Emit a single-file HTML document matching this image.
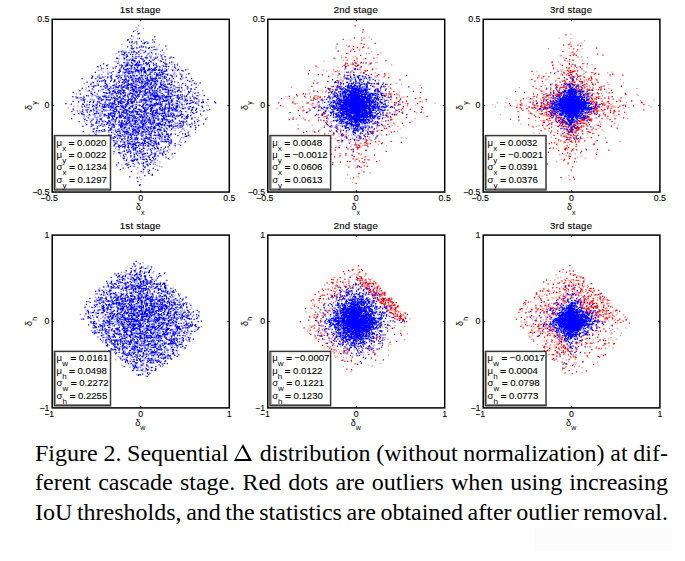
<!DOCTYPE html><html><head><meta charset="utf-8"><style>
html,body{margin:0;padding:0;background:#fff;width:685px;height:561px;overflow:hidden;position:relative}
.cap{position:absolute;left:35px;width:633px;font-family:"Liberation Serif",serif;font-size:24px;line-height:29.5px;word-spacing:-1.5px;color:#000;white-space:nowrap;text-align:justify;text-align-last:justify}
.shade{position:absolute;left:534px;top:528px;width:138px;height:23px;background:#fbfbfb}
</style></head><body>
<div class="shade"></div>
<svg width="685" height="430" viewBox="0 0 685 430" style="position:absolute;left:0;top:0" font-family='"Liberation Sans", sans-serif' fill="#000">
<path transform="scale(0.25)" stroke="#0000ff" stroke-opacity="0.45" stroke-width="5" fill="none" d="M0 0m642 388h5m-131 181h5m68 110h5m112 -292h5m-293 38h5m56 71h5m86 195h5m68 -286h5m-239 -5h5m81 202h5m38 -23h5m-43 -282h5m181 121h5m-202 41h5m156 82h5m-48 43h5m-129 -21h5m53 -344h5m251 159h5m-414 113h5m248 -126h5m-230 98h5m125 -237h5m4 -7h5m-71 296h5m200 -60h5m-122 31h5m181 -76h5m-170 131h5m-165 -99h5m37 183h5m-52 -168h5m11 -15h5m164 -100h5m-39 90h5m-125 -31h5m69 236h5m13 -14h5m-215 -180h5m158 23h5m-95 -37h5m140 30h5m64 -147h5m-122 231h5m-162 -83h5m353 -5h5m-39 60h5m-181 -96h5m210 33h5m99 18h5m-266 40h5m-191 -81h5m75 61h5m32 -62h5m196 -146h5m-327 142h5m-1 -7h5m-67 25h5m249 233h5m-50 -287h5m30 128h5m97 -247h5m157 170h5m-246 22h5m-5 -25h5m102 -42h5m-122 -126h5m28 374h5m-32 -277h5m-94 239h5m130 -11h5m39 -220h5m-155 121h5m-16 -121h5m103 77h5m-228 -9h5m173 -30h5m27 110h5m-170 -166h5m226 98h5m-94 3h5m-182 -177h5m148 -79h5m55 231h5m14 -35h5m-109 111h5m36 80h5m30 28h5m-57 -196h5m-58 -91h5m-24 253h5m109 -86h5m-86 82h5m263 -100h5m-160 25h5m-77 -167h5m102 96h5m-131 61h5m163 -2h5m-129 -324h5m-245 274h5m-7 -12h5m181 30h5m247 71h5m-131 -96h5m-68 -10h5m-43 -110h5m60 156h5m203 -48h5m-329 -170h5m251 136h5m-74 -28h5m-197 -138h5m-134 196h5m46 -111h5m48 210h5m60 -229h5m-58 195h5m138 180h5m-236 -253h5m182 -175h5m75 114h5m-149 257h5m-58 -44h5m301 -113h5m-265 101h5m142 -269h5m-71 347h5m-188 -109h5m102 -202h5m-74 -1h5m44 169h5m-67 65h5m92 -237h5m123 79h5m-77 -64h5m-80 322h5m-87 -391h5m224 329h5m35 -159h5m-82 -29h5m-252 114h5m249 -249h5m-58 117h5m-80 110h5m167 -41h5m58 -90h5m-407 106h5m285 76h5m-96 -230h5m-88 69h5m341 101h5m-151 -43h5m-197 -96h5m29 129h5m70 -213h5m-16 100h5m-22 -67h5m76 271h5m-162 24h5m99 -198h5m-10 248h5m37 -164h5m-79 116h5m-150 -199h5m121 63h5m10 -4h5m63 -236h5m-64 425h5m-61 -254h5m23 91h5m160 65h5m-16 -88h5m-39 85h5m-145 42h5m233 -29h5m-305 -107h5m269 -73h5m-50 153h5m-73 -140h5m-21 234h5m-214 -178h5m215 -247h5m-37 194h5m170 10h5m-145 -61h5m-146 47h5m103 5h5m-40 28h5m60 116h5m-80 48h5m241 -228h5m-216 115h5m10 138h5m-87 -241h5m-89 -25h5m215 179h5m-71 124h5m97 -210h5m-189 110h5m74 -71h5m-91 -38h5m98 -33h5m71 134h5m-12 108h5m-31 -187h5m-68 -34h5m91 132h5m-187 -43h5m77 -318h5m215 306h5m-121 11h5m-214 82h5m175 -118h5m112 -41h5m-109 -26h5m-24 82h5m57 -8h5m-121 214h5m-95 -157h5m179 -153h5m-49 3h5m-110 256h5m128 -412h5m-268 170h5m144 -40h5m35 115h5m13 107h5m-21 -323h5m69 62h5m-122 137h5m60 -15h5m20 53h5m-59 -342h5m-72 260h5m46 -39h5m-54 -24h5m22 49h5m133 145h5m5 -158h5m-89 -33h5m-50 70h5m-37 -40h5m318 94h5m-350 69h5m128 -262h5m77 -34h5m-186 315h5m-25 -58h5m180 -31h5m-232 17h5m-140 -103h5m227 -63h5m-117 54h5m-95 47h5m281 94h5m-244 -85h5m243 209h5m-226 -305h5m132 -55h5m-25 153h5m48 -274h5m-26 276h5m40 -75h5m28 57h5m-216 -35h5m54 180h5m-42 -1h5m147 -169h5m-95 133h5m-218 -140h5m285 85h5m-162 -48h5m87 -104h5m7 -157h5m19 344h5m81 -59h5m-75 107h5m17 -222h5m-22 179h5m-96 -248h5m215 151h5m-124 135h5m-75 -218h5m270 106h5m-330 -80h5m-76 -7h5m-17 43h5m98 168h5m63 -218h5m147 -83h5m-111 252h5m139 21h5m-229 -66h5m-134 -8h5m266 -46h5m45 -7h5m-98 -28h5m37 -14h5m-131 -32h5m-95 240h5m-90 -37h5m198 -355h5m82 126h5m-227 67h5m59 20h5m29 159h5m-151 -131h5m63 53h5m318 -109h5m-366 28h5m-74 63h5m175 2h5m132 -76h5m-134 -7h5m48 202h5m110 -163h5m-308 61h5m59 94h5m-178 -135h5m255 3h5m-80 -65h5m38 -143h5m-170 227h5m290 -124h5m-41 141h5m-59 239h5m-11 -10h5m120 -334h5m-54 96h5m-179 -201h5m62 -112h5m-32 218h5m65 -13h5m-120 208h5m-36 -150h5m63 -136h5m219 216h5m-64 21h5m-91 -348h5m-3 514h5m-20 -30h5m84 -234h5m-36 225h5m80 -235h5m-49 -57h5m-146 154h5m41 -312h5m40 131h5m-102 168h5m-56 -108h5m28 -4h5m50 168h5m-133 -165h5m79 81h5m31 9h5m-38 -147h5m182 52h5m-192 -130h5m131 231h5m-10 -92h5m-63 135h5m-90 18h5m274 -116h5m-135 -91h5m-213 75h5m209 -1h5m-37 184h5m8 -397h5m-54 424h5m-33 -116h5m80 -63h5m60 -98h5m-104 196h5m-150 -95h5m129 39h5m-120 -82h5m91 -158h5m63 250h5m-122 -225h5m75 291h5m42 -344h5m129 192h5m-67 -21h5m-142 -92h5m45 -119h5m-107 25h5m8 -87h5m6 418h5m44 -156h5m78 18h5m-145 165h5m-102 -75h5m183 -267h5m-18 246h5m-176 -11h5m-44 -122h5m145 48h5m176 50h5m-212 -78h5m118 117h5m-173 -139h5m-13 90h5m-29 -74h5m104 20h5m1 188h5m58 -264h5m-91 192h5m219 -70h5m-287 20h5m30 -136h5m41 198h5m-12 -195h5m-131 134h5m0 -70h5m-60 102h5m-2 -103h5m190 123h5m93 -189h5m54 52h5m-398 48h5m345 50h5m-144 -94h5m-85 210h5m78 -98h5m-34 -187h5m96 9h5m-50 36h5m-115 -116h5m-29 124h5m95 -141h5m-97 180h5m29 -38h5m73 173h5m-189 -45h5m50 77h5m149 -262h5m-283 123h5m354 19h5m-196 -72h5m-8 270h5m35 -242h5m282 39h5m-280 87h5m-102 -79h5m92 97h5m-67 -14h5m127 112h5m-82 -277h5m-11 4h5m-61 -27h5m-122 19h5m155 251h5m73 -173h5m-188 109h5m179 62h5m-90 -344h5m156 119h5m-296 21h5m196 108h5m77 6h5m-197 -27h5m137 -42h5m-134 -105h5m-16 183h5m-27 -108h5m254 185h5m-146 -6h5m72 -266h5m-173 135h5m225 62h5m-90 -124h5m10 -55h5m-39 242h5m-68 -253h5m29 -50h5m221 143h5m-494 43h5m221 -116h5m66 20h5m53 56h5m-303 124h5m340 -33h5m33 -50h5m-95 -94h5m-80 11h5m-242 78h5m117 24h5m171 124h5m107 -216h5m-166 -60h5m82 195h5m-217 -46h5m178 -72h5m-184 67h5m-132 15h5m20 -39h5m249 39h5m-75 -129h5m-3 -12h5m155 -23h5m-137 86h5m-62 -18h5m81 170h5m-98 -187h5m181 17h5m-262 99h5m51 -34h5m141 39h5m-67 -85h5m-15 132h5m14 -104h5m175 -87h5m-407 127h5m246 20h5m77 -120h5m-127 65h5m68 -29h5m-263 38h5m62 170h5m207 -230h5m-164 139h5m107 -204h5m-167 169h5m46 -146h5m-80 -124h5m221 123h5m-66 -45h5m-263 14h5m149 -37h5m69 357h5m-38 -277h5m-91 118h5m-76 3h5m158 -228h5m52 54h5m-50 352h5m-189 -223h5m95 170h5m12 62h5m152 -252h5m83 103h5m-47 55h5m-224 20h5m146 -234h5m-210 4h5m169 59h5m-161 161h5m131 -201h5m-70 217h5m155 -194h5m-141 209h5m-160 -143h5m295 -73h5m-205 9h5m-53 -55h5m108 -28h5m162 92h5m-241 13h5m130 -36h5m-161 138h5m-81 -126h5m180 121h5m-125 -218h5m-92 83h5m114 52h5m-88 3h5m-53 -18h5m234 -119h5m-85 8h5m1 197h5m126 64h5m-293 -55h5m387 -111h5m-251 -170h5m57 212h5m-78 -192h5m-21 215h5m41 135h5m-57 -312h5m202 -1h5m-128 3h5m20 194h5m-104 -46h5m93 213h5m-37 -148h5m-88 -204h5m83 374h5m-72 -191h5m97 -155h5m13 234h5m-8 93h5m-63 -309h5m-95 23h5m101 -82h5m-155 84h5m161 26h5m-109 165h5m-126 -38h5m164 131h5m72 -285h5m2 250h5m-181 -165h5m-101 -93h5m307 -10h5m-168 156h5m45 -318h5m-22 339h5m274 -86h5m-223 42h5m29 53h5m-182 -89h5m225 70h5m76 -12h5m-318 -26h5m112 -11h5m-175 20h5m208 150h5m-162 -140h5m70 136h5m-43 -257h5m92 -62h5m146 99h5m-64 133h5m-24 53h5m-144 -324h5m183 185h5m-123 11h5m-251 -125h5m194 -71h5m0 -68h5m36 432h5m-25 -194h5m-63 -124h5m175 57h5m-242 72h5m89 20h5m-140 13h5m123 45h5m-11 -247h5m26 367h5m-76 -193h5m53 47h5m-157 -116h5m80 -26h5m32 202h5m-67 -30h5m-27 -21h5m278 9h5m-212 -218h5m-77 150h5m205 140h5m-223 -68h5m-134 -136h5m280 24h5m-16 -49h5m-21 -133h5m15 421h5m87 -276h5m-34 287h5m-133 -304h5m136 -22h5m104 157h5m-311 -49h5m47 107h5m105 -84h5m-186 -80h5m175 180h5m-202 -182h5m209 6h5m-8 268h5m-11 -270h5m75 183h5m-310 -80h5m318 -138h5m-17 29h5m-196 116h5m77 -288h5m-114 174h5m115 -233h5m-128 269h5m-28 152h5m-121 -129h5m260 176h5m4 -299h5m16 -41h5m-167 257h5m-20 -173h5m140 -141h5m-10 46h5m44 270h5m6 -108h5m-386 -12h5m27 -1h5m63 105h5m121 81h5m-61 -362h5m19 254h5m55 -16h5m81 18h5m-274 -201h5m268 198h5m-32 115h5m-214 -215h5m153 -53h5m51 -179h5m-229 151h5m-89 124h5m397 14h5m-144 39h5m17 -222h5m-110 190h5m-78 -21h5m138 128h5m116 -270h5m-125 209h5m-29 -39h5m-28 -168h5m60 291h5m83 -132h5m-158 -75h5m-69 56h5m55 109h5m67 -269h5m108 134h5m-117 71h5m39 -53h5m-23 14h5m36 -177h5m-187 85h5m42 77h5m19 90h5m-43 -26h5m71 63h5m62 -164h5m-21 -62h5m-33 185h5m-29 -123h5m-119 96h5m8 -117h5m41 130h5m25 164h5m18 -557h5m161 281h5m-353 127h5m224 -26h5m-6 -130h5m24 48h5m-214 19h5m251 -86h5m9 98h5m-277 30h5m-37 50h5m250 18h5m-195 -5h5m44 -132h5m-168 -44h5m354 43h5m-89 71h5m66 -54h5m-106 182h5m122 -183h5m-345 -47h5m4 118h5m99 -54h5m-93 -41h5m182 115h5m25 -37h5m39 -124h5m5 28h5m-57 -83h5m-162 23h5m-8 151h5m281 -176h5m-112 243h5m55 -118h5m-188 -68h5m59 133h5m-3 -114h5m-77 128h5m72 -41h5m-64 33h5m-208 -154h5m311 -20h5m-147 197h5m212 -4h5m-210 -2h5m26 -117h5m129 64h5m-85 -27h5m-242 89h5m245 -122h5m-159 26h5m189 -192h5m-28 44h5m-79 107h5m30 34h5m-151 -40h5m181 231h5m105 -100h5m-219 -257h5m139 241h5m-225 -6h5m51 112h5m18 -131h5m-9 177h5m39 -126h5m-45 -40h5m-127 -165h5m-75 157h5m164 -173h5m144 217h5m-298 -181h5m218 265h5m144 -196h5m-145 120h5m-35 -357h5m-81 290h5m39 57h5m80 -245h5m-1 111h5m5 28h5m-196 105h5m95 49h5m42 123h5m-87 -167h5m-112 -29h5m89 62h5m116 134h5m-239 -228h5m230 60h5m-94 -190h5m108 11h5m-32 199h5m-164 -107h5m120 -201h5m-74 227h5m3 132h5m77 -115h5m-53 -263h5m-65 307h5m163 -314h5m55 114h5m-22 153h5m-329 67h5m47 -239h5m223 115h5m108 6h5m-198 72h5m-152 -83h5m243 -29h5m-119 156h5m-229 -123h5m343 -102h5m-310 32h5m83 56h5m52 139h5m-36 -107h5m-69 -11h5m59 65h5m189 -11h5m-1 27h5m4 -115h5m-169 127h5m10 -163h5m-151 103h5m165 52h5m31 -191h5m-204 76h5m123 -72h5m-34 0h5m67 198h5m-194 -84h5m134 75h5m37 103h5m-54 -14h5m-68 -74h5m103 -182h5m125 181h5m-43 -12h5m-137 90h5m6 -276h5m45 117h5m72 20h5m-65 160h5m-13 -268h5m-160 160h5m-72 -109h5m173 7h5m19 62h5m-60 -65h5m242 8h5m-401 46h5m93 -21h5m35 -144h5m80 293h5m105 -172h5m-154 255h5m153 -239h5m-183 86h5m100 33h5m-321 -185h5m409 10h5m-123 -8h5m107 -84h5m-201 -21h5m131 10h5m-184 129h5m106 -55h5m-89 295h5m68 -156h5m-108 152h5m175 -295h5m-215 137h5m149 -256h5m-39 -10h5m-87 323h5m-64 -145h5m195 56h5m-2 29h5m-94 -268h5m1 105h5m-76 38h5m144 157h5m-63 -32h5m23 -138h5m-18 167h5m11 -100h5m-143 26h5m100 -21h5m43 104h5m-57 88h5m215 -152h5m-216 1h5m-49 209h5m-80 -303h5m243 74h5m-152 199h5m-60 -314h5m113 79h5m-137 103h5m116 -125h5m59 73h5m-165 225h5m-93 -198h5m125 -108h5m-89 213h5m-119 -46h5m78 -142h5m170 26h5m-125 -105h5m188 84h5m-56 -124h5m46 198h5m-101 15h5m-57 -71h5m-65 -132h5m14 148h5m71 62h5m-87 74h5m40 -39h5m-118 -141h5m138 -82h5m46 29h5m57 24h5m-178 186h5m-28 -129h5m72 -101h5m-4 124h5m-99 -198h5m100 203h5m-144 -89h5m108 16h5m-268 61h5m143 -177h5m76 227h5m-15 -142h5m80 -101h5m-117 288h5m109 63h5m11 -281h5m-197 131h5m28 72h5m7 -127h5m208 -82h5m-140 186h5m92 83h5m-85 -248h5m85 204h5m-111 -190h5m-54 49h5m194 -97h5m-2 249h5m-177 -8h5m71 -55h5m-203 -54h5m72 -62h5m33 127h5m88 -172h5m-156 16h5m56 -1h5m168 184h5m-83 -95h5m-63 35h5m184 25h5m-284 34h5m295 -57h5m-226 -142h5m192 154h5m-45 50h5m-273 -31h5m52 34h5m171 -25h5m31 -148h5m-95 -45h5m-95 75h5m-31 -75h5m94 42h5m-39 -101h5m31 128h5m30 195h5m-143 -97h5m90 125h5m106 -138h5m-313 49h5m202 8h5m-67 -19h5m144 -18h5m-152 73h5m108 -144h5m-184 78h5m209 -37h5m-100 -120h5m25 204h5m-268 -52h5m120 -170h5m-26 167h5m-32 49h5m126 -238h5m-81 325h5m-65 12h5m90 -4h5m-18 -154h5m33 72h5m2 -64h5m11 -207h5m-109 -8h5m148 280h5m7 -52h5m-31 73h5m-92 -99h5m218 -22h5m-33 -96h5m-262 205h5m184 -37h5m-42 -158h5m19 24h5m9 170h5m-42 -226h5m25 224h5m-176 -268h5m34 324h5m69 -86h5m-147 -133h5m165 11h5m-169 226h5m24 -203h5m86 218h5m-176 -222h5m267 -35h5m-78 249h5m-42 -218h5m90 163h5m-4 -208h5m-104 89h5m-100 55h5m295 -51h5m-183 0h5m34 -63h5m60 64h5m-113 77h5m18 -3h5m-158 -212h5m49 -135h5m-89 201h5m311 170h5m-232 -41h5m200 -114h5m-206 -219h5m76 202h5m-185 33h5m44 -13h5m149 24h5m-54 47h5m89 -89h5m-311 87h5m42 -33h5m187 144h5m-20 -46h5m-51 -157h5m164 147h5m-176 -23h5m-74 -195h5m187 100h5m-209 -163h5m26 366h5m18 -52h5m177 -89h5m-158 -6h5m-24 -26h5m37 122h5m12 -73h5m-115 -37h5m185 -1h5m-73 -47h5m69 -65h5m35 241h5m-164 -274h5m-187 125h5m216 -49h5m-11 123h5m-2 144h5m-106 -133h5m43 15h5m95 -261h5m-30 204h5m56 72h5m-40 -223h5m29 118h5m-63 -25h5m-146 131h5m-9 5h5m246 -142h5m-80 79h5m-90 112h5m-63 -34h5m-35 -133h5m69 -127h5m-189 62h5m214 265h5m-86 -342h5m45 222h5m122 -199h5m-273 155h5m115 22h5m-65 -277h5m96 46h5m-75 30h5m162 262h5m6 -58h5m-138 -233h5m-110 102h5m34 278h5m-21 -51h5m-112 -250h5m349 66h5m-205 171h5m56 -67h5m16 45h5m-5 3h5m78 -60h5m-160 3h5m-6 142h5m11 -119h5m4 -34h5m35 -91h5m25 171h5m-236 -60h5m25 -140h5m168 -12h5m31 -109h5m2 247h5m-260 -102h5m124 -27h5m85 23h5m-60 116h5m-52 -232h5m-132 182h5m184 44h5m-144 -103h5m293 9h5m-100 43h5m-224 8h5m47 -78h5m38 -93h5m44 4h5m-155 171h5m173 118h5m14 -270h5m-167 128h5m94 -21h5m-162 49h5m99 -19h5m83 -22h5m109 -29h5m-73 212h5m-146 -2h5m9 -296h5m116 93h5m-87 -28h5m120 84h5m-142 52h5m64 78h5m9 -117h5m-57 -4h5m-110 99h5m205 -292h5m-73 -37h5m50 132h5m-179 187h5m118 -209h5m-256 138h5m353 -5h5m-148 -369h5m-32 382h5m-69 -143h5m151 183h5m-131 -190h5m245 76h5m-8 -8h5m0 -104h5m-22 198h5m-200 105h5m49 -211h5m67 -116h5m-130 37h5m33 270h5m-37 -84h5m154 -8h5m-97 -287h5m-139 396h5m-61 -182h5m239 91h5m-69 -20h5m-63 -181h5m39 157h5m-16 -65h5m-12 61h5m51 -134h5m-127 -32h5m144 206h5m34 -180h5m-211 212h5m45 -242h5m105 43h5m-93 -114h5m-26 349h5m138 -180h5m-119 95h5m23 -140h5m10 62h5m78 75h5m-87 -9h5m-60 140h5m166 -119h5m-88 -40h5m-242 131h5m199 -262h5m119 -5h5m-161 52h5m159 96h5m-284 5h5m170 101h5m47 -199h5m-249 114h5m-14 -61h5m133 -111h5m-73 -51h5m180 230h5m-92 39h5m21 76h5m-199 -53h5m190 -190h5m-241 -59h5m-48 112h5m297 22h5m-155 118h5m37 24h5m39 -201h5m30 -104h5m-16 147h5m-75 -160h5m-45 37h5m-16 56h5m255 117h5m-203 19h5m-136 -75h5m146 -176h5m-44 212h5m136 157h5m-209 -216h5m333 69h5m-234 -31h5m-265 -40h5m255 78h5m48 49h5m-174 46h5m118 -122h5m-70 -288h5m-40 392h5m70 -13h5m228 -52h5m-281 -39h5m-39 27h5m-89 122h5m45 -183h5m229 -86h5m-328 86h5m37 32h5m201 67h5m1 -49h5m54 82h5m-265 -252h5m43 196h5m37 -271h5m-7 114h5m-22 102h5m-53 -56h5m109 110h5m163 -37h5m-101 204h5m29 -270h5m30 248h5m-215 -264h5m134 158h5m-114 -75h5m219 104h5m-224 22h5m131 -86h5m-107 -50h5m14 180h5m-64 -114h5m226 -26h5m-106 -84h5m-178 46h5m-132 34h5m180 167h5m83 -188h5m-46 -48h5m-198 21h5m127 52h5m25 112h5m-59 70h5m112 -277h5m-210 73h5m199 71h5m-160 -51h5m59 81h5m129 -183h5m-173 -68h5m129 107h5m-76 85h5m179 -43h5m-342 26h5m101 -47h5m-71 -119h5m52 189h5m32 138h5m8 -364h5m-36 222h5m-21 -41h5m34 53h5m181 -115h5m-63 -185h5m-95 49h5m-151 196h5m32 124h5m210 -152h5m10 -32h5m79 10h5m-105 9h5m-182 -179h5m-15 76h5m-126 62h5m111 -152h5m-22 274h5m134 -17h5m-105 -105h5m26 -77h5m-26 49h5m87 -28h5m93 177h5m82 -79h5m-212 -78h5m188 71h5m-187 117h5m-137 -203h5m109 51h5m-105 -129h5m178 83h5m-106 177h5m-8 22h5m189 -145h5m-67 -106h5m-300 195h5m111 -125h5m-28 126h5m43 -134h5m-74 143h5m47 124h5m76 -25h5m111 -85h5m-200 -135h5m113 -83h5m-260 122h5m388 -31h5m-307 -77h5m135 60h5m16 223h5m-95 -452h5m-58 94h5m99 95h5m-152 129h5m32 -134h5m200 153h5m-171 -25h5m94 -88h5m-236 208h5m167 -210h5m-69 83h5m6 100h5m108 31h5m-146 -67h5m38 -78h5m152 1h5m-98 66h5m-3 -76h5m20 253h5m-101 -217h5m-48 -98h5m-134 86h5m228 -79h5m-291 91h5m244 -222h5m6 142h5m-43 49h5m56 22h5m-203 129h5m213 -224h5m-101 235h5m122 -175h5m-128 -116h5m-77 298h5m35 -213h5m91 232h5m72 -54h5m-37 -71h5m103 -108h5m-233 85h5m144 -243h5m20 279h5m-37 118h5m-129 -224h5m98 -11h5m-66 185h5m-63 -118h5m146 123h5m-120 -287h5m160 240h5m-103 30h5m8 -61h5m-108 -232h5m15 166h5m139 -38h5m41 -36h5m-222 99h5m113 92h5m-176 -11h5m111 -307h5m166 275h5m-157 52h5m-183 -67h5m84 -147h5m138 149h5m-96 54h5m-68 95h5m156 -138h5m-121 -175h5m112 112h5m-279 102h5m262 -180h5m-89 -24h5m-41 100h5m174 159h5m-15 -174h5m-28 23h5m54 127h5m-228 -327h5m154 77h5m-24 74h5m-42 -68h5m2 -74h5m3 94h5m-161 8h5m238 165h5m-105 -150h5m-136 -22h5m54 84h5m152 12h5m-14 124h5m-233 -22h5m-87 -107h5m103 91h5m6 -105h5m51 -10h5m-216 -16h5m454 85h5m-340 -5h5m217 135h5m-198 -45h5m20 -182h5m-80 87h5m185 -267h5m68 285h5m-58 -127h5m-57 23h5m-172 88h5m266 -40h5m-203 236h5m157 -253h5m-207 -131h5m135 218h5m37 -204h5m-86 -14h5m-2 301h5m105 -155h5m-193 -242h5m218 333h5m-110 -150h5m-34 2h5m2 -35h5m-51 -11h5m0 69h5m190 136h5m-226 -28h5m-130 -152h5m293 136h5m-161 7h5m-39 26h5m-231 -78h5m383 118h5m-44 -223h5m-60 -127h5m80 179h5m-181 230h5m144 -296h5m-168 280h5m-29 9h5m133 -73h5m-105 -241h5m9 146h5m-30 36h5m50 -269h5m251 203h5m-111 61h5m49 -50h5m-93 119h5m-280 -27h5m255 109h5m-102 -32h5m-65 -152h5m67 -54h5m48 22h5m-74 -31h5m145 168h5m-48 -68h5m-93 -133h5m3 22h5m172 74h5m-247 62h5m62 19h5m-103 -81h5m114 151h5m173 -191h5m-167 -62h5m83 265h5m-154 -316h5m-5 329h5m8 -376h5m26 325h5m-13 -256h5m-28 100h5m76 -51h5m-38 261h5m64 -165h5m-46 6h5m-96 40h5m-97 -205h5m-64 172h5m29 -147h5m161 -28h5m-26 363h5m-122 -176h5m52 -269h5m10 301h5m125 -76h5m-88 -66h5m-164 31h5m229 212h5m77 -241h5m-49 174h5m-171 -154h5m-52 24h5m159 -10h5m66 106h5m-388 -128h5m331 -70h5m-103 194h5m216 -172h5m-142 -36h5m-17 95h5m29 -110h5m-170 247h5m66 -315h5m-36 342h5m164 -197h5m-122 157h5m28 -109h5m-67 135h5m-49 -10h5m-1 -103h5m281 -11h5m-257 -67h5m-166 123h5m13 -164h5m53 183h5m-152 -40h5m161 114h5m91 -214h5m33 -178h5m73 89h5m-260 114h5m-22 111h5m146 -224h5m-69 318h5m99 -189h5m-150 -33h5m207 61h5m-68 -108h5m-5 126h5m-195 70h5m386 -142h5m-239 110h5m-201 -37h5m284 -44h5m-98 138h5m252 -106h5m-469 -40h5m286 -134h5m-13 85h5m-155 232h5m-43 -260h5m69 -139h5m185 346h5m-208 78h5m55 -46h5m125 -203h5m-256 200h5m60 -199h5m0 250h5m52 -64h5m-127 -170h5m119 267h5m180 -156h5m-350 -59h5m-70 -15h5m108 26h5m57 90h5m-126 -50h5m227 29h5m-117 95h5m63 -153h5m-14 -58h5m-46 -24h5m63 171h5m-181 -78h5m123 23h5m86 -145h5m-102 51h5m10 26h5m73 18h5m-8 -32h5m3 -110h5m-168 282h5m12 9h5m91 -232h5m-36 238h5m9 -348h5m-117 100h5m127 146h5m-237 -189h5m14 -7h5m56 -23h5m95 291h5m62 70h5m-106 -38h5m29 -151h5m107 -58h5m-169 168h5m17 -100h5m245 -50h5m-355 155h5m217 -192h5m-182 261h5m216 -352h5m-125 345h5m-25 -202h5m-233 96h5m407 32h5m-202 -175h5m117 286h5m-54 -242h5m1 107h5m72 -82h5m-127 -81h5m-32 -48h5m98 173h5m-229 -12h5m382 -11h5m-89 -25h5m-135 2h5m-128 -190h5m-99 228h5m328 27h5m-169 60h5m-63 111h5m-36 -185h5m164 87h5m-146 -32h5m236 -56h5m-295 -63h5m-99 -61h5m36 70h5m124 45h5m162 -20h5m-78 -16h5m44 -53h5m-171 4h5m11 93h5m-133 -27h5m-25 -60h5m136 141h5m185 -102h5m-86 -103h5m-145 21h5m48 -77h5m9 192h5m-63 -216h5m-115 304h5m298 -130h5m-242 -2h5m117 -81h5m-244 159h5m56 17h5m178 -40h5m-22 -54h5m4 128h5m-133 -190h5m197 -127h5m-23 241h5m-26 26h5m108 1h5m-230 -112h5m8 91h5m-3 -224h5m274 234h5m-180 83h5m70 -124h5m-128 -252h5m-38 100h5m-173 99h5m304 53h5m22 -86h5m-76 243h5m-260 -135h5m207 -198h5m-62 42h5m211 241h5m-144 -76h5m-14 -136h5m31 186h5m-25 -42h5m-123 -128h5m-116 123h5m317 -53h5m-182 -35h5m188 119h5m-274 21h5m155 -189h5m46 195h5m-136 -96h5m-98 4h5m321 -5h5m-229 -322h5m-53 395h5m49 49h5m-159 -254h5m327 89h5m-122 72h5m-215 -20h5m84 -48h5m131 43h5m-84 -121h5m63 152h5m-65 -210h5m36 84h5m48 153h5m35 20h5m-183 48h5m-183 -88h5m120 64h5m87 -128h5m-167 5h5m250 -41h5m-34 281h5m-136 -306h5m125 146h5m17 -91h5m-165 77h5m279 -93h5m-311 33h5m17 114h5m-47 -60h5m228 -158h5m-126 200h5m-166 -45h5m-52 -46h5m146 1h5m232 -108h5m-192 192h5m15 -109h5m-141 25h5m94 -26h5m-98 95h5m246 8h5m-208 -49h5m113 -172h5m-90 48h5m-55 130h5m168 -137h5m-231 -25h5m140 28h5m-63 227h5m-33 -56h5m148 129h5m31 -224h5m-225 -95h5m83 172h5m45 71h5m-35 -65h5m49 99h5m25 -215h5m-99 -4h5m77 177h5m-105 -247h5m-101 54h5m245 21h5m-80 -24h5m-210 -13h5m312 101h5m-8 67h5m-309 -39h5m158 79h5m221 -129h5m-229 96h5m-172 -110h5m337 171h5m-207 -224h5m-117 58h5m201 50h5m-187 -89h5m139 -47h5m105 123h5m-169 4h5m29 98h5m-92 -204h5m42 25h5m103 126h5m-181 -110h5m-20 -81h5m97 65h5m-21 247h5m11 -80h5m-135 -126h5m258 57h5m-227 -143h5m236 197h5m-164 -65h5m89 98h5m-132 -18h5m80 -108h5m-131 -74h5m-117 80h5m107 26h5m-57 -74h5m129 40h5m-27 112h5m-77 -191h5m-129 108h5m292 135h5m-87 -458h5m145 396h5m-136 20h5m84 -104h5m-336 9h5m242 -96h5m10 1h5m-184 100h5m320 63h5m-255 -121h5m-57 47h5m30 1h5m239 -38h5m-104 -8h5m-83 269h5m184 -204h5m-171 -215h5m-102 204h5m-29 -116h5m58 -75h5m63 276h5m-138 -53h5m56 -159h5m295 75h5m-323 201h5m70 -87h5m-23 -365h5m-104 212h5m76 134h5m54 -247h5m-51 399h5m-44 -115h5m-6 -91h5m200 58h5m-109 -80h5m-44 -59h5m110 117h5m-147 -114h5m16 87h5m15 -258h5m-200 310h5m200 -297h5m22 153h5m76 -12h5m-12 115h5m-92 60h5m-11 -111h5m-45 109h5m70 -160h5m76 24h5m-145 273h5m24 -316h5m2 68h5m-23 -5h5m-1 235h5m62 -204h5m-87 40h5"/>
<path transform="scale(0.25)" stroke="#0000ff" stroke-width="5" fill="none" d="M0 0m638 348h5m-21 220h5m-51 -131h5m-41 94h5m-15 -10h5m78 -60h5m-136 -190h5m15 -8h5m-6 355h5m-3 -178h5m82 -107h5m-65 310h5m-139 -318h5m120 302h5m165 -313h5m-139 35h5m-105 18h5m287 91h5m-128 -73h5m-37 -25h5m-183 69h5m129 222h5m139 -309h5m-121 232h5m13 108h5m85 -242h5m-148 42h5m-28 131h5m54 -31h5m98 -130h5m-350 26h5m157 -53h5m-48 -10h5m12 -90h5m77 83h5m113 7h5m-54 160h5m-196 -108h5m-42 -60h5m299 67h5m-128 87h5m-30 -354h5m-14 94h5m120 -2h5m-135 192h5m-128 8h5m16 -129h5m218 -106h5m56 116h5m-215 89h5m90 -280h5m-94 241h5m150 5h5m13 -155h5m-219 10h5m133 285h5m8 -198h5m167 -46h5m-116 48h5m-62 244h5m-137 -295h5m47 242h5m-13 -17h5m-46 -240h5m-160 15h5m293 170h5m-258 -158h5m203 148h5m-237 -177h5m223 163h5m236 -37h5m-268 190h5m-33 -415h5m-110 215h5m204 -32h5m-105 -143h5m-183 78h5m70 65h5m363 48h5m-248 117h5m15 65h5m84 -240h5m-143 142h5m-106 -223h5m173 93h5m-42 -143h5m-149 206h5m132 -218h5m7 89h5m47 -88h5m-133 306h5m240 -135h5m-108 -121h5m-103 -140h5m9 327h5m-104 -68h5m-54 28h5m82 -29h5m88 -79h5m-5 19h5m-32 -141h5m-161 199h5m132 194h5m-104 -283h5m85 5h5m164 83h5m-91 -10h5m-14 155h5m-30 -129h5m-216 62h5m188 -108h5m14 -16h5m-6 -121h5m-125 341h5m131 -197h5m-132 173h5m214 -132h5m-215 -209h5m33 171h5m122 91h5m-3 86h5m-63 -317h5m53 152h5m117 -51h5m-257 -108h5m149 163h5m-150 65h5m-78 0h5m166 75h5m-147 88h5m110 -392h5m-142 370h5m175 -208h5m7 -1h5m-78 79h5m-43 -220h5m-87 49h5m125 225h5m-67 -87h5m-55 18h5m146 53h5m-236 -13h5m151 27h5m86 -278h5m-90 424h5m-141 -193h5m186 -42h5m-31 36h5m-227 -190h5m101 170h5m58 94h5m116 -106h5m29 -16h5m-344 -57h5m140 -118h5m30 112h5m-194 90h5m364 -2h5m-5 -10h5m-47 12h5m-192 118h5m146 -137h5m-66 -83h5m22 153h5m-121 17h5m114 99h5m-106 -155h5m-10 2h5m155 8h5m-231 -160h5m170 64h5m-70 -64h5m-73 33h5m109 -58h5m-1 308h5m-114 -237h5m-48 23h5m33 17h5m-17 179h5m73 -325h5m27 203h5m167 -71h5m-94 -13h5m-131 192h5m-11 -243h5m34 342h5m-153 -271h5m273 14h5m49 -1h5m-337 59h5m138 -38h5m-160 -16h5m225 -65h5m37 90h5m-33 -6h5m-152 162h5m32 -70h5m141 -172h5m-118 170h5m-41 -78h5m61 -250h5m-54 409h5m119 -138h5m-129 24h5m-131 -145h5m145 -21h5m-32 73h5m-30 -6h5m-113 99h5m0 7h5m111 11h5m-49 -58h5m-221 -48h5m374 130h5m-155 -163h5m-27 183h5m6 -215h5m213 126h5m-147 47h5m118 -122h5m-274 -24h5m169 -105h5m-83 355h5m-30 -138h5m143 -166h5m-236 33h5m171 150h5m-12 -236h5m-59 21h5m159 146h5m59 -105h5m-370 80h5m101 149h5m-19 -25h5m127 -228h5m-69 128h5m31 -181h5m-232 271h5m151 -108h5m-74 115h5m116 -114h5m-133 -19h5m158 120h5m71 -51h5m-333 37h5m121 -4h5m36 -190h5m7 64h5m70 204h5m-227 -148h5m213 19h5m77 -173h5m-85 238h5m18 -175h5m-133 198h5m9 -288h5m-74 154h5m27 -36h5m-54 40h5m110 -115h5m-49 50h5m217 100h5m-182 24h5m91 -115h5m-140 -175h5m-91 127h5m32 231h5m50 -118h5m182 16h5m-90 -85h5m-83 -36h5m59 79h5m-100 50h5m-60 -33h5m88 113h5m-2 -162h5m-35 8h5m102 -58h5m-128 143h5m147 22h5m-164 -20h5m15 -137h5m-34 -58h5m-27 40h5m15 344h5m73 -398h5m-112 100h5m150 -25h5m80 132h5m12 17h5m-249 65h5m202 -93h5m-179 92h5m28 3h5m-42 -241h5m-50 198h5m305 -75h5m-270 86h5m59 -165h5m-160 55h5m217 14h5m28 -31h5m35 174h5m-172 -110h5m93 -94h5m70 13h5m28 -30h5m-115 133h5m66 -68h5m-197 48h5m185 -68h5m-81 111h5m-28 -100h5m-202 52h5m27 -4h5m147 -59h5m-57 -107h5m-44 380h5m96 -206h5m-238 -85h5m177 265h5m-6 -300h5m202 51h5m-131 130h5m-14 -78h5m-32 3h5m159 -18h5m-241 100h5m-77 82h5m-40 -98h5m196 -138h5m-171 -8h5m28 165h5m252 -20h5m-390 -78h5m322 59h5m87 37h5m-298 -13h5m22 -195h5m67 -38h5m16 202h5m-125 49h5m181 127h5m-78 -314h5m-17 -6h5m-5 255h5m90 -230h5m35 163h5m-39 -98h5m4 -23h5m-11 127h5m85 -96h5m-460 42h5m183 -21h5m102 -114h5m-86 76h5m62 58h5m-108 -175h5m130 215h5m-8 -203h5m-160 277h5m-6 -206h5m52 265h5m175 -235h5m-195 54h5m106 -77h5m-153 -8h5m35 -125h5m245 282h5m-274 -359h5m149 379h5m-350 -161h5m416 190h5m-241 -31h5m-4 -296h5m88 418h5m83 -350h5m-28 82h5m-56 120h5m45 119h5m-184 -133h5m160 -65h5m-292 57h5m302 -7h5m-15 -1h5m-116 158h5m-65 -320h5m137 162h5m-30 -49h5m-205 -106h5m92 173h5m222 -63h5m-289 30h5m29 -75h5m11 45h5m-6 17h5m-24 139h5m38 -298h5m-28 -84h5m165 270h5m-51 35h5m-82 78h5m3 -210h5m161 -21h5m-218 295h5m14 -392h5m92 155h5m-60 29h5m107 54h5m-130 11h5m66 -130h5m-80 73h5m138 -91h5m-71 -86h5m-232 34h5m192 -33h5m-153 229h5m99 -62h5m41 184h5m193 -226h5m-321 -14h5m258 7h5m-247 42h5m-1 11h5m-177 -50h5m377 -4h5m-140 84h5m-112 45h5m-91 -104h5m49 -9h5m137 82h5m-2 -38h5m7 71h5m38 14h5m-76 79h5m-5 -151h5m44 21h5m-83 -90h5m-48 -39h5m172 14h5m-98 239h5m15 -160h5m9 -140h5m-144 -32h5m61 3h5m26 -9h5m-53 108h5m143 -23h5m-70 340h5m-190 -366h5m232 223h5m-246 -34h5m301 -39h5m-200 -267h5m-59 280h5m93 94h5m-159 -134h5m46 -53h5m200 170h5m-292 -168h5m177 -136h5m90 47h5m-129 48h5m-10 253h5m242 -170h5m-526 -35h5m300 113h5m-203 -150h5m205 -208h5m-13 261h5m145 63h5m-134 81h5m-20 -91h5m209 -113h5m-265 146h5m-24 -166h5m-115 -4h5m312 -50h5m-149 275h5m229 -142h5m-302 155h5m12 -8h5m-25 -351h5m71 290h5m66 -205h5m-144 150h5m11 -335h5m-169 180h5m147 156h5m90 128h5m-95 -255h5m-34 150h5m81 -32h5m59 -69h5m-69 154h5m-161 -48h5m38 -236h5m65 219h5m6 -213h5m-21 132h5m-225 95h5m202 136h5m11 -380h5m-57 154h5m129 56h5m-248 2h5m-10 72h5m312 -244h5m51 134h5m-211 27h5m71 -162h5m-32 364h5m38 -181h5m-24 89h5m-131 -58h5m127 -348h5m49 220h5m-16 -128h5m-89 99h5m-40 221h5m-95 -196h5m196 108h5m-101 -283h5m114 256h5m-83 193h5m-120 -127h5m21 -323h5m49 297h5m-38 -62h5m12 31h5m51 110h5m249 -156h5m-312 319h5m-62 -318h5m179 173h5m-120 -225h5m55 -158h5m-84 292h5m49 -215h5m-168 314h5m176 -265h5m-165 124h5m92 -64h5m-45 24h5m-23 -39h5m72 -52h5m45 132h5m-77 172h5m126 -228h5m-333 -10h5m350 -1h5m-95 100h5m-200 68h5m88 -277h5m181 -1h5m-24 28h5m66 -5h5m-276 78h5m124 49h5m-87 223h5m-49 -219h5m121 -59h5m-1 160h5m40 -243h5m-2 13h5m39 125h5m-197 69h5m225 -108h5m-244 -165h5m194 195h5m-121 105h5m-107 39h5m-43 -91h5m85 -208h5m-16 58h5m-27 -58h5m159 99h5m-89 -36h5m14 206h5m-186 -156h5m105 33h5m25 169h5m-96 -165h5m95 -11h5m121 -30h5m-119 72h5m-163 -178h5m3 138h5m120 -87h5m39 -38h5m-16 300h5m78 -66h5m-112 -206h5m-70 -74h5m38 256h5m106 -94h5m45 112h5m-98 13h5m28 22h5m64 -109h5m-207 -188h5m-155 203h5m288 5h5m-50 -108h5m-93 8h5m-33 -114h5m79 52h5m-37 -4h5m-20 312h5m70 -145h5m129 -64h5m-265 14h5m18 133h5m98 -9h5m-118 46h5m32 -225h5m79 19h5m56 124h5m-109 11h5m-41 78h5m63 -254h5m18 196h5m30 -160h5m-291 186h5m261 -299h5m-18 207h5m-31 158h5m-77 -146h5m84 36h5m67 -65h5m-161 105h5m-161 -226h5m87 96h5m52 115h5m40 -79h5m174 -19h5m-195 21h5m-42 -99h5m-75 229h5m184 34h5m-132 53h5m-74 -225h5m56 -41h5m30 -83h5m-15 251h5m-20 -18h5m151 -317h5m87 198h5m-211 -246h5m93 272h5m2 -120h5m-196 -76h5m72 161h5m38 154h5m126 -88h5m-171 -90h5m-39 83h5m94 -179h5m-249 146h5m144 127h5m105 -292h5m10 147h5m-211 24h5m20 -111h5m14 41h5m94 -104h5m-26 225h5m-86 -96h5m148 92h5m-120 32h5m35 46h5m5 -372h5m-62 -13h5m-26 125h5m46 -2h5m-92 68h5m10 25h5m22 163h5m169 -164h5m-47 -111h5m-81 -15h5m-2 230h5m-70 -74h5m-32 13h5m215 10h5m-88 -40h5m-28 -120h5m-87 -27h5m227 271h5m-266 -142h5m125 -244h5m-235 382h5m270 -186h5m8 -31h5m-133 160h5m115 -56h5m-20 -12h5m-54 133h5m-53 -21h5m-57 -237h5m37 173h5m-128 -37h5m93 -86h5m95 128h5m-15 -131h5m-67 43h5m136 4h5m-125 -18h5m61 19h5m-29 -50h5m-55 245h5m-120 -81h5m31 -74h5m0 107h5m163 -301h5m-262 76h5m233 109h5m-177 48h5m37 122h5m71 29h5m-24 -289h5m-6 -101h5m-79 452h5m168 -429h5m67 102h5m-204 -182h5m-8 302h5m97 113h5m-128 -257h5m175 59h5m-108 -18h5m-74 -45h5m-53 95h5m121 -82h5m-1 175h5m-21 -48h5m5 -61h5m-32 67h5m-192 -59h5m232 -50h5m-113 58h5m209 -25h5m-162 73h5m37 -40h5m122 -9h5m-124 -43h5m-56 -125h5m67 137h5m149 -51h5m-233 102h5m22 -145h5m-35 166h5m27 177h5m-43 -460h5m61 77h5m-89 143h5m-220 12h5m379 -148h5m-128 198h5m160 -26h5m-59 -94h5m-3 24h5m-44 82h5m-106 -60h5m216 55h5m-292 -63h5m122 54h5m23 7h5m-208 -8h5m131 69h5m56 -111h5m-93 173h5m275 -83h5m-252 137h5m48 -170h5m52 73h5m-114 -231h5m-74 208h5m-10 -228h5m98 141h5m-8 -14h5m8 -205h5m-297 203h5m169 95h5m-10 -56h5m48 -238h5m-22 292h5m47 -180h5m-78 357h5m105 -198h5m-20 72h5m-157 -121h5m164 10h5m-171 20h5m7 -17h5m122 110h5m79 -113h5m-48 151h5m-137 -109h5m94 132h5m-190 -134h5m160 -234h5m-6 152h5m-68 87h5m162 96h5m-1 -261h5m-135 290h5m-152 -285h5m58 138h5m66 169h5m-150 -140h5m-22 -133h5m164 -55h5m-41 202h5m117 66h5m43 -307h5m-135 -4h5m25 7h5m-96 245h5m44 -79h5m-23 -274h5m-85 336h5m164 -98h5m22 -36h5m1 97h5m59 -112h5m-66 -32h5m-112 -65h5m-125 366h5m147 -311h5m-193 191h5m134 -75h5m-31 -23h5m13 -44h5m-102 -15h5m315 19h5m-74 22h5m87 -8h5m-383 74h5m191 -199h5m132 279h5m-246 -40h5m-1 -48h5m31 -135h5m242 28h5m-192 -33h5m-76 178h5m70 -117h5m-44 270h5m27 -127h5m32 -161h5m-104 -14h5m-93 28h5m102 -130h5m189 91h5m-360 177h5m115 -13h5m-62 -75h5m84 108h5m6 -25h5m39 -105h5m-195 -100h5m230 122h5m-181 28h5m137 197h5m65 -90h5m-46 -61h5m-43 -103h5m-63 67h5m62 -69h5m67 77h5m-3 30h5m-20 -82h5m60 -105h5m-91 223h5m33 -222h5m-242 140h5m243 13h5m-8 -165h5m-62 194h5m-67 60h5m-30 -200h5m90 79h5m-120 -239h5m14 181h5m187 101h5m-387 -45h5m197 86h5m40 -13h5m-41 165h5m172 -354h5m-149 141h5m53 75h5m-78 -261h5m-86 268h5m254 41h5m-240 -283h5m165 241h5m-192 -231h5m117 114h5m-173 75h5m25 149h5m60 -38h5m199 -76h5m-151 19h5m-106 -237h5m-8 250h5m97 30h5m-196 -126h5m121 -66h5m27 -22h5m-96 16h5m135 122h5m-291 -129h5m195 20h5m-140 -10h5m206 -32h5m-64 252h5m13 -121h5m51 -181h5m-166 129h5m303 29h5m-196 15h5m60 -61h5m-85 211h5m16 -400h5m-5 84h5m-75 114h5m212 -7h5m-84 -103h5m12 56h5m-167 103h5m79 -142h5m114 121h5m50 76h5m-324 -193h5m85 54h5m28 -36h5m-156 225h5m263 3h5m-199 -297h5m174 276h5m-183 -115h5m-23 228h5m145 -210h5m-82 -274h5m75 128h5m-20 194h5m-160 -74h5m53 66h5m123 -149h5m-130 183h5m-40 -9h5m201 -105h5m-361 -8h5m48 39h5m127 44h5m140 141h5m-158 -212h5m69 -74h5m-292 126h5m308 -135h5m-120 41h5m112 -48h5m-37 78h5m-7 48h5m3 48h5m-74 -111h5m14 222h5m-85 -47h5m72 -193h5m33 143h5m180 -132h5m-112 -34h5m-129 -155h5m153 301h5m-62 -171h5m-1 281h5m-33 -305h5m27 307h5m-196 -270h5m155 -20h5m-34 37h5m132 49h5m-182 -197h5m62 427h5m-12 -190h5m-74 -33h5m87 -26h5m-21 8h5m-82 -40h5m-105 51h5m172 118h5m-35 -2h5m-7 19h5m138 -176h5m-290 48h5m27 -31h5m-13 8h5m339 45h5m-197 -49h5m40 138h5m-33 -131h5m1 5h5m-22 -70h5m-8 41h5m-152 102h5m83 -48h5m6 -24h5m-123 108h5m147 -321h5m-164 299h5m192 -94h5m-63 -30h5m-42 233h5m237 -184h5m-38 -116h5m-36 185h5m65 -73h5m-217 77h5m81 -87h5m-83 184h5m38 -251h5m-139 100h5m31 -11h5m58 -46h5m-135 205h5m173 -82h5m-118 59h5m-43 -164h5m-152 13h5m220 57h5m183 27h5m-146 -153h5m75 118h5m-18 -26h5m-112 -11h5m50 -167h5m-175 263h5m144 -51h5m-82 241h5m-164 -374h5m269 96h5m-93 -273h5m71 229h5m-14 255h5m-95 -191h5m-162 -83h5m211 -12h5m-246 87h5m255 142h5m-81 -115h5m77 135h5m-171 -31h5m120 104h5m-62 -369h5m-87 331h5m150 42h5m44 -153h5m-72 -80h5m-81 20h5m65 13h5m-113 50h5m116 45h5m-127 -227h5m227 -2h5m-59 170h5m-194 47h5m196 -318h5m-27 190h5m33 75h5m-22 101h5m-291 -181h5m229 112h5m-157 0h5m79 -247h5m127 131h5m-315 93h5m191 101h5m-18 -186h5m113 119h5m-45 111h5m-102 -150h5m-35 -56h5m252 -53h5m-78 -16h5m-117 165h5m87 32h5m-313 -163h5m411 64h5m28 -29h5m-118 150h5m-224 -26h5m207 -172h5m-260 34h5m48 53h5m-21 -57h5m85 -149h5m-31 147h5m220 58h5m-250 -147h5m-99 157h5m77 -209h5m37 -59h5m-50 231h5m327 -24h5m-437 -81h5m47 45h5m-75 152h5m416 -183h5m-114 43h5m-58 -124h5m-165 270h5m118 -199h5m55 -47h5m-91 210h5m65 66h5m-52 -302h5m-14 222h5m4 -53h5m185 33h5m-207 -311h5m-85 178h5m95 74h5m-136 -66h5m82 -90h5m32 28h5m20 289h5m-57 -202h5m-94 -6h5m89 -79h5m96 181h5m-227 10h5m170 147h5m-14 -63h5m-249 -148h5m318 66h5m-148 -1h5m-45 122h5m30 -67h5m-54 46h5m8 -176h5m67 118h5m116 -89h5m-185 172h5m111 -33h5m46 -257h5m-241 200h5m179 -63h5m-74 -79h5m15 39h5m-173 78h5m162 -1h5m-101 -106h5m198 4h5m-99 -16h5m21 71h5m-45 53h5m40 6h5m44 9h5m-214 -78h5m8 -203h5m179 282h5m24 -142h5m-70 19h5m-168 111h5m-170 -117h5m412 18h5m-153 87h5m123 124h5m66 -117h5m-234 86h5m-83 -109h5m27 26h5m106 192h5m-69 -404h5m-23 123h5m191 -132h5m-209 245h5m-83 -152h5m226 29h5m-72 -229h5m-29 371h5m-44 33h5m-67 82h5m140 -203h5m-197 -29h5m216 -15h5m-69 88h5m-17 186h5m-17 -345h5m144 102h5m107 -36h5m-406 -50h5m123 -11h5m81 109h5m-346 -39h5m278 74h5m-29 -151h5m145 -109h5m-128 158h5m33 76h5m-30 82h5m69 -99h5m-276 -2h5m265 76h5m-101 -12h5m13 -73h5m74 66h5m-175 -172h5m180 112h5m-273 -46h5m247 129h5m-105 -196h5m89 -92h5m-5 383h5m29 -121h5m-70 -164h5m46 97h5m-169 -90h5m164 123h5m81 -3h5m-216 35h5m17 -51h5m-88 -116h5m-81 57h5m49 8h5m134 26h5m95 -19h5m-183 23h5m-62 93h5m53 20h5m75 -195h5m24 -66h5m-167 207h5m75 -155h5m-51 260h5m-9 -72h5m43 -196h5m-141 50h5m-93 85h5m11 26h5m252 31h5m-93 -229h5m-46 166h5m147 -89h5m97 143h5m-127 -6h5m-238 -76h5m121 160h5m196 -110h5m-218 -255h5m321 278h5m-258 -132h5m-131 176h5m48 -180h5m26 87h5m142 119h5m-117 -128h5m216 17h5m-154 46h5m-43 -183h5m-156 54h5m33 171h5m-1 -172h5m114 167h5m-99 -43h5m166 -86h5m-186 178h5m-33 -142h5m70 -98h5m-40 77h5m165 64h5m-177 -208h5m69 294h5m-52 -97h5m14 -205h5m66 55h5m-82 -115h5m122 175h5m-206 -36h5m102 49h5m-96 -192h5m249 280h5m-79 -103h5m-49 -50h5m-17 -56h5m-67 -18h5m23 -89h5m-101 371h5m169 -80h5m-146 208h5m97 -162h5m-34 45h5m-67 -148h5m82 16h5m-169 30h5m124 -73h5m-37 234h5m17 -287h5m-12 97h5m72 155h5m-88 -294h5m39 187h5m-208 -18h5m48 -40h5m-49 -100h5m208 -55h5m-148 93h5m34 38h5m-63 -24h5m127 273h5m-60 -78h5m-77 -167h5m209 -6h5m-46 -2h5m-228 101h5m245 65h5m22 17h5m-143 -287h5m-151 221h5m228 -83h5m-94 131h5m74 -295h5m-247 283h5m274 -44h5m-88 27h5m-114 33h5m155 -198h5m1 136h5m-209 -20h5m22 -101h5m279 76h5m1 -91h5m-217 -8h5m-3 46h5m119 22h5m-123 -27h5m191 147h5m-184 -216h5m-150 -1h5m181 -5h5m198 97h5m-262 42h5m-72 13h5m169 -139h5m-133 -161h5m107 271h5m-132 144h5m-68 -164h5m298 125h5m9 -48h5m-273 -95h5m77 43h5m11 -46h5m-136 77h5m132 -65h5m85 -177h5m-63 154h5m36 -47h5m-84 15h5m132 140h5m-196 31h5m29 -349h5m109 289h5m-83 -183h5m-157 88h5m76 -55h5m70 -17h5m-56 302h5m68 14h5m-311 -195h5m315 -153h5m-89 206h5m44 14h5m-97 -217h5m-4 120h5m-132 1h5m61 -156h5m57 178h5m-12 -39h5m64 -89h5m136 52h5m30 5h5m-267 78h5m142 81h5m-41 -102h5m-27 -76h5m76 145h5m-185 60h5m101 -43h5m-165 124h5m299 -138h5m-251 -165h5m135 44h5m6 -49h5m-112 54h5m98 109h5m-1 18h5m-19 57h5m-37 -96h5m-61 17h5m37 -226h5m-68 359h5m61 97h5m-126 -290h5m301 -65h5m-230 -69h5m-184 173h5m339 47h5m-101 -94h5m-76 249h5m-79 -337h5m177 44h5m-195 222h5m208 -206h5m-105 84h5m-95 -51h5m85 133h5m-67 -153h5m-2 175h5m112 -189h5m6 -70h5m-363 79h5m246 -49h5m118 -37h5m-132 268h5m-73 -11h5m60 -165h5m120 -19h5m-117 234h5m-120 -124h5m95 49h5m-94 -212h5m193 296h5m-23 -287h5m-136 73h5m121 29h5m-65 -50h5m75 48h5m-261 78h5m231 -201h5m-100 84h5m-21 10h5m134 -77h5m-28 65h5m-218 -49h5m25 169h5m46 -118h5m188 27h5m-14 104h5m-156 49h5m-88 -40h5m60 13h5m-15 21h5m-82 -163h5m-21 138h5m76 -181h5m60 128h5m-159 -78h5m71 194h5m32 -127h5m97 215h5m-78 -398h5m-5 221h5m21 -215h5m-105 248h5m49 -270h5m164 158h5m-155 -211h5m107 200h5m-194 77h5m92 258h5m-51 -463h5m81 18h5m-68 200h5m98 -66h5m-54 -62h5m70 37h5m-216 96h5m208 12h5m-91 -64h5m20 56h5m-135 -115h5m163 126h5m2 49h5m-209 -36h5m43 -86h5m-170 3h5m130 -142h5m137 75h5m-190 -54h5m-42 168h5m242 -79h5m-65 61h5m202 10h5m-111 -89h5m-113 11h5m34 242h5m-116 23h5m182 -287h5m-354 31h5m165 -128h5m157 -32h5m-16 199h5m-180 9h5m140 -192h5m57 298h5m-72 -403h5m-49 111h5m70 273h5m-215 -189h5m131 -175h5m-24 397h5m-69 -45h5m116 -178h5m-70 278h5m-187 -272h5m179 -100h5m125 158h5m3 79h5m-29 84h5m-109 -85h5m-51 -252h5m46 360h5m-237 -106h5m337 -62h5m-151 123h5m218 -153h5m-258 97h5m77 -18h5m125 -233h5m-171 26h5m-41 54h5m242 26h5m-207 -14h5m189 115h5m-149 75h5m-237 -115h5m285 -89h5m-174 241h5m-65 -220h5m178 274h5m36 -290h5m-67 -67h5m-36 75h5m191 64h5m-255 -109h5m-72 209h5m16 -167h5m162 35h5m-16 -146h5m71 192h5m-350 20h5m281 -136h5m-112 -50h5m28 367h5m76 -83h5m-107 91h5m-149 -151h5m148 119h5m122 -56h5m-122 27h5m-15 -19h5m233 -162h5m-292 -88h5m222 79h5m-331 -124h5m323 117h5m-159 -33h5m-31 -98h5m55 102h5m-9 92h5m-11 -218h5m-45 145h5m102 -104h5m-266 211h5m74 14h5m160 -38h5m-142 84h5m-181 -77h5m308 -179h5m-7 174h5m-280 46h5m311 -79h5m-89 196h5m-35 -371h5m86 281h5m109 -35h5m-180 -113h5m-33 -109h5m-79 159h5m43 -159h5m82 187h5m-264 -88h5m257 123h5m-228 26h5m340 -92h5m-233 95h5m90 -293h5m-177 174h5m103 -100h5m191 100h5m-116 75h5m-196 -117h5m-19 29h5m159 62h5m-77 190h5m260 -185h5m-241 -132h5m-59 334h5m120 -377h5m80 300h5m-95 -39h5m-66 -158h5m43 183h5m-137 -301h5m105 0h5m-16 106h5m-111 242h5m8 -204h5m58 67h5m98 -251h5m-137 60h5m-50 127h5m164 -55h5m-1 108h5m-81 236h5m149 -268h5m-53 101h5m-201 -187h5m161 263h5m-20 -223h5m-140 254h5m99 -184h5m-86 -142h5m126 230h5m-108 -219h5m66 122h5m-81 -170h5m-135 73h5m222 40h5m-72 172h5m-109 -236h5m152 242h5m7 -229h5m211 70h5m-188 25h5m-141 -209h5m-10 165h5m-113 -49h5m17 -57h5m60 145h5m-15 169h5m109 -147h5m-92 -17h5m43 -123h5m-14 36h5m5 -98h5m-260 63h5m280 198h5m59 -21h5m16 -164h5m-245 78h5m-94 -50h5m237 138h5m-51 -225h5m-217 203h5m140 -110h5m116 252h5m-56 -149h5m-28 -210h5m-71 110h5m179 -180h5m-11 269h5m-132 -74h5m-6 137h5m-2 80h5m-87 -230h5m119 285h5m-173 -379h5m59 153h5m108 -69h5m243 41h5m-245 21h5m-23 0h5m-143 4h5m52 -30h5m104 30h5m-120 -162h5m91 248h5m-90 -187h5m-128 84h5m143 -103h5m130 145h5m-318 -7h5m334 134h5m-12 -5h5m-25 -129h5m-69 145h5m35 -69h5m-195 -64h5m153 -173h5m-81 118h5m66 93h5m-38 -231h5m155 108h5m-55 179h5m-385 -110h5m233 -210h5m-134 251h5m159 -190h5m-134 130h5m71 -62h5m-5 117h5m128 -31h5m-124 -156h5m78 109h5m197 5h5m-64 132h5m-197 -251h5m114 136h5m-120 119h5m-106 -106h5m200 -80h5m-37 2h5m-196 -60h5m-39 126h5m4 -90h5m319 -18h5m-46 196h5m-193 -295h5m-216 177h5m403 -7h5m0 114h5m-237 -184h5m-11 80h5m12 235h5m91 -68h5m-101 -42h5m185 -186h5m-315 112h5m53 22h5m-28 -65h5m138 -135h5m32 190h5m-146 17h5m151 -53h5m-80 -178h5m36 276h5m-55 42h5m-52 -112h5m48 -153h5m49 0h5m-198 124h5m131 -168h5m241 161h5m-252 126h5m135 -117h5m-190 134h5m215 -118h5m-113 222h5m103 -43h5m47 -237h5m-290 18h5m130 -86h5m-58 329h5m20 -57h5m65 -280h5m-90 75h5m-126 94h5m86 -273h5m139 261h5m-325 -27h5m157 -34h5m1 91h5m0 -279h5m22 329h5m79 -147h5m18 87h5m-92 98h5m-33 -150h5m-86 148h5m326 -72h5m-453 -119h5m322 104h5m96 -58h5m-276 45h5m140 12h5m-34 -133h5m-240 102h5m311 120h5m-45 -187h5m-36 -61h5m57 113h5m-147 -46h5m147 190h5m-191 -19h5m2 -203h5m3 281h5m-94 -218h5m52 86h5m157 -152h5m-137 287h5m38 -224h5m-188 92h5m153 29h5m-54 -210h5m160 15h5m-111 -214h5m-151 251h5m82 87h5m35 106h5m-97 -146h5m53 -223h5m-47 364h5m150 -7h5m12 -65h5m-164 -83h5m190 140h5m-195 -57h5m31 -177h5m-32 158h5m175 20h5m-72 137h5m151 -203h5m-280 -74h5m82 -8h5m-84 17h5m232 100h5m-163 147h5m182 -248h5m-157 182h5m-143 -112h5m181 -53h5m-55 48h5m54 -11h5m-92 180h5m200 -230h5m-252 69h5m-23 165h5m12 -253h5m-37 115h5m127 26h5m-52 -23h5m176 -29h5m-196 150h5m116 -88h5m82 -64h5m-217 66h5m36 -60h5m-141 42h5m79 -159h5m74 209h5m31 4h5m-151 -356h5m-103 121h5m106 179h5m122 -87h5m-250 -58h5m147 176h5m81 -58h5m-144 115h5m22 -325h5m-216 174h5m168 -133h5m76 99h5m11 204h5m-89 -261h5m-65 -67h5m-145 133h5m384 -39h5m-258 85h5m36 -74h5m280 23h5m-324 78h5m344 -90h5m-295 123h5m64 -256h5m8 129h5m-99 211h5m106 -320h5m-60 236h5m-122 47h5m65 -201h5m49 -75h5m93 88h5m-144 155h5m-127 -150h5m230 114h5m-61 -229h5m-113 215h5m-55 -12h5m128 29h5m60 -205h5m30 322h5m-126 -158h5m86 72h5m-152 6h5m294 -37h5m-175 108h5m-151 -387h5m247 142h5m-226 -29h5m70 92h5m185 -28h5m-135 139h5m-155 64h5m78 76h5m-170 -218h5m125 132h5m190 -78h5m-80 -194h5m-300 32h5m277 -15h5m-258 85h5m274 -111h5m-171 193h5m20 -109h5m58 4h5m-77 220h5m55 -125h5m-124 -48h5m-1 -84h5m148 -76h5m-45 53h5m65 292h5m-34 -86h5m-126 -189h5m228 -57h5m-224 36h5m12 197h5m-226 -126h5m278 59h5m-79 34h5m48 -160h5m68 118h5m-55 -249h5m-34 363h5m-97 -187h5m-44 154h5m168 -234h5m10 253h5m-93 -209h5m28 -23h5m-91 52h5m79 -136h5m-82 257h5m102 -137h5m-269 93h5m189 9h5m101 232h5m-279 -318h5m322 -13h5m-189 104h5m-72 -96h5m143 3h5m-87 140h5m-23 -38h5m-68 -40h5m18 16h5m284 97h5m-79 -250h5m-39 331h5m-145 -253h5m123 -40h5m-189 174h5m-39 -230h5m249 22h5m-64 84h5m-158 136h5m143 -107h5m75 -16h5m-87 -99h5m16 119h5m-1 -60h5m-37 180h5m-59 -25h5m28 11h5m-18 -265h5m-98 128h5m222 88h5m-217 -33h5m303 20h5m-150 -190h5m-97 191h5m-12 11h5m150 2h5m-111 35h5m32 83h5m-141 -237h5m61 232h5m-18 65h5m90 -427h5m-266 227h5m155 -132h5m64 169h5m-27 64h5m-185 -219h5m33 27h5m54 156h5m105 -184h5m48 -123h5m-103 315h5m24 152h5m-163 -334h5m-141 141h5m245 -171h5m199 99h5m-209 -160h5m191 245h5m-95 -54h5m100 -30h5m-138 72h5m-139 -39h5m0 19h5m36 -43h5m22 -60h5m38 127h5m-148 -3h5m328 -43h5m-394 89h5m72 -77h5m60 75h5m73 -104h5m-41 136h5m31 -12h5m-139 5h5m112 -174h5m-66 -98h5m23 94h5m1 65h5m190 5h5m-139 81h5m-20 22h5m-174 -112h5m53 -80h5m-30 237h5m24 -258h5m46 -94h5m34 160h5m-108 145h5m54 -229h5m-8 53h5m4 -86h5m96 260h5m-152 38h5m80 -242h5m-78 113h5m13 266h5m105 -366h5m-136 -93h5m213 220h5m-227 -20h5m99 -185h5m-113 270h5m-43 -252h5m64 283h5m86 -256h5m-292 34h5m231 91h5m32 -115h5m-86 152h5m-57 -255h5m42 375h5m56 -102h5m-4 69h5m-137 -249h5m68 38h5m263 59h5m-281 -1h5m-61 -125h5m158 142h5m-59 -169h5m155 91h5m-293 201h5m122 2h5m-265 -122h5m388 -113h5m-122 80h5m-59 -12h5m70 -84h5m101 159h5m-177 -19h5m69 -27h5m1 -145h5m-102 314h5m-26 -242h5m-134 46h5m165 82h5m-89 -8h5m166 6h5m-167 52h5m-118 -113h5m107 44h5m17 36h5m-97 -27h5m-21 -43h5m139 93h5m-17 79h5m33 -15h5m-11 -131h5m-134 132h5m12 -300h5m51 -49h5m84 329h5m186 -170h5m-226 -47h5m85 100h5m-35 58h5m-137 -218h5m178 38h5m-117 -88h5m-27 146h5m118 -115h5m-258 -1h5m134 277h5m-129 -258h5m90 73h5m106 192h5m35 -35h5m38 -42h5m-120 -231h5m-16 -15h5m-40 309h5m-22 -7h5m-28 -181h5m-44 72h5m-51 79h5m146 -300h5m-44 172h5m56 77h5m43 -40h5m109 76h5m-248 68h5m76 -7h5m-36 -65h5m-77 58h5m255 -172h5m-210 166h5m-111 -179h5m-66 165h5m188 -109h5m-95 222h5m28 -76h5m48 -209h5m-8 303h5m-87 -289h5m107 -139h5m-94 302h5m-10 32h5m87 5h5m-80 -23h5m155 -46h5m-407 -34h5m271 62h5m61 -71h5m-166 -132h5m-87 217h5m216 -240h5m-110 7h5m-188 73h5m277 -23h5m-9 59h5m-137 -50h5m111 25h5m-116 -6h5m56 -111h5m138 302h5m-232 -60h5m91 -265h5m-7 272h5m53 -136h5m-24 61h5m-132 -6h5m224 115h5m-148 3h5m104 -168h5m-98 195h5m2 62h5m3 -104h5m-148 -103h5m66 -211h5m169 352h5m-137 -131h5m-62 76h5m49 -149h5m-216 94h5m178 -194h5m-49 113h5m138 -59h5m-68 113h5m-10 129h5m166 -193h5m-117 -44h5m-131 52h5m42 23h5m-67 68h5m286 -1h5m-165 -45h5m-201 -23h5m301 42h5m-371 90h5m194 128h5m-39 -182h5m31 -146h5m-59 137h5m89 -208h5m47 49h5m-294 104h5m271 33h5m-74 -94h5m-105 -38h5m334 201h5m-297 -82h5m123 -100h5m-115 234h5m-23 -113h5m209 -145h5m-208 205h5m38 -231h5m92 157h5m-34 53h5m-85 -129h5m140 68h5m-225 -103h5m97 414h5m-65 -338h5m58 181h5m41 116h5m7 -326h5m115 166h5m-311 17h5m190 -102h5m66 84h5m-125 -204h5m-37 36h5m69 105h5m-129 -156h5m-58 199h5m45 -72h5m42 -122h5m-127 4h5m145 311h5m-124 -206h5m-106 7h5m288 -90h5m-43 58h5m30 12h5m1 2h5m-286 84h5m382 -69h5m-324 18h5m56 -107h5m131 245h5m22 -93h5m-11 -24h5m-60 -284h5m-33 379h5m104 -318h5m87 179h5m-192 -33h5m-62 -77h5m-94 34h5m70 -28h5m-91 -64h5m223 343h5m-145 -32h5m77 -248h5m107 117h5m-177 -86h5m-126 -11h5m250 210h5m-42 -27h5m-163 -121h5m34 -71h5m230 65h5m-236 -4h5m123 78h5m-93 -18h5m-56 -44h5m-19 -18h5m166 -87h5m-236 145h5m54 46h5m279 -110h5m-271 51h5m162 -107h5m-198 71h5m103 177h5m79 -91h5m-113 -7h5m-37 -120h5m75 276h5m-29 -84h5m-142 -93h5m40 -82h5m145 57h5m-1 31h5m-195 -31h5m156 -27h5m-97 -203h5m-107 262h5m94 -5h5m-124 61h5m276 -72h5m57 88h5m-392 -60h5m254 96h5m72 -140h5m-201 23h5m-99 -22h5m274 46h5m-13 -256h5m-220 155h5m182 184h5m-68 0h5m-139 -207h5m-8 140h5m164 -55h5m-39 217h5m-170 -200h5m29 -7h5m240 8h5m-395 -9h5m272 53h5m-13 139h5m-56 -140h5m-39 26h5m0 -180h5m217 -47h5m-275 301h5m146 -35h5m-104 -216h5m58 273h5m46 7h5m-91 -7h5m-22 79h5m-83 -252h5m211 -8h5m-86 -45h5m-82 188h5m255 -265h5"/>
<rect x="52.20" y="19.30" width="177.10" height="172.75" fill="none" stroke="#000" stroke-width="1.5"/>
<path stroke="#000" stroke-width="1" d="M140.75 192.05v-1.90M140.75 19.30v1.90M52.20 105.67h1.90M229.30 105.67h-1.90"/>
<text x="140.35" y="12.60" font-size="9.60" text-anchor="middle" letter-spacing="0.25" stroke="#000" stroke-width="0.12">1st stage</text>
<text x="49.50" y="22.00" font-size="8.80" text-anchor="end" stroke="#000" stroke-width="0.1">0.5</text>
<text x="49.50" y="108.38" font-size="8.80" text-anchor="end" stroke="#000" stroke-width="0.1">0</text>
<text x="49.50" y="194.75" font-size="8.80" text-anchor="end" stroke="#000" stroke-width="0.1">−0.5</text>
<text x="49.20" y="200.65" font-size="8.80" text-anchor="middle" stroke="#000" stroke-width="0.1">−0.5</text>
<text x="140.75" y="200.65" font-size="8.80" text-anchor="middle" stroke="#000" stroke-width="0.1">0</text>
<text x="229.30" y="200.65" font-size="8.80" text-anchor="middle" stroke="#000" stroke-width="0.1">0.5</text>
<text x="140.35" y="210.25" font-size="9" text-anchor="middle">δ<tspan font-size="7" dy="4.3">x</tspan></text>
<text transform="translate(32.30 105.58) rotate(-90)" font-size="9" text-anchor="middle">δ<tspan font-size="7" dy="4.2" dx="0.4">y</tspan></text>
<rect x="54.40" y="135.60" width="56.10" height="54.30" fill="#fff" stroke="#383838" stroke-width="1.5"/>
<path fill="none" stroke="#8a8a8a" stroke-width="1" d="M55.60 136.60V188.70H109.50"/>
<text x="56.60" y="145.60" font-size="9.6" style="white-space:pre">μ<tspan font-size="8" dy="5">x</tspan><tspan dy="-5" stroke="#000" stroke-width="0.45"> = </tspan><tspan stroke="#000" stroke-width="0.1">0.0020</tspan></text>
<text x="56.60" y="158.00" font-size="9.6" style="white-space:pre">μ<tspan font-size="8" dy="5">y</tspan><tspan dy="-5" stroke="#000" stroke-width="0.45"> = </tspan><tspan stroke="#000" stroke-width="0.1">0.0022</tspan></text>
<text x="56.60" y="170.40" font-size="9.6" style="white-space:pre">σ<tspan font-size="8" dy="5">x</tspan><tspan dy="-5" stroke="#000" stroke-width="0.45"> = </tspan><tspan stroke="#000" stroke-width="0.1">0.1234</tspan></text>
<text x="56.60" y="182.80" font-size="9.6" style="white-space:pre">σ<tspan font-size="8" dy="5">y</tspan><tspan dy="-5" stroke="#000" stroke-width="0.45"> = </tspan><tspan stroke="#000" stroke-width="0.1">0.1297</tspan></text>
<path transform="scale(0.25)" stroke="#ff0000" stroke-opacity="0.45" stroke-width="5" fill="none" d="M0 0m1479 407h5m-17 15h5m-90 -64h5m67 90h5m-141 55h5m280 -53h5m-234 -162h5m19 191h5m-65 -90h5m116 113h5m31 -159h5m-262 92h5m106 -134h5m-13 43h5m206 78h5m-123 -3h5m-109 114h5m230 -125h5m-303 -9h5m244 28h5m-230 -147h5m291 245h5m-184 -24h5m-120 -34h5m93 -76h5m168 -132h5m-228 145h5m-85 23h5m96 78h5m34 -249h5m96 156h5m-5 -138h5m105 228h5m-329 -49h5m337 -40h5m-9 9h5m-385 78h5m189 -209h5m4 291h5m3 -430h5m183 332h5m-338 50h5m-94 -121h5m198 223h5m-70 -104h5m238 -195h5m-419 163h5m306 50h5m-282 -100h5m294 90h5m-76 -388h5m-20 44h5m31 -7h5m70 264h5m43 -85h5m-218 -186h5m208 204h5m-127 -239h5m53 339h5m-176 129h5m60 -369h5m-147 265h5m60 -242h5m-179 121h5m212 152h5m27 -290h5m14 -102h5m-81 116h5m48 322h5m8 -329h5m32 -66h5m-211 189h5m299 45h5m-338 57h5m201 137h5m22 17h5m-55 -413h5m-21 -26h5m-208 230h5m138 -236h5m-9 361h5m-110 -195h5m259 -54h5m188 146h5m-204 67h5m-70 91h5m75 -378h5m-73 343h5m-155 -207h5m111 -80h5m113 -76h5m-85 57h5m128 151h5m-6 74h5m-303 -76h5m-74 -10h5m386 109h5m-167 -240h5m-159 84h5m29 191h5m7 -47h5m240 -139h5m99 -24h5m-519 7h5m135 123h5m243 -177h5m-149 -101h5m-58 435h5m-6 -329h5m-28 62h5m65 -64h5m140 166h5m-151 250h5m-195 -336h5m224 179h5m-42 10h5m-131 -157h5m36 158h5m-111 -94h5m273 -194h5m-247 142h5m17 -12h5m172 271h5m-96 -147h5m10 10h5m69 29h5m104 -226h5m-55 5h5m-113 208h5m-106 -104h5m129 130h5m78 -267h5m67 123h5m-326 -13h5m88 116h5m99 14h5m-33 77h5m76 -134h5m-6 21h5m-259 -200h5m180 -33h5m-40 -8h5m-58 289h5m204 -175h5m-243 126h5m35 -291h5m-171 204h5m300 -97h5m-137 -95h5m312 166h5m-233 193h5m17 -321h5m-155 -2h5m-99 92h5m370 19h5m-332 226h5m190 -101h5m-217 -245h5m73 13h5m205 210h5m-171 -305h5m232 236h5m-121 -69h5m-128 -141h5m-37 369h5m201 -226h5m-68 -105h5m-293 221h5m131 -122h5m52 229h5m-175 -205h5m-57 102h5m238 230h5m122 -182h5m-127 70h5m-132 -231h5m175 -206h5m-136 181h5m41 -52h5m-248 108h5m72 39h5m192 130h5m3 25h5m-7 -388h5m-136 84h5m72 377h5m-281 -228h5m239 -146h5m86 286h5m177 -20h5m-95 -85h5m-280 -45h5m247 118h5m-305 -95h5m269 -240h5m-110 339h5m122 -296h5m65 212h5m-106 -139h5m-350 103h5m229 -202h5m217 231h5m-112 81h5m-313 -141h5m120 108h5m168 122h5m-53 -45h5m-1 -350h5m-81 282h5m50 109h5m197 -232h5m-158 -153h5m-21 349h5m-117 -31h5m-75 -165h5m97 226h5m156 -81h5m-28 63h5m-152 -288h5m-41 315h5m220 -152h5m-32 106h5m-186 -281h5m350 129h5m-298 -124h5m-147 223h5m215 -223h5m34 241h5m171 -97h5m-395 -201h5m151 407h5m89 -270h5m-33 261h5m-197 -157h5m170 -195h5m-93 -62h5m-87 137h5m369 34h5m-500 42h5m265 249h5m-84 -530h5m-99 323h5m-52 47h5m342 20h5m-66 32h5m-139 29h5m-3 -341h5m148 231h5m-298 -171h5m426 74h5m-431 116h5m182 133h5m-33 -374h5m1 308h5m-216 -105h5m127 75h5m97 -272h5m-238 161h5m340 52h5m-25 10h5m15 -9h5m-40 -108h5m117 60h5m-372 -54h5m-116 16h5m-50 -27h5m361 160h5m22 -172h5m-62 185h5m-64 112h5m50 -412h5m-210 164h5m316 82h5m66 -85h5m-424 -3h5m492 -5h5m-288 164h5m-52 154h5m138 -328h5m-200 -118h5m259 128h5m-182 -124h5m147 93h5m-261 -146h5m147 307h5m37 -32h5m-24 10h5m54 -73h5m-77 -138h5m85 104h5m-254 -227h5m93 92h5m-135 74h5m137 -59h5m-123 -10h5m19 299h5m24 116h5m235 -275h5m-161 99h5m-44 185h5m-127 -357h5m45 166h5m-16 -181h5m-30 253h5m-7 49h5m3 -153h5m241 -26h5m-103 -200h5m148 156h5m22 60h5"/>
<path transform="scale(0.25)" stroke="#ff0000" stroke-width="5" fill="none" d="M0 0m1477 333h5m42 241h5m-114 -53h5m-90 19h5m-108 -92h5m185 -100h5m32 76h5m114 -58h5m-146 94h5m-37 97h5m-2 41h5m-49 -232h5m191 1h5m-157 36h5m1 69h5m-33 148h5m97 -368h5m-65 180h5m257 4h5m-435 -43h5m175 251h5m105 -184h5m-66 73h5m-58 -273h5m-201 22h5m203 270h5m143 -147h5m-161 178h5m-328 -172h5m52 -4h5m450 -4h5m-359 -18h5m-22 6h5m-13 -46h5m190 -124h5m24 354h5m-178 -189h5m140 -134h5m-74 286h5m-122 -107h5m302 134h5m-25 -191h5m-114 320h5m-207 -399h5m148 -82h5m295 138h5m-128 24h5m11 81h5m-5 -35h5m-17 57h5m-258 -173h5m286 134h5m-94 125h5m161 -195h5m-231 280h5m150 -215h5m-207 187h5m-194 -142h5m209 101h5m59 40h5m-47 -443h5m-1 105h5m-153 218h5m24 -174h5m-73 154h5m-39 88h5m35 -177h5m108 -130h5m-45 86h5m57 -150h5m124 186h5m-177 -60h5m-102 201h5m8 -67h5m170 79h5m-164 -169h5m52 256h5m49 -437h5m125 419h5m-273 -177h5m167 205h5m142 -195h5m-264 -206h5m1 125h5m-134 17h5m-92 20h5m168 55h5m77 -190h5m23 -3h5m-182 154h5m259 -63h5m-72 -157h5m-212 186h5m154 -110h5m103 259h5m-77 -374h5m141 229h5m85 -15h5m-33 105h5m-47 -31h5m-2 -47h5m-340 22h5m253 89h5m-129 43h5m24 165h5m41 -84h5m32 -113h5m76 -136h5m-172 218h5m-32 -330h5m77 306h5m-3 -11h5m-71 -357h5m202 289h5m-294 32h5m261 -66h5m-434 -74h5m109 7h5m73 171h5m-73 -176h5m204 -111h5m163 170h5m-155 -143h5m-170 -17h5m73 -12h5m-37 371h5m-51 -56h5m293 -152h5m-373 22h5m88 104h5m258 -177h5m-172 -152h5m-72 434h5m27 -80h5m-143 -289h5m-122 172h5m222 175h5m174 -236h5m-58 111h5m-408 -99h5m241 145h5m181 -257h5m-58 11h5m-171 212h5m270 -125h5m-52 63h5m-132 119h5m-255 -212h5m339 -41h5m-74 -53h5m143 164h5m-234 -136h5m96 262h5m-21 -15h5m-115 29h5m-99 -126h5m360 -161h5m-420 126h5m64 14h5m41 175h5m169 -443h5m30 330h5m46 -113h5m-89 177h5m-76 -290h5m-127 210h5m-15 48h5m152 -244h5m-98 230h5m-104 -257h5m270 81h5m18 -8h5m34 59h5m-68 118h5m-83 56h5m160 -166h5m-121 -101h5m-38 336h5m-99 -387h5m142 222h5m136 -60h5m-220 273h5m-171 -288h5m54 -55h5m100 -93h5m112 207h5m-118 85h5m7 122h5m-147 -319h5m88 -68h5m131 112h5m-148 -134h5m-30 -2h5m212 315h5m-188 3h5m14 -18h5m60 92h5m-89 -383h5m281 202h5m-445 -133h5m154 -97h5m39 351h5m-250 -60h5m-13 -141h5m324 67h5m-37 -154h5m-137 -69h5m-125 168h5m270 -103h5m-28 70h5m-348 113h5m418 -71h5m-149 -278h5m-29 137h5m37 16h5m-243 131h5m147 202h5m-119 -249h5m388 29h5m-329 233h5m347 -198h5m-133 39h5m-147 -365h5m-84 497h5m78 37h5m-107 -282h5m117 314h5m104 -187h5m-275 -2h5m19 -16h5m49 184h5m-106 -265h5m246 -165h5m-48 363h5m-218 -185h5m128 -156h5m150 2h5m-103 24h5m40 264h5m-44 -340h5m-39 51h5m52 61h5m120 17h5m100 78h5m-262 -237h5m-272 255h5m88 -117h5m283 168h5m-4 -68h5m-31 -91h5m-289 95h5m134 193h5m-142 -263h5m34 119h5m271 -23h5m-272 -79h5m89 -165h5m55 479h5m-7 -476h5m-172 275h5m8 4h5m165 80h5m-184 -90h5m52 -280h5m161 315h5m-101 71h5m257 -171h5m-493 124h5m312 -28h5m-326 -104h5m142 152h5m200 -235h5m84 115h5m-477 63h5m290 -359h5m-264 323h5m231 226h5m-263 -257h5m309 -114h5m-41 350h5m-30 86h5m-110 -372h5m205 210h5m-225 -100h5m17 179h5m36 -109h5m188 -13h5m-224 -4h5m85 90h5m-149 -71h5m303 -126h5m-193 218h5m134 -138h5m-168 -194h5m26 -97h5m174 197h5m-173 187h5m-220 -150h5m156 -179h5m45 318h5m-109 -36h5m104 120h5m96 -289h5m25 105h5m-212 -156h5m184 52h5m-335 155h5m39 -3h5m232 -295h5m56 143h5m26 0h5m-262 282h5m-94 -269h5m256 105h5m-27 -240h5m-25 327h5m-1 -15h5m78 -228h5m-249 152h5m176 71h5m-70 -312h5m-52 -91h5m216 249h5m-249 105h5m207 -159h5m26 69h5m-175 -168h5m151 164h5m-154 179h5m-103 -238h5m240 168h5m99 -120h5m-241 -233h5m62 188h5m-132 178h5m-39 -196h5m-3 -16h5m189 186h5m-131 -252h5m214 228h5"/>
<path transform="scale(0.25)" stroke="#0000ff" stroke-opacity="0.45" stroke-width="5" fill="none" d="M0 0m1443 350h5m-18 47h5m12 28h5m-34 218h5m20 -244h5m-73 32h5m58 -41h5m-41 80h5m40 -45h5m-29 1h5m-14 -2h5m70 8h5m-80 33h5m-9 -26h5m26 77h5m37 -76h5m-90 43h5m-14 -50h5m38 -13h5m37 10h5m-123 -14h5m128 -34h5m-93 41h5m48 -34h5m45 -12h5m-24 129h5m-97 -24h5m36 -29h5m-2 -63h5m-76 44h5m65 -75h5m-154 53h5m48 10h5m50 28h5m6 -57h5m-2 37h5m8 8h5m16 11h5m-37 9h5m-23 -15h5m11 6h5m6 -77h5m11 74h5m-1 16h5m14 -50h5m-27 16h5m-20 46h5m8 -52h5m1 -98h5m4 89h5m-99 -18h5m-2 9h5m63 1h5m-65 134h5m109 -133h5m-43 12h5m-95 6h5m77 -95h5m-63 99h5m11 44h5m7 -32h5m20 -33h5m48 10h5m-47 -8h5m-5 -26h5m-64 23h5m22 33h5m35 -17h5m3 -69h5m4 44h5m-86 152h5m104 -32h5m-191 -96h5m165 -20h5m-40 73h5m-10 6h5m-18 -67h5m0 36h5m-1 -59h5m-22 32h5m-39 -6h5m26 -11h5m36 -11h5m-33 10h5m51 -9h5m-39 29h5m-43 29h5m-104 -10h5m53 -9h5m74 5h5m5 17h5m-32 -48h5m-4 29h5m-64 -36h5m11 79h5m19 -54h5m20 7h5m-51 -20h5m23 -11h5m-18 23h5m23 -17h5m-79 66h5m52 -30h5m13 -62h5m-27 17h5m6 49h5m-77 -4h5m-16 54h5m74 -94h5m-28 14h5m7 -7h5m11 -24h5m2 14h5m79 18h5m-98 -21h5m75 21h5m-148 -33h5m21 34h5m47 16h5m-66 52h5m75 -7h5m-46 -93h5m7 33h5m-6 32h5m-31 56h5m-34 -110h5m19 8h5m83 26h5m-95 -19h5m17 91h5m6 -25h5m-37 -58h5m7 -29h5m69 35h5m-16 -15h5m-71 -129h5m32 78h5m-18 45h5m-8 18h5m25 -14h5m19 66h5m-69 -92h5m88 79h5m-132 -62h5m35 113h5m-32 -127h5m10 37h5m11 3h5m-40 55h5m4 -102h5m10 23h5m44 23h5m-110 12h5m85 -4h5m-99 -46h5m102 45h5m-17 -11h5m-56 -10h5m-23 27h5m10 -92h5m-27 58h5m-108 23h5m146 -26h5m18 19h5m14 61h5m-23 -61h5m-66 -11h5m44 31h5m27 -17h5m-56 -3h5m61 -35h5m-42 34h5m-16 59h5m-10 -54h5m156 -48h5m-212 47h5m3 29h5m50 -24h5m-16 2h5m4 -80h5m-70 69h5m-53 17h5m136 -29h5m-36 68h5m-19 -52h5m7 -12h5m0 11h5m-68 -27h5m80 25h5m-54 -11h5m53 28h5m-21 -4h5m-108 37h5m98 -62h5m-69 19h5m10 1h5m-19 -16h5m-22 28h5m75 -1h5m-53 -4h5m-16 -15h5m33 1h5m-18 18h5m-10 -7h5m8 109h5m27 -86h5m-68 29h5m114 -70h5m-112 5h5m12 6h5m-117 2h5m117 13h5m-44 -100h5m23 144h5m42 -46h5m-34 -32h5m-107 71h5m65 -106h5m-21 213h5m83 -209h5m26 66h5m-58 -47h5m-95 84h5m79 -117h5m5 24h5m-61 -3h5m-24 32h5m74 -203h5m-47 216h5m-6 -34h5m22 -58h5m-159 144h5m37 -49h5m86 13h5m-92 12h5m64 -44h5m-10 -6h5m66 59h5m-84 -90h5m48 55h5m-16 -27h5m-56 7h5m62 51h5m-64 -43h5m-62 11h5m98 -19h5m-187 32h5m123 -143h5m26 105h5m-45 18h5m94 14h5m-41 -19h5m-35 -27h5m70 33h5m-112 8h5m7 -43h5m50 32h5m-98 13h5m83 4h5m-35 2h5m63 42h5m-51 -69h5m-1 31h5m-21 -46h5m-50 49h5m4 60h5m37 -83h5m-8 15h5m-99 -13h5m166 -12h5m-73 5h5m-8 -57h5m-36 71h5m10 -19h5m22 57h5m-51 -40h5m124 -82h5m-134 82h5m49 -39h5m-28 17h5m-61 4h5m41 108h5m-27 -126h5m21 15h5m-3 -12h5m-20 46h5m-66 -15h5m61 24h5m-96 -42h5m112 -26h5m-90 56h5m80 -28h5m-9 61h5m21 -68h5m-93 105h5m48 -88h5m-10 -13h5m-72 -1h5m58 32h5m9 -30h5m-11 150h5m-5 -145h5m-13 5h5m-46 11h5m61 4h5m-55 -23h5m61 -95h5m-40 108h5m-1 -4h5m-26 -53h5m27 55h5m19 15h5m-101 9h5m-18 56h5m58 -141h5m-38 -3h5m49 79h5m-95 -12h5m153 -105h5m-80 128h5m-18 16h5m-30 -26h5m29 -16h5m20 20h5m17 6h5m-63 -33h5m81 2h5m-87 -88h5m13 117h5m-47 -135h5m74 104h5m-159 -29h5m153 -1h5m-5 119h5m40 -45h5m-75 -45h5m-8 10h5m-26 45h5m61 -38h5m-102 22h5m48 65h5m-47 -78h5m-202 -52h5m112 15h5m88 89h5m-34 -57h5m-14 86h5m-53 -118h5m106 21h5m-74 32h5m97 -36h5m-75 -6h5m4 7h5m-4 -119h5m-10 86h5m-52 6h5m34 8h5m7 13h5m19 28h5m83 -24h5m-187 -65h5m91 61h5m-50 65h5m34 -40h5m-61 -68h5m37 54h5m-28 -19h5m-44 -11h5m18 28h5m-121 1h5m145 -36h5m-46 27h5m58 39h5m-98 -46h5m8 21h5m85 -15h5m-35 -10h5m-29 23h5m-115 12h5m84 -24h5m78 18h5m-75 -47h5m98 -27h5m-80 83h5m-4 -64h5m-45 41h5m97 28h5m-92 -51h5m29 -54h5m-79 85h5m-102 -15h5m50 -8h5m242 49h5m-282 -25h5m247 32h5m-124 -30h5m-42 -45h5m64 17h5m-49 -35h5m27 25h5m-32 44h5m-15 -29h5m93 12h5m-89 9h5m71 3h5m-65 17h5m-7 -114h5m-24 57h5m-55 12h5m82 1h5m-24 96h5m-22 -94h5m160 -76h5m-184 -5h5m101 148h5m-78 -30h5m-16 -27h5m53 12h5m-51 -12h5m-46 1h5m35 -68h5m-4 73h5m-34 -109h5m53 88h5m-40 57h5m-13 -113h5m-10 39h5m-7 44h5m3 -34h5m33 107h5m-25 -94h5m-42 19h5m-13 71h5m30 -105h5m-10 14h5m3 -51h5m-39 66h5m50 -54h5m-41 63h5m-80 -14h5m55 -7h5m29 3h5m51 59h5m-81 -51h5m-17 47h5m14 -58h5m7 45h5m-22 -39h5m-33 29h5m-25 -38h5m81 27h5m-37 38h5m1 -36h5m-4 1h5m-42 -17h5m177 25h5m-154 -7h5m-98 -13h5m98 -158h5m-31 142h5m-7 -7h5m7 31h5m-23 19h5m24 -29h5m-37 -12h5m29 12h5m18 -13h5m-54 -50h5m9 62h5m-4 -120h5m1 100h5m-29 12h5m12 -33h5m-45 103h5m16 -66h5m-32 16h5m55 52h5m-37 10h5m11 -81h5m22 -97h5m-22 93h5m-76 48h5m-47 27h5m96 40h5m2 -146h5m-20 62h5m-68 -5h5m58 -8h5m-22 -49h5m-5 37h5m27 -4h5m-102 9h5m54 -62h5m-38 44h5m79 35h5m-47 -95h5m23 56h5m-20 -32h5m-11 34h5m-2 38h5m12 -98h5m30 47h5m4 -25h5m-41 72h5m-6 -11h5m12 68h5m-13 -142h5m-18 87h5m3 14h5m-22 4h5m21 -33h5m103 -50h5m-116 -3h5m29 53h5m-54 -43h5m21 106h5m-78 -110h5m54 59h5m-88 5h5m60 26h5m-52 -71h5m100 57h5m-71 12h5m-47 -63h5m42 -91h5m-10 76h5m43 5h5m-59 159h5m24 -189h5m-23 60h5m67 -1h5m8 91h5m-88 -62h5m28 24h5m-33 -50h5m3 -34h5m-39 70h5m-67 -54h5m93 0h5m-14 15h5m-61 1h5m29 -2h5m-9 12h5m-14 126h5m64 -165h5m-50 8h5m-13 32h5m10 -107h5m-52 111h5m126 -43h5m-88 78h5m-49 -106h5m63 -14h5m-23 66h5m-56 5h5m39 -9h5m18 -24h5m-91 -12h5m16 53h5m35 -73h5m0 2h5m-7 137h5m45 -83h5m-20 138h5m-61 -83h5m9 -20h5m-65 -39h5m39 2h5m101 -22h5m-106 -74h5m27 -47h5m16 146h5m-18 25h5m23 -52h5m-24 36h5m-86 76h5m59 -84h5m-79 -17h5m24 37h5m32 28h5m-21 -36h5m5 -52h5m28 41h5m5 0h5m-60 -28h5m37 71h5m-37 -40h5m36 -207h5m25 200h5m-101 -17h5m42 70h5m-56 11h5m44 -57h5m1 -23h5m-88 -53h5m169 159h5m-19 -60h5m-111 -60h5m-50 78h5m59 1h5m-102 -8h5m74 -31h5m-17 56h5m55 -58h5m-82 -20h5m68 20h5m-127 2h5m71 111h5m-6 -138h5m27 26h5m-36 -11h5m-6 -47h5m-4 96h5m101 -34h5m-119 -16h5m-29 -47h5m-82 66h5m130 7h5m-40 -70h5m1 99h5m37 -23h5m-123 -31h5m84 20h5m3 -12h5m66 52h5m-59 -70h5m-49 -11h5m4 -2h5m-30 16h5m19 -35h5m-13 55h5m-21 -7h5m71 119h5m-59 -100h5m-58 105h5m93 -120h5m-47 -90h5m-7 99h5m3 -4h5m-40 8h5m24 39h5m-24 -63h5m34 36h5m-30 -1h5m21 43h5m-12 -14h5m-23 -17h5m-31 -30h5m69 -15h5m-62 52h5m-33 -58h5m162 58h5m-105 2h5m9 -89h5m-50 -15h5m17 90h5m-99 50h5m152 -52h5m-79 109h5m64 -139h5m-51 4h5m-28 -11h5m-2 -21h5m-15 85h5m-15 -70h5m1 12h5m2 -44h5m4 47h5m9 193h5m8 -199h5m14 17h5m-62 1h5m9 106h5m-7 -105h5m-16 20h5m-15 -92h5m31 77h5m-6 -30h5m33 25h5m-124 -30h5m155 -65h5m-104 131h5m98 -42h5m-116 -56h5m-6 52h5m-108 -57h5m159 55h5m-101 22h5m59 -2h5m-44 -39h5m-36 -8h5m53 29h5m-51 5h5m14 -71h5m52 1h5m-22 84h5m-39 -36h5m14 -6h5m-35 -5h5m51 18h5m-14 -23h5m39 31h5m58 113h5m-181 -126h5m-25 34h5m64 5h5m50 -42h5m-20 6h5m-60 -1h5m27 10h5m-58 -77h5m16 46h5m78 39h5m-81 -34h5m-60 10h5m45 18h5m-34 11h5m60 -69h5m-103 51h5m39 16h5m23 -14h5m-87 0h5m204 1h5m-90 -26h5m-71 -105h5m-24 136h5m78 97h5m-67 -134h5m31 56h5m7 -58h5m-60 27h5m21 -17h5m12 14h5m13 159h5m-14 -147h5m-125 -4h5m91 11h5m-4 -5h5m-13 -41h5m0 58h5m-20 -26h5m3 0h5m66 -82h5m-33 113h5m-81 -31h5m26 -8h5m12 19h5m-7 -8h5m-37 -7h5m10 111h5m22 -86h5m-40 -57h5m-8 -11h5m43 135h5m-52 -74h5m-1 9h5m-3 11h5m-72 -13h5m108 -103h5m-42 91h5m-2 -4h5m2 -3h5m-26 -106h5m-2 23h5m125 97h5m-115 5h5m22 -26h5m-50 3h5m38 19h5m-40 109h5m32 -70h5m-53 -49h5m49 -4h5m-68 -7h5m37 0h5m-20 39h5m-34 -10h5m-18 -57h5m57 92h5m-20 -24h5m-15 -7h5m-51 11h5m114 11h5m-30 -66h5m-38 33h5m-89 23h5m77 -99h5m9 108h5m17 -52h5m-41 7h5m-3 5h5m38 -1h5m-116 -7h5m48 5h5m127 -14h5m-138 25h5m34 -6h5m-37 -1h5m8 39h5m-73 -36h5m18 -18h5m-8 -1h5m88 3h5m-65 -52h5m-39 159h5m75 -110h5m34 -12h5m-90 17h5m58 47h5m-57 -74h5m-56 18h5m-15 29h5m67 79h5m61 -117h5m-120 20h5m1 35h5m33 -37h5m-82 -59h5m116 95h5m82 40h5m-168 -241h5m21 155h5m-94 46h5m68 7h5m-23 -50h5m19 -52h5m-40 68h5m38 -10h5m-12 79h5m-11 -130h5m14 87h5m-7 4h5m32 -25h5m-60 26h5m-64 -38h5m55 18h5m7 -9h5m1 0h5m-7 -55h5m46 63h5m-19 31h5m87 -9h5m-118 -13h5m-38 -80h5m-3 54h5m-28 -7h5m49 6h5m-51 -34h5m-26 31h5m2 23h5m61 -33h5m-59 72h5m6 -117h5m89 56h5m-87 8h5m-13 -14h5m19 24h5m-9 13h5m-106 -22h5m48 -9h5m-76 -11h5m47 36h5m82 -18h5m-115 -7h5m71 -8h5m-5 2h5m-12 1h5m-4 56h5m-4 -88h5m10 46h5m-14 -24h5m-81 -23h5m28 130h5m24 -105h5m109 82h5m-192 -16h5m156 -62h5m-91 5h5m-29 9h5m-64 -33h5m61 17h5m51 -16h5m-38 -7h5m26 -21h5m-53 18h5m-89 0h5m136 -70h5m-53 67h5m-36 35h5m-22 39h5m-34 -3h5m20 -56h5m68 18h5m-26 125h5m-4 -80h5m62 -59h5m-65 -11h5m-12 27h5m40 26h5m-81 92h5m111 -53h5m-123 -35h5m-15 -8h5m112 33h5m-87 -23h5m25 -17h5m-16 59h5m-3 -96h5m16 34h5m21 -35h5m-109 95h5m126 -101h5m-31 58h5m-76 -63h5m-27 75h5m48 -110h5m-87 59h5m10 -24h5m54 60h5m-128 3h5m101 68h5m-45 -79h5m-14 33h5m71 -101h5m-70 57h5m86 59h5m-45 -44h5m36 -18h5m-69 -32h5m38 82h5m-86 -52h5m78 -54h5m-24 19h5m-62 107h5m61 -94h5m31 88h5m-103 -77h5m51 -15h5m14 14h5m-38 125h5m51 -76h5m-24 -7h5m-130 -47h5m169 25h5m-142 -32h5m135 28h5m-91 34h5m-57 7h5m28 -48h5m-28 -94h5m-50 64h5m-7 40h5m58 12h5m63 -6h5m-118 -24h5m-19 14h5m29 -85h5m33 9h5m-64 129h5m141 -135h5m-83 107h5m23 -47h5m-41 146h5m102 -145h5m-31 64h5m-90 -41h5m-34 24h5m97 -9h5m-3 -42h5m-103 12h5m5 62h5m125 -31h5m-113 -38h5m45 74h5m-36 71h5m20 -81h5m-41 -82h5m20 62h5m-59 -33h5m127 57h5m-84 -90h5m57 60h5m-160 35h5m118 -88h5m-55 57h5m-24 73h5m-39 -136h5m23 46h5m-7 -104h5m8 113h5m-24 -73h5m29 6h5m2 159h5m5 -101h5m10 -85h5m17 112h5m-39 -19h5m-36 -43h5m64 65h5m-2 -141h5m-54 135h5m23 -15h5m-130 -18h5m74 -32h5m-3 -1h5m15 67h5m8 -33h5m-67 -57h5m23 5h5m-45 15h5m70 46h5m58 70h5m-116 -153h5m55 78h5m-38 -32h5m-39 32h5m35 7h5m9 26h5m13 -17h5m-88 -9h5m-30 -112h5m131 246h5m-73 -77h5m90 -21h5m-91 -72h5m-10 60h5m-21 30h5m117 -51h5m-39 -42h5m-102 87h5m-101 4h5m138 -56h5m-47 6h5m-42 123h5m67 -32h5m4 -125h5m-27 1h5m-57 17h5m12 13h5m-25 -62h5m25 19h5m-64 28h5m64 -40h5m-92 86h5m100 -83h5m-106 42h5m179 27h5m-153 29h5m66 -130h5m-142 84h5m129 16h5m0 9h5m17 46h5m-104 -106h5m96 106h5m-135 -121h5m125 57h5m-40 84h5m-27 -70h5m-20 10h5m-3 -20h5m46 47h5m-41 -70h5m-42 -3h5m45 78h5m-71 -96h5m36 -4h5m24 -29h5m-51 54h5m3 19h5m-36 -84h5m38 157h5m39 24h5m-11 -144h5m-65 66h5m-102 -54h5m159 76h5m-33 -2h5m17 42h5m-57 -132h5m7 72h5m-29 -34h5m142 -28h5m-212 121h5m143 -119h5m-91 16h5m117 102h5m-126 -122h5m9 -95h5m-80 203h5m136 -39h5m-65 -29h5m-42 -56h5m94 -2h5m-113 -71h5m43 35h5m-71 82h5m168 -16h5m-45 38h5m-5 116h5m-90 -124h5m151 -6h5m-89 73h5m-125 -112h5m128 54h5m-39 41h5m-63 -8h5m46 -108h5m24 140h5m-36 -82h5m-71 13h5m-33 -31h5m-50 34h5m115 -71h5m75 168h5m-13 -1h5m-65 -116h5m-8 17h5m-37 20h5m-45 -98h5m34 69h5m33 3h5m16 78h5m-56 9h5m-32 -67h5m15 5h5m17 55h5m7 -99h5m-54 -14h5m-14 0h5m80 45h5m-139 82h5m153 -15h5m-56 -102h5m8 82h5m-58 -49h5m-65 -26h5m40 -12h5m10 -5h5m51 29h5m-37 23h5m15 -63h5m-70 -64h5m61 100h5m-116 -21h5m160 90h5m-159 -85h5m126 -29h5m-70 94h5m-38 -79h5m49 89h5m-33 53h5m9 -145h5m82 109h5m-76 -120h5m-38 99h5m-13 -100h5m72 106h5m-68 -5h5m-99 -50h5m103 11h5m-56 -17h5m0 73h5m11 -5h5m5 -2h5m-11 -55h5m-57 78h5m136 35h5m-51 -147h5m-74 105h5m111 -32h5m-93 -63h5m60 31h5m19 -68h5m-123 85h5m57 -16h5m-14 1h5m-26 -8h5m89 -63h5m-111 91h5m76 -52h5m-50 -3h5m100 39h5m-111 16h5m37 -103h5m6 48h5m20 69h5m-71 15h5m5 -77h5m-62 54h5m118 -30h5m-117 30h5m-30 -56h5m60 -21h5m-19 77h5m-6 -77h5m81 29h5m-109 35h5m-58 29h5m144 -80h5m-111 41h5m78 12h5m-87 -70h5m151 12h5m-188 -27h5m154 2h5m-61 99h5m57 -60h5m-167 23h5m42 -10h5m90 29h5m-24 -59h5m-52 3h5m-81 18h5m107 20h5m-126 -80h5m-33 12h5m244 89h5m-135 -52h5m-47 -26h5m65 -23h5m-34 -20h5m30 178h5m-69 -87h5m-18 6h5m30 -35h5m-29 -49h5m88 14h5m-50 -7h5m-85 78h5m149 89h5m-195 -189h5m134 155h5m-54 -11h5m-21 81h5m-34 -140h5m16 7h5m-21 2h5m117 59h5m-7 -49h5m-87 27h5m-77 17h5m26 -89h5m-18 2h5m-11 27h5m23 -33h5m95 45h5m-107 -51h5m56 -11h5m11 7h5m-57 77h5m95 -11h5m-60 -15h5m-117 -24h5m138 -7h5m-137 -25h5m107 84h5m-84 -79h5m-76 11h5m167 3h5m-41 28h5m22 -39h5m-81 -31h5m67 98h5m-18 -68h5m-66 66h5m35 20h5m-23 -5h5m-16 -63h5m52 107h5m-18 -26h5m38 -93h5m-12 29h5m-133 57h5m47 -94h5m-5 111h5m-7 -33h5m-34 57h5m22 -79h5m95 15h5m-34 -104h5m-95 135h5m-34 -22h5m38 -52h5m-120 48h5m170 23h5m22 -95h5m-46 28h5m22 29h5m-93 -45h5m45 1h5m-108 32h5m87 92h5m-27 -20h5m-23 -113h5m-53 -4h5m90 6h5m-128 61h5m168 -52h5m-132 34h5m0 46h5m62 36h5m-62 -93h5m66 43h5m78 -35h5m-85 73h5m-28 -158h5m-25 54h5m101 -34h5m-121 93h5m7 -16h5m9 28h5m20 -114h5m-65 1h5m68 64h5m-53 -10h5m-74 91h5m27 -75h5m113 -32h5m-75 84h5m-38 -52h5m-62 32h5m63 -68h5m-15 8h5m-57 -46h5m86 50h5m-89 33h5m57 -91h5m-49 85h5m37 40h5m-48 -8h5m-53 -40h5m146 -9h5m-44 77h5m-46 -80h5m74 -35h5m-37 174h5m-28 -148h5m-71 25h5m195 -40h5m-141 -1h5m-12 45h5m-32 13h5m91 108h5m-83 -86h5m-29 -56h5m5 15h5m14 -29h5m8 49h5m-109 -54h5"/>
<path transform="scale(0.25)" stroke="#0000ff" stroke-width="5" fill="none" d="M0 0m1379 396h5m23 33h5m-72 2h5m77 -3h5m11 2h5m-55 12h5m15 -34h5m60 -3h5m-59 23h5m-27 36h5m52 -72h5m-81 35h5m48 -2h5m-15 0h5m31 8h5m-21 27h5m-17 -59h5m-19 -7h5m31 12h5m16 -75h5m-29 36h5m-24 -6h5m40 90h5m-64 79h5m25 -143h5m-25 75h5m111 21h5m-160 -36h5m8 25h5m41 -43h5m-3 9h5m-7 41h5m-46 10h5m13 -130h5m36 93h5m125 -35h5m-194 29h5m-3 -25h5m-15 -53h5m-9 59h5m35 -117h5m-53 84h5m31 13h5m1 12h5m-28 35h5m7 -178h5m3 144h5m13 59h5m-39 -34h5m-20 14h5m19 -43h5m0 -88h5m3 84h5m-32 23h5m22 -4h5m-18 34h5m6 -38h5m30 -32h5m-50 34h5m-27 -1h5m43 -32h5m-31 0h5m-31 30h5m59 54h5m-45 -46h5m-10 20h5m-100 -37h5m85 21h5m-85 0h5m95 -31h5m-47 116h5m85 -86h5m-45 17h5m-15 -15h5m-75 -46h5m76 -2h5m-6 81h5m21 -56h5m-25 5h5m-6 2h5m-46 -22h5m8 -9h5m-31 61h5m60 -76h5m-8 36h5m-106 1h5m130 50h5m-213 -24h5m153 -32h5m-14 -4h5m-16 4h5m14 24h5m5 53h5m-27 -37h5m14 -18h5m9 -27h5m-121 31h5m102 -8h5m-23 42h5m-20 -62h5m5 1h5m10 -51h5m-32 54h5m11 -7h5m30 22h5m-84 13h5m27 0h5m-10 -8h5m-70 -15h5m80 -44h5m12 52h5m-32 -17h5m-47 -56h5m80 57h5m-15 21h5m-25 -14h5m-1 4h5m-18 75h5m-52 -48h5m133 22h5m-76 -39h5m47 8h5m-50 -32h5m-24 117h5m-39 -106h5m96 -16h5m134 -52h5m-176 69h5m-181 18h5m83 18h5m-60 -20h5m153 23h5m-49 -73h5m3 126h5m83 -55h5m-60 -120h5m-37 99h5m164 -6h5m-162 -66h5m-60 89h5m64 -117h5m-26 -28h5m-113 81h5m81 30h5m-24 26h5m36 -55h5m-96 -40h5m151 32h5m-83 35h5m186 45h5m-289 0h5m22 -13h5m84 -19h5m-131 34h5m73 -97h5m-19 44h5m69 19h5m-31 0h5m-62 -3h5m-74 0h5m91 -33h5m43 119h5m-66 -59h5m-8 -30h5m3 8h5m11 -34h5m-33 69h5m-20 -188h5m47 134h5m4 17h5m-104 -67h5m136 167h5m-118 -103h5m70 -4h5m-16 27h5m-35 -29h5m19 4h5m92 -12h5m-5 18h5m-142 -17h5m28 43h5m-102 -31h5m130 30h5m-54 -71h5m21 -79h5m51 109h5m-93 2h5m53 7h5m-3 -169h5m-35 158h5m28 -9h5m-88 0h5m71 -12h5m-2 75h5m-33 -29h5m-30 35h5m2 -56h5m78 27h5m-81 15h5m9 3h5m-58 -99h5m52 90h5m-10 -9h5m-5 -12h5m61 35h5m-84 -59h5m-29 27h5m-15 -31h5m3 65h5m15 -45h5m55 20h5m-16 -45h5m-61 13h5m-26 25h5m59 26h5m-52 -15h5m11 6h5m11 -18h5m-23 16h5m10 7h5m13 -64h5m1 44h5m-116 29h5m62 -43h5m5 -26h5m-9 26h5m-5 -6h5m17 12h5m13 66h5m-121 -120h5m18 0h5m9 43h5m30 3h5m23 -20h5m-11 34h5m-45 -51h5m64 -34h5m-149 20h5m87 59h5m117 -42h5m-151 68h5m16 -13h5m13 -20h5m-5 -21h5m5 -30h5m-7 28h5m-18 28h5m-100 -3h5m89 -17h5m-32 29h5m-4 0h5m-21 39h5m-4 -30h5m82 -23h5m-8 -21h5m-117 191h5m30 -175h5m69 34h5m-55 -3h5m10 31h5m-53 -76h5m15 13h5m20 21h5m-18 -54h5m-18 8h5m19 41h5m8 -7h5m-65 -21h5m36 -38h5m-7 62h5m15 56h5m53 -90h5m-65 39h5m-22 -39h5m-8 43h5m21 -31h5m-34 14h5m61 2h5m-74 -10h5m14 -20h5m-28 -12h5m3 30h5m-3 15h5m-66 45h5m7 9h5m53 -72h5m105 23h5m-116 13h5m-14 -24h5m-2 11h5m-147 -5h5m180 39h5m-44 -23h5m-2 -16h5m-60 139h5m39 -95h5m10 -42h5m32 64h5m-40 -27h5m-42 -80h5m75 16h5m-189 61h5m60 -93h5m66 69h5m-6 -22h5m34 65h5m-48 -49h5m-65 -5h5m34 -18h5m-21 35h5m36 -33h5m-29 58h5m-3 -96h5m-4 11h5m75 105h5m-65 -47h5m-75 -26h5m33 12h5m10 43h5m88 -18h5m-93 -3h5m52 14h5m-88 -65h5m35 19h5m-13 -2h5m10 -48h5m-116 97h5m92 21h5m-16 -80h5m10 23h5m-15 46h5m10 -8h5m-17 -75h5m-1 4h5m2 78h5m-19 128h5m-31 -187h5m55 -23h5m0 -27h5m-66 38h5m41 -2h5m-2 33h5m-39 -14h5m7 -5h5m15 -3h5m21 19h5m-66 24h5m46 0h5m-40 -9h5m-28 -21h5m14 0h5m8 12h5m-48 14h5m-9 -23h5m-52 2h5m77 6h5m-22 -19h5m-20 98h5m76 -79h5m-62 -31h5m42 -27h5m-22 103h5m-8 -163h5m-13 58h5m-14 96h5m-2 -67h5m-152 5h5m148 31h5m-82 -95h5m65 111h5m-55 -20h5m52 -27h5m-47 -21h5m46 -10h5m-1 -36h5m100 87h5m-127 -10h5m19 -87h5m-68 112h5m34 -82h5m-15 246h5m58 -200h5m-117 33h5m53 11h5m52 -65h5m-48 26h5m-15 -1h5m-4 28h5m-15 -85h5m-2 -9h5m-21 21h5m51 98h5m-20 -146h5m-53 125h5m-93 56h5m108 -157h5m22 89h5m-68 13h5m1 5h5m1 -80h5m-46 51h5m116 32h5m-24 -20h5m-48 -23h5m-4 30h5m-83 -32h5m73 9h5m30 -29h5m-59 26h5m14 -25h5m61 141h5m-19 -121h5m-115 12h5m50 119h5m-13 -182h5m-29 46h5m54 107h5m-33 -77h5m24 -3h5m-77 75h5m88 -126h5m-59 45h5m49 -54h5m-69 7h5m-2 -11h5m33 80h5m-21 17h5m-62 -12h5m17 -121h5m-47 112h5m65 -3h5m-11 -20h5m-66 -26h5m39 52h5m45 -24h5m-18 65h5m7 -117h5m-29 105h5m31 -55h5m3 -63h5m-30 39h5m-22 -77h5m-9 155h5m12 -31h5m-2 -48h5m79 63h5m-154 -47h5m-62 -23h5m119 99h5m0 -39h5m-17 -24h5m-23 9h5m-32 69h5m11 -180h5m1 95h5m11 -20h5m-30 78h5m20 -34h5m-16 -111h5m43 107h5m-49 -42h5m-18 -17h5m-75 60h5m78 -49h5m88 40h5m-55 39h5m-37 -6h5m-41 50h5m67 -20h5m-31 -12h5m20 -18h5m-33 -43h5m-28 -6h5m146 -23h5m-95 68h5m-100 1h5m33 -157h5m9 156h5m4 -31h5m-8 241h5m-24 -264h5m42 -54h5m-16 117h5m-112 61h5m53 -131h5m10 26h5m6 -50h5m-11 64h5m-13 -33h5m42 21h5m-43 -16h5m-6 81h5m-16 -142h5m104 25h5m-99 23h5m-26 53h5m-13 -38h5m31 54h5m-81 -20h5m47 -36h5m-17 72h5m36 -79h5m-103 53h5m88 99h5m8 -108h5m16 33h5m-28 -59h5m-1 -13h5m-66 -4h5m36 -37h5m0 74h5m-105 -7h5m76 -31h5m29 121h5m45 -139h5m-110 -29h5m40 -11h5m5 70h5m-12 -1h5m32 -31h5m-52 45h5m-31 -11h5m11 -15h5m79 125h5m-86 -35h5m3 -122h5m19 141h5m-31 -101h5m-13 15h5m28 -12h5m-101 -80h5m39 79h5m-26 29h5m-25 17h5m62 -28h5m-32 -2h5m10 -2h5m11 -60h5m-6 156h5m19 -138h5m-304 69h5m243 -57h5m-67 92h5m159 -32h5m-100 -38h5m27 19h5m-8 4h5m-71 -22h5m108 -10h5m-81 36h5m-37 -11h5m42 -14h5m-52 14h5m13 62h5m-95 -167h5m155 81h5m-25 1h5m21 56h5m-104 -48h5m104 92h5m-68 -151h5m-17 130h5m22 -101h5m-34 32h5m71 -30h5m-113 58h5m-21 -29h5m1 5h5m108 -1h5m-60 44h5m17 -47h5m-34 51h5m39 -33h5m-54 18h5m4 -44h5m11 11h5m17 13h5m-25 -13h5m-48 -61h5m24 94h5m-7 -35h5m-8 29h5m100 -34h5m-106 -27h5m-59 -31h5m61 117h5m31 -47h5m-161 -38h5m131 26h5m-43 -2h5m7 -18h5m21 78h5m16 -92h5m-28 39h5m10 -82h5m-40 110h5m73 -91h5m-240 114h5m114 -26h5m41 -21h5m4 24h5m27 6h5m-103 -78h5m58 14h5m4 45h5m-42 1h5m-19 -5h5m23 77h5m-239 -45h5m245 3h5m-25 -70h5m0 27h5m-5 -31h5m53 14h5m31 -7h5m-111 12h5m-74 -24h5m61 -21h5m21 67h5m-31 2h5m3 -13h5m-2 7h5m-10 1h5m-28 18h5m25 14h5m-3 -66h5m-35 60h5m31 -153h5m-13 121h5m-48 -12h5m45 18h5m24 -52h5m-42 98h5m-29 -10h5m-4 -14h5m104 -14h5m-109 5h5m25 -126h5m31 100h5m-22 -10h5m-45 -48h5m-15 77h5m64 32h5m-140 -77h5m72 53h5m-81 -22h5m67 7h5m-38 123h5m40 -156h5m-44 19h5m26 95h5m-3 -138h5m-16 92h5m-1 -15h5m-13 -19h5m53 32h5m-46 57h5m-27 -25h5m9 -65h5m-7 -8h5m125 119h5m-121 -109h5m13 104h5m18 -150h5m-49 54h5m-39 18h5m46 -49h5m-20 15h5m-54 -4h5m17 -48h5m72 84h5m-39 15h5m-12 -6h5m43 -38h5m3 -15h5m-112 10h5m52 -64h5m-10 83h5m-132 -85h5m18 49h5m91 -16h5m-17 -11h5m-8 -9h5m-8 36h5m-1 26h5m110 -4h5m-85 -25h5m20 45h5m-13 7h5m-53 -98h5m101 85h5m-68 -27h5m-85 17h5m67 15h5m-101 8h5m19 -59h5m-104 38h5m119 1h5m-6 -19h5m18 27h5m17 -74h5m-38 79h5m44 9h5m-10 -36h5m-99 88h5m17 -43h5m50 -85h5m-92 90h5m91 -133h5m-50 103h5m34 -70h5m10 -4h5m-65 79h5m-59 74h5m56 -157h5m0 42h5m57 -91h5m-59 187h5m-7 -90h5m27 27h5m-44 37h5m20 -106h5m-7 68h5m-18 -8h5m82 -60h5m-68 101h5m26 -7h5m43 -49h5m-111 -77h5m-6 65h5m4 97h5m-15 -75h5m-26 12h5m18 -26h5m-10 150h5m23 -99h5m-18 -51h5m54 3h5m-63 8h5m-13 2h5m0 -23h5m-33 43h5m47 -9h5m-50 -24h5m-19 8h5m-8 -18h5m31 60h5m38 -73h5m-50 73h5m-16 -101h5m13 81h5m-18 45h5m-82 -153h5m109 165h5m-30 -55h5m-32 -70h5m7 85h5m-11 -26h5m10 -15h5m-25 21h5m151 -48h5m-184 38h5m41 18h5m-27 9h5m25 -19h5m-38 -24h5m-47 62h5m13 -99h5m143 70h5m-102 -7h5m-12 -5h5m-18 -67h5m-19 116h5m72 -75h5m-129 10h5m76 -82h5m-2 97h5m-73 29h5m43 -30h5m9 -49h5m12 42h5m-63 66h5m68 -76h5m-6 23h5m-168 75h5m138 -62h5m-9 -41h5m-25 12h5m21 -1h5m-50 156h5m16 -133h5m15 16h5m-37 -50h5m8 -15h5m-10 53h5m103 -6h5m-86 5h5m16 -33h5m-45 -16h5m57 65h5m-69 -33h5m-29 15h5m36 -11h5m-1 -32h5m70 41h5m-85 13h5m-49 -13h5m59 -39h5m-38 -29h5m-7 37h5m-10 2h5m9 7h5m102 -12h5m-112 43h5m-37 -38h5m-72 39h5m85 -24h5m10 -64h5m-21 36h5m-166 35h5m214 11h5m2 4h5m-135 12h5m118 -48h5m-100 3h5m48 17h5m-39 -19h5m161 17h5m-131 36h5m81 -91h5m-60 26h5m-66 7h5m193 46h5m-161 38h5m0 149h5m-79 -240h5m43 49h5m-59 -34h5m7 -3h5m81 -7h5m-46 -13h5m43 21h5m-35 -7h5m-88 -40h5m48 29h5m-34 -13h5m29 -104h5m-7 130h5m-41 -41h5m-18 -3h5m53 78h5m-26 -9h5m-10 37h5m-40 -61h5m20 -13h5m37 72h5m-24 -38h5m-19 4h5m-33 0h5m47 -14h5m28 -7h5m-44 48h5m-73 -14h5m52 -29h5m30 -20h5m-6 23h5m5 29h5m-57 -30h5m27 129h5m-52 -260h5m-11 123h5m55 -38h5m-19 12h5m25 40h5m-20 14h5m23 -37h5m-18 82h5m-67 -44h5m30 62h5m-31 -132h5m0 66h5m42 -31h5m29 13h5m-115 -15h5m25 223h5m5 -208h5m52 -2h5m-84 -5h5m-5 -15h5m3 10h5m-11 -31h5m10 48h5m24 -28h5m-23 166h5m52 -161h5m-43 125h5m92 -101h5m-132 37h5m18 -28h5m-21 -64h5m-99 78h5m109 -22h5m-21 27h5m-198 -12h5m186 -50h5m0 1h5m9 -43h5m-26 73h5m-32 -10h5m31 9h5m76 29h5m-92 -49h5m-6 56h5m-58 -45h5m45 -36h5m25 112h5m-89 -57h5m73 -123h5m-70 282h5m45 -115h5m-13 -22h5m-33 -35h5m14 4h5m5 4h5m-101 43h5m68 -115h5m19 67h5m-16 22h5m7 -34h5m-11 79h5m6 -83h5m-35 43h5m23 -60h5m25 22h5m-32 -12h5m-5 33h5m-9 -18h5m-49 45h5m70 -90h5m-80 119h5m-19 -49h5m97 -28h5m-120 14h5m22 66h5m40 -50h5m-21 -58h5m-16 53h5m-53 -31h5m26 -91h5m-46 66h5m54 18h5m-19 26h5m81 10h5m-43 -32h5m-73 -15h5m34 12h5m90 -14h5m-207 112h5m113 -88h5m-11 26h5m28 -1h5m23 6h5m-11 -32h5m-53 -24h5m-20 38h5m-1 58h5m159 -20h5m-200 -91h5m36 115h5m-10 -60h5m13 -32h5m-48 -42h5m10 24h5m-2 5h5m19 46h5m-3 -41h5m-20 95h5m-27 -39h5m94 -46h5m5 17h5m-65 19h5m25 8h5m-53 1h5m-24 6h5m15 -48h5m-18 1h5m-26 -21h5m19 24h5m-35 -2h5m23 54h5m-14 -80h5m139 134h5m-147 -69h5m4 -32h5m0 -46h5m-11 12h5m-110 -15h5m57 47h5m61 43h5m-65 -15h5m65 -2h5m-8 83h5m19 -102h5m-62 11h5m-5 -81h5m18 95h5m-28 -25h5m50 27h5m-47 -27h5m-76 4h5m33 38h5m13 -12h5m16 -106h5m16 88h5m-57 2h5m-52 -26h5m77 29h5m-10 26h5m-68 -38h5m44 -93h5m18 104h5m-67 1h5m60 -2h5m14 -19h5m-75 78h5m9 -73h5m-23 54h5m-46 -4h5m-25 -50h5m74 37h5m-49 -24h5m36 -7h5m2 5h5m-169 8h5m290 -28h5m-129 18h5m-50 -50h5m48 10h5m-14 21h5m63 51h5m-69 -23h5m-33 22h5m70 -18h5m-43 34h5m-62 12h5m103 -69h5m-69 -53h5m33 57h5m13 -21h5m-56 17h5m43 -98h5m-74 103h5m-9 -41h5m105 -36h5m-90 92h5m-7 -4h5m49 -106h5m-81 103h5m4 -76h5m6 48h5m-14 7h5m4 47h5m33 63h5m-34 -120h5m-21 -46h5m-38 75h5m4 -45h5m35 -9h5m2 91h5m-34 -26h5m25 -15h5m-98 43h5m14 2h5m40 -60h5m-14 34h5m13 -28h5m-33 5h5m106 -21h5m-116 54h5m76 39h5m-80 -57h5m-45 8h5m86 -46h5m-39 45h5m9 34h5m14 -27h5m-27 -30h5m-28 21h5m34 4h5m-43 -31h5m-13 -6h5m-24 47h5m75 -35h5m-33 89h5m-5 -42h5m33 10h5m-20 -54h5m-11 -3h5m-25 25h5m-22 -10h5m-20 20h5m20 -23h5m-9 -27h5m-60 -15h5m32 89h5m41 43h5m-43 -150h5m-63 49h5m93 -15h5m2 73h5m-25 -44h5m-10 79h5m13 -42h5m-104 21h5m104 -76h5m-45 46h5m50 13h5m-102 -41h5m5 77h5m38 -37h5m46 -20h5m-33 19h5m-31 17h5m12 -69h5m-79 28h5m-18 -110h5m97 82h5m-28 5h5m41 22h5m-98 17h5m-22 -103h5m50 86h5m-8 -14h5m0 28h5m-50 -37h5m14 42h5m20 -48h5m37 -18h5m-8 17h5m-87 59h5m3 -80h5m58 118h5m-51 -75h5m61 -76h5m28 41h5m-69 37h5m31 5h5m-70 87h5m19 -23h5m-3 -80h5m97 6h5m-119 119h5m43 -112h5m-52 34h5m5 -56h5m-24 71h5m-179 -85h5m126 4h5m66 0h5m-41 32h5m66 12h5m-30 -30h5m-44 56h5m19 -65h5m113 42h5m-126 -4h5m-41 -21h5m10 -31h5m-9 36h5m-30 32h5m21 -16h5m-65 -12h5m66 -10h5m75 31h5m-137 -120h5m20 75h5m51 -86h5m-145 82h5m62 27h5m33 -77h5m25 47h5m-73 -20h5m69 38h5m-8 -7h5m-44 31h5m35 6h5m-106 -248h5m82 245h5m-29 79h5m51 -160h5m-15 88h5m-16 22h5m3 -73h5m-47 85h5m26 -88h5m-64 13h5m52 26h5m-45 -53h5m71 -1h5m3 40h5m39 -95h5m-139 95h5m-29 8h5m74 5h5m81 -1h5m-62 -20h5m-47 116h5m-34 -97h5m-5 -53h5m50 9h5m-53 185h5m-199 -129h5m181 -53h5m14 -37h5m0 30h5m-59 -23h5m-9 21h5m67 66h5m-157 -25h5m175 -35h5m-95 39h5m-59 -32h5m107 64h5m-43 -38h5m11 -6h5m-16 23h5m10 -72h5m15 42h5m-79 62h5m135 -111h5m-70 19h5m16 78h5m37 -77h5m-72 63h5m-77 -64h5m80 22h5m-16 49h5m38 -24h5m-113 -73h5m15 59h5m278 32h5m-252 31h5m-48 -54h5m7 47h5m-5 24h5m20 -90h5m-45 14h5m-3 2h5m33 57h5m-18 3h5m7 -69h5m-40 -36h5m38 40h5m34 73h5m21 -61h5m-114 -24h5m-71 -40h5m-30 77h5m154 40h5m-50 -109h5m36 63h5m-41 -9h5m5 -33h5m3 37h5m-13 -126h5m-7 158h5m-25 -80h5m2 -17h5m-4 42h5m-4 27h5m-4 -61h5m-29 3h5m10 17h5m-29 25h5m23 -6h5m21 3h5m-108 -8h5m96 25h5m-44 -12h5m20 -14h5m9 -43h5m97 53h5m-99 15h5m-27 8h5m-30 -117h5m-53 107h5m71 -7h5m-10 83h5m-32 -119h5m-16 47h5m42 -50h5m-52 37h5m-37 39h5m55 -94h5m-21 101h5m52 -54h5m-204 -50h5m156 40h5m1 33h5m13 -86h5m-19 102h5m166 -7h5m-182 -20h5m20 -177h5m-30 183h5m-5 -37h5m20 14h5m-58 85h5m82 -38h5m-91 -1h5m32 -70h5m-31 -40h5m-8 112h5m37 -73h5m-66 91h5m41 -130h5m39 49h5m-137 35h5m86 -3h5m-82 -25h5m-23 23h5m34 69h5m31 -138h5m43 19h5m33 50h5m-87 24h5m12 -40h5m72 13h5m-18 -46h5m-61 -51h5m-63 110h5m31 6h5m-14 60h5m-35 -66h5m72 23h5m-97 -53h5m107 33h5m-43 -83h5m-54 82h5m30 -69h5m-3 62h5m-6 -13h5m-20 9h5m-54 26h5m-28 -71h5m105 42h5m10 45h5m-56 -46h5m55 26h5m-73 -27h5m-35 -36h5m110 -10h5m-153 94h5m91 -79h5m-26 -8h5m-62 82h5m49 8h5m-2 -39h5m45 -20h5m-3 -18h5m-110 85h5m108 -52h5m-39 -33h5m-24 67h5m85 -61h5m-39 -20h5m-13 28h5m-65 32h5m17 -46h5m-52 14h5m37 57h5m91 -88h5m-170 108h5m34 -57h5m45 -14h5m-3 -4h5m45 -47h5m-41 237h5m-39 -190h5m-2 -13h5m-36 83h5m-62 -47h5m59 -42h5m106 15h5m-107 -11h5m-12 34h5m-25 47h5m65 -109h5m-40 64h5m-101 -2h5m79 47h5m14 14h5m-1 -63h5m-18 -3h5m-4 -2h5m-50 -35h5m-17 30h5m78 60h5m5 -31h5m-66 19h5m6 -57h5m12 105h5m-2 -96h5m-6 25h5m-26 -94h5m-53 88h5m82 -99h5m-93 36h5m18 7h5m-27 1h5m55 87h5m7 -28h5m-71 -38h5m37 19h5m19 1h5m51 61h5m-53 -25h5m-12 -38h5m-17 -11h5m-49 -109h5m-19 100h5m38 -17h5m34 77h5m8 -68h5m-129 16h5m155 -1h5m-104 -25h5m-44 24h5m56 11h5m-57 48h5m46 -56h5m5 11h5m45 -22h5m-72 21h5m15 -158h5m-11 220h5m112 -78h5m-138 -5h5m49 11h5m-81 33h5m16 73h5m18 -118h5m-54 6h5m19 44h5m55 -57h5m-66 97h5m24 -63h5m-81 -6h5m22 41h5m46 59h5m52 -77h5m-110 -4h5m134 -60h5m-104 41h5m8 129h5m-32 -132h5m4 -7h5m-8 6h5m12 5h5m-49 21h5m1 -28h5m-23 10h5m46 23h5m31 -24h5m-90 1h5m52 25h5m19 -21h5m9 -40h5m-84 24h5m-13 -3h5m-22 62h5m126 -62h5m-114 11h5m7 0h5m-43 23h5m144 -74h5m-106 37h5m-1 31h5m-11 18h5m21 -26h5m-71 -27h5m51 70h5m-25 -117h5m-24 36h5m-4 3h5m132 35h5m-154 9h5m72 -32h5m-152 26h5m111 7h5m58 -4h5m-164 -42h5m107 33h5m-27 -8h5m-21 -8h5m78 2h5m-81 30h5m6 -53h5m-7 64h5m-10 -26h5m-1 93h5m33 -89h5m-54 -10h5m-105 15h5m89 -15h5m92 21h5m-89 -44h5m-27 14h5m30 47h5m-20 -42h5m-42 24h5m48 -28h5m149 0h5m-242 -28h5m115 59h5m-25 -18h5m13 -112h5m-43 118h5m9 58h5m20 -112h5m-51 53h5m29 -7h5m-106 -6h5m-2 -121h5m77 249h5m-2 -119h5m-106 83h5m80 -52h5m5 -46h5m-47 62h5m17 -74h5m31 26h5m35 7h5m29 66h5m-151 -73h5m40 30h5m-8 -180h5m21 87h5m9 117h5m-60 -37h5m16 -29h5m-40 -68h5m-1 70h5m85 35h5m-120 -24h5m5 -14h5m36 8h5m2 7h5m0 28h5m126 -28h5m-142 50h5m-31 -75h5m48 38h5m21 2h5m-79 -57h5m-35 19h5m37 76h5m54 -170h5m-30 174h5m25 -33h5m-64 -60h5m-20 -43h5m47 65h5m-13 67h5m82 -66h5m-178 12h5m43 38h5m-59 -109h5m55 178h5m-33 -74h5m69 -53h5m-42 -55h5m-30 92h5m24 -22h5m-15 3h5m-8 -105h5m-28 123h5m33 18h5m-21 -76h5m1 53h5m-40 -15h5m34 28h5m32 -76h5m-24 43h5m-15 -5h5m-18 -2h5m-11 -53h5m-43 133h5m24 -126h5m52 -4h5m130 37h5m-107 31h5m-75 -11h5m4 -29h5m-71 25h5m72 -3h5m-45 -29h5m-9 55h5m-45 53h5m43 -91h5m31 -9h5m-104 21h5m42 -46h5m21 57h5m-16 13h5m-9 -26h5m-43 56h5m57 -22h5m-16 -78h5m-11 81h5m35 -5h5m37 -78h5m-110 25h5m25 37h5m5 -8h5m-18 -21h5m-75 16h5m125 40h5m-44 -33h5m-37 -26h5m13 94h5m-51 -58h5m86 -6h5m-31 1h5m-46 -38h5m-17 9h5m-47 40h5m152 -100h5m-99 -34h5m-135 100h5m112 19h5m91 -8h5m-80 -8h5m-4 -33h5m-36 -6h5m18 60h5m25 12h5m-33 -7h5m-2 27h5m-73 -13h5m70 -25h5m-17 15h5m-20 5h5m27 -30h5m-72 -49h5m62 68h5m-8 25h5m-31 -6h5m50 -28h5m-44 -47h5m77 19h5m-122 42h5m30 11h5m40 -91h5m-38 -7h5m-42 -7h5m54 126h5m9 -74h5m-48 46h5m10 16h5m-24 -50h5m-49 0h5m40 4h5m-114 1h5m86 17h5m53 30h5m-43 -11h5m93 -33h5m-51 -7h5m22 31h5m30 7h5m-154 -45h5m1 19h5m-60 -85h5m133 56h5m-96 73h5m-18 -11h5m41 -51h5m-56 5h5m80 154h5m6 -99h5m-25 10h5m53 -63h5m-110 87h5m14 -96h5m14 84h5m14 -101h5m55 56h5m-160 -80h5m67 96h5m13 -58h5m-4 61h5m-9 -79h5m9 -66h5m-31 66h5m49 103h5m-123 5h5m135 -92h5m-92 114h5m-39 -136h5m69 19h5m40 8h5m-61 119h5m-82 -140h5m115 7h5m-178 32h5m87 57h5m45 -55h5m-79 22h5m55 -4h5m-2 6h5m71 62h5m-63 3h5m-50 -103h5m-13 39h5m-76 27h5m117 -75h5m17 33h5m-102 -108h5m58 20h5m-26 100h5m-29 -58h5m54 31h5m-149 40h5m106 19h5m-98 -1h5m113 -24h5m-65 -29h5m31 20h5m-98 21h5m93 -29h5m44 -26h5m-53 26h5m49 -60h5m-80 12h5m-83 82h5m130 -57h5m-77 18h5m92 6h5m-81 29h5m26 36h5m17 -33h5m-54 -35h5m-50 -24h5m8 39h5m67 38h5m-94 -29h5m55 -1h5m-51 -29h5m42 -19h5m-4 42h5m-96 -7h5m133 93h5m-79 -13h5m6 -98h5m42 5h5m-81 -14h5m-1 -40h5m50 179h5m39 -101h5m-120 -50h5m-48 109h5m65 -75h5m-63 35h5m153 -40h5m-117 -82h5m19 172h5m98 -54h5m-57 12h5m-48 23h5m67 -78h5m-174 -36h5m41 68h5m27 2h5m89 -37h5m-73 -7h5m-45 97h5m-48 -128h5m185 64h5m-185 -18h5m18 -25h5m-14 15h5m122 -52h5m-6 66h5m-67 5h5m-86 7h5m60 -70h5m-79 107h5m21 -38h5m89 12h5m-141 32h5m75 -155h5m-138 134h5m206 -44h5m-61 -50h5m-81 120h5m58 -41h5m23 14h5m36 -40h5m-114 27h5m54 4h5m-73 57h5m73 -50h5m-86 55h5m-10 -162h5m79 63h5m-130 69h5m105 -5h5m-26 8h5m28 -129h5m-47 151h5m-40 -3h5m2 -83h5m26 -119h5m-90 141h5m72 -25h5m-69 94h5m97 -124h5m-26 76h5m-25 -100h5m-27 131h5m142 -113h5m-104 28h5m9 -30h5m-39 120h5m11 -90h5m-26 -62h5m24 27h5m-46 37h5m-23 59h5m-55 -46h5m56 -64h5m47 36h5m-26 50h5m-17 -45h5m-28 88h5m1 -78h5m131 -30h5m-130 -1h5m-32 40h5m41 22h5m1 -91h5m-32 85h5m6 -39h5m-12 30h5m-44 24h5m-19 24h5m-28 -104h5m59 -26h5m5 55h5m73 34h5m-111 24h5m162 -43h5m-179 122h5m64 -100h5m-43 -34h5m90 -87h5m-18 39h5m-5 170h5m-113 -96h5m32 2h5m-23 -24h5m34 -3h5m34 53h5m-83 -108h5m-49 49h5m88 41h5m28 -10h5m-12 -82h5m-91 53h5m47 110h5m-15 -11h5m-42 -90h5m-12 -43h5m48 62h5m29 25h5m-49 47h5m-52 -64h5m-23 -89h5m27 122h5m-19 -14h5m50 -30h5m-20 -18h5m97 67h5m-108 -52h5m-111 -26h5m144 11h5m-7 19h5m-90 -48h5m53 12h5m66 79h5m-33 21h5m-45 -9h5m3 -41h5m47 19h5m-85 -15h5m70 -50h5m72 34h5m-135 -12h5m20 -103h5m-46 200h5m4 -19h5m-74 67h5m3 -69h5m63 -43h5m42 -57h5m49 55h5m-93 -64h5m10 35h5m-12 -13h5m-64 -66h5m48 115h5m-77 -66h5m28 55h5m34 -70h5m39 -29h5m-71 25h5m36 48h5m-45 29h5m15 -14h5m59 -78h5m-99 43h5m18 21h5m-56 -18h5m11 -48h5m-15 85h5m81 -16h5m53 -41h5m-98 79h5m-86 -61h5m88 57h5m-4 11h5m-66 15h5m36 -26h5m-45 61h5m69 -51h5m-31 -24h5m-53 -1h5m20 -45h5m108 45h5m-210 -123h5m58 78h5m22 -4h5m-43 -124h5m23 153h5m-28 -104h5m48 84h5m-41 28h5m16 -50h5m-12 25h5m-3 -37h5m-16 -18h5m-82 -4h5m108 111h5m9 -43h5m-35 -105h5m-12 127h5m17 5h5m-59 -27h5m-29 47h5m5 -153h5m29 76h5m7 91h5m49 -7h5m-98 23h5m45 -54h5m-73 -2h5m30 -92h5m61 131h5m-85 -64h5m-23 -51h5m84 38h5m-58 1h5m67 -22h5m-119 -36h5m8 34h5m141 26h5m-34 96h5m-68 -82h5m8 5h5m-32 -60h5m32 101h5m-75 -3h5m79 -22h5m-31 16h5m23 -105h5m43 90h5m-12 63h5m-116 -150h5m61 82h5m-24 58h5m-19 -79h5m-17 62h5m-14 -56h5m8 7h5m-36 -43h5m-25 76h5m40 -57h5m67 70h5m5 -6h5m-68 -101h5m-78 24h5m147 44h5m-100 -52h5m6 40h5m64 -44h5m-100 -39h5m33 40h5m42 52h5m-121 36h5m7 -47h5m69 -35h5m10 99h5m28 -21h5m-145 85h5m30 -79h5m-36 -34h5m25 -121h5m144 158h5m-30 -58h5m-49 -5h5m90 27h5m-195 -41h5m-43 -6h5m-60 65h5m50 -12h5m60 -53h5m44 -18h5m-113 67h5m96 107h5m-84 -151h5m70 33h5m17 114h5m-40 -129h5m2 10h5m-7 -21h5m4 9h5m-85 71h5m83 -46h5m-52 33h5m69 45h5m-142 -113h5m128 30h5m-40 3h5m26 33h5m-110 -36h5m58 -43h5m17 8h5m-95 58h5m103 -36h5m-130 38h5m62 -42h5m43 -68h5m-35 8h5m-94 89h5m66 -85h5m-25 100h5m-38 -31h5m27 -17h5m66 -21h5m-15 72h5m57 -100h5m-129 57h5m92 14h5m-126 60h5m75 34h5m-62 -77h5m-14 -31h5m149 -75h5m-148 129h5m56 -104h5m-8 97h5m-141 -9h5m138 -115h5m-30 31h5m-98 59h5m98 38h5m-23 -106h5m-47 153h5m61 -87h5m-12 -43h5m91 81h5m-151 -49h5m111 -80h5m-106 89h5m10 57h5m-40 -65h5m-3 32h5m45 -18h5m-78 -61h5m46 156h5m-83 1h5m60 -25h5m19 -68h5m-73 0h5m34 50h5m71 -45h5m-57 -28h5m-46 -50h5m3 126h5m102 -18h5m-150 11h5m52 -44h5m33 51h5m-52 -77h5m-36 3h5m39 8h5m79 -43h5m-11 90h5m-42 -80h5m47 48h5m-23 -55h5m-97 -72h5m31 193h5m-35 -81h5m78 -41h5m-42 96h5m-9 -40h5m-40 -66h5m-35 48h5m59 -23h5m43 101h5m-54 3h5m-40 -143h5m-119 102h5m163 -96h5m-45 103h5m60 11h5m-81 -97h5m-49 44h5m8 -49h5m93 76h5m-36 -14h5m-8 86h5m-152 -73h5m123 -73h5m-21 31h5m-34 -12h5m82 125h5m-74 -19h5m136 -142h5m-118 113h5m-49 -179h5m-10 56h5m116 207h5m-170 -116h5m64 -101h5m70 54h5m-77 43h5m-7 15h5m-64 -6h5m76 0h5m4 -41h5m2 82h5m12 -32h5m-72 -33h5m63 -75h5m-40 39h5m-22 -29h5m21 -32h5m35 163h5m30 -88h5m-145 60h5m37 -7h5m58 14h5m-53 -68h5m-21 128h5m124 -62h5m-151 -35h5m13 8h5m-17 12h5m-13 -39h5m2 -21h5m-2 114h5m5 -45h5m46 -7h5m-69 1h5m16 41h5m-52 -55h5m-33 -76h5m49 83h5m-77 -16h5m34 29h5m63 -53h5m7 21h5m10 -14h5m-50 15h5m-69 41h5m120 -63h5m-31 57h5m-34 -20h5m31 6h5m-74 -45h5m36 31h5m44 -55h5m-65 15h5m-57 55h5m-12 -112h5m108 99h5m-101 -78h5m62 101h5m-4 -29h5m-89 54h5m4 -71h5m28 -2h5m-53 -10h5m65 6h5m-24 73h5m-78 -103h5m15 119h5m94 -16h5m56 26h5m-50 -69h5m-74 -59h5m-17 4h5m-43 6h5m60 22h5m-13 8h5m36 -50h5m-39 56h5m-44 -36h5m74 -37h5m-66 14h5m23 129h5m17 -54h5m8 4h5m-23 36h5m-88 -59h5m64 -22h5m-2 -7h5m44 61h5m26 -82h5m-114 110h5m8 -7h5m-93 33h5m-4 -94h5m4 -32h5m78 69h5m-75 -124h5m135 120h5m-51 -27h5m30 -1h5m-51 111h5m83 -136h5m-229 93h5m36 -58h5m127 -64h5m-128 0h5m-46 71h5m161 -28h5m-45 75h5m-144 -76h5m126 35h5m-32 3h5m12 -106h5m-53 14h5m60 133h5m8 -142h5m-32 161h5m32 -19h5m-22 -100h5m-71 154h5m73 -98h5m11 -19h5m-148 88h5m86 -65h5m20 57h5m-33 -13h5m99 -32h5m-109 42h5m19 -142h5m-10 49h5m51 -60h5m46 2h5m-114 54h5m-33 29h5m44 16h5m-55 -82h5m73 40h5m12 60h5m-139 -35h5m164 -80h5m-112 78h5m-104 -33h5m39 15h5m28 88h5m-22 11h5m2 47h5m53 -129h5m59 64h5m-36 -110h5m-143 -9h5m34 84h5m-48 -29h5m81 2h5m-46 4h5m115 -70h5m-125 47h5m21 0h5m89 81h5m-36 40h5m-155 -133h5m93 66h5m13 -52h5m-30 39h5m-34 -72h5m49 27h5m3 -41h5m28 75h5m-66 -41h5m-4 -5h5m-15 -40h5m-37 43h5m-5 4h5m43 54h5m-77 -57h5m89 40h5m-33 -1h5m-43 4h5m26 -29h5m-43 17h5m11 -81h5m0 1h5m93 66h5m-110 56h5m119 4h5m-51 -173h5m-66 78h5m-14 27h5m59 17h5m0 -64h5m-82 41h5m-43 -47h5m113 108h5m-94 11h5m-36 -16h5m-36 -70h5m42 42h5m13 -13h5m133 54h5m-199 -11h5m110 -91h5m-48 16h5m54 47h5m-87 -59h5m14 -67h5m81 56h5m-61 97h5m-24 -62h5m-8 -24h5m104 8h5m-131 68h5m4 -41h5m65 53h5m-8 8h5m-17 -3h5m-89 -96h5m24 131h5m156 -107h5m-145 61h5m43 -4h5m33 22h5m-44 2h5m-141 -22h5m138 -41h5m11 53h5m-86 -9h5m-19 40h5m-38 -60h5m-36 20h5m121 -21h5m-58 28h5m-68 -3h5m23 -21h5m40 -85h5m31 135h5m-87 -57h5m57 27h5m69 -120h5m-63 111h5m-28 -135h5m-16 77h5m35 -4h5m0 -78h5m-37 60h5m23 42h5m57 85h5m21 -75h5m-133 62h5m-113 -70h5m147 -14h5m6 -34h5m-79 136h5m64 -110h5m-41 -6h5m-51 -47h5m11 143h5m60 -47h5m21 38h5m-101 -156h5m102 161h5m-71 25h5m-1 -98h5m36 132h5m-41 -158h5m10 108h5m22 -90h5m-8 12h5m-14 20h5m-33 12h5m-25 83h5m-25 -51h5m59 -60h5m-70 29h5m-34 58h5m32 -33h5m51 -16h5m20 -73h5m-43 70h5m-116 -10h5m246 9h5m-326 15h5m123 -108h5m95 92h5m-114 -39h5m98 62h5m-33 21h5m-48 -99h5m67 47h5m-113 -23h5m81 14h5m-34 26h5m8 7h5m8 -12h5m-33 -23h5m-21 52h5m28 13h5m-47 -16h5m-20 -138h5m-39 78h5m87 -120h5m-89 136h5m8 7h5m91 6h5m-71 32h5m6 -107h5m49 144h5m-35 -112h5m-63 -3h5m-84 -4h5m116 44h5m-51 -105h5m-41 79h5m44 -17h5m79 64h5m42 -64h5m-113 11h5m103 70h5m-104 30h5m21 -68h5m18 4h5m56 -78h5m-117 111h5m28 -22h5m56 -100h5m-93 114h5m-9 22h5m-36 -65h5m66 -93h5m-98 104h5m53 -28h5m-18 -11h5m-92 -7h5m37 -2h5m-46 50h5m61 -45h5m93 -65h5m-116 93h5m-22 105h5m-19 -72h5m-58 24h5m137 16h5m-38 -121h5m5 78h5m15 10h5m-11 -112h5m74 130h5m-25 -66h5m4 136h5m-197 -174h5m52 55h5m-27 57h5m52 -47h5m47 6h5m-10 -32h5m27 -3h5m-39 65h5m-92 -64h5m32 2h5m-32 -29h5m59 -5h5m-29 -86h5m-3 124h5m21 116h5m63 -89h5m-125 -12h5m41 -7h5m-80 106h5m34 -74h5m16 38h5m-112 -134h5m123 79h5m10 -57h5m-129 153h5m94 -76h5m13 -55h5m47 -44h5m-95 76h5m-6 -60h5m24 36h5m-77 76h5m115 50h5m-77 -194h5m-84 27h5m70 100h5m-106 -8h5m106 19h5m-62 -70h5m104 40h5m-61 -54h5m-12 134h5m68 -194h5m7 96h5m-57 35h5m39 -86h5m-108 45h5m69 -66h5m15 112h5m-41 -27h5m-45 -26h5m82 7h5m-85 -38h5m31 128h5m-41 -122h5m-24 -29h5m-17 50h5m106 53h5m-133 17h5m28 -41h5m-86 -59h5"/>
<rect x="267.80" y="19.30" width="176.90" height="172.75" fill="none" stroke="#000" stroke-width="1.5"/>
<path stroke="#000" stroke-width="1" d="M356.25 192.05v-1.90M356.25 19.30v1.90M267.80 105.67h1.90M444.70 105.67h-1.90"/>
<text x="355.85" y="12.60" font-size="9.60" text-anchor="middle" letter-spacing="0.25" stroke="#000" stroke-width="0.12">2nd stage</text>
<text x="265.10" y="22.00" font-size="8.80" text-anchor="end" stroke="#000" stroke-width="0.1">0.5</text>
<text x="265.10" y="108.38" font-size="8.80" text-anchor="end" stroke="#000" stroke-width="0.1">0</text>
<text x="265.10" y="194.75" font-size="8.80" text-anchor="end" stroke="#000" stroke-width="0.1">−0.5</text>
<text x="264.80" y="200.65" font-size="8.80" text-anchor="middle" stroke="#000" stroke-width="0.1">−0.5</text>
<text x="356.25" y="200.65" font-size="8.80" text-anchor="middle" stroke="#000" stroke-width="0.1">0</text>
<text x="444.70" y="200.65" font-size="8.80" text-anchor="middle" stroke="#000" stroke-width="0.1">0.5</text>
<text x="355.85" y="210.25" font-size="9" text-anchor="middle">δ<tspan font-size="7" dy="4.3">x</tspan></text>
<text transform="translate(247.90 105.58) rotate(-90)" font-size="9" text-anchor="middle">δ<tspan font-size="7" dy="4.2" dx="0.4">y</tspan></text>
<rect x="270.00" y="135.60" width="60.60" height="54.30" fill="#fff" stroke="#383838" stroke-width="1.5"/>
<path fill="none" stroke="#8a8a8a" stroke-width="1" d="M271.20 136.60V188.70H329.60"/>
<text x="272.20" y="145.60" font-size="9.6" style="white-space:pre">μ<tspan font-size="8" dy="5">x</tspan><tspan dy="-5" stroke="#000" stroke-width="0.45"> = </tspan><tspan stroke="#000" stroke-width="0.1">0.0048</tspan></text>
<text x="272.20" y="158.00" font-size="9.6" style="white-space:pre">μ<tspan font-size="8" dy="5">y</tspan><tspan dy="-5" stroke="#000" stroke-width="0.45"> = </tspan><tspan stroke="#000" stroke-width="0.1">−0.0012</tspan></text>
<text x="272.20" y="170.40" font-size="9.6" style="white-space:pre">σ<tspan font-size="8" dy="5">x</tspan><tspan dy="-5" stroke="#000" stroke-width="0.45"> = </tspan><tspan stroke="#000" stroke-width="0.1">0.0606</tspan></text>
<text x="272.20" y="182.80" font-size="9.6" style="white-space:pre">σ<tspan font-size="8" dy="5">y</tspan><tspan dy="-5" stroke="#000" stroke-width="0.45"> = </tspan><tspan stroke="#000" stroke-width="0.1">0.0613</tspan></text>
<path transform="scale(0.25)" stroke="#ff0000" stroke-opacity="0.45" stroke-width="5" fill="none" d="M0 0m2061 401h5m385 26h5m-150 64h5m-21 103h5m183 -193h5m-107 8h5m-203 -52h5m164 86h5m33 -72h5m-117 6h5m-51 -98h5m382 120h5m-437 3h5m78 95h5m56 -258h5m-68 384h5m86 -150h5m-28 -166h5m-93 98h5m122 -115h5m-21 149h5m-53 -93h5m104 87h5m-231 44h5m197 -100h5m-140 -50h5m20 75h5m-54 65h5m-93 -55h5m91 7h5m-5 -140h5m-128 40h5m78 145h5m-33 46h5m134 -85h5m63 28h5m-53 48h5m-133 47h5m111 -150h5m24 -63h5m-129 54h5m-59 -25h5m16 117h5m46 57h5m37 -213h5m47 168h5m-64 10h5m130 21h5m-229 -43h5m64 32h5m105 -113h5m-6 -40h5m-137 -208h5m-89 315h5m79 16h5m56 21h5m140 -62h5m-61 58h5m-275 -46h5m156 -110h5m19 150h5m-59 -2h5m95 -131h5m-6 112h5m-68 -295h5m61 51h5m-111 309h5m55 6h5m-67 -54h5m211 3h5m-229 -108h5m-92 35h5m201 36h5m149 2h5m-314 -67h5m144 91h5m21 -75h5m8 29h5m-371 -8h5m363 17h5m-206 -23h5m265 -123h5m-233 46h5m152 13h5m-250 75h5m86 36h5m9 33h5m-82 -76h5m40 42h5m118 -174h5m-51 221h5m-91 -103h5m49 -89h5m24 229h5m26 -286h5m-17 228h5m-223 -73h5m273 -26h5m29 21h5m-141 -83h5m113 54h5m-246 34h5m187 -77h5m-116 116h5m60 -134h5m44 53h5m94 -26h5m-177 -32h5m-100 52h5m51 -83h5m-60 193h5m89 -148h5m119 124h5m64 1h5m-108 -57h5m-157 54h5m26 -75h5m-26 28h5m122 -247h5m261 264h5m-222 -3h5m-25 -24h5m143 30h5m-230 114h5m18 -316h5m28 158h5m108 43h5m-82 185h5m-237 -183h5m205 15h5m-49 65h5m-121 -111h5m8 -125h5m-32 203h5m273 -17h5m-69 -30h5m-104 183h5m-127 -227h5m72 230h5m31 -71h5m-100 -75h5m92 80h5m-185 2h5m75 -30h5m276 -124h5m-1 167h5m-371 -178h5m126 104h5m-24 -25h5m-10 -93h5m8 96h5m137 64h5m-147 -60h5m90 -279h5m99 213h5m-242 -24h5m130 141h5m0 -43h5m-63 57h5m-93 -103h5m3 -9h5m196 58h5m-124 -311h5m-82 276h5m11 -4h5m87 183h5m-247 -206h5m58 -31h5m235 13h5m-118 83h5m72 -136h5m-207 -55h5m75 108h5m41 79h5m-84 -34h5m-15 -59h5m-30 114h5m159 -162h5m-66 -44h5m-138 128h5m313 -3h5m-146 108h5m98 -19h5m-145 -154h5m-125 172h5m194 -235h5m13 176h5m70 -2h5m-162 24h5m37 -131h5m-136 -22h5m86 309h5m-84 -262h5m87 120h5m8 -4h5m-126 -106h5m105 116h5m35 40h5m-41 -236h5m-120 67h5m60 -128h5m100 88h5m55 81h5m-35 77h5m-168 -49h5m87 -111h5m-84 303h5m38 -151h5m-24 -216h5m-127 117h5m217 80h5m31 133h5m-203 -293h5m23 133h5m186 -55h5m-22 -7h5m-145 117h5m-83 -170h5m74 157h5m-11 146h5m125 -202h5m-115 -119h5m28 196h5m-56 15h5m-65 -73h5m318 20h5m-73 -170h5m-271 63h5m73 -80h5m-3 3h5m4 252h5m-299 -123h5m249 -47h5m13 6h5m-114 44h5m142 -135h5m51 42h5m-117 264h5m275 -183h5m-234 -134h5m-25 205h5m-34 -138h5m171 118h5m-4 -115h5m-36 80h5m-216 0h5m-4 56h5m194 -35h5m-20 -180h5m-177 149h5m111 154h5m257 -188h5m-330 84h5m216 -178h5m-176 290h5m19 -274h5m-124 -11h5m373 110h5m-218 65h5m-190 -27h5m169 -97h5m-140 69h5m209 36h5m-72 -122h5m-206 -41h5m125 -40h5m-83 218h5m83 55h5m18 -155h5m-103 46h5m-51 -45h5m185 -21h5m84 83h5m-273 25h5m129 40h5m72 -63h5m-135 76h5m6 90h5m40 -275h5m-129 88h5m78 150h5m86 -114h5m-46 72h5m-5 108h5m-282 -201h5m54 -31h5m232 -52h5m19 53h5m-36 -74h5m-10 200h5m-54 -1h5m57 -20h5m-52 -2h5m79 -83h5m-280 10h5m152 139h5m34 -64h5m-152 -139h5m105 189h5m86 -161h5m-40 -48h5m85 107h5m-97 110h5m223 -202h5m-278 147h5m-121 -145h5m242 18h5m-73 4h5m-58 -224h5m63 205h5m31 56h5m-93 -88h5m-77 245h5m149 -257h5m64 100h5m-330 167h5m216 -55h5m-129 -49h5m79 28h5m-21 20h5m-111 -80h5m-71 -48h5m225 137h5m-111 -178h5m116 128h5m-106 -202h5m7 418h5m17 -429h5m58 132h5m6 -18h5m55 89h5m-63 -24h5m52 -160h5m-112 188h5m72 11h5m-31 -43h5m-159 -44h5m152 44h5m12 -7h5m-127 -263h5m-54 144h5m-55 179h5m-37 -18h5m-62 14h5m109 -37h5m177 108h5m-175 -170h5m73 -141h5m-14 273h5m20 -177h5m-85 119h5m-80 89h5m234 -106h5m54 -22h5m-281 -21h5m130 236h5m-133 -342h5m-160 104h5m306 79h5m-163 -74h5m146 76h5m67 -46h5m-133 71h5m47 -34h5m32 -132h5m-52 -5h5m34 173h5m-200 -73h5m136 -105h5m19 -6h5m84 12h5m-35 110h5m-119 37h5m0 80h5m1 146h5m-145 -284h5m222 -31h5m-40 -139h5m-173 172h5m186 31h5m-62 43h5m107 8h5m-90 -12h5m-44 -296h5m136 201h5m-41 3h5m-14 217h5m141 -228h5m-121 20h5m-81 59h5m-56 -346h5m7 187h5m32 228h5m107 -134h5m-53 47h5m-224 -65h5m-110 17h5m262 49h5m-157 -45h5m146 -97h5m-89 -92h5m97 241h5m-19 122h5m55 -97h5m88 -64h5m-255 -211h5m-73 262h5m195 -206h5m-238 169h5m-66 -37h5m100 -25h5m300 -55h5m-160 137h5m-72 102h5m-56 -192h5m-21 29h5m-101 27h5m204 123h5m23 -173h5m-41 -156h5m-131 92h5m31 211h5m121 -80h5m7 -107h5m-191 40h5m250 44h5m-228 -7h5m140 130h5m-119 -302h5m-258 179h5m294 -90h5m115 49h5m-81 -214h5m151 144h5m-297 89h5m175 -147h5m-204 200h5m-46 45h5m148 -160h5m49 -59h5m111 140h5m-272 -27h5m94 115h5m-110 -98h5m-26 119h5m297 -108h5m-192 -85h5m-49 111h5m85 31h5m-160 -85h5m95 102h5m58 -272h5m-101 86h5m-86 111h5m108 173h5m110 -204h5m51 -55h5m-161 -145h5m7 314h5m-60 -142h5m191 -36h5m-183 161h5m-46 -92h5m74 -67h5m144 89h5m-250 -226h5m-30 216h5m132 -204h5m37 279h5m-184 -43h5m27 -49h5m76 -64h5m-3 182h5m-51 107h5m-23 -117h5m118 -43h5m-133 -50h5m1 41h5m29 37h5m118 -57h5m-173 -94h5m54 -90h5m-70 166h5m8 -4h5m-14 42h5m190 -54h5m-84 95h5m10 -153h5m-89 184h5m111 -161h5m-108 238h5m21 -79h5m249 -142h5m-564 33h5m196 -1h5m50 -123h5m-173 64h5m237 168h5m-155 -59h5m-18 42h5m-134 -107h5m329 12h5m-43 100h5m268 -84h5m-295 64h5m-174 -50h5m150 -220h5m81 160h5m-200 28h5m148 -151h5m-18 222h5m13 157h5m-7 -322h5m-51 -69h5m17 115h5m-19 173h5m-65 -306h5m-55 183h5m66 155h5m-13 -79h5m-57 109h5m60 -103h5m-39 76h5m-90 -141h5m141 -209h5m0 68h5m-139 119h5m35 26h5m262 74h5m-184 -216h5m86 146h5m0 -108h5m-151 34h5m-31 101h5m65 -141h5m-35 -23h5m18 267h5m-21 -202h5m-67 72h5m38 -60h5m45 132h5m-29 -204h5m-20 49h5m161 204h5m-262 -115h5m227 -12h5m17 -7h5m-130 176h5m36 -128h5m-179 -71h5m159 107h5m-49 8h5m-101 -71h5m261 16h5m-175 -285h5m-98 293h5m55 33h5m-53 -28h5m189 -173h5m-60 169h5m29 -50h5m-377 44h5m377 -30h5m-213 3h5m46 -36h5m102 73h5m59 35h5m-132 9h5m96 -127h5"/>
<path transform="scale(0.25)" stroke="#ff0000" stroke-width="5" fill="none" d="M0 0m2331 413h5m-65 -66h5m188 59h5m-142 34h5m-104 21h5m-35 21h5m99 -73h5m-174 -23h5m108 13h5m-179 68h5m191 10h5m6 -168h5m87 267h5m-154 -101h5m140 -140h5m-101 191h5m10 -149h5m-142 -66h5m207 164h5m-1 -116h5m-171 21h5m-21 51h5m224 24h5m-42 -159h5m-137 85h5m27 91h5m216 -23h5m-105 -99h5m-200 100h5m38 20h5m252 -92h5m-135 63h5m-25 -7h5m-12 -99h5m124 122h5m-196 -25h5m92 -96h5m-187 43h5m86 -21h5m61 -45h5m-148 279h5m146 -210h5m-92 135h5m-33 96h5m-122 -268h5m169 208h5m100 -112h5m-57 37h5m-25 -127h5m40 166h5m-187 14h5m-38 -206h5m96 50h5m40 136h5m5 -78h5m-198 -24h5m62 13h5m96 -64h5m34 116h5m-174 27h5m359 -78h5m-340 71h5m190 47h5m-201 -67h5m149 -91h5m16 42h5m-78 -160h5m63 152h5m47 40h5m-263 -30h5m138 94h5m108 -165h5m-88 150h5m-36 -151h5m-41 228h5m64 -275h5m-149 149h5m74 198h5m59 -161h5m-147 -114h5m246 -19h5m-276 70h5m-21 2h5m125 77h5m-14 105h5m37 -255h5m-85 134h5m5 -13h5m66 -165h5m-91 68h5m243 7h5m-220 127h5m-30 25h5m47 -1h5m9 -259h5m140 160h5m-223 -83h5m18 -28h5m-36 47h5m-12 66h5m169 -18h5m-147 117h5m1 48h5m-122 -160h5m223 101h5m-87 -198h5m-21 203h5m181 -92h5m-292 -56h5m268 114h5m-184 44h5m51 -74h5m-189 -54h5m153 77h5m-128 -83h5m-63 59h5m13 -98h5m125 112h5m-85 -99h5m200 60h5m-149 56h5m-85 -141h5m-5 -18h5m-78 96h5m316 -22h5m-195 -79h5m88 7h5m-16 166h5m88 -54h5m-94 61h5m-84 -31h5m201 -95h5m-178 -67h5m42 165h5m-40 7h5m88 20h5m-128 -51h5m117 -154h5m-284 101h5m210 148h5m16 -197h5m32 163h5m-34 -275h5m-111 125h5m201 27h5m-205 117h5m-63 -217h5m28 264h5m55 -218h5m-127 51h5m9 156h5m57 -103h5m37 38h5m127 -198h5m-129 -15h5m-107 147h5m-7 16h5m262 -18h5m-96 47h5m-94 -107h5m152 50h5m-22 -23h5m-231 29h5m16 81h5m-8 -46h5m-97 -62h5m39 65h5m93 12h5m120 -67h5m92 36h5m-216 47h5m117 -55h5m28 73h5m169 -67h5m-281 -110h5m33 151h5m-35 -161h5m8 7h5m-160 83h5m222 -80h5m-118 5h5m7 266h5m47 -312h5m18 41h5m-286 106h5m89 80h5m42 63h5m-190 -102h5m275 -208h5m-21 309h5m126 -164h5m-55 27h5m-47 -49h5m-112 -28h5m28 194h5m155 -122h5m-394 -14h5m148 77h5m93 2h5m-6 -213h5m-10 277h5m-90 -163h5m-16 9h5m138 59h5m-129 -61h5m-2 40h5m8 38h5m89 -125h5m-100 -24h5m89 174h5m-48 -333h5m25 117h5m-97 91h5m53 164h5m-92 -162h5m98 138h5m-14 -287h5m-78 151h5m206 -47h5m29 -47h5m-80 152h5m188 -37h5m-417 165h5m282 -141h5m-205 128h5m79 -79h5m-41 -227h5m230 146h5m-230 98h5m16 52h5m-79 -40h5m21 77h5m-45 -31h5m10 -298h5m107 196h5m-191 26h5m18 -60h5m181 8h5m-99 236h5m-84 -284h5m168 51h5m-149 50h5m134 -89h5m-161 158h5m21 -76h5m9 28h5m36 19h5m-56 -17h5m37 -9h5m-28 -1h5m33 -298h5m-133 230h5m67 -249h5m61 305h5m-161 37h5m182 -149h5m-80 185h5m-117 -135h5m201 -27h5m1 28h5m-120 62h5m-149 -58h5m268 -57h5m24 49h5m-178 -50h5m197 0h5m-188 222h5m70 -139h5m-61 -268h5m-78 218h5m232 83h5m-148 -265h5m-104 212h5m71 86h5m31 -153h5m-144 54h5m114 137h5m-47 -66h5m142 -131h5m-27 79h5m-77 67h5m-59 -159h5m7 160h5m1 25h5m112 -89h5m36 22h5m-152 76h5m88 -110h5m-124 99h5m-82 -103h5m-64 -33h5m304 38h5m-155 194h5m61 -307h5m-112 60h5m137 -86h5m-126 306h5m-63 -193h5m123 86h5m-37 -208h5m-94 186h5m212 99h5m-104 -46h5m-82 -317h5m-72 352h5m-16 -158h5m241 -9h5m-154 220h5m-100 -233h5m279 97h5m-269 -168h5m-35 149h5m-48 -4h5m96 -51h5m58 -90h5m9 323h5m-75 -100h5m109 -161h5m37 -181h5m-132 405h5m73 -259h5m-64 -81h5m-107 203h5m179 -88h5m-185 62h5m168 56h5m127 -146h5m-135 -25h5m-246 180h5m-37 -96h5m130 40h5m12 159h5m36 -330h5m-108 323h5m25 -304h5m80 277h5m-161 -153h5m42 75h5m105 40h5m-143 -151h5m142 337h5m-60 -242h5m205 -78h5m-17 82h5m9 -27h5m-261 -28h5m123 48h5m50 -42h5m-324 -63h5m231 145h5m18 -19h5m-11 71h5m-151 -109h5m176 50h5m-124 -120h5m70 170h5m-51 15h5m-24 -196h5m-130 55h5m164 -130h5m56 201h5m35 -110h5m-102 123h5m44 -127h5m-6 90h5m-83 -235h5m107 195h5m-80 -106h5m28 151h5m-113 -99h5m59 127h5m-98 -63h5m193 -229h5m-238 254h5m93 -121h5m126 70h5m-134 65h5m103 66h5m71 -107h5m-149 57h5m-109 109h5m-131 -180h5m237 127h5m-20 -361h5m36 286h5m-85 -191h5m55 277h5m-11 -267h5m-113 115h5m86 -109h5m85 113h5m54 31h5m-139 -106h5m-168 9h5m-13 32h5m141 -96h5m16 242h5m59 -241h5m-73 47h5m-16 -53h5m-56 218h5m24 -149h5m78 3h5m-90 -10h5m-72 100h5m143 153h5m-165 -163h5m166 32h5m-234 -151h5m274 97h5m-25 -95h5m3 55h5m-232 -62h5m153 64h5m-47 165h5m80 -124h5m-224 23h5m75 30h5m96 -141h5m22 28h5m-40 -174h5m175 243h5m-270 54h5m34 144h5m-6 -103h5m112 -20h5m-106 -293h5m-13 105h5m-66 145h5m121 5h5m-120 43h5m118 -48h5m-18 34h5m31 -62h5m-18 24h5m-178 -36h5m8 106h5m88 -308h5m93 244h5m-214 -77h5m202 4h5m-127 -49h5m106 70h5m-35 39h5m-82 -176h5m11 -51h5m-20 81h5m42 25h5m-233 44h5m284 247h5m-52 -54h5m-17 -93h5m-94 -118h5m61 168h5m-103 -12h5m76 -217h5m-14 260h5m-72 -291h5m151 216h5m-245 -21h5m433 -46h5m-339 -69h5m-17 114h5m25 -155h5m-173 119h5m183 116h5m62 -69h5m-204 -36h5m61 37h5m74 -169h5m118 141h5m-99 103h5m80 -112h5m-263 -1h5m169 92h5m-48 -3h5m-147 -86h5m76 -184h5m99 116h5m-85 -78h5m34 212h5m3 -207h5m45 36h5m-82 164h5m-32 -145h5m-7 48h5m82 117h5m39 -150h5m-252 74h5m-29 -12h5m259 49h5m12 -40h5m-9 48h5m-39 126h5m-46 -90h5m121 -295h5m-156 142h5m30 -23h5m108 135h5m-199 -102h5m66 -108h5m80 96h5m-64 136h5m-165 -73h5m66 60h5m-62 -56h5m206 -17h5m-99 110h5m-100 -89h5m243 169h5m-68 -88h5m-50 -237h5m243 143h5m-385 45h5m74 -162h5m-64 67h5m108 -27h5m-20 141h5m-28 -157h5m38 152h5m-207 -45h5m127 -293h5m-193 341h5m411 -180h5m-147 -45h5m-48 344h5m125 -228h5m-251 59h5m77 -137h5m-205 152h5m109 32h5m120 -297h5m6 431h5m-125 -159h5m-5 -84h5m105 141h5m-118 -65h5m-62 23h5m243 130h5m-155 -101h5m61 -181h5m28 34h5m-26 -24h5m65 109h5m-69 59h5m-202 -208h5m276 119h5m-258 -101h5m204 4h5m-3 75h5m-174 131h5m164 -30h5m-113 154h5m61 -128h5m55 -38h5m-128 -119h5m33 176h5m61 -120h5m-12 40h5m77 -149h5m-130 215h5m-117 -162h5m264 77h5m-120 99h5m-34 -174h5m-159 52h5m135 -46h5m-281 54h5m250 104h5m-24 -234h5m2 -2h5m-46 46h5m82 176h5m-217 -61h5m260 -169h5m-212 141h5m237 -3h5m-107 106h5m164 -114h5m-204 103h5m-44 203h5m230 -286h5m-188 -115h5m23 49h5m36 -49h5m-202 145h5m185 26h5m8 -106h5m-121 267h5m-46 -369h5m154 153h5m-114 -192h5m67 143h5m-48 -56h5m45 53h5m-68 -151h5m93 218h5m11 -82h5m-69 177h5m-96 -46h5m-105 -165h5m205 60h5m-49 -89h5m-5 250h5m-126 -95h5m37 11h5m143 -57h5m-145 -25h5m79 -75h5m12 168h5m-151 183h5m87 -90h5m-140 -177h5m131 161h5m90 27h5m94 -132h5m-125 -45h5m27 163h5m-261 -55h5m65 -148h5m28 24h5m-95 21h5m58 -154h5m-5 239h5m15 -140h5m13 -10h5m28 190h5m-68 12h5m70 -301h5m-2 468h5m-16 -183h5m-62 -146h5m-58 111h5m65 -140h5m101 115h5m66 -2h5m-121 80h5m-112 31h5m170 -222h5m-182 75h5m102 141h5m-46 -216h5m87 126h5m-68 50h5m-120 -95h5m23 26h5m51 88h5m13 86h5m-83 -40h5m168 -254h5m115 82h5m-194 -74h5m-2 140h5m2 -134h5m-73 22h5m34 305h5m37 -211h5m32 -148h5m133 99h5m-337 193h5m258 -189h5m-162 -88h5m-93 127h5m309 -90h5m-311 37h5m114 -64h5m149 166h5m-223 -188h5m130 72h5m-53 72h5m62 -113h5m25 33h5m-191 -39h5m36 248h5m-92 -170h5m11 20h5m-8 -4h5m96 41h5m48 -76h5m-77 239h5m81 -229h5m-132 -97h5m48 198h5m-50 -185h5m91 55h5m-186 29h5m139 -115h5m-63 -4h5m-60 -37h5m36 234h5m6 -144h5m-11 216h5m71 -226h5m15 55h5m-33 -20h5m-23 134h5m41 15h5m137 -55h5m-192 16h5m-89 -8h5m57 125h5m4 -319h5m-112 135h5m74 -150h5m10 73h5m81 -28h5m-90 224h5m20 -269h5m-35 -16h5m-69 189h5m94 71h5m-63 -148h5m-179 64h5m145 -67h5m18 120h5m-44 -121h5m-60 93h5m23 -80h5m71 122h5m-37 -122h5m168 -28h5m-49 41h5m-69 -60h5m-82 243h5m-40 -170h5m198 8h5m42 -4h5m-161 -78h5m-47 -14h5m63 272h5m50 -224h5"/>
<path transform="scale(0.25)" stroke="#0000ff" stroke-opacity="0.45" stroke-width="5" fill="none" d="M0 0m2316 430h5m-10 17h5m-37 -54h5m16 28h5m-38 97h5m-1 -92h5m-14 -41h5m2 53h5m37 -14h5m-34 -20h5m-23 34h5m11 -4h5m16 -1h5m58 -53h5m-94 37h5m22 -12h5m-24 1h5m-23 49h5m2 -42h5m-23 -6h5m6 -20h5m5 27h5m-6 52h5m30 -60h5m-39 -24h5m33 43h5m-102 3h5m67 -14h5m-4 9h5m-29 11h5m27 -74h5m-16 55h5m1 9h5m-9 -9h5m-29 -26h5m92 60h5m-82 -21h5m0 -11h5m-19 21h5m19 -31h5m-20 -19h5m-4 48h5m7 -8h5m-18 18h5m10 -24h5m4 36h5m-39 -38h5m29 13h5m-25 -30h5m-10 -9h5m-2 24h5m17 -18h5m-34 83h5m-9 -50h5m-4 28h5m31 -62h5m-16 30h5m-1 26h5m-51 -59h5m6 37h5m-10 35h5m-17 -110h5m-52 85h5m22 -32h5m66 4h5m22 22h5m-68 -5h5m49 -3h5m14 -17h5m-61 45h5m-2 -114h5m5 71h5m-25 36h5m-41 -155h5m66 95h5m-45 47h5m-16 15h5m33 -23h5m4 -4h5m-1 -27h5m0 18h5m-144 -41h5m80 37h5m30 14h5m-50 -80h5m5 52h5m7 30h5m-7 3h5m-9 5h5m6 6h5m22 -23h5m-5 5h5m13 -36h5m-74 8h5m23 22h5m10 40h5m-28 -36h5m-8 42h5m26 -109h5m-21 40h5m3 73h5m-62 -10h5m-2 -4h5m49 -63h5m-36 33h5m49 -24h5m-33 31h5m10 -16h5m-20 -32h5m-39 157h5m16 -81h5m4 -39h5m9 27h5m40 -6h5m-102 -38h5m83 61h5m-79 -38h5m23 -22h5m-8 -4h5m-20 17h5m56 -13h5m-53 21h5m45 19h5m-56 -65h5m-11 36h5m-10 18h5m-62 -12h5m4 19h5m30 15h5m7 -21h5m-9 -8h5m32 -6h5m-50 15h5m-40 -11h5m19 -45h5m32 42h5m-28 -5h5m97 30h5m-94 12h5m37 -7h5m-56 20h5m0 -11h5m-5 -63h5m-12 29h5m18 24h5m25 -87h5m-77 44h5m66 20h5m-32 16h5m-61 -39h5m73 6h5m-42 42h5m-46 -4h5m111 -62h5m-88 29h5m51 -1h5m-49 20h5m-21 -70h5m9 -74h5m14 140h5m-49 -25h5m-17 25h5m25 -14h5m54 3h5m-46 -39h5m14 -10h5m-41 76h5m30 -3h5m-33 -36h5m1 16h5m22 -75h5m-101 60h5m-18 -31h5m-9 50h5m47 -11h5m43 14h5m-32 -11h5m45 7h5m-108 48h5m115 -65h5m-64 13h5m37 -16h5m-29 -13h5m-57 24h5m32 24h5m-17 -19h5m2 -55h5m13 68h5m0 -5h5m-22 -12h5m-13 3h5m1 4h5m-7 -75h5m62 18h5m-71 98h5m33 -24h5m-49 -21h5m-3 3h5m-5 -4h5m-3 35h5m68 -44h5m-70 -7h5m9 22h5m-31 2h5m10 51h5m19 -106h5m-30 27h5m-32 -4h5m21 -30h5m-19 49h5m20 54h5m-27 -26h5m-20 -41h5m39 5h5m42 25h5m-79 1h5m123 -50h5m-134 62h5m4 -59h5m34 42h5m-37 -36h5m5 41h5m-30 0h5m-21 -62h5m14 57h5m15 3h5m-47 -18h5m49 0h5m-25 25h5m6 -21h5m-11 29h5m-15 -77h5m84 56h5m-43 4h5m-69 63h5m24 -20h5m-36 -36h5m-15 1h5m19 -19h5m-10 -39h5m-19 27h5m-42 35h5m44 -44h5m11 -4h5m-24 48h5m-3 -56h5m98 22h5m-99 55h5m-12 -51h5m-65 5h5m77 -3h5m-7 -21h5m-68 37h5m62 -6h5m-55 19h5m31 -4h5m25 -51h5m-48 27h5m-18 39h5m17 -60h5m15 -28h5m-33 48h5m13 4h5m-22 -2h5m29 -6h5m-60 1h5m42 -27h5m4 39h5m-12 8h5m-20 -16h5m6 13h5m-13 -38h5m22 30h5m-61 5h5m-98 11h5m103 -43h5m34 38h5m-60 60h5m40 -87h5m-55 88h5m6 -94h5m43 27h5m-42 34h5m-18 -45h5m-10 -46h5m-19 97h5m8 -67h5m-7 7h5m21 -4h5m-21 9h5m17 21h5m-25 -26h5m-22 23h5m1 -41h5m14 36h5m-33 -60h5m22 98h5m3 -30h5m-14 -28h5m-7 2h5m13 58h5m-55 -41h5m47 -29h5m-32 27h5m12 68h5m-57 -68h5m102 26h5m-57 -29h5m9 -13h5m-49 29h5m18 -12h5m-39 -50h5m65 49h5m-45 41h5m0 -48h5m-52 21h5m59 -37h5m-12 66h5m-18 -22h5m5 -58h5m-67 64h5m85 8h5m-51 -13h5m-15 -25h5m10 11h5m4 4h5m23 37h5m-54 -48h5m31 -3h5m-43 -4h5m52 14h5m-23 -12h5m-40 -44h5m6 50h5m14 -84h5m-27 119h5m-5 -23h5m2 8h5m-38 0h5m42 4h5m-25 -20h5m21 -19h5m7 63h5m-20 -76h5m-10 1h5m-14 7h5m-16 10h5m18 99h5m-33 -80h5m23 3h5m4 -7h5m-17 53h5m-21 -3h5m-13 -62h5m7 17h5m-13 -30h5m15 27h5m5 -2h5m-14 17h5m18 -24h5m-14 26h5m-52 -37h5m-52 -9h5m87 39h5m-28 -15h5m23 -15h5m-39 30h5m-11 -19h5m-21 8h5m1 1h5m1 -19h5m-19 21h5m9 -25h5m15 -2h5m-39 18h5m19 18h5m21 -30h5m-53 14h5m20 53h5m29 -34h5m-37 -37h5m-31 9h5m-16 -18h5m0 12h5m136 -15h5m-78 14h5m-34 18h5m-13 -67h5m-161 60h5m157 3h5m-17 2h5m-61 7h5m58 0h5m33 -33h5m-19 7h5m7 -3h5m-53 45h5m32 57h5m-64 -123h5m42 36h5m-19 2h5m-7 -25h5m-9 -3h5m-22 1h5m0 -18h5m-33 46h5m69 -2h5m-19 -31h5m29 48h5m-41 10h5m-38 -48h5m26 29h5m-4 -20h5m14 2h5m-27 3h5m21 -8h5m-28 -19h5m-17 37h5m5 -3h5m-31 5h5m11 -11h5m-4 3h5m-3 -19h5m-19 16h5m22 7h5m-32 -5h5m34 24h5m-36 -64h5m36 100h5m-42 -43h5m-57 -22h5m88 11h5m-56 47h5m16 -51h5m-113 -7h5m95 -1h5m-1 16h5m-12 -3h5m-42 7h5m-1 -10h5m-67 71h5m91 -71h5m7 6h5m3 5h5m29 5h5m-73 -7h5m-8 0h5m41 56h5m-37 -3h5m-2 -73h5m9 6h5m-79 16h5m47 13h5m-18 -4h5m6 22h5m30 -44h5m-8 -49h5m-17 50h5m-87 14h5m45 -56h5m41 30h5m7 -7h5m-29 34h5m-20 31h5m-17 -30h5m7 -8h5m-33 11h5m24 -44h5m25 -2h5m-29 -5h5m-5 42h5m-18 -18h5m-16 23h5m17 -75h5m25 23h5m-7 28h5m-38 1h5m-24 41h5m39 -2h5m-40 -34h5m4 9h5m40 21h5m-39 -4h5m6 -52h5m-13 96h5m7 -9h5m-30 -83h5m-43 71h5m-4 -14h5m33 -35h5m14 -21h5m-20 28h5m-31 1h5m35 13h5m-31 -126h5m-6 100h5m0 32h5m-3 22h5m-16 -24h5m-48 -3h5m20 -6h5m32 -29h5m-13 -42h5m5 72h5m25 -5h5m-34 77h5m-10 -79h5m-49 29h5m8 -52h5m29 105h5m-22 -95h5m34 9h5m-85 -42h5m34 55h5m11 -6h5m-15 32h5m43 -53h5m-34 15h5m-10 -1h5m-56 12h5m63 17h5m-16 -42h5m5 55h5m-60 -14h5m33 -47h5m-17 -42h5m0 64h5m-4 24h5m-58 -49h5m47 22h5m-18 -7h5m1 19h5m-16 11h5m26 -13h5m-68 9h5m19 -43h5m8 12h5m30 93h5m-3 -62h5m-24 -21h5m-2 33h5m-14 -19h5m-17 -6h5m-6 8h5m-8 13h5m9 -98h5m-17 152h5m15 -81h5m-26 -2h5m-44 9h5m19 16h5m-15 40h5m35 -56h5m-77 -38h5m56 35h5m-35 -14h5m29 14h5m-98 -72h5m68 87h5m18 -39h5m64 29h5m-69 5h5m30 -10h5m-44 -4h5m51 0h5m-76 -1h5m-36 3h5m84 1h5m-45 5h5m61 3h5m-64 -10h5m-15 32h5m12 -16h5m-12 -2h5m-11 -35h5m-2 8h5m61 25h5m-85 -33h5m17 17h5m-27 -20h5m51 32h5m-62 -41h5m20 74h5m-56 -36h5m24 9h5m43 12h5m-122 -53h5m55 53h5m-16 -22h5m36 -23h5m-61 56h5m42 -33h5m-23 -9h5m-13 -18h5m16 37h5m-72 -3h5m70 20h5m6 51h5m-21 -88h5m-11 11h5m-24 4h5m14 -8h5m-23 -23h5m-5 10h5m27 15h5m29 5h5m-30 64h5m-75 -85h5m87 2h5m-26 10h5m16 -33h5m-52 21h5m25 18h5m-52 35h5m28 -17h5m-38 -35h5m127 10h5m-179 -20h5m70 -15h5m-2 39h5m-24 -5h5m-52 -12h5m44 -39h5m6 95h5m-1 -61h5m-48 23h5m2 29h5m27 -21h5m-12 30h5m-15 -34h5m-9 1h5m6 -18h5m-6 11h5m-41 -45h5m37 45h5m42 34h5m-53 -122h5m39 66h5m-91 9h5m41 8h5m21 54h5m-17 -41h5m4 -20h5m29 -34h5m-60 -31h5m3 107h5m1 -27h5m-25 -44h5m-1 65h5m-56 7h5m1 -46h5m4 52h5m111 -120h5m-137 88h5m-29 35h5m75 3h5m-28 -42h5m25 -8h5m-40 23h5m3 27h5m11 -5h5m-7 -33h5m-4 -10h5m15 -106h5m-64 138h5m31 -4h5m-15 -8h5m-16 -15h5m12 -38h5m-106 51h5m104 -46h5m-16 30h5m-54 -3h5m55 61h5m-4 -46h5m-18 -24h5m-62 32h5m43 13h5m-35 -10h5m52 -45h5m-16 32h5m5 -4h5m23 -4h5m-43 56h5m13 -44h5m-51 -55h5m17 32h5m6 -35h5m-10 16h5m94 58h5m-116 23h5m18 -42h5m4 53h5m-19 -58h5m21 -14h5m-34 17h5m-12 18h5m30 48h5m-50 -25h5m65 -51h5m-41 4h5m-58 -5h5m38 31h5m19 -32h5m-13 -12h5m-47 14h5m64 7h5m-72 1h5m21 -3h5m2 -29h5m-41 12h5m43 -18h5m-32 61h5m13 -7h5m-106 2h5m101 -9h5m-47 -25h5m-8 8h5m25 -3h5m-19 -25h5m-59 -2h5m147 27h5m-99 15h5m-81 -50h5m-21 52h5m-3 -14h5m74 0h5m44 2h5m-19 23h5m36 -38h5m-119 -10h5m-27 3h5m11 34h5m-1 -21h5m41 50h5m-1 -29h5m-49 30h5m127 -44h5m-114 28h5m17 -4h5m-13 -23h5m-1 22h5m-5 -57h5m-8 34h5m-9 8h5m-1 17h5m20 -18h5m-49 -13h5m28 39h5m17 -9h5m-35 -29h5m-6 9h5m9 -12h5m-10 16h5m-14 -11h5m-27 26h5m55 6h5m-63 -68h5m17 17h5m-31 29h5m16 15h5m63 -26h5m-77 -12h5m-2 26h5m-10 -26h5m-148 2h5m186 -34h5m-116 64h5m49 17h5m62 -34h5m49 36h5m-75 -32h5m-104 33h5m59 -61h5m24 101h5m-47 -64h5m27 29h5m-65 -46h5m24 38h5m17 -35h5m4 0h5m0 18h5m-21 -2h5m-50 -15h5m19 0h5m30 57h5m10 -97h5m-45 40h5m-1 62h5m18 -37h5m-21 -37h5m-63 1h5m18 44h5m38 -44h5m-19 13h5m-5 86h5m33 -74h5m-44 -23h5m18 -16h5m22 40h5m-56 -28h5m-5 -23h5m57 55h5m-73 -12h5m-16 -4h5m48 -2h5m-36 38h5m-27 -45h5m17 53h5m-16 -54h5m15 22h5m-20 -11h5m14 -10h5m-13 48h5m-17 -41h5m8 9h5m-10 -1h5m51 -57h5m-81 56h5m-12 66h5m-23 -54h5m90 -57h5m-66 56h5m15 -51h5m-24 -35h5m-36 62h5m-45 36h5m74 30h5m-8 -45h5m24 -7h5m-29 23h5m18 -22h5m-81 -4h5m-10 -26h5m22 -25h5m34 182h5m5 -199h5m-17 19h5m-18 58h5m-2 -60h5m-29 50h5m100 11h5m-102 46h5m-11 -76h5m-42 16h5m38 12h5m-53 -106h5m19 105h5m40 48h5m-17 -54h5m0 85h5m58 -56h5m-48 -10h5m-28 -7h5m-24 2h5m-29 -7h5m34 -31h5m-2 5h5m4 8h5m-4 1h5m4 -13h5m12 22h5m-59 -8h5m20 15h5m16 44h5m-17 -62h5m7 41h5m-44 -49h5m24 58h5m-56 -63h5m42 28h5m-9 -5h5m-38 -17h5m18 14h5m70 3h5m-93 49h5m10 -66h5m-67 36h5m16 -24h5m34 12h5m5 -42h5m-12 29h5m-29 -1h5m21 1h5m-1 -57h5m-87 74h5m34 1h5m5 41h5m15 -23h5m7 -56h5m-25 36h5m-6 -2h5m-13 58h5m36 -64h5m-25 7h5m-4 -24h5m27 127h5m-24 -173h5m-17 65h5m-8 129h5m-7 -138h5m19 8h5m23 0h5m-56 9h5m9 -9h5m22 4h5m-26 11h5m-4 4h5m-63 -20h5m0 -47h5m61 69h5m-14 -21h5m-32 -122h5m33 81h5m12 36h5m-24 32h5m-33 -40h5m-13 -1h5m19 -14h5m-31 40h5m79 -1h5m-110 -15h5m11 -85h5m17 149h5m-14 -33h5m-42 -74h5m5 94h5m26 -17h5m-52 -30h5m33 -16h5m-36 -9h5m96 -9h5m-29 83h5m56 -59h5m-110 71h5m31 -62h5m-50 2h5m22 -7h5m64 11h5m-158 -63h5m127 231h5m-62 -182h5m28 56h5m-64 -53h5m83 -72h5m-64 90h5m36 -53h5m-93 41h5m62 -8h5m-8 15h5m26 -64h5m-16 54h5m-50 12h5m-14 17h5m44 -37h5m-102 -9h5m75 -3h5m-39 29h5m12 -19h5m-83 23h5m38 -9h5m38 62h5m7 -56h5m-8 -6h5m-22 6h5m-1 -12h5m-33 54h5m-13 -53h5m-4 44h5m43 -51h5m-55 11h5m40 19h5m-9 -35h5m-17 -7h5m-16 62h5m5 56h5m37 -129h5m-52 36h5m0 12h5m-34 -12h5m49 23h5m58 -19h5m-94 1h5m2 -45h5m-15 41h5m9 -11h5m-10 46h5m-8 -48h5m-9 27h5m-36 -5h5m30 -12h5m11 -11h5m14 -6h5m-49 23h5m-34 23h5m22 -33h5m29 -30h5m-34 -12h5m20 27h5m-37 7h5m-75 15h5m58 -43h5m1 61h5m-13 -102h5m17 77h5m6 8h5m-14 -8h5m-10 1h5m12 4h5m10 31h5m-70 -91h5m23 68h5m-8 9h5m-25 -4h5m52 1h5m-28 -48h5m57 23h5m-82 2h5m-19 21h5m17 0h5m-11 -5h5m-18 -30h5m-26 8h5m91 56h5m-28 -49h5m-32 4h5m-91 -10h5m149 -38h5m-35 44h5m25 32h5m-59 -21h5m-40 1h5m36 -3h5m22 -65h5m-52 14h5m-39 33h5m63 23h5m-61 -10h5m-14 8h5m15 -5h5m11 14h5m28 -19h5m-145 32h5m-33 -16h5m107 -30h5m54 -10h5m-63 30h5m16 57h5m22 -63h5m-64 12h5m-1 26h5m-36 -35h5m1 -4h5m52 6h5m-7 -111h5m-18 35h5m12 51h5m-37 18h5m6 -26h5m0 108h5m0 -98h5m-10 25h5m-9 73h5m-19 -74h5m16 2h5m-69 -16h5m41 -58h5m-38 69h5m50 -105h5m15 112h5m-4 -26h5m-52 -16h5m14 7h5m2 51h5m-26 5h5m19 -21h5m-31 -34h5m-40 21h5m34 -44h5m-48 42h5m58 -28h5m17 -10h5m-10 48h5m-4 -67h5m-18 79h5m-45 -9h5m54 -34h5m-51 33h5m-13 -6h5m25 32h5m29 -7h5m-60 -24h5m5 -8h5m35 24h5m-42 0h5m-11 -28h5m62 0h5m-56 19h5m-10 -24h5m11 4h5m19 -4h5m-37 25h5m-68 1h5m-34 -88h5m76 69h5m-32 11h5m-14 12h5m62 -13h5m-32 -39h5m-2 24h5m-42 -39h5m2 54h5m63 -1h5m-53 -22h5m23 -6h5m-4 42h5m-32 -3h5m58 -18h5m-62 11h5m-3 1h5m16 -50h5m-28 55h5m-39 9h5m-27 -7h5m71 10h5m-79 -2h5m67 -17h5m7 30h5m-32 -30h5m7 29h5m-56 -26h5m30 9h5m7 38h5m-50 -20h5m31 -19h5m-15 -23h5m9 12h5m-8 2h5m-46 4h5m32 31h5m-7 -14h5m3 -15h5m6 -54h5m-27 43h5m-3 75h5m4 -86h5m-36 4h5m75 3h5m-61 -3h5m-2 -1h5m-36 73h5m33 -48h5m-61 -9h5m53 -14h5m1 27h5m11 28h5m-120 -65h5m76 41h5m18 65h5m-84 -76h5m191 -66h5m-130 86h5m8 -57h5m-37 35h5m-10 -3h5m-13 -4h5m11 0h5m-51 -14h5m60 17h5m-63 5h5m58 -15h5m-88 12h5m57 3h5m0 -2h5m-9 13h5m-32 -22h5m29 5h5m7 -28h5m-27 17h5m-14 11h5m-60 4h5m114 30h5m-65 -33h5m-62 -17h5m47 75h5m4 -54h5m-8 -3h5m-6 -18h5m21 -41h5m-49 40h5m-47 25h5m64 -13h5m-1 -1h5m-30 -33h5m15 -4h5m-19 64h5m17 -47h5m-24 23h5m18 30h5m-18 7h5m-44 -51h5m38 15h5m-13 3h5m-15 -35h5m-25 89h5m4 -61h5m38 -10h5m-33 3h5m19 9h5m-4 -8h5m-64 6h5m52 15h5m-12 8h5m-40 73h5m13 -109h5m-33 -5h5m145 14h5m-119 17h5m-48 23h5m43 -25h5m7 5h5m-45 19h5m22 -100h5m-14 85h5m42 18h5m-50 -29h5m9 -12h5m2 12h5m28 -32h5m-60 -7h5m-27 -12h5m14 -26h5m-35 72h5m-3 24h5m-39 -55h5m57 38h5m-29 -8h5m2 -21h5m28 19h5m11 24h5m-23 -103h5m-69 72h5m123 24h5m-117 -66h5m10 109h5m18 -42h5m-87 -26h5m101 19h5m-20 -17h5m-37 63h5m-19 -54h5m41 -6h5m-23 2h5m9 4h5m-41 -38h5m95 34h5m-53 24h5m-18 -14h5m34 -4h5m-55 -5h5m4 1h5m-31 18h5m28 -6h5"/>
<path transform="scale(0.25)" stroke="#0000ff" stroke-width="5" fill="none" d="M0 0m2317 416h5m-40 -5h5m5 8h5m-24 2h5m7 56h5m-15 -70h5m1 -8h5m-30 17h5m36 1h5m9 17h5m-60 8h5m30 -13h5m-36 20h5m14 11h5m133 -22h5m-133 3h5m-13 -62h5m3 34h5m-13 3h5m-7 72h5m-5 -66h5m12 5h5m-17 4h5m-13 -18h5m30 41h5m-50 -60h5m10 57h5m4 -94h5m-43 48h5m33 16h5m-13 17h5m12 -69h5m-14 70h5m-39 -24h5m29 -39h5m-4 63h5m9 23h5m10 -92h5m-85 54h5m36 -16h5m-75 56h5m100 -35h5m-40 -35h5m-13 7h5m16 51h5m-16 -78h5m-5 47h5m-10 -7h5m-3 11h5m5 1h5m-39 -36h5m23 21h5m-18 -47h5m-6 50h5m-19 -47h5m5 156h5m20 -160h5m-55 82h5m99 -13h5m-42 -7h5m-33 11h5m12 -63h5m-80 76h5m47 -9h5m-15 10h5m32 15h5m-38 -31h5m-14 -43h5m25 49h5m-8 -24h5m10 6h5m-44 -3h5m1 13h5m46 -30h5m-4 12h5m-48 78h5m13 -93h5m-27 -4h5m40 31h5m-54 10h5m12 -7h5m-15 -87h5m-5 41h5m-4 103h5m-25 -92h5m-56 41h5m100 -20h5m-54 -52h5m100 16h5m-84 52h5m-27 10h5m17 -3h5m-5 8h5m-48 9h5m-4 -25h5m47 -5h5m-90 5h5m100 24h5m-40 -13h5m18 -23h5m-5 1h5m-53 -1h5m-2 20h5m9 -22h5m-2 24h5m-32 8h5m28 -34h5m14 49h5m-23 -56h5m-127 8h5m115 7h5m21 -31h5m-28 23h5m-45 7h5m-14 -1h5m54 29h5m-26 -42h5m7 84h5m-15 -29h5m61 -47h5m-110 -13h5m31 127h5m20 -17h5m2 -46h5m39 -53h5m-79 31h5m-1 -27h5m-13 38h5m-29 -32h5m62 -23h5m-37 20h5m-28 -12h5m16 28h5m-24 -3h5m-44 1h5m23 -28h5m29 10h5m18 28h5m-19 10h5m0 -17h5m1 -14h5m7 3h5m-24 75h5m-49 -75h5m8 -55h5m16 50h5m-14 -56h5m-21 85h5m29 -16h5m43 -56h5m-91 66h5m25 -28h5m-45 37h5m-28 -68h5m52 67h5m-33 -50h5m16 55h5m4 -55h5m-19 83h5m-22 -55h5m23 8h5m-2 -4h5m-61 12h5m44 -81h5m19 20h5m-19 36h5m-17 12h5m1 -5h5m-21 -19h5m-22 125h5m48 -125h5m9 -49h5m-51 36h5m-20 -61h5m64 95h5m-18 16h5m-128 -13h5m35 -27h5m6 53h5m66 -37h5m-24 -36h5m-11 32h5m-4 18h5m13 10h5m-3 13h5m-44 -27h5m-60 -18h5m89 9h5m7 -7h5m-36 18h5m19 -36h5m-33 12h5m6 19h5m-17 -9h5m-9 -2h5m13 15h5m-24 1h5m42 2h5m-47 -24h5m43 -15h5m-45 23h5m-5 5h5m64 6h5m-117 68h5m18 -108h5m11 84h5m5 -86h5m-24 40h5m6 3h5m-7 -16h5m5 22h5m3 29h5m-23 -89h5m11 30h5m-95 -5h5m77 24h5m-13 -14h5m-33 24h5m13 -13h5m-9 18h5m3 -13h5m6 33h5m-79 -8h5m61 -28h5m-69 29h5m69 -16h5m5 -15h5m-14 -40h5m-7 68h5m26 -52h5m-70 60h5m4 -19h5m38 -11h5m-33 -32h5m-38 -2h5m36 27h5m-17 -11h5m19 13h5m31 -13h5m-54 17h5m-8 53h5m-74 -59h5m69 -4h5m-17 17h5m-10 -21h5m-5 23h5m31 -3h5m-22 -1h5m-31 -9h5m31 27h5m-16 -44h5m-12 4h5m-27 20h5m27 2h5m13 -12h5m-47 5h5m4 -39h5m-7 6h5m71 1h5m-76 10h5m24 28h5m-26 -28h5m-2 57h5m14 -35h5m-4 37h5m-75 -44h5m14 -18h5m17 16h5m26 0h5m-30 24h5m-40 24h5m-2 -21h5m-6 -51h5m-18 32h5m12 29h5m35 -34h5m-24 11h5m-18 -7h5m-47 27h5m-11 -29h5m54 4h5m-13 9h5m-14 13h5m51 -36h5m-15 -24h5m-54 5h5m1 39h5m26 -22h5m-38 20h5m14 -31h5m4 3h5m-12 28h5m-46 19h5m37 23h5m-5 -56h5m21 -14h5m-38 31h5m-21 -13h5m2 17h5m-7 0h5m7 3h5m43 -29h5m3 -3h5m-58 15h5m37 -19h5m-54 -10h5m-21 -1h5m17 23h5m-5 5h5m-1 -2h5m-21 -13h5m5 -29h5m-22 40h5m41 -113h5m-27 106h5m7 11h5m27 17h5m-67 -20h5m41 -34h5m-37 26h5m-13 -50h5m2 73h5m-6 -60h5m-1 44h5m-3 14h5m44 -19h5m-60 -7h5m-2 -3h5m-25 10h5m-5 -33h5m60 34h5m-60 5h5m75 -6h5m-80 18h5m8 -15h5m-16 -2h5m-10 33h5m-29 -16h5m20 -8h5m64 -25h5m-59 42h5m-9 -34h5m-10 -1h5m26 26h5m21 33h5m-59 -49h5m-5 -3h5m-3 11h5m-5 -29h5m28 55h5m-63 -29h5m-11 31h5m10 -17h5m-44 25h5m7 -41h5m52 -14h5m-16 32h5m-10 -121h5m-22 108h5m8 -8h5m-12 9h5m-43 34h5m-99 -44h5m134 -21h5m27 50h5m-75 -25h5m22 -15h5m-3 4h5m-74 64h5m63 -59h5m17 5h5m-16 38h5m-9 -29h5m-25 -27h5m42 35h5m-91 -82h5m58 59h5m58 -47h5m-65 53h5m-2 -36h5m51 101h5m-62 -76h5m-6 20h5m21 -3h5m-54 29h5m-11 -42h5m18 -33h5m-1 23h5m-25 6h5m22 24h5m-30 -15h5m20 -29h5m-16 -20h5m-4 107h5m20 -65h5m-75 35h5m42 74h5m-85 -73h5m87 2h5m-30 -18h5m31 -6h5m-23 -103h5m-27 115h5m53 -101h5m-98 46h5m62 63h5m-23 -24h5m6 4h5m-7 -7h5m-12 -13h5m5 31h5m3 11h5m-26 -14h5m-7 -10h5m-12 22h5m12 0h5m31 -50h5m-97 78h5m40 11h5m24 -58h5m39 4h5m-56 41h5m-31 -34h5m-161 -26h5m147 13h5m44 -15h5m-104 13h5m60 3h5m23 -27h5m-10 30h5m-71 7h5m21 -10h5m10 34h5m-79 -29h5m76 -39h5m-77 48h5m113 -22h5m-63 48h5m-12 17h5m-12 -29h5m81 18h5m-29 -44h5m-49 8h5m17 -17h5m-12 -1h5m24 28h5m-70 -21h5m18 -20h5m-17 1h5m21 -142h5m-38 153h5m11 -3h5m7 53h5m-7 -55h5m37 1h5m-4 -13h5m-84 9h5m71 21h5m-40 -8h5m29 -13h5m-86 26h5m-6 -33h5m29 100h5m-16 -62h5m17 -19h5m2 29h5m2 -40h5m-6 53h5m-15 -32h5m-95 33h5m43 -25h5m37 -56h5m-37 26h5m22 35h5m15 -12h5m-43 -35h5m-66 42h5m66 -17h5m-13 -24h5m12 0h5m-8 93h5m-38 -103h5m121 33h5m-108 39h5m7 -31h5m-29 5h5m-9 6h5m9 -37h5m-27 36h5m31 -41h5m-83 11h5m65 -10h5m-16 39h5m7 -26h5m-60 27h5m-18 2h5m72 -67h5m9 47h5m81 49h5m-126 -29h5m70 -2h5m-47 -32h5m-40 17h5m24 -14h5m42 43h5m-81 -34h5m9 39h5m19 -1h5m-16 -33h5m-10 11h5m40 -15h5m-57 7h5m5 -47h5m55 66h5m-90 -14h5m-31 -31h5m49 6h5m6 -64h5m-37 -2h5m39 86h5m-67 -57h5m47 -1h5m-82 24h5m27 65h5m14 -43h5m35 -24h5m-70 58h5m14 19h5m-6 -46h5m59 11h5m-51 18h5m-42 -27h5m14 -13h5m-113 30h5m143 -35h5m-16 15h5m-67 24h5m46 -17h5m29 -3h5m-66 28h5m18 -142h5m10 146h5m-4 -38h5m-16 -17h5m-9 34h5m-8 16h5m-24 -38h5m37 0h5m19 60h5m-99 -53h5m-25 19h5m28 -74h5m13 94h5m0 -61h5m-29 41h5m17 17h5m11 -6h5m-12 -30h5m-21 61h5m-11 -86h5m22 14h5m-23 21h5m2 -7h5m-25 26h5m13 -76h5m-27 39h5m-57 87h5m66 -87h5m12 1h5m-9 9h5m-27 15h5m32 -14h5m7 -30h5m-43 105h5m3 -133h5m-21 56h5m5 1h5m-71 -8h5m153 23h5m-75 -5h5m-70 -14h5m61 10h5m-42 11h5m9 -33h5m59 18h5m-74 62h5m46 -27h5m-59 -90h5m73 19h5m-80 13h5m30 20h5m-31 65h5m-22 -75h5m39 -22h5m-7 14h5m-13 8h5m-4 5h5m-35 -7h5m-13 -35h5m9 61h5m18 -53h5m-23 6h5m12 -22h5m18 72h5m-37 -59h5m-58 15h5m35 43h5m79 73h5m-72 -73h5m-15 -8h5m18 15h5m-31 -10h5m16 -2h5m-100 -16h5m89 2h5m-21 37h5m-22 16h5m27 -20h5m-20 -83h5m35 48h5m-38 -27h5m-24 72h5m-37 -27h5m5 15h5m50 2h5m-52 -29h5m-61 36h5m133 -46h5m-78 -8h5m35 44h5m-3 -9h5m4 -47h5m-85 64h5m44 -23h5m24 -21h5m-34 -92h5m-50 83h5m11 24h5m69 37h5m-28 -29h5m-27 -8h5m-6 65h5m-14 -84h5m8 19h5m-1 83h5m-47 -92h5m29 -7h5m-51 11h5m-72 -24h5m127 89h5m-37 -91h5m6 34h5m-20 1h5m9 18h5m-6 -36h5m14 -23h5m-46 16h5m71 -24h5m-46 -7h5m-41 9h5m51 41h5m-23 25h5m-23 -70h5m-35 54h5m-1 -27h5m33 -6h5m-8 108h5m-28 -73h5m15 -5h5m-52 -20h5m22 33h5m1 -22h5m-30 23h5m43 -19h5m-35 -8h5m11 30h5m-70 -35h5m-63 24h5m181 -13h5m-61 -14h5m-31 10h5m-5 1h5m-43 -59h5m47 63h5m42 11h5m-34 -67h5m-68 65h5m64 -20h5m51 0h5m-88 -13h5m-50 18h5m25 8h5m40 1h5m-35 18h5m-15 -7h5m2 -17h5m10 -27h5m-62 97h5m70 -53h5m-9 -24h5m-52 -21h5m31 60h5m-50 -21h5m69 -19h5m-34 -10h5m-27 76h5m31 -89h5m-1 52h5m-45 -123h5m61 115h5m8 -30h5m-69 113h5m4 -72h5m18 -36h5m-22 29h5m-23 -20h5m2 57h5m-20 -13h5m13 -35h5m6 -43h5m-8 37h5m-21 7h5m-6 4h5m79 -17h5m-52 44h5m-49 -32h5m12 49h5m-18 -54h5m-3 48h5m-14 -26h5m30 -48h5m-30 4h5m-58 45h5m10 71h5m39 -114h5m3 54h5m-32 0h5m18 -42h5m0 -70h5m-59 67h5m-3 51h5m32 -88h5m12 89h5m-16 3h5m-12 -29h5m-9 -73h5m1 21h5m-47 16h5m55 84h5m-40 -52h5m16 -55h5m-21 54h5m0 14h5m9 -36h5m-16 5h5m4 7h5m-7 2h5m-52 -16h5m123 26h5m-89 -16h5m-3 -18h5m-2 36h5m-28 -7h5m-28 -2h5m38 74h5m0 -83h5m-39 31h5m60 -57h5m-88 48h5m26 -29h5m27 15h5m-82 -15h5m50 -12h5m-5 2h5m12 -17h5m-40 25h5m46 5h5m-30 22h5m24 -7h5m-37 16h5m1 -26h5m-3 16h5m-45 -11h5m8 -9h5m-4 11h5m-2 10h5m38 -36h5m-43 19h5m40 14h5m-78 -20h5m96 0h5m-127 20h5m3 -20h5m7 10h5m-87 13h5m72 34h5m56 -28h5m-8 5h5m21 8h5m-56 -59h5m19 35h5m-37 22h5m47 -44h5m-27 -9h5m-8 26h5m-8 -120h5m-14 139h5m2 -46h5m-35 24h5m-4 12h5m55 -41h5m-35 6h5m-3 51h5m3 -28h5m-3 -1h5m-15 39h5m-13 -62h5m-17 22h5m31 56h5m-7 -52h5m77 -7h5m-101 6h5m-21 9h5m-25 -7h5m48 -61h5m-28 53h5m55 6h5m-71 8h5m15 -9h5m-30 21h5m2 -7h5m-8 -27h5m-6 39h5m9 44h5m-28 -43h5m22 -11h5m54 -8h5m-106 9h5m-2 -68h5m42 86h5m-58 -31h5m58 -5h5m-25 -65h5m5 101h5m16 -21h5m-25 -46h5m-3 -22h5m-70 36h5m45 -10h5m5 5h5m-22 26h5m-67 3h5m50 -14h5m-14 24h5m13 -13h5m-45 9h5m44 -75h5m10 73h5m56 -70h5m-73 60h5m-63 -17h5m37 22h5m62 -51h5m-49 19h5m-11 -12h5m0 -12h5m22 75h5m42 -17h5m-70 2h5m-78 -38h5m90 84h5m-98 -51h5m22 36h5m14 -41h5m0 -9h5m11 19h5m-23 6h5m9 -22h5m-58 26h5m53 9h5m-50 -39h5m12 37h5m-24 -15h5m21 28h5m-55 -18h5m71 -45h5m-109 -25h5m70 37h5m-46 34h5m3 -27h5m20 -19h5m-2 26h5m38 -18h5m-57 -14h5m23 67h5m29 -40h5m-91 8h5m102 -5h5m-59 -10h5m-18 69h5m-4 -35h5m-9 -14h5m-52 -36h5m-18 42h5m-7 -52h5m69 41h5m-16 -24h5m-5 63h5m-4 -29h5m-9 -11h5m-4 -51h5m-17 71h5m74 4h5m-83 -20h5m13 108h5m-42 -141h5m52 18h5m-43 12h5m-32 -27h5m46 63h5m-40 54h5m24 -122h5m-50 33h5m30 -76h5m2 51h5m-51 1h5m55 21h5m-19 -47h5m-42 10h5m3 20h5m44 27h5m-19 24h5m-43 -60h5m90 -22h5m-141 69h5m97 -22h5m10 24h5m-30 -19h5m-42 11h5m4 4h5m-54 -7h5m115 -22h5m-81 10h5m16 20h5m-20 -44h5m-4 0h5m-98 -3h5m79 -12h5m-25 -44h5m1 88h5m11 -71h5m6 66h5m-2 12h5m2 -8h5m-1 -5h5m-29 8h5m7 10h5m-10 -42h5m-16 24h5m27 31h5m-94 -24h5m-45 -3h5m139 -1h5m-57 6h5m27 -7h5m-48 8h5m23 -14h5m-8 14h5m-25 -7h5m-17 32h5m34 19h5m-9 -50h5m-29 -90h5m28 84h5m-20 23h5m26 -22h5m-49 27h5m36 -20h5m-55 -38h5m62 22h5m-27 7h5m-72 -19h5m31 44h5m21 -59h5m-20 51h5m-8 -14h5m-15 6h5m-2 23h5m48 -5h5m-78 -42h5m-8 17h5m-10 -22h5m32 22h5m0 -15h5m21 19h5m56 20h5m-94 -9h5m4 -81h5m-11 57h5m-1 -18h5m-45 -28h5m20 37h5m48 30h5m-50 19h5m7 -38h5m-34 31h5m6 -49h5m1 43h5m21 8h5m-25 -43h5m6 21h5m-17 -25h5m23 63h5m-37 -15h5m-10 -23h5m-39 -25h5m113 46h5m-85 -61h5m0 19h5m15 -15h5m-16 41h5m-9 29h5m-10 -111h5m14 87h5m-14 -18h5m5 6h5m-32 1h5m3 -12h5m-50 48h5m37 -10h5m-81 -19h5m49 0h5m66 -32h5m-15 -50h5m-40 68h5m-12 13h5m10 -42h5m-28 42h5m21 -13h5m-25 -11h5m8 34h5m-1 -14h5m-1 -16h5m-27 -67h5m9 60h5m-26 31h5m-4 -5h5m118 -12h5m-122 29h5m-77 -30h5m91 27h5m-61 -10h5m55 -30h5m28 36h5m-72 -33h5m-32 10h5m28 31h5m-20 -45h5m-18 28h5m41 -29h5m73 53h5m-82 -31h5m-34 1h5m7 30h5m21 -32h5m-24 -1h5m-13 10h5m2 27h5m-4 -58h5m44 21h5m-44 -27h5m-4 34h5m-74 -1h5m47 -74h5m-1 67h5m45 12h5m13 65h5m-55 -58h5m-60 35h5m135 -51h5m-109 -3h5m-93 9h5m78 7h5m-9 -16h5m22 -12h5m5 -13h5m-25 13h5m-16 12h5m-50 23h5m-5 -72h5m37 59h5m-69 -138h5m81 86h5m-22 55h5m4 -24h5m-4 2h5m-17 36h5m24 -19h5m-45 -69h5m-1 70h5m1 20h5m-30 -12h5m17 1h5m-12 -39h5m-68 31h5m12 -13h5m16 3h5m15 9h5m11 -36h5m-3 5h5m-12 7h5m-29 28h5m34 -13h5m-26 -58h5m41 101h5m7 -74h5m-94 87h5m80 -117h5m-86 35h5m39 50h5m-10 -27h5m37 -9h5m-68 81h5m13 -139h5m-30 64h5m13 14h5m21 -18h5m-13 12h5m-1 -25h5m0 -38h5m11 50h5m-7 4h5m-27 64h5m-26 -50h5m-6 -13h5m15 -14h5m-96 -29h5m65 61h5m9 -61h5m33 -25h5m-52 132h5m-51 -45h5m108 4h5m-54 -11h5m-4 -2h5m8 5h5m-43 7h5m-5 -21h5m12 18h5m23 -2h5m-43 15h5m21 -6h5m-10 20h5m-34 -60h5m-7 4h5m-27 16h5m54 -5h5m-6 49h5m-21 -47h5m-41 37h5m0 -35h5m20 4h5m64 -14h5m-144 18h5m116 -20h5m-24 30h5m-39 20h5m1 -37h5m1 25h5m-11 -43h5m-6 86h5m-1 -96h5m-36 -29h5m62 80h5m-44 -40h5m9 -39h5m-18 6h5m2 61h5m-10 -3h5m-7 -6h5m1 -5h5m-19 -4h5m6 67h5m-63 -68h5m41 27h5m42 -34h5m-20 20h5m-9 25h5m31 -47h5m-56 52h5m9 -14h5m-19 -17h5m-10 47h5m-20 -78h5m14 34h5m-51 13h5m49 -19h5m-62 -6h5m22 -76h5m-26 151h5m24 -23h5m4 -114h5m-20 41h5m8 49h5m-9 -87h5m8 122h5m-27 -45h5m-1 -45h5m-29 41h5m51 -8h5m23 -2h5m-63 18h5m4 -82h5m-8 36h5m-4 8h5m-7 30h5m-11 0h5m16 -1h5m-60 -15h5m0 -7h5m36 11h5m-8 8h5m5 -19h5m32 -10h5m-76 21h5m37 -14h5m-28 -9h5m8 59h5m-30 -16h5m41 -8h5m-6 -1h5m-61 3h5m10 39h5m10 -62h5m-27 9h5m17 -20h5m-15 -25h5m5 56h5m-25 -32h5m-12 27h5m32 32h5m-61 -21h5m42 37h5m4 -41h5m4 82h5m29 -108h5m-58 24h5m-24 -2h5m44 46h5m37 -43h5m-88 -5h5m-72 -4h5m170 -3h5m-83 47h5m-23 -45h5m-8 5h5m19 -13h5m-20 -21h5m13 6h5m-31 7h5m-11 28h5m-16 -47h5m23 43h5m35 -19h5m0 57h5m-53 -34h5m-8 -19h5m-12 31h5m0 -47h5m-15 37h5m-19 -13h5m71 -6h5m-60 -7h5m35 29h5m-51 55h5m22 -95h5m-12 59h5m-93 4h5m32 -25h5m-6 -28h5m27 27h5m-1 -8h5m-11 -3h5m-9 -20h5m23 32h5m7 118h5m-35 -103h5m-13 -61h5m24 -15h5m-34 83h5m-24 -38h5m47 1h5m-59 -37h5m71 70h5m-42 -43h5m-27 70h5m14 -158h5m12 75h5m-28 129h5m-14 -149h5m15 175h5m8 -167h5m-30 24h5m-13 62h5m-67 -79h5m58 5h5m4 30h5m-4 -31h5m13 20h5m-22 -21h5m11 -27h5m-65 77h5m34 -5h5m-50 -10h5m111 -32h5m-76 -10h5m18 26h5m-29 25h5m-6 -5h5m-5 -10h5m7 44h5m-41 -21h5m20 -67h5m18 60h5m-34 -25h5m-27 -7h5m50 -19h5m-44 17h5m0 44h5m47 -23h5m-69 9h5m118 21h5m-149 -25h5m51 -5h5m-3 9h5m-22 56h5m-12 -153h5m-48 166h5m-17 -83h5m55 4h5m-2 -20h5m2 35h5m-11 3h5m-43 -2h5m45 8h5m-17 -54h5m-74 58h5m90 -33h5m-23 -29h5m-8 13h5m-39 83h5m20 -84h5m41 -9h5m-101 9h5m50 17h5m-33 51h5m17 -8h5m-74 -48h5m58 15h5m-1 7h5m11 -36h5m-46 28h5m14 -30h5m25 28h5m-9 0h5m-16 29h5m5 -33h5m-9 82h5m4 -56h5m15 -18h5m-110 -17h5m-22 16h5m76 -10h5m-1 4h5m-30 -19h5m22 67h5m-10 -51h5m-1 21h5m33 -63h5m-88 18h5m-33 -15h5m-14 22h5m64 -6h5m5 27h5m-44 -14h5m43 51h5m3 -41h5m-19 -87h5m-1 67h5m-4 31h5m3 11h5m-18 -35h5m12 2h5m-18 28h5m-74 -49h5m28 52h5m-10 44h5m25 -48h5m-28 -40h5m55 8h5m-82 16h5m56 4h5m-28 -21h5m20 13h5m-7 -32h5m-29 36h5m17 -13h5m40 -2h5m-67 14h5m-8 76h5m6 -73h5m-7 19h5m-2 -66h5m11 64h5m-27 -39h5m15 -3h5m-32 39h5m-15 120h5m8 -150h5m-16 -2h5m-1 21h5m24 5h5m-26 -37h5m-7 27h5m27 2h5m-47 -8h5m5 18h5m-44 -19h5m89 11h5m-92 6h5m46 -19h5m5 8h5m-54 -45h5m-8 49h5m-9 -36h5m15 -7h5m-44 64h5m100 -16h5m-49 -20h5m-142 27h5m104 -3h5m13 10h5m-8 -18h5m-4 13h5m16 -27h5m36 61h5m-57 -46h5m59 7h5m-113 -13h5m33 -11h5m3 58h5m-9 -61h5m-26 15h5m17 13h5m58 -7h5m-125 1h5m13 -36h5m3 42h5m13 -12h5m1 17h5m-7 -8h5m2 -37h5m28 40h5m-39 -19h5m5 36h5m-20 -17h5m28 -4h5m-69 -22h5m37 -49h5m-5 37h5m-13 67h5m-1 -31h5m20 -28h5m-30 53h5m-3 -80h5m-4 61h5m16 -12h5m9 -2h5m-70 -11h5m64 13h5m-100 55h5m37 -74h5m-5 -60h5m-27 46h5m34 28h5m-52 3h5m47 -28h5m18 32h5m-5 -43h5m-58 108h5m29 57h5m-96 -112h5m105 11h5m-68 -24h5m9 -30h5m0 18h5m16 19h5m-38 -17h5m-34 -46h5m95 65h5m-70 -69h5m55 16h5m-56 2h5m-3 23h5m-13 10h5m8 13h5m-33 -70h5m53 88h5m-34 -40h5m-28 25h5m-16 -2h5m-7 -38h5m27 -1h5m-6 7h5m2 11h5m8 13h5m-40 -27h5m-10 29h5m8 -2h5m37 -41h5m-47 36h5m-8 8h5m8 28h5m-16 -92h5m3 115h5m-11 -72h5m0 55h5m11 -23h5m-39 -33h5m-21 23h5m26 15h5m-22 -56h5m64 48h5m-99 -48h5m40 32h5m49 10h5m-61 40h5m56 -33h5m-60 -45h5m-5 74h5m-30 -53h5m39 21h5m39 8h5m-57 -18h5m-12 33h5m-20 -77h5m-38 24h5m36 13h5m15 -1h5m-13 44h5m-49 -23h5m-23 -4h5m62 -9h5m-9 -15h5m-11 15h5m-57 -37h5m31 32h5m24 5h5m-50 -23h5m-1 89h5m28 -75h5m-18 0h5m-61 11h5m41 -8h5m16 47h5m-13 -3h5m-12 66h5m11 -91h5m-51 -34h5m18 107h5m1 -121h5m13 -32h5m-2 53h5m-7 34h5m-52 -18h5m86 5h5m-63 15h5m57 71h5m-69 -96h5m20 -1h5m-46 6h5m-6 -1h5m-35 7h5m32 -15h5m-47 -20h5m42 18h5m-5 3h5m-1 33h5m17 -37h5m-88 0h5m86 -18h5m-32 13h5m-33 33h5m67 37h5m-58 -47h5m8 47h5m-87 -53h5m77 40h5m-24 -70h5m-8 12h5m1 10h5m6 -3h5m26 -5h5m-42 2h5m61 17h5m-46 -12h5m7 -3h5m-50 20h5m109 -9h5m-92 4h5m-18 -23h5m-16 26h5m29 40h5m-27 -16h5m-6 30h5m2 -60h5m33 -3h5m-37 -22h5m-38 53h5m92 -14h5m-58 -31h5m-45 0h5m39 10h5m-24 -30h5m20 43h5m-43 -17h5m13 -45h5m-33 47h5m-4 23h5m17 -23h5m-11 3h5m0 9h5m39 -14h5m-59 0h5m1 -13h5m11 30h5m-29 20h5m18 -29h5m-40 9h5m33 -2h5m-27 -74h5m-3 72h5m18 -24h5m-1 16h5m-26 -11h5m6 -35h5m-40 11h5m9 52h5m-7 -48h5m-35 98h5m16 -82h5m58 1h5m-87 -33h5m69 92h5m-55 0h5m23 -34h5m-54 -16h5m30 -8h5m-108 -50h5m64 150h5m28 -68h5m0 -47h5m-7 46h5m-20 -23h5m-6 30h5m1 -35h5m-30 12h5m34 16h5m-17 -43h5m1 58h5m44 -62h5m-29 -49h5m-49 80h5m15 21h5m4 -11h5m-10 2h5m-67 -1h5m93 -65h5m-64 56h5m-19 -19h5m47 25h5m-27 -6h5m1 -41h5m-36 60h5m54 -67h5m-46 66h5m9 -54h5m11 -1h5m-62 35h5m14 32h5m13 -52h5m-12 24h5m-37 -7h5m12 7h5m14 31h5m61 12h5m-71 -33h5m-4 0h5m-91 7h5m108 -22h5m-81 -2h5m85 5h5m-44 33h5m15 -9h5m-56 -10h5m66 -31h5m-59 19h5m22 3h5m-75 8h5m33 -13h5m-2 7h5m0 -7h5m2 45h5m-7 -54h5m-50 28h5m76 -24h5m1 16h5m-39 27h5m14 -51h5m-15 -22h5m-69 26h5m75 -3h5m-15 29h5m-3 8h5m27 -16h5m-54 -36h5m-8 4h5m1 -16h5m13 41h5m-66 56h5m28 -42h5m12 -16h5m-34 35h5m6 -7h5m5 -2h5m-25 -30h5m18 2h5m-20 -4h5m-37 31h5m64 13h5m-47 43h5m40 -98h5m-34 13h5m-21 47h5m4 -28h5m16 -31h5m-39 12h5m16 -24h5m-15 53h5m-56 -34h5m32 -19h5m-18 17h5m12 10h5m-4 -13h5m-4 -2h5m24 40h5m-7 -21h5m23 -54h5m-43 54h5m-8 -15h5m-67 15h5m53 -20h5m-10 21h5m-12 -13h5m33 2h5m-31 22h5m12 4h5m-83 -2h5m85 -17h5m-85 -6h5m40 17h5m3 -34h5m-11 21h5m22 13h5m-14 -9h5m-34 44h5m22 -10h5m8 -15h5m-3 18h5m-2 -94h5m-38 73h5m-10 -29h5m-9 10h5m8 -15h5m19 26h5m-26 -14h5m21 18h5m-34 -18h5m16 14h5m-68 9h5m-41 10h5m66 3h5m30 -33h5m-84 0h5m38 -8h5m25 64h5m-38 -66h5m83 24h5m-67 20h5m31 -38h5m-78 41h5m29 29h5m-7 -30h5m-47 -79h5m37 33h5m2 8h5m15 -52h5m5 38h5m-87 18h5m46 -17h5m25 20h5m-63 21h5m1 17h5m44 -26h5m-43 25h5m-47 -44h5m47 -31h5m-29 57h5m165 -59h5m-101 50h5m-70 -78h5m-24 59h5m1 -48h5m3 28h5m1 25h5m-12 -19h5m-14 -7h5m-96 35h5m110 -27h5m-29 -2h5m17 -22h5m-21 26h5m12 -14h5m-13 22h5m5 23h5m-66 -18h5m46 -14h5m-1 -11h5m31 36h5m15 -34h5m-74 14h5m2 16h5m-35 7h5m41 7h5m-7 -12h5m8 -20h5m-67 -20h5m89 36h5m-58 17h5m-17 -104h5m9 43h5m49 12h5m-71 16h5m-39 27h5m-27 -32h5m63 5h5m21 22h5m-84 -11h5m44 15h5m-58 -32h5m-16 15h5m58 -4h5m-105 -32h5m102 57h5m26 -79h5m-32 67h5m-81 -5h5m106 43h5m-25 -57h5m-40 -9h5m13 -25h5m-5 -16h5m-34 86h5m4 -42h5m48 13h5m-43 2h5m-15 79h5m-34 -69h5m77 44h5m-28 -35h5m-25 -24h5m11 -1h5m-31 -29h5m-7 37h5m-4 -19h5m2 33h5m36 26h5m57 -33h5m-103 29h5m-28 -34h5m76 47h5m-56 -95h5m-22 25h5m-19 52h5m27 -27h5m-13 27h5m6 -100h5m-16 63h5m-10 13h5m-3 -33h5m-8 -19h5m-21 99h5m31 -72h5m-72 11h5m96 39h5m-28 -13h5m-1 -16h5m32 60h5m-112 -48h5m-5 -16h5m16 6h5m70 29h5m-66 -27h5m-49 17h5m27 -76h5m-30 43h5m29 12h5m-54 9h5m-24 -11h5m76 26h5m-31 -38h5m-27 19h5m64 -20h5m-2 60h5m-31 -52h5m43 7h5m-73 65h5m7 -64h5m4 -21h5m-3 5h5m-35 8h5m19 -1h5m-9 7h5m-1 15h5m-13 -15h5m9 7h5m19 121h5m-65 -138h5m25 47h5m-40 -57h5m13 26h5m29 -3h5m-70 -8h5m34 33h5m-99 -33h5m86 -55h5m-5 59h5m3 28h5m-108 -46h5m105 25h5m-31 35h5m16 7h5m1 -47h5m-63 3h5m42 16h5m-57 -9h5m36 -9h5m58 1h5m-13 46h5m-25 -24h5m-22 -25h5m2 40h5m-46 -30h5m32 -10h5m-14 -10h5m57 71h5m-110 -52h5m66 -34h5m-23 32h5m-13 29h5m24 -36h5m-31 16h5m-6 -16h5m-5 -9h5m49 2h5m6 9h5m-122 -6h5m27 -16h5m9 10h5m1 -1h5m-8 2h5m-15 36h5m8 -21h5m-23 -31h5m30 37h5m-23 -14h5m-33 -16h5m14 -3h5m-37 14h5m48 17h5m-50 -38h5m43 67h5m5 -25h5m-54 12h5m-70 4h5m88 -13h5m-17 -31h5m5 48h5m-10 -44h5m-20 -1h5m15 9h5m-2 5h5m-7 -30h5m23 38h5m-30 -13h5m-17 4h5m1 -50h5m-4 64h5m-51 -32h5m16 -14h5m19 -4h5m-16 33h5m-33 -13h5m44 37h5m-11 0h5m-12 -17h5m-10 -6h5m1 -34h5m-7 72h5m-34 57h5m39 -95h5m-52 12h5m25 -11h5m36 24h5m-18 -22h5m-30 -10h5m-26 0h5m-2 27h5m51 5h5m-21 24h5m-20 -11h5m-10 -20h5m-27 1h5m-2 -57h5m-3 51h5m35 -33h5m-28 23h5m-16 -16h5m-6 -33h5m-27 17h5m2 62h5m9 -37h5m41 -1h5m-39 4h5m-13 7h5m95 6h5m-136 3h5m34 15h5m-43 -46h5m35 21h5m-16 -36h5m32 46h5m-53 -27h5m-47 -1h5m79 12h5m-26 17h5m-5 -36h5m-31 49h5m67 -15h5m-11 5h5m-62 -24h5m42 11h5m-43 -12h5m69 -1h5m-84 -42h5m6 63h5m-8 23h5m78 -65h5m-80 70h5m-13 -26h5m-5 11h5m-18 7h5m35 -31h5m-29 -19h5m35 13h5m-24 -9h5m-36 26h5m17 -22h5m59 4h5m-106 -2h5m-33 -19h5m69 29h5m-2 -3h5m-44 4h5m6 3h5m-13 13h5m32 -35h5m-31 -14h5m27 26h5m-38 -14h5m2 -6h5m-39 14h5m-2 52h5m16 -40h5m-24 43h5m8 -27h5m54 -12h5m-18 66h5m-41 -57h5m-13 -15h5m-58 45h5m48 -40h5m41 -42h5m-31 49h5m-21 28h5m-20 32h5m4 -89h5m16 -42h5m23 69h5m-51 -21h5m-50 72h5m45 -66h5m41 0h5m-12 5h5m-66 1h5m19 71h5m54 -67h5m-73 -6h5m9 52h5m-8 -43h5m24 -1h5m-54 -7h5m30 29h5m-17 -35h5m-31 49h5m13 -48h5m5 -4h5m-33 32h5m2 -28h5m32 10h5m-36 -33h5m-56 -43h5m77 48h5m-38 13h5m15 41h5m-13 -50h5m10 36h5m-24 15h5m-14 -8h5m42 -42h5m-20 20h5m-47 -42h5m11 46h5m11 -15h5m-25 41h5m-8 -10h5m20 -16h5m-34 -12h5m55 -6h5m-52 -67h5m-5 79h5m20 32h5m-26 4h5m-6 -63h5m19 31h5m-27 3h5m-7 7h5m-19 10h5m-20 -34h5m33 17h5m0 27h5m-3 -89h5m-11 123h5m-15 -85h5m12 11h5m-38 32h5m14 79h5m-14 -28h5m-13 -48h5m21 -10h5m-64 14h5m53 3h5m-3 -34h5m-16 87h5m-21 -92h5m-29 7h5m48 -11h5m-60 2h5m54 -11h5m7 22h5m-32 10h5m16 -8h5m-50 -15h5m22 -48h5m-6 -29h5m44 86h5m-52 -42h5m-5 46h5m35 -10h5m-133 -4h5m73 -1h5m-3 18h5m-29 -15h5m38 7h5m-10 -6h5m-38 -15h5m16 22h5m12 30h5m-18 -32h5m-40 13h5m69 10h5m-23 -12h5m-45 -72h5m-11 63h5m21 27h5m-49 8h5m24 -12h5m-38 -30h5m33 -7h5m6 2h5m-10 32h5m19 -20h5m-31 11h5m-142 -23h5m149 2h5m40 -13h5m-70 -40h5m-2 83h5m-2 -9h5m-19 -8h5m16 -31h5m-50 25h5m39 -4h5m-5 -30h5m-94 74h5m69 -47h5m13 26h5m-4 -2h5m27 34h5m-70 -68h5m39 22h5m-11 -29h5m-11 19h5m-9 53h5m14 -2h5m-70 -58h5m11 27h5m41 -20h5m-3 29h5m-16 -27h5m-15 -32h5m-30 57h5m6 -26h5m-47 -37h5m28 59h5m18 -12h5m-18 -6h5m-16 19h5m25 -24h5m-8 7h5m-55 -8h5m32 -21h5m79 34h5m-115 -7h5m55 -45h5m-42 43h5m-5 -4h5m-19 20h5m-18 1h5m45 -11h5m-52 -15h5m106 28h5m-94 2h5m14 -9h5m6 -68h5m-3 -20h5m-10 91h5m40 18h5m-61 -24h5m-18 2h5m5 -3h5m-13 6h5m-3 -9h5m11 -42h5m-45 41h5m22 -10h5m-2 10h5m-40 8h5m-52 -9h5m47 3h5m31 -27h5m-21 -35h5m19 56h5m-14 -20h5m-24 44h5m12 -5h5m-7 -61h5m-10 55h5m-15 -10h5m6 -28h5m0 125h5m8 -63h5m-29 -5h5m-18 -26h5m-69 -88h5m64 0h5m30 114h5m-43 -31h5m46 -3h5m-2 1h5m-32 38h5m-42 -4h5m15 -38h5m-27 -103h5m54 75h5m-88 -17h5m26 46h5m3 36h5m8 -13h5m32 -17h5m-12 -11h5m-37 6h5m-36 8h5m-6 -32h5m25 57h5m36 -38h5m-28 19h5m13 -30h5m-30 -8h5m-8 56h5m43 -12h5m-45 1h5m-21 -28h5m12 18h5m-1 -20h5m-55 33h5m42 -16h5m-21 10h5m-39 6h5m80 -75h5m-48 69h5m-10 89h5m-54 -105h5m37 9h5m-17 8h5m62 -57h5m-54 37h5"/>
<rect x="483.20" y="19.30" width="176.70" height="172.75" fill="none" stroke="#000" stroke-width="1.5"/>
<path stroke="#000" stroke-width="1" d="M571.55 192.05v-1.90M571.55 19.30v1.90M483.20 105.67h1.90M659.90 105.67h-1.90"/>
<text x="571.15" y="12.60" font-size="9.60" text-anchor="middle" letter-spacing="0.25" stroke="#000" stroke-width="0.12">3rd stage</text>
<text x="480.50" y="22.00" font-size="8.80" text-anchor="end" stroke="#000" stroke-width="0.1">0.5</text>
<text x="480.50" y="108.38" font-size="8.80" text-anchor="end" stroke="#000" stroke-width="0.1">0</text>
<text x="480.50" y="194.75" font-size="8.80" text-anchor="end" stroke="#000" stroke-width="0.1">−0.5</text>
<text x="480.20" y="200.65" font-size="8.80" text-anchor="middle" stroke="#000" stroke-width="0.1">−0.5</text>
<text x="571.55" y="200.65" font-size="8.80" text-anchor="middle" stroke="#000" stroke-width="0.1">0</text>
<text x="659.90" y="200.65" font-size="8.80" text-anchor="middle" stroke="#000" stroke-width="0.1">0.5</text>
<text x="571.15" y="210.25" font-size="9" text-anchor="middle">δ<tspan font-size="7" dy="4.3">x</tspan></text>
<text transform="translate(463.30 105.58) rotate(-90)" font-size="9" text-anchor="middle">δ<tspan font-size="7" dy="4.2" dx="0.4">y</tspan></text>
<rect x="485.40" y="135.60" width="60.60" height="54.30" fill="#fff" stroke="#383838" stroke-width="1.5"/>
<path fill="none" stroke="#8a8a8a" stroke-width="1" d="M486.60 136.60V188.70H545.00"/>
<text x="487.60" y="145.60" font-size="9.6" style="white-space:pre">μ<tspan font-size="8" dy="5">x</tspan><tspan dy="-5" stroke="#000" stroke-width="0.45"> = </tspan><tspan stroke="#000" stroke-width="0.1">0.0032</tspan></text>
<text x="487.60" y="158.00" font-size="9.6" style="white-space:pre">μ<tspan font-size="8" dy="5">y</tspan><tspan dy="-5" stroke="#000" stroke-width="0.45"> = </tspan><tspan stroke="#000" stroke-width="0.1">−0.0021</tspan></text>
<text x="487.60" y="170.40" font-size="9.6" style="white-space:pre">σ<tspan font-size="8" dy="5">x</tspan><tspan dy="-5" stroke="#000" stroke-width="0.45"> = </tspan><tspan stroke="#000" stroke-width="0.1">0.0391</tspan></text>
<text x="487.60" y="182.80" font-size="9.6" style="white-space:pre">σ<tspan font-size="8" dy="5">y</tspan><tspan dy="-5" stroke="#000" stroke-width="0.45"> = </tspan><tspan stroke="#000" stroke-width="0.1">0.0376</tspan></text>
<path transform="scale(0.25)" stroke="#0000ff" stroke-opacity="0.45" stroke-width="5" fill="none" d="M0 0m561 1461h5m133 -83h5m-264 -151h5m88 -56h5m150 54h5m-147 -97h5m51 -56h5m32 125h5m-165 169h5m131 -69h5m2 57h5m69 -155h5m-139 8h5m160 33h5m-200 125h5m-39 -259h5m-56 118h5m209 44h5m9 80h5m-288 -69h5m292 -101h5m-110 -89h5m45 159h5m-169 17h5m98 -90h5m-17 27h5m-16 28h5m88 -68h5m-25 129h5m-75 -152h5m-173 53h5m278 30h5m-116 106h5m11 -70h5m12 -61h5m-55 58h5m151 -51h5m-141 122h5m-110 9h5m-3 47h5m176 -94h5m-8 161h5m-195 -322h5m81 -47h5m51 49h5m36 63h5m8 149h5m-95 -150h5m77 132h5m-75 73h5m13 -12h5m-46 -133h5m45 -188h5m132 135h5m-304 159h5m111 -29h5m173 -1h5m-21 85h5m-245 -119h5m21 -109h5m122 60h5m-70 -146h5m67 164h5m59 133h5m-254 -204h5m172 237h5m97 -113h5m-150 -3h5m-167 -119h5m111 154h5m-104 -61h5m221 -29h5m51 50h5m-140 42h5m6 -187h5m-8 72h5m-211 -45h5m115 -29h5m42 195h5m-131 -61h5m153 33h5m-82 -5h5m68 64h5m-93 -232h5m-73 41h5m78 85h5m-112 4h5m19 -10h5m-17 11h5m250 23h5m-149 15h5m-180 -83h5m251 101h5m-133 -129h5m112 -76h5m-94 213h5m181 -33h5m-198 63h5m46 50h5m-26 -355h5m160 197h5m-251 -17h5m-11 32h5m150 63h5m123 -142h5m-48 82h5m-244 80h5m320 -73h5m-324 -111h5m138 28h5m-12 83h5m111 63h5m-88 4h5m-111 -268h5m-23 366h5m10 -190h5m43 30h5m28 80h5m19 -208h5m-215 3h5m276 91h5m-247 36h5m-65 -57h5m175 126h5m135 -68h5m-229 9h5m105 -97h5m-14 119h5m29 96h5m-21 -174h5m-34 128h5m17 -281h5m-19 189h5m-195 -116h5m311 56h5m-162 142h5m18 -72h5m-29 -199h5m28 262h5m72 -71h5m36 84h5m-203 -81h5m100 -111h5m-185 108h5m177 -58h5m-92 1h5m-10 14h5m48 -59h5m-82 -76h5m159 337h5m-31 -222h5m-108 27h5m171 129h5m-162 -17h5m218 -134h5m-219 53h5m-166 -82h5m209 105h5m-173 -64h5m164 -140h5m-133 220h5m95 -171h5m-123 15h5m124 47h5m66 79h5m90 28h5m-110 -121h5m-105 -132h5m35 115h5m-112 135h5m-20 -144h5m66 -34h5m5 221h5m37 -20h5m-25 -180h5m-17 149h5m-23 -28h5m-14 -91h5m52 172h5m141 -135h5m-215 135h5m174 20h5m-96 -114h5m-66 -33h5m-15 -21h5m-148 126h5m16 -114h5m196 -32h5m-25 -6h5m-125 170h5m-22 -29h5m162 6h5m-127 -201h5m217 65h5m-123 100h5m-202 63h5m55 13h5m23 -191h5m161 157h5m-262 -14h5m249 -168h5m-113 127h5m92 -90h5m-42 46h5m-38 -124h5m49 221h5m-100 -94h5m-65 -3h5m202 -83h5m-118 171h5m-134 -74h5m143 -90h5m43 196h5m-155 -141h5m-82 -58h5m30 164h5m39 -44h5m-100 -64h5m272 -63h5m-88 -30h5m-77 86h5m210 93h5m-235 28h5m111 -88h5m4 86h5m-129 -83h5m238 107h5m-386 -133h5m349 14h5m-292 7h5m170 219h5m8 -182h5m-71 -76h5m-134 27h5m160 -46h5m-178 -12h5m162 167h5m-65 -82h5m162 54h5m29 -76h5m-192 98h5m-24 17h5m-44 -119h5m17 202h5m140 -194h5m78 -30h5m-187 -125h5m-86 231h5m71 29h5m-48 -106h5m-120 81h5m147 -96h5m5 -107h5m86 31h5m-28 61h5m-22 -30h5m-54 135h5m67 63h5m47 -6h5m-55 5h5m-129 -231h5m168 51h5m-135 -9h5m88 -56h5m-99 4h5m-2 14h5m-91 35h5m-14 39h5m182 58h5m-211 -147h5m170 64h5m-40 -155h5m21 111h5m-156 -34h5m206 248h5m-125 -123h5m-167 36h5m138 120h5m67 -5h5m101 -143h5m-117 -35h5m-55 -42h5m-141 22h5m258 13h5m90 -3h5m-3 125h5m-370 -31h5m285 83h5m29 -85h5m-313 -40h5m126 40h5m53 126h5m-133 -119h5m-19 50h5m99 -10h5m-141 -17h5m99 -215h5m-9 187h5m-193 -78h5m257 -26h5m-29 259h5m-3 -50h5m32 -43h5m-97 -180h5m-33 131h5m166 -92h5m16 71h5m-302 -101h5m247 142h5m-57 -219h5m-17 228h5m-94 -32h5m227 -97h5m-80 223h5m-44 -28h5m-28 15h5m72 -262h5m-144 12h5m-31 180h5m49 -146h5m39 47h5m-23 15h5m-16 -134h5m37 -3h5m-230 187h5m306 -32h5m-198 47h5m11 -52h5m32 -240h5m-69 333h5m169 -237h5m-29 50h5m-146 216h5m108 -99h5m-22 -48h5m-94 -53h5m166 124h5m-124 144h5m98 -217h5m-70 179h5m-120 -258h5m137 141h5m70 -2h5m-61 -149h5m-93 293h5m-82 -260h5m75 260h5m-130 -177h5m167 -169h5m9 118h5m-125 164h5m109 -73h5m12 62h5m78 -57h5m-47 -181h5m-216 122h5m175 120h5m-159 -112h5m-68 -126h5m241 242h5m-136 39h5m108 -16h5m-168 -89h5m-116 -50h5m193 200h5m-101 -194h5m-78 -39h5m151 78h5m-189 -5h5m208 -86h5m142 91h5m-221 -93h5m-48 -128h5m43 258h5m89 -106h5m62 60h5m-22 55h5m-61 -83h5m12 -154h5m-105 98h5m-127 95h5m214 -228h5m-66 302h5m-71 -20h5m27 -273h5m148 77h5m-132 189h5m78 -72h5m-72 -7h5m-45 -39h5m106 -118h5m28 51h5m-79 171h5m27 -46h5m-151 25h5m144 -43h5m-176 -44h5m53 -38h5m12 -87h5m4 93h5m-77 55h5m57 33h5m-72 113h5m266 -172h5m-88 -47h5m-167 181h5m70 -132h5m108 -21h5m-233 147h5m239 -217h5m-280 101h5m15 130h5m88 -182h5m75 -2h5m-56 -68h5m120 89h5m-115 -40h5m-14 147h5m66 24h5m38 -101h5m41 -23h5m-186 -30h5m123 80h5m-28 -107h5m-62 126h5m-126 -35h5m146 8h5m-98 -45h5m35 234h5m-26 -332h5m-7 181h5m-136 -27h5m179 -43h5m-86 140h5m67 -213h5m-138 -52h5m118 163h5m-75 -170h5m97 50h5m-153 165h5m-45 -6h5m93 -11h5m-82 -89h5m27 -35h5m16 180h5m45 69h5m24 -153h5m-68 -43h5m55 106h5m133 -32h5m-178 -52h5m39 120h5m-7 -260h5m-6 261h5m66 -77h5m-96 -73h5m44 196h5m129 -106h5m-233 7h5m146 89h5m-257 -191h5m274 1h5m-206 -11h5m107 -2h5m-2 -9h5m110 0h5m-312 -37h5m-11 85h5m78 35h5m7 -102h5m24 -13h5m5 -74h5m-93 175h5m232 22h5m-133 -230h5m-19 201h5m-8 -45h5m91 -32h5m-51 112h5m-127 -78h5m37 -165h5m-117 283h5m105 -103h5m160 -94h5m-196 258h5m60 -139h5m-15 -39h5m131 -61h5m-148 16h5m4 132h5m-23 -61h5m70 195h5m-237 -194h5m138 -87h5m110 -44h5m-2 305h5m-87 -150h5m-100 -60h5m172 152h5m-44 -244h5m-154 210h5m35 -86h5m141 -101h5m-179 136h5m176 118h5m42 -150h5m-112 98h5m-109 -125h5m-62 143h5m-7 -23h5m171 -76h5m-47 23h5m-80 49h5m175 -19h5m-177 43h5m142 -56h5m-25 -112h5m86 66h5m-100 -45h5m-1 196h5m-172 -153h5m198 133h5m4 -101h5m-165 72h5m86 -248h5m-49 93h5m211 111h5m-259 51h5m182 -41h5m-35 -89h5m-230 -42h5m172 48h5m12 113h5m-102 -121h5m126 -11h5m-95 21h5m-54 -91h5m-9 153h5m63 -174h5m-122 122h5m-9 -58h5m171 221h5m-38 -114h5m-184 33h5m273 -127h5m-27 145h5m-213 -213h5m253 140h5m-351 -113h5m222 140h5m38 -94h5m-105 59h5m202 34h5m-94 63h5m-170 -169h5m86 135h5m-161 24h5m250 -141h5m-160 84h5m135 -82h5m48 14h5m-232 174h5m57 44h5m3 -93h5m0 -148h5m-130 74h5m105 -43h5m-154 -88h5m183 22h5m136 43h5m-121 -34h5m-77 206h5m31 -125h5m37 -92h5m-49 235h5m-39 -236h5m62 57h5m-171 61h5m175 -8h5m-101 -145h5m-37 192h5m223 22h5m-139 45h5m-94 -24h5m15 -159h5m-183 73h5m196 -119h5m-18 -23h5m58 162h5m-51 70h5m153 -133h5m-198 -156h5m-58 177h5m14 -84h5m15 24h5m-54 -129h5m9 130h5m93 60h5m-181 57h5m169 135h5m-102 -333h5m29 299h5m99 -52h5m-108 -205h5m139 116h5m-73 -168h5m3 41h5m-103 4h5m50 139h5m9 -60h5m171 47h5m-114 -41h5m-210 62h5m92 -89h5m82 -71h5m-225 77h5m64 -71h5m24 80h5m125 80h5m10 78h5m-161 -89h5m50 91h5m11 -44h5m126 -88h5m-175 -111h5m-27 25h5m175 -9h5m-23 179h5m-71 -208h5m-12 110h5m132 131h5m-182 -262h5m-105 168h5m138 -100h5m-57 218h5m-119 -148h5m133 -93h5m164 140h5m-228 119h5m-81 -115h5m111 13h5m84 -49h5m-37 87h5m85 -12h5m-29 -107h5m10 67h5m-69 80h5m-81 -121h5m-190 24h5m106 1h5m154 -82h5m11 -129h5m-119 346h5m-24 -251h5m240 77h5m-142 11h5m-158 112h5m92 48h5m-53 34h5m52 -86h5m153 -44h5m-99 99h5m-55 -41h5m-24 -204h5m111 157h5m-176 -149h5m123 16h5m-97 -99h5m156 147h5m-19 140h5m-178 68h5m-107 -311h5m-57 43h5m90 160h5m45 -251h5m-62 -19h5m43 100h5m55 287h5m-41 -148h5m-33 -123h5m223 146h5m-214 7h5m85 -179h5m-149 -55h5m98 149h5m-137 -106h5m206 62h5m-96 -166h5m49 217h5m-266 37h5m231 -13h5m-34 -78h5m-137 17h5m139 -92h5m52 276h5m-233 -143h5m161 -4h5m-100 -23h5m186 53h5m-108 -244h5m-79 221h5m195 -42h5m-191 -14h5m-11 106h5m20 3h5m79 -53h5m-175 71h5m125 -74h5m-117 -16h5m-79 76h5m2 -144h5m165 -27h5m87 55h5m7 -24h5m35 119h5m-186 100h5m-57 -215h5m114 129h5m-88 -40h5m87 180h5m-74 -246h5m35 125h5m54 -67h5m-71 -78h5m-129 16h5m148 -103h5m12 169h5m-121 -81h5m-83 46h5m108 57h5m103 -20h5m-47 -49h5m-26 -129h5m-4 -6h5m68 46h5m-34 219h5m-140 -109h5m188 6h5m-79 -121h5m-169 208h5m246 -70h5m-218 -196h5m-63 202h5m-18 -30h5m41 118h5m140 -38h5m-61 19h5m148 -104h5m-219 122h5m201 -44h5m-9 -24h5m-247 -119h5m10 97h5m116 -113h5m-79 47h5m-127 -33h5m188 119h5m-84 -79h5m111 -85h5m-149 133h5m235 1h5m-38 -58h5m-92 77h5m-11 -102h5m42 206h5m-52 -75h5m159 12h5m-82 -180h5m43 51h5m-93 -15h5m-126 14h5m45 242h5m-88 -28h5m93 -230h5m1 14h5m197 105h5m-198 -41h5m-98 -130h5m16 196h5m-77 -69h5m93 192h5m-46 -215h5m188 164h5m-97 -55h5m-163 -242h5m211 305h5m-99 -212h5m-109 49h5m84 -91h5m9 176h5m-74 -225h5m150 210h5m-65 -203h5m-89 162h5m128 53h5m48 59h5m-77 -219h5m-20 150h5m-108 -30h5m183 73h5m-5 -118h5m-204 134h5m221 -137h5m-63 81h5m-59 -20h5m-237 -88h5m200 186h5m183 -148h5m-246 -38h5m72 97h5m-59 -3h5m169 -56h5m-318 -56h5m203 96h5m-187 -174h5m234 45h5m-84 35h5m-100 19h5m-82 115h5m162 117h5m-73 -160h5m104 37h5m-75 -118h5m189 32h5m-169 -53h5m-94 -63h5m-39 237h5m222 -48h5m-67 -58h5m-96 186h5m80 -44h5m45 -144h5m-120 111h5m41 58h5m-20 -151h5m-145 14h5m147 10h5m-197 10h5m96 -33h5m-50 -97h5m103 -81h5m11 202h5m-153 -47h5m120 56h5m104 23h5m16 -29h5m-186 -2h5m-51 -9h5m235 37h5m-303 -45h5m144 -210h5m-12 208h5m1 5h5m-75 25h5m65 -51h5m-69 41h5m7 -198h5m138 134h5m-142 25h5m135 -96h5m-198 94h5m-44 78h5m319 -50h5m-202 -58h5m129 58h5m-130 -19h5m126 43h5m-119 -118h5m6 186h5m107 -95h5m-226 -86h5m275 88h5m-102 -22h5m-181 -134h5m-17 124h5m74 -12h5m-16 -101h5m-33 170h5m-61 -6h5m135 -73h5m-57 159h5m28 -220h5m60 53h5m-26 201h5m-106 -335h5m-28 102h5m-17 -101h5m-3 -4h5m-137 167h5m177 -131h5m93 55h5m-214 151h5m142 -153h5m10 -4h5m-211 58h5m41 -6h5m-17 -38h5m-67 63h5m120 -153h5m232 154h5m-84 -92h5m-83 194h5m-67 68h5m117 -153h5m-54 140h5m-80 -176h5m102 -24h5m-53 -12h5m208 52h5m-243 35h5m-92 -47h5m111 46h5m-47 128h5m123 -42h5m-140 -233h5m32 66h5m50 157h5m-151 -161h5m42 117h5m94 104h5m-159 -201h5m91 251h5m-188 -193h5m212 -46h5m16 10h5m3 16h5m-149 -23h5m105 -138h5m-21 355h5m-38 -239h5m67 62h5m-3 -72h5m77 89h5m-138 -120h5m-83 10h5m-26 67h5m15 78h5m95 -210h5m142 50h5m-271 34h5m161 122h5m-63 -13h5m-170 5h5m303 -74h5m-125 -106h5m96 237h5m-77 -58h5m-40 -51h5m-5 -90h5m132 84h5m-85 -61h5m-258 93h5m-35 -93h5m300 86h5m-60 43h5m81 -33h5m-149 12h5m97 -79h5m6 43h5m-13 -1h5m-175 -168h5m50 294h5m-13 -198h5m134 162h5m-131 -57h5m51 -5h5m-61 79h5m163 -122h5m-138 59h5m123 -50h5m-156 26h5m234 15h5m-322 -142h5m125 112h5m-151 18h5m33 -3h5m180 119h5m-70 -152h5m-85 -44h5m-18 69h5m-111 -1h5m189 51h5m-56 -11h5m-88 60h5m18 -81h5m118 49h5m-122 31h5m-138 -117h5m254 -58h5m-13 -23h5m25 127h5m-249 -114h5m203 131h5m-100 -226h5m115 204h5m-34 29h5m48 -10h5m-75 -115h5m-120 213h5m-62 -137h5m191 -90h5m-195 -34h5m302 144h5m-201 80h5m-90 -23h5m186 8h5m16 -73h5m-8 -92h5m-55 193h5m-16 -227h5m-147 35h5m22 -10h5m89 42h5m-164 -81h5m-8 188h5m272 10h5m-17 -101h5m-92 -108h5m-32 93h5m153 99h5m30 -94h5m-262 -35h5m-2 16h5m42 207h5m7 -98h5m175 -36h5m-368 14h5m104 16h5m96 -186h5m-30 116h5m119 89h5m14 -135h5m-137 95h5m-148 -57h5m23 115h5m-33 -84h5m23 -88h5m-31 58h5m-27 66h5m10 -151h5m139 -61h5m81 200h5m-136 -80h5m104 -126h5m58 258h5m-99 -229h5m126 227h5m-127 -4h5m-100 -88h5m-49 26h5m69 51h5m6 -106h5m-15 82h5m28 63h5m-21 -129h5m84 97h5m-128 -92h5m205 89h5m-337 -148h5m120 200h5m36 -140h5m-119 34h5m106 -155h5m-9 60h5m-53 -8h5m-104 163h5m67 -37h5m38 -39h5m128 104h5m-114 -121h5m42 174h5m-135 -44h5m105 -148h5m-109 82h5m171 77h5m-207 -138h5m198 -56h5m-182 131h5m181 -169h5m-101 65h5m-38 180h5m152 -144h5m-49 124h5m-187 -164h5m-67 79h5m157 -118h5m-101 6h5m19 242h5m79 -229h5m3 112h5m-30 65h5m-82 11h5m-31 -81h5m96 -225h5m-22 112h5m-39 43h5m147 17h5m-174 -107h5m96 118h5m-135 -53h5m148 -7h5m-54 151h5m4 -86h5m32 -51h5m-59 53h5m86 -114h5m48 147h5m-24 -134h5m-64 -44h5m-209 133h5m131 64h5m-6 140h5m-32 -76h5m48 -80h5m57 -5h5m-120 -151h5m56 85h5m-49 92h5m52 3h5m40 -55h5m3 -148h5m-244 189h5m169 -201h5m48 203h5m-309 -76h5m152 46h5m-56 106h5m142 36h5m142 -118h5m-238 48h5m179 -179h5m-99 30h5m-149 28h5m75 211h5m206 -188h5m-117 0h5m-156 -19h5m179 165h5m-65 -214h5m-3 130h5m-154 -149h5m115 -56h5m-94 185h5m66 -186h5m-57 -21h5m222 138h5m-37 -49h5m-164 43h5m25 173h5m8 -98h5m30 -51h5m-216 -20h5m116 251h5m94 -281h5m-145 115h5m22 -129h5m-84 -11h5m25 -50h5m-56 93h5m170 170h5m101 -150h5m-53 -100h5m-183 -41h5m177 222h5m-181 -53h5m77 68h5m-101 -219h5m-85 66h5m121 52h5m238 17h5m-153 -131h5m60 45h5m39 33h5m-267 67h5m97 166h5m-132 -241h5m196 180h5m-193 -141h5m116 158h5m-2 -288h5m146 267h5m-106 -3h5m-198 -110h5m201 0h5m34 22h5m-120 78h5m61 -73h5m50 92h5m-86 -164h5m110 48h5m-117 -100h5m-33 71h5m10 -154h5m-95 90h5m-35 221h5m132 -314h5m-8 194h5m-44 133h5m-96 -241h5m137 211h5m56 -6h5m-89 -180h5m-184 73h5m106 -67h5m-39 113h5m166 -84h5m-217 -97h5m47 211h5m44 -159h5m98 183h5m-97 -201h5m13 138h5m32 -55h5m-145 179h5m30 -264h5m69 115h5m-169 -26h5m177 28h5m4 -5h5m10 -99h5m-111 279h5m82 -212h5m41 139h5m-111 -218h5m92 114h5m-100 136h5m145 -36h5m-176 -17h5m-13 -27h5m-72 -51h5m205 147h5m13 -157h5m-192 -41h5m-56 -66h5m41 170h5m47 -148h5m-121 156h5m171 -115h5m-159 -50h5m244 217h5m-70 -111h5m-2 141h5m-186 -27h5m-49 -131h5m130 76h5m-130 -143h5m92 121h5m41 -46h5m14 66h5m-65 -226h5m-18 185h5m189 -106h5m-149 8h5m33 234h5m30 3h5m-51 -153h5m-6 179h5m-186 -111h5m134 -165h5m27 69h5m63 -1h5m-133 160h5m85 -232h5m-149 201h5m-71 -117h5m269 27h5m-110 173h5m-76 -112h5m-59 8h5m79 6h5m44 15h5m101 -36h5m-36 8h5m-170 10h5m187 -39h5m-157 -157h5m58 11h5m-186 176h5m176 -30h5m-107 -187h5m39 160h5m-75 -83h5m50 245h5m-32 -198h5m0 146h5m11 -227h5m101 176h5m-183 -65h5m83 88h5m1 -260h5m-17 263h5m1 -4h5m42 -203h5m-48 -23h5m-93 185h5m229 -133h5m-270 -7h5m323 -15h5m-48 160h5m-88 -118h5m-13 196h5m153 -145h5m-326 -11h5m-16 107h5m207 -144h5m-85 3h5m-64 -146h5m-35 228h5m168 90h5m-151 -29h5m-52 -105h5m11 33h5m58 51h5m155 -19h5m-199 93h5m62 -11h5m-5 -214h5m42 132h5m-189 -21h5m-5 -48h5m68 144h5m53 -203h5m-32 -86h5m124 180h5m-146 129h5m90 -87h5m-45 -177h5m38 108h5m-56 -143h5m-227 101h5m211 -12h5m84 -50h5m-95 40h5m-135 -35h5m216 36h5m-192 92h5m34 79h5m-29 -114h5m124 -78h5m26 154h5m-257 -187h5m205 103h5m-97 47h5m81 32h5m-68 -177h5m36 115h5m-180 18h5m325 11h5m-25 -6h5m-201 -30h5m-18 28h5m79 105h5m-29 -69h5m8 -14h5m-84 -53h5m149 -122h5m-113 212h5m52 -113h5m184 14h5m-333 143h5m119 11h5m-199 -153h5m274 127h5m-145 -226h5m-129 70h5m55 -64h5m265 187h5m-238 -159h5m-34 120h5m-46 -30h5m31 -109h5m84 190h5m29 -51h5m4 -21h5m38 -143h5m-117 -60h5m-6 259h5m88 31h5m72 -192h5m-335 128h5m80 -70h5m47 38h5m-38 -138h5m95 159h5m-77 75h5m-135 -78h5m305 -8h5m68 4h5m-219 -169h5m33 70h5m-136 5h5m166 -5h5m-65 105h5m27 88h5m108 -149h5m-251 -79h5m110 -2h5m-18 -3h5m241 138h5m-263 -139h5m35 233h5m-202 -172h5m256 120h5m-95 -232h5m-113 20h5m144 302h5m26 -84h5m-46 -180h5m147 86h5m-150 118h5m-69 -259h5m-8 157h5m62 175h5m89 -47h5m-257 -180h5m-88 3h5m239 209h5m-92 -288h5m68 93h5m-138 136h5m-12 -52h5m40 -178h5m41 329h5m36 -239h5m-119 60h5m70 -65h5m29 58h5m-111 -160h5m-78 110h5m208 -45h5m-25 169h5m-186 -108h5m15 108h5m255 -20h5m-58 -17h5m-15 -138h5m52 195h5m-99 -214h5m88 81h5m64 -39h5m-80 88h5m-36 14h5m-83 70h5m-39 -151h5m146 -71h5m-120 106h5m112 102h5m16 -20h5m-126 53h5m60 64h5m-61 -86h5m-147 -8h5m155 -281h5m-88 81h5m-10 -74h5m78 24h5m-4 158h5m-238 -3h5m175 -84h5m90 73h5m-75 97h5m-87 -174h5m125 85h5m-143 77h5m3 -131h5m-53 -46h5m253 131h5m-42 -24h5m-83 -13h5m-122 -60h5m123 147h5m-82 59h5m32 56h5m74 -225h5m-72 208h5m40 -242h5m147 50h5m-367 55h5m213 99h5m-72 53h5m32 -200h5m-205 29h5m231 140h5m53 -218h5m-248 -11h5m158 38h5m-111 50h5m-21 130h5m232 -65h5m-205 -77h5m139 126h5m-27 -224h5m-217 34h5m354 45h5m-259 -60h5m-12 210h5m77 -250h5m-70 18h5m-47 169h5m-5 -114h5m41 77h5m23 -93h5m115 96h5m-126 116h5m80 -32h5m-147 -108h5m-128 10h5m299 -46h5m-77 67h5m-172 -114h5m60 180h5m116 -132h5m-2 17h5m-173 90h5m20 -74h5m-106 -144h5m276 106h5m-77 79h5m-306 -76h5m112 36h5m93 144h5m-13 -255h5m-71 167h5m241 -47h5m34 -66h5m-247 89h5m130 -57h5m-122 -61h5m-23 -111h5m153 199h5m-136 13h5m-37 31h5m82 -270h5m-106 216h5m-82 -56h5m110 157h5m44 -153h5m56 59h5m-105 190h5m10 -40h5m-98 -156h5m131 36h5m-147 -18h5m115 25h5m79 -125h5m-113 93h5m16 -184h5m92 278h5m-121 -109h5m4 24h5m-10 -55h5m60 132h5m28 -144h5m-233 -36h5m5 27h5m104 114h5m-25 112h5m77 -121h5m62 -74h5m5 -25h5m-282 77h5m142 67h5m10 -284h5m-30 196h5m-53 -116h5m170 248h5m33 -137h5m-142 108h5m-154 -136h5m281 117h5m-153 -258h5m46 20h5m-171 68h5m210 -22h5m32 97h5m-96 98h5m-63 -182h5m14 151h5m-90 -62h5m-4 69h5m1 -171h5m-14 -32h5m95 -13h5m8 -66h5m-184 168h5m202 -8h5m-161 206h5m103 -44h5m-73 -90h5m7 -114h5m197 188h5m-282 -91h5m296 106h5m-70 -140h5m-19 -91h5m-99 37h5m31 280h5m-3 -206h5m12 -6h5m-47 218h5m-191 -223h5m181 75h5m-84 -100h5m69 190h5m-43 -362h5m93 170h5m-100 40h5m-10 129h5m12 -30h5m-82 -52h5m241 -73h5m-112 131h5m-131 -144h5m-128 14h5m134 111h5m61 -36h5m73 71h5m-241 -133h5m225 -44h5m-126 -82h5m56 82h5m-183 17h5m300 98h5m-203 -18h5m97 16h5m-116 -41h5m150 97h5m-138 -185h5m192 174h5m-127 -4h5m55 49h5m-258 -61h5m188 -189h5m-65 279h5m-197 -205h5m134 -2h5m254 115h5m-159 -136h5m1 42h5m-176 -119h5m147 14h5m-63 247h5m32 -179h5m-130 34h5m-74 -14h5m374 63h5m-248 -23h5m-71 65h5m48 -130h5m152 -73h5m-114 141h5m78 28h5m80 11h5m-117 -73h5m-128 -29h5m116 -142h5m70 236h5m-140 -18h5m76 -149h5m-20 81h5m-53 233h5m161 -86h5m-38 -213h5m-149 236h5m29 -320h5m-133 133h5m226 200h5m-236 -275h5m81 205h5m-82 11h5m227 37h5m-25 -150h5m-230 -90h5m141 346h5m-54 -204h5m-42 6h5m37 -34h5m113 67h5m-150 -15h5m84 -5h5m83 7h5m-174 -48h5m177 96h5m-48 60h5m37 -138h5m-48 31h5m-185 46h5m65 -171h5m-16 62h5m-6 -42h5m19 1h5m-63 53h5m-118 43h5m166 -1h5m64 101h5m-187 -211h5m224 123h5m-123 1h5m-96 -14h5m244 -88h5m-145 122h5m-72 26h5m131 -89h5m-113 118h5m-43 -318h5m-4 314h5m-45 -140h5m16 -20h5m42 98h5m147 -93h5m-150 98h5m189 -115h5m-279 40h5m210 -49h5m-156 63h5m77 37h5m74 -109h5m-31 -81h5m105 193h5m-304 75h5m-36 -100h5m213 161h5m-152 -47h5m195 -99h5m-174 -75h5m74 55h5m24 -122h5m13 -17h5m-115 -20h5m84 19h5m16 126h5m-187 -61h5m21 109h5m-73 3h5m226 -59h5m-185 -10h5m7 182h5m122 -41h5m-165 -45h5m252 -112h5m-19 2h5m-57 180h5m-234 -103h5m46 -70h5m-32 103h5m175 -132h5m-42 73h5m64 -25h5m-332 -12h5m235 -89h5m-86 123h5m-62 -12h5m54 27h5m82 27h5m-126 -139h5m61 -22h5m-53 49h5m159 78h5m-49 -129h5m-107 182h5m172 -73h5m-291 -38h5m128 -138h5m83 10h5m-61 23h5m-43 3h5m171 128h5m16 -26h5m-35 -47h5m-281 17h5m-18 -65h5m179 89h5m-173 -9h5m102 -95h5"/>
<path transform="scale(0.25)" stroke="#0000ff" stroke-width="5" fill="none" d="M0 0m695 1356h5m-171 -159h5m133 15h5m-82 139h5m-87 96h5m108 -156h5m30 -52h5m-172 156h5m111 74h5m-42 -202h5m51 110h5m-85 -163h5m71 260h5m62 -108h5m-87 -34h5m-56 -71h5m-78 -11h5m55 46h5m95 -65h5m-99 159h5m109 -70h5m-8 -166h5m-253 96h5m106 -51h5m99 -2h5m102 133h5m-167 125h5m-56 -145h5m6 -80h5m83 -33h5m-154 -9h5m68 185h5m102 -66h5m-25 -169h5m-63 54h5m-58 253h5m108 -48h5m-144 -168h5m67 -21h5m27 62h5m29 12h5m-292 -65h5m140 98h5m240 -23h5m-296 -105h5m-80 63h5m182 85h5m99 -116h5m36 -60h5m-169 119h5m-69 4h5m151 -170h5m28 127h5m-26 142h5m114 -30h5m-99 -123h5m-67 -21h5m125 57h5m-242 -39h5m-6 -92h5m-1 238h5m-44 -23h5m23 -82h5m44 49h5m-1 -33h5m12 97h5m120 56h5m-196 -275h5m-36 -25h5m173 101h5m-98 -94h5m-78 218h5m19 -110h5m47 -46h5m107 148h5m88 -49h5m-376 -10h5m76 -113h5m18 -71h5m-24 206h5m58 37h5m60 -121h5m-105 82h5m-6 62h5m80 -185h5m-39 241h5m176 -81h5m-22 -112h5m-137 -84h5m49 147h5m-135 13h5m-30 35h5m206 -183h5m-203 221h5m201 -120h5m-133 -57h5m205 116h5m-143 -194h5m-67 151h5m-80 45h5m47 -15h5m-163 -150h5m30 125h5m62 41h5m165 -124h5m-94 -89h5m118 132h5m-148 -83h5m-41 206h5m208 -39h5m-16 -28h5m-27 98h5m-104 -292h5m144 151h5m-181 -108h5m-52 133h5m29 -18h5m-61 -18h5m-41 -100h5m-55 221h5m126 -83h5m21 -39h5m-17 -42h5m-79 204h5m-97 -221h5m8 39h5m124 53h5m-33 96h5m161 -24h5m-226 9h5m138 -178h5m-153 158h5m75 -199h5m166 281h5m-124 -206h5m8 -30h5m117 42h5m-97 -77h5m132 146h5m-112 -159h5m54 174h5m-190 -12h5m95 95h5m43 -24h5m-149 -275h5m122 22h5m-176 345h5m57 -27h5m59 -194h5m-72 253h5m-46 -190h5m-116 -114h5m36 36h5m-36 2h5m176 266h5m27 -152h5m72 -62h5m-250 43h5m253 -17h5m-136 90h5m66 -233h5m45 91h5m-167 -213h5m-73 97h5m18 -26h5m169 169h5m-126 -20h5m142 -27h5m-244 -49h5m200 135h5m-66 84h5m45 -70h5m-139 -101h5m-15 61h5m-135 7h5m90 -200h5m-10 40h5m70 -26h5m85 243h5m-261 -31h5m153 81h5m24 -147h5m-20 207h5m94 -335h5m-84 198h5m147 53h5m-100 -27h5m-43 132h5m11 -256h5m29 -135h5m-181 35h5m315 169h5m-98 -119h5m-202 66h5m-12 33h5m34 -47h5m56 81h5m-17 -168h5m-44 -29h5m93 122h5m-67 25h5m-155 53h5m43 -36h5m114 193h5m139 -258h5m-215 196h5m129 -215h5m-217 -74h5m66 147h5m-33 -36h5m-35 15h5m231 100h5m-261 -100h5m124 -54h5m-9 206h5m-63 -184h5m28 247h5m-62 -282h5m176 255h5m-171 -53h5m41 -326h5m19 91h5m33 -46h5m-42 264h5m-32 -286h5m-37 190h5m80 40h5m-74 -39h5m60 10h5m103 -70h5m-26 46h5m-169 44h5m48 -76h5m160 37h5m-247 9h5m-15 58h5m126 -25h5m-230 -59h5m193 -93h5m-17 92h5m-2 159h5m-88 -152h5m249 12h5m-251 9h5m58 16h5m-34 3h5m125 30h5m-263 -129h5m225 -93h5m-150 72h5m40 137h5m-37 130h5m161 -111h5m-158 -66h5m-18 -137h5m209 197h5m-147 -139h5m-25 215h5m36 -129h5m-125 -40h5m215 37h5m-167 143h5m22 -135h5m106 152h5m-115 -307h5m144 257h5m-190 -211h5m74 93h5m61 53h5m-148 -90h5m108 -90h5m113 139h5m-259 144h5m64 -259h5m-105 156h5m117 -10h5m-99 -115h5m93 150h5m-75 -23h5m7 -17h5m15 22h5m-152 -102h5m106 -82h5m-39 102h5m-61 100h5m270 0h5m-215 -14h5m-56 -13h5m229 52h5m-120 -180h5m96 267h5m-153 -110h5m123 -51h5m12 18h5m-239 20h5m132 -63h5m-146 -64h5m98 134h5m126 -190h5m3 18h5m-22 104h5m-97 110h5m-180 -112h5m53 -119h5m84 9h5m92 128h5m-169 125h5m219 -38h5m-93 -250h5m-121 52h5m156 257h5m-164 -302h5m116 219h5m-157 -26h5m163 -132h5m19 21h5m-46 193h5m-182 -137h5m197 -107h5m28 195h5m-209 59h5m70 -229h5m80 220h5m16 -261h5m-22 2h5m56 86h5m1 182h5m-35 -189h5m-70 70h5m14 -170h5m-74 260h5m111 -37h5m-263 -18h5m215 -50h5m-33 -149h5m-127 -6h5m12 172h5m15 66h5m24 4h5m139 -24h5m-145 -93h5m-62 16h5m114 -21h5m-92 63h5m241 16h5m-193 -50h5m118 -23h5m-11 -83h5m-255 61h5m116 50h5m-48 142h5m25 -311h5m90 308h5m-35 -195h5m29 -1h5m0 22h5m88 14h5m-325 -32h5m88 101h5m-54 71h5m131 -152h5m-69 4h5m-126 -54h5m114 87h5m27 71h5m-57 -129h5m116 -2h5m-159 155h5m-6 -140h5m-19 71h5m-16 -100h5m71 -58h5m42 62h5m-91 -9h5m110 24h5m-130 150h5m47 -110h5m167 -11h5m-169 77h5m-55 -6h5m12 -55h5m59 -30h5m-44 -132h5m37 10h5m-72 111h5m61 71h5m-124 -46h5m118 233h5m93 -133h5m-15 -78h5m-186 84h5m48 -110h5m119 -6h5m-161 154h5m77 -200h5m-44 -116h5m26 280h5m-67 -217h5m98 133h5m156 -21h5m-262 -179h5m-71 129h5m159 199h5m-17 69h5m-53 -39h5m212 -154h5m-212 -138h5m2 159h5m44 -49h5m-50 -65h5m95 21h5m-176 -130h5m136 234h5m-163 111h5m-62 -168h5m185 85h5m-76 -219h5m-161 157h5m130 88h5m63 -96h5m-55 -71h5m-55 181h5m-87 -119h5m93 -60h5m9 -110h5m44 224h5m-60 -222h5m-65 86h5m211 152h5m-225 -127h5m151 21h5m30 102h5m-133 -138h5m-115 -18h5m-22 65h5m-55 32h5m148 93h5m-83 -151h5m53 221h5m115 -138h5m-35 160h5m-111 -126h5m-26 35h5m-70 -179h5m182 -29h5m-81 -12h5m125 173h5m-82 -173h5m0 131h5m-138 23h5m282 75h5m-42 -74h5m-128 -73h5m6 250h5m31 -277h5m-125 66h5m239 1h5m-209 -9h5m23 -2h5m138 73h5m-151 -162h5m84 101h5m-102 189h5m-114 -190h5m266 -25h5m-129 12h5m-88 73h5m155 3h5m35 -125h5m-150 190h5m207 -142h5m-282 -40h5m10 -1h5m-132 34h5m66 26h5m144 161h5m-87 -70h5m169 8h5m-89 0h5m-36 -69h5m-2 -1h5m-83 50h5m235 -52h5m64 -18h5m-169 131h5m-216 -176h5m165 1h5m-51 -55h5m-2 205h5m-59 -109h5m-50 -24h5m236 164h5m-101 -77h5m-10 97h5m-46 -197h5m-28 67h5m-62 -56h5m151 87h5m34 -167h5m-169 15h5m67 11h5m85 56h5m-107 -74h5m-159 -3h5m186 -32h5m-145 187h5m135 -103h5m49 213h5m-41 21h5m-62 -63h5m-146 -21h5m112 69h5m98 -220h5m-123 99h5m-10 -194h5m-71 10h5m82 273h5m-41 -252h5m110 209h5m-167 -224h5m87 153h5m-18 63h5m-107 -71h5m148 33h5m-51 -49h5m17 -46h5m-136 167h5m309 -103h5m-118 -112h5m-120 138h5m55 -185h5m60 273h5m-19 33h5m-32 24h5m-169 -117h5m237 -118h5m-123 29h5m-4 -101h5m101 237h5m-114 -102h5m-34 115h5m-75 -197h5m227 149h5m-234 -172h5m22 -17h5m210 215h5m-108 -204h5m-89 104h5m111 -12h5m-37 -212h5m-170 187h5m142 224h5m-138 -263h5m60 162h5m199 -84h5m-230 -89h5m130 160h5m-197 -98h5m80 57h5m-41 -206h5m128 108h5m-173 34h5m241 72h5m-264 -104h5m210 -78h5m-278 159h5m221 -132h5m13 219h5m-81 -132h5m88 136h5m-157 -86h5m-105 -7h5m337 -58h5m-190 163h5m65 -124h5m-254 7h5m217 112h5m61 -20h5m-94 -107h5m102 -64h5m-97 46h5m-5 -23h5m-12 26h5m-80 -39h5m77 -9h5m-33 102h5m-138 15h5m107 67h5m-29 -256h5m84 106h5m-167 -71h5m152 -78h5m76 260h5m-52 -188h5m-2 176h5m-281 -79h5m256 43h5m-37 29h5m135 -75h5m-241 -31h5m70 114h5m28 -128h5m-47 84h5m-90 -87h5m-34 75h5m-52 36h5m158 -184h5m-44 -48h5m224 143h5m-186 140h5m-15 -133h5m84 -16h5m10 -52h5m-105 -49h5m-207 78h5m138 -58h5m-47 247h5m-90 -96h5m71 -38h5m215 28h5m-146 92h5m123 -8h5m-9 -120h5m-248 94h5m153 -92h5m144 84h5m-67 -86h5m-128 -143h5m134 182h5m-113 -104h5m60 -45h5m-117 63h5m-152 121h5m279 86h5m24 -135h5m5 54h5m-138 86h5m115 -166h5m-33 -5h5m-145 36h5m95 -2h5m-8 25h5m148 -88h5m-221 169h5m-151 -34h5m163 37h5m-112 -224h5m151 114h5m-26 -196h5m-19 225h5m-155 -166h5m-45 107h5m107 84h5m32 -180h5m-130 88h5m110 28h5m88 -57h5m-131 171h5m44 33h5m-68 -240h5m128 236h5m-44 -131h5m-143 82h5m59 -214h5m149 -20h5m-76 133h5m46 67h5m-263 -23h5m260 -136h5m32 71h5m-40 72h5m-83 37h5m-62 100h5m93 -65h5m-92 -232h5m-141 18h5m186 226h5m62 -147h5m75 -31h5m-221 -73h5m142 268h5m-174 -64h5m70 9h5m-129 -53h5m186 -106h5m58 -42h5m-64 261h5m-169 -50h5m123 -8h5m-9 8h5m-61 -182h5m-75 145h5m126 156h5m55 -268h5m-23 78h5m-98 -32h5m-17 106h5m-13 -109h5m196 -7h5m-370 31h5m397 14h5m-79 -16h5m-149 161h5m-142 -141h5m-10 -132h5m193 235h5m-177 -124h5m315 -14h5m-39 93h5m-223 -44h5m171 34h5m-116 -169h5m128 64h5m-164 174h5m47 -142h5m-140 56h5m88 -233h5m11 163h5m-46 -58h5m-20 64h5m248 22h5m-211 -154h5m102 77h5m-44 -70h5m-233 61h5m56 91h5m192 -138h5m84 143h5m-331 -4h5m21 -65h5m209 -6h5m-223 -71h5m67 160h5m159 -83h5m-158 -57h5m209 32h5m-90 161h5m-211 -201h5m44 231h5m57 -211h5m-1 -97h5m-1 237h5m-7 -133h5m-138 83h5m196 28h5m-68 150h5m12 -306h5m-25 -18h5m53 250h5m-12 -176h5m-165 168h5m143 63h5m-158 -96h5m134 -180h5m-28 -100h5m26 15h5m-94 312h5m-19 -176h5m55 81h5m40 116h5m12 -87h5m-12 -24h5m-3 111h5m60 -132h5m-13 -53h5m-191 205h5m-29 -38h5m87 -31h5m86 -209h5m-86 -73h5m191 279h5m-223 -124h5m-72 1h5m160 53h5m-159 83h5m115 -45h5m-78 -32h5m117 -71h5m-6 111h5m-44 -110h5m104 -13h5m-10 78h5m-129 -113h5m-56 105h5m94 -12h5m-107 -172h5m-27 307h5m53 -287h5m12 71h5m-124 -73h5m193 47h5m-172 16h5m31 43h5m-135 94h5m244 -138h5m-136 -53h5m208 195h5m-186 32h5m105 1h5m-61 -221h5m58 177h5m-34 2h5m-261 -62h5m104 -100h5m-81 210h5m188 24h5m-104 -188h5m115 27h5m-159 -28h5m-14 -65h5m-28 72h5m195 90h5m-20 -27h5m103 114h5m-375 -93h5m334 20h5m-219 -2h5m89 -24h5m38 -43h5m-202 -74h5m32 49h5m162 54h5m35 -116h5m56 35h5m-163 -5h5m-64 210h5m50 -167h5m44 112h5m46 37h5m-108 -125h5m30 82h5m-129 92h5m-152 -169h5m209 78h5m51 -90h5m41 165h5m-86 -45h5m-37 -100h5m18 62h5m-53 -121h5m-34 -90h5m39 122h5m1 229h5m61 -348h5m-82 -7h5m130 80h5m-105 118h5m81 -9h5m-82 -126h5m-17 60h5m-11 -89h5m-97 71h5m142 226h5m23 -259h5m-86 135h5m105 -16h5m-165 140h5m20 34h5m167 -114h5m-186 -44h5m-43 -120h5m133 146h5m-93 -86h5m-34 14h5m149 160h5m-159 -257h5m-49 185h5m224 39h5m-20 -23h5m57 16h5m-49 -133h5m-8 33h5m-51 -91h5m-6 61h5m-124 9h5m24 15h5m57 92h5m-76 -32h5m-83 -68h5m114 28h5m41 -4h5m124 2h5m-330 56h5m232 -88h5m16 69h5m-187 -92h5m160 -76h5m-158 46h5m-28 -85h5m111 215h5m103 -25h5m-230 -184h5m-91 145h5m59 -6h5m-35 -4h5m190 78h5m99 -42h5m-85 24h5m-154 -208h5m100 217h5m-161 -98h5m-34 -7h5m89 66h5m117 -26h5m42 -29h5m-323 61h5m241 -39h5m-101 116h5m-133 -44h5m106 -136h5m224 64h5m-56 93h5m-5 -102h5m-93 189h5m18 -195h5m-256 67h5m301 40h5m-65 -16h5m-39 -4h5m-137 -11h5m11 77h5m44 -213h5m137 66h5m14 -44h5m-9 104h5m-35 60h5m-121 85h5m17 -165h5m62 -61h5m-76 -40h5m-41 53h5m-56 -104h5m137 188h5m-43 -94h5m-113 -56h5m67 250h5m-16 -349h5m-96 113h5m-25 25h5m178 -80h5m-90 174h5m56 -182h5m-11 105h5m-194 -24h5m151 -58h5m-47 41h5m112 101h5m95 -26h5m-80 32h5m-130 -81h5m-32 129h5m90 -29h5m44 -24h5m-142 60h5m-101 -125h5m187 81h5m-22 138h5m163 -194h5m-157 -80h5m-119 191h5m121 -128h5m71 175h5m-226 -273h5m-39 150h5m69 -40h5m88 73h5m31 46h5m-46 -40h5m-43 70h5m-13 37h5m-99 -168h5m142 -13h5m-26 -8h5m-188 -31h5m193 144h5m-110 -138h5m139 20h5m-100 -56h5m19 74h5m51 173h5m-97 -244h5m101 201h5m-156 -12h5m33 -305h5m75 265h5m-145 -239h5m180 231h5m-100 56h5m-24 -132h5m87 173h5m-174 -219h5m211 59h5m-170 122h5m41 -67h5m154 -97h5m-97 -27h5m-124 26h5m128 72h5m-234 -89h5m324 116h5m-135 -201h5m49 267h5m-100 70h5m24 -337h5m78 259h5m-113 36h5m-96 -239h5m-16 83h5m47 3h5m146 33h5m50 2h5m-130 -207h5m0 55h5m-239 85h5m315 71h5m-157 -110h5m170 207h5m-114 -226h5m118 127h5m-187 -49h5m186 44h5m-235 -108h5m129 112h5m-6 171h5m132 -208h5m-131 58h5m-36 -164h5m168 80h5m-277 81h5m63 -122h5m55 9h5m1 23h5m82 139h5m-19 -149h5m1 85h5m-231 100h5m-67 -95h5m241 13h5m-165 -55h5m-108 -85h5m115 17h5m-28 106h5m235 -22h5m-72 -72h5m-276 81h5m276 -14h5m-46 8h5m-254 -56h5m281 37h5m-134 -28h5m-209 18h5m304 73h5m-142 -104h5m0 78h5m162 -102h5m-209 88h5m62 34h5m69 95h5m20 -282h5m-28 116h5m156 -15h5m-148 91h5m-118 -191h5m-136 168h5m254 24h5m-260 -107h5m219 -138h5m-27 214h5m-110 -10h5m-45 79h5m134 -186h5m56 63h5m-154 -20h5m53 11h5m-79 -85h5m-1 -29h5m149 20h5m-109 45h5m-80 141h5m45 127h5m-153 -245h5m106 100h5m52 31h5m81 40h5m84 -135h5m-216 113h5m-12 -82h5m11 -6h5m-26 5h5m129 -46h5m-150 100h5m147 -65h5m-62 44h5m-117 75h5m78 -227h5m110 147h5m-131 50h5m81 -104h5m110 7h5m-142 156h5m-129 -69h5m237 -158h5m-79 96h5m10 26h5m-222 -76h5m133 -151h5m-36 238h5m-30 63h5m0 -222h5m-49 99h5m14 -5h5m-80 -130h5m87 121h5m44 -43h5m-178 109h5m74 -199h5m163 86h5m-127 151h5m-187 -107h5m239 4h5m8 -28h5m-105 15h5m54 8h5m-51 -98h5m10 67h5m-19 120h5m36 -112h5m23 206h5m82 -2h5m-138 20h5m-63 -69h5m58 -186h5m47 153h5m66 12h5m-249 -221h5m36 -46h5m38 1h5m154 149h5m-92 151h5m-23 -117h5m100 96h5m-125 -149h5m78 -6h5m-199 -66h5m159 208h5m-46 -215h5m18 131h5m31 117h5m-4 9h5m-182 -191h5m-31 -24h5m263 54h5m-74 169h5m-139 -179h5m-50 -71h5m118 18h5m101 198h5m-16 -151h5m-139 5h5m-17 187h5m212 -200h5m-108 154h5m-105 21h5m-128 -184h5m154 195h5m33 -184h5m-155 104h5m49 -93h5m73 11h5m85 -33h5m21 10h5m-240 99h5m114 -140h5m37 173h5m11 44h5m-45 -111h5m-151 -150h5m211 130h5m-295 -45h5m269 234h5m-119 -129h5m160 -4h5m-281 -32h5m54 -57h5m253 89h5m-1 30h5m-269 46h5m65 -62h5m130 26h5m-109 -79h5m-160 12h5m96 153h5m157 -159h5m72 -10h5m-393 -59h5m276 102h5m48 -93h5m-225 -126h5m-71 218h5m112 -109h5m-181 124h5m235 -120h5m-25 73h5m-35 -35h5m-19 153h5m100 -61h5m-112 -232h5m-43 19h5m42 304h5m-100 -334h5m137 113h5m-74 -28h5m-10 21h5m86 -87h5m-137 147h5m58 20h5m133 -88h5m-227 61h5m1 14h5m104 76h5m-50 -8h5m-65 -105h5m72 -123h5m-87 95h5m-53 40h5m182 107h5m-267 -110h5m215 -115h5m27 213h5m-50 -289h5m-64 224h5m3 -96h5m-47 130h5m58 -39h5m-57 125h5m238 -128h5m-73 56h5m-68 51h5m14 -128h5m-36 0h5m-2 111h5m-69 -17h5m-36 12h5m214 -66h5m-302 -58h5m88 185h5m241 -188h5m-197 13h5m-86 10h5m-67 42h5m322 -30h5m-255 -112h5m-112 13h5m192 89h5m-53 51h5m52 -179h5m105 144h5m2 112h5m-266 12h5m-20 -11h5m231 -65h5m-302 -88h5m104 -14h5m71 58h5m137 64h5m-178 -117h5m-82 -75h5m171 295h5m-183 -41h5m298 -173h5m-84 76h5m-53 8h5m6 -69h5m-126 -114h5m122 331h5m-22 -235h5m-142 -96h5m-17 186h5m79 -168h5m122 175h5m-196 -96h5m-17 96h5m-4 4h5m38 38h5m148 -164h5m-196 -42h5m115 160h5m66 -91h5m-5 27h5m-87 167h5m-37 -278h5m71 163h5m-25 -141h5m105 205h5m-188 -56h5m108 34h5m-110 -166h5m97 -47h5m8 162h5m-141 -156h5m-161 171h5m181 -55h5m3 25h5m-107 -5h5m168 38h5m-70 65h5m56 -23h5m1 5h5m139 -103h5m-231 -65h5m54 -40h5m-36 199h5m18 -3h5m-115 -105h5m194 127h5m-76 47h5m-77 -269h5m-63 66h5m-42 51h5m72 -142h5m-119 94h5m22 -11h5m-11 41h5m161 119h5m-61 57h5m-135 -299h5m109 117h5m67 -97h5m-25 333h5m158 -186h5m-255 81h5m193 -41h5m48 -29h5m-265 -34h5m-54 103h5m-37 -225h5m129 103h5m-60 -17h5m-68 0h5m73 53h5m-61 7h5m178 -92h5m-110 153h5m133 -182h5m-125 124h5m-6 78h5m-226 -98h5m388 -45h5m-59 3h5m-146 -60h5m235 101h5m-236 46h5m28 -103h5m142 -42h5m-242 -74h5m304 172h5m-60 85h5m-24 -54h5m-54 -31h5m-209 -179h5m27 287h5m277 -26h5m-232 -263h5m-100 123h5m104 130h5m-92 -159h5m53 241h5m-99 -85h5m118 -176h5m166 144h5m-133 -4h5m-99 -104h5m-98 -32h5m144 44h5m66 4h5m-148 -3h5m298 93h5m-307 -9h5m210 -83h5m7 -24h5m-135 49h5m-26 254h5m5 -386h5m22 112h5m145 26h5m-148 200h5m-224 -247h5m208 94h5m31 49h5m-106 3h5m-28 -123h5m139 148h5m-206 18h5m120 60h5m44 -6h5m-131 -205h5m56 -73h5m64 45h5m-119 51h5m170 -68h5m-183 -121h5m-16 227h5m13 160h5m4 -128h5m-2 -94h5m-13 7h5m92 -111h5m106 77h5m-203 157h5m38 -231h5m-141 77h5m104 90h5m-14 98h5m-90 -280h5m-60 82h5m138 60h5m183 21h5m-59 5h5m-48 19h5m-157 -79h5m35 -22h5m23 34h5m-97 -134h5m-15 269h5m70 -179h5m62 253h5m-118 -259h5m63 31h5m63 220h5m-55 -77h5m-210 -104h5m38 -19h5m147 -109h5m58 142h5m2 -42h5m-137 -31h5m219 173h5m-100 -74h5m-201 -17h5m-94 -79h5m74 -35h5m93 91h5m18 179h5m139 -108h5m-150 -190h5m99 76h5m-98 -121h5m-58 156h5m77 -137h5m-67 68h5m60 116h5m58 -103h5m-121 -140h5m-60 165h5m158 131h5m-14 12h5m139 -65h5m-171 106h5m-165 -69h5m16 -39h5m62 96h5m50 -235h5m-95 90h5m-132 -46h5m76 182h5m132 -122h5m-110 -56h5m116 201h5m-69 -267h5m-31 89h5m182 125h5m-29 80h5m-163 -159h5m69 -141h5m27 173h5m-149 -15h5m117 -58h5m-18 163h5m-78 -214h5m-41 188h5m36 -142h5m121 -138h5m-38 176h5m78 -22h5m-143 11h5m50 60h5m11 101h5m-19 -103h5m-28 -187h5m-122 118h5m22 -60h5m-1 51h5m159 185h5m-241 -297h5m111 38h5m-141 30h5m42 184h5m67 -280h5m107 333h5m-135 -145h5m93 -40h5m-72 -55h5m154 17h5m-212 104h5m152 -17h5m-137 -44h5m162 -39h5m-60 77h5m-135 -131h5m86 264h5m-249 -136h5m205 129h5m-83 -75h5m157 -146h5m-152 6h5m62 8h5m-29 50h5m36 16h5m-16 -156h5m-234 181h5m163 102h5m60 -188h5m-41 -3h5m23 43h5m37 124h5m-55 -119h5m27 -57h5m-56 162h5m36 82h5m6 -318h5m179 114h5m-205 -21h5m-158 3h5m231 26h5m-254 40h5m45 -97h5m-2 145h5m116 -92h5m150 -3h5m-128 207h5m-66 -46h5m21 -207h5m14 115h5m-149 54h5m66 18h5m-93 -114h5m239 86h5m-90 -177h5m-15 144h5m-157 54h5m46 -181h5m67 141h5m-129 -50h5m112 67h5m28 -86h5m-262 -39h5m241 197h5m-22 -151h5m-22 -83h5m162 124h5m-203 -18h5m43 145h5m5 -104h5m4 -146h5m-67 -50h5m87 131h5m-196 8h5m152 -82h5m-46 221h5m-8 -105h5m30 -50h5m13 -110h5m-28 272h5m-11 -84h5m133 -40h5m-244 11h5m41 107h5m11 32h5m74 -237h5m-96 11h5m112 52h5m-98 18h5m52 5h5m128 -42h5m-92 -61h5m71 -16h5m-179 -103h5m139 128h5m-106 104h5m59 -79h5m-235 7h5m54 -122h5m67 29h5m-158 49h5m50 202h5m333 -127h5m-279 70h5m126 -179h5m-248 140h5m46 58h5m271 -19h5m21 -33h5m-169 -67h5m53 215h5m-5 -120h5m-92 -35h5m78 -11h5m-220 50h5m247 -63h5m-54 -1h5m-79 145h5m-22 -188h5m-103 126h5m122 -137h5m-1 -118h5m-95 102h5m227 149h5m-85 -8h5m-203 -84h5m195 -65h5m-67 -110h5m-25 317h5m118 -143h5m-54 126h5m-170 -105h5m94 143h5m-151 -211h5m136 -133h5m81 280h5m-94 -243h5m-24 341h5m236 -157h5m-292 8h5m36 -258h5m143 249h5m3 -134h5m-157 130h5m-55 -74h5m-80 -59h5m-42 128h5m158 -129h5m144 234h5m-159 40h5m65 -120h5m-163 -118h5m148 48h5m95 -36h5m-158 12h5m89 160h5m41 -114h5m-38 164h5m-111 -198h5m151 89h5m-208 -128h5m47 210h5m30 -79h5m-96 -40h5m-67 69h5m49 -61h5m131 -160h5m21 137h5m-186 -20h5m91 82h5m-53 -49h5m268 32h5m-191 13h5m-135 -131h5m187 24h5m-238 -18h5m145 173h5m-61 -230h5m93 168h5m20 -24h5m-95 58h5m49 -129h5m-38 -148h5m105 297h5m-229 -52h5m117 124h5m12 -210h5m-30 197h5m-70 -57h5m-54 -13h5m74 -26h5m8 61h5m42 87h5m46 -108h5m-73 -60h5m22 -180h5m86 172h5m-209 85h5m-56 -249h5m106 305h5m-31 -129h5m21 162h5m-169 -266h5m109 0h5m148 44h5m52 21h5m-167 3h5m-100 -102h5m130 78h5m-109 66h5m3 40h5m244 -116h5m-40 71h5m-142 -54h5m-12 79h5m-3 7h5m60 -142h5m0 30h5m-114 42h5m27 -52h5m-131 91h5m-24 -100h5m217 -19h5m-258 -42h5m75 61h5m54 -24h5m152 143h5m-152 7h5m58 -49h5m-5 -46h5m-88 85h5m24 165h5m-39 -133h5m67 67h5m22 -177h5m-90 37h5m-6 101h5m106 -169h5m30 -16h5m27 104h5m-226 125h5m-29 -237h5m158 126h5m133 -40h5m-209 -137h5m-113 196h5m222 24h5m-176 -34h5m192 45h5m-107 51h5m-112 -230h5m238 95h5m-224 -208h5m-94 127h5m133 -64h5m-45 -1h5m24 282h5m-1 -333h5m24 128h5m-13 -52h5m105 149h5m-232 -130h5m9 18h5m126 44h5m30 -93h5m84 112h5m-221 72h5m-21 -199h5m48 250h5m92 -68h5m-101 -138h5m-155 111h5m133 4h5m-61 -205h5m-88 56h5m10 32h5m197 58h5m12 -94h5m39 209h5m-84 -141h5m-160 20h5m-5 -94h5m129 228h5m-146 -160h5m233 73h5m40 -17h5m-228 -97h5m106 184h5m21 22h5m-96 -35h5m18 -196h5m-121 61h5m7 -14h5m52 138h5m67 -87h5m61 47h5m-198 -16h5m137 25h5m-15 81h5m-15 -71h5m108 64h5m-211 -276h5m-51 69h5m123 103h5m59 -91h5m-194 16h5m217 128h5m-278 -80h5m317 -50h5m-93 12h5m-113 94h5m102 -87h5m-41 179h5m-155 -224h5m231 48h5m75 74h5m-155 -28h5m-25 -73h5m-113 111h5m18 -43h5m168 55h5m-78 -18h5m34 -10h5m-119 -172h5m-60 174h5m176 -97h5m18 211h5m-160 -145h5m92 181h5m-54 -115h5m70 -55h5m-98 -32h5m-101 92h5m67 16h5m-13 -109h5m2 93h5m64 77h5m-130 -114h5m175 -21h5m-29 68h5m-224 -14h5m97 -53h5m136 -113h5m40 40h5m-153 -23h5m138 155h5m-28 -148h5m-104 108h5m-186 26h5m191 -84h5m-24 -143h5m174 264h5m-312 -62h5m109 -170h5m-31 188h5m31 -83h5m-156 29h5m106 18h5m40 -62h5m-30 -82h5m34 108h5m108 35h5m-46 61h5m-209 -162h5m73 -20h5m-209 121h5m296 -106h5m-53 97h5m-120 3h5m101 134h5m51 -150h5m-59 138h5m-149 -44h5m289 38h5m-338 -66h5m73 -68h5m82 -26h5m166 138h5m-116 -215h5m-156 85h5m-18 128h5m126 -46h5m40 -116h5m-64 -74h5m165 171h5m-53 76h5m-101 -20h5m51 -17h5m-54 -97h5m-107 14h5m123 89h5m-126 -83h5m40 -85h5m0 108h5m34 -87h5m-166 -19h5m79 125h5m-141 -33h5m160 -113h5m0 187h5m36 1h5m69 -150h5m103 105h5m-101 -119h5m-115 85h5m-28 -100h5m-27 132h5m151 -75h5m-123 103h5m7 36h5m104 55h5m-83 -231h5m-58 -112h5m-78 217h5m-75 -120h5m155 212h5m-51 100h5m-63 -88h5m168 -104h5m-239 -64h5m324 118h5m-163 -104h5m41 34h5m-72 18h5m-40 -39h5m96 -41h5m-112 135h5m222 -16h5m-147 36h5m-151 -5h5m-1 -162h5m126 184h5m-168 -55h5m150 -91h5m15 -21h5m-114 60h5m172 6h5m-239 1h5m-52 47h5m97 -9h5m14 -41h5m-13 53h5m129 -32h5m-209 -13h5m189 -63h5m6 -42h5m-62 38h5m-30 -131h5m-47 296h5m15 -265h5m-93 131h5m157 7h5m-69 180h5m-20 -182h5m-26 -145h5m217 241h5m-175 -247h5m-3 149h5m-163 -32h5m152 -151h5m-8 101h5m137 203h5m2 -9h5m-232 -109h5m34 -5h5m30 -100h5m-78 191h5m-13 -5h5m-28 8h5m-43 -111h5m41 -48h5m24 116h5m221 1h5m-173 135h5m139 -109h5m-90 50h5m-10 -303h5m32 302h5m-121 -176h5m164 6h5m-136 145h5m43 5h5m60 15h5m-61 34h5m19 41h5m-45 -235h5m-201 -37h5m93 171h5m130 71h5m-90 -229h5m-15 72h5m-5 189h5m-14 -168h5m194 -33h5m-291 -114h5m127 -31h5m-74 308h5m72 -232h5m-150 9h5m196 226h5m-71 -163h5m50 -98h5m10 38h5m-64 60h5m-210 77h5m135 -214h5m8 0h5m-46 144h5m-98 43h5m200 0h5m-121 104h5m-34 -143h5m120 -110h5m27 218h5m-201 -49h5m151 -59h5m66 -57h5m-160 122h5m214 89h5m-149 -166h5m-76 101h5m188 16h5m53 -58h5m-232 49h5m73 -35h5m-79 -142h5m179 88h5m-302 9h5m238 -62h5m-138 6h5m77 35h5m-234 25h5m166 -7h5m137 121h5m-45 -168h5m-173 138h5m6 46h5m156 -98h5m-142 -23h5m171 -13h5m-94 -17h5m-121 52h5m118 -116h5m-32 274h5m-73 -255h5m6 113h5m-99 -23h5m63 139h5m43 -133h5m-61 -5h5m112 69h5m-44 -87h5m168 -75h5m-398 55h5m296 -139h5m-16 331h5m-21 -250h5m-135 132h5m60 0h5m-11 -229h5m-183 124h5m117 8h5m69 -24h5m59 -20h5m-92 131h5m10 -110h5m15 7h5m84 -26h5m-116 -79h5m119 101h5m-163 131h5m117 -35h5m-124 -182h5m-27 109h5m143 -120h5m-233 246h5m237 41h5m-67 -221h5m28 37h5m10 -96h5m-103 171h5m-150 -101h5m33 -17h5m47 247h5m-34 -150h5m184 -104h5m-85 -39h5m-43 335h5m134 -133h5m-237 -87h5m186 -26h5m6 133h5m-136 -174h5m216 69h5m-202 94h5m-2 -75h5m-55 -8h5m83 -15h5m-76 81h5m96 -21h5m138 15h5m-313 40h5m-37 -5h5m60 -135h5m122 -18h5m-16 -18h5m-26 -67h5m-57 74h5m209 94h5m-142 -95h5m91 150h5m-147 90h5m28 -68h5m79 -140h5m-129 54h5m-42 9h5m140 129h5m-80 77h5m-217 -204h5m148 -118h5m206 65h5m-109 -92h5m-129 209h5m184 -116h5m-3 49h5m-120 164h5m-151 -301h5m88 66h5m-57 -33h5m73 305h5m74 -299h5m-112 -3h5m107 100h5m-29 -6h5m-97 -37h5m55 -82h5m-47 113h5m68 98h5m167 -71h5m-64 42h5m-35 -55h5m-142 97h5m-161 -161h5m258 37h5m-174 -125h5m46 28h5m-54 147h5m64 51h5m-55 -53h5m46 -178h5m-70 4h5m57 81h5m69 -10h5m-66 199h5m-144 -162h5m47 -9h5m86 -113h5m-90 217h5m-61 49h5m143 -48h5m-87 -207h5m-115 199h5m128 -81h5m-99 -87h5m264 135h5m-259 78h5m125 -24h5m-165 -82h5m87 96h5m-87 -174h5m45 11h5m108 235h5m-129 -174h5m103 26h5m-167 57h5m248 65h5m1 -62h5m-81 -109h5m-24 -55h5m-62 4h5m147 3h5m-49 54h5m42 131h5m-106 -46h5m-65 24h5m185 -147h5m-49 180h5m-207 -172h5m-84 -26h5m24 113h5m24 -116h5m162 192h5m62 -71h5m-160 76h5m-37 -202h5m58 101h5m-39 -50h5m25 189h5m-41 -21h5m20 -30h5m-121 -151h5m50 131h5m74 72h5m-79 -140h5m151 -50h5m-33 -8h5m-80 38h5m5 9h5m-15 -97h5m43 74h5m-81 160h5m33 -88h5m-196 -140h5m48 146h5m286 -110h5m-166 156h5m-26 -213h5m97 106h5m75 -25h5m-50 29h5m-91 139h5m73 -235h5m-255 112h5m15 18h5m202 -178h5m-49 116h5m-105 -71h5m-44 7h5m-5 175h5m-20 -233h5m-81 136h5m193 -119h5m-28 260h5"/>
<rect x="52.20" y="235.10" width="177.10" height="172.80" fill="none" stroke="#000" stroke-width="1.5"/>
<path stroke="#000" stroke-width="1" d="M140.75 407.90v-1.90M140.75 235.10v1.90M52.20 321.50h1.90M229.30 321.50h-1.90"/>
<text x="140.35" y="228.70" font-size="9.60" text-anchor="middle" letter-spacing="0.25" stroke="#000" stroke-width="0.12">1st stage</text>
<text x="49.50" y="237.80" font-size="8.80" text-anchor="end" stroke="#000" stroke-width="0.1">1</text>
<text x="49.50" y="324.20" font-size="8.80" text-anchor="end" stroke="#000" stroke-width="0.1">0</text>
<text x="49.50" y="410.60" font-size="8.80" text-anchor="end" stroke="#000" stroke-width="0.1">−1</text>
<text x="49.20" y="416.50" font-size="8.80" text-anchor="middle" stroke="#000" stroke-width="0.1">−1</text>
<text x="140.75" y="416.50" font-size="8.80" text-anchor="middle" stroke="#000" stroke-width="0.1">0</text>
<text x="229.30" y="416.50" font-size="8.80" text-anchor="middle" stroke="#000" stroke-width="0.1">1</text>
<text x="140.35" y="426.10" font-size="9" text-anchor="middle">δ<tspan font-size="7" dy="4.3">w</tspan></text>
<text transform="translate(32.30 321.40) rotate(-90)" font-size="9" text-anchor="middle">δ<tspan font-size="7" dy="4.2" dx="0.4">h</tspan></text>
<rect x="54.40" y="351.40" width="56.10" height="54.30" fill="#fff" stroke="#383838" stroke-width="1.5"/>
<path fill="none" stroke="#8a8a8a" stroke-width="1" d="M55.60 352.40V404.50H109.50"/>
<text x="56.60" y="361.40" font-size="9.6" style="white-space:pre">μ<tspan font-size="8" dy="5">w</tspan><tspan dy="-5" stroke="#000" stroke-width="0.45"> = </tspan><tspan stroke="#000" stroke-width="0.1">0.0161</tspan></text>
<text x="56.60" y="373.80" font-size="9.6" style="white-space:pre">μ<tspan font-size="8" dy="5">h</tspan><tspan dy="-5" stroke="#000" stroke-width="0.45"> = </tspan><tspan stroke="#000" stroke-width="0.1">0.0498</tspan></text>
<text x="56.60" y="386.20" font-size="9.6" style="white-space:pre">σ<tspan font-size="8" dy="5">w</tspan><tspan dy="-5" stroke="#000" stroke-width="0.45"> = </tspan><tspan stroke="#000" stroke-width="0.1">0.2272</tspan></text>
<text x="56.60" y="398.60" font-size="9.6" style="white-space:pre">σ<tspan font-size="8" dy="5">h</tspan><tspan dy="-5" stroke="#000" stroke-width="0.45"> = </tspan><tspan stroke="#000" stroke-width="0.1">0.2255</tspan></text>
<path transform="scale(0.25)" stroke="#ff0000" stroke-opacity="0.45" stroke-width="5" fill="none" d="M0 0m1446 1289h5m-215 45h5m259 -163h5m-3 -33h5m-98 187h5m-10 121h5m-42 -79h5m173 -119h5m-226 -15h5m165 -52h5m-195 16h5m274 48h5m-235 109h5m150 -187h5m23 3h5m-20 176h5m9 -151h5m34 75h5m-191 -100h5m-1 -44h5m171 103h5m9 49h5m-14 -46h5m-218 154h5m155 67h5m-66 -305h5m152 210h5m-337 -147h5m255 -9h5m-254 10h5m251 -9h5m-4 182h5m-301 -46h5m109 127h5m-6 -339h5m-51 209h5m19 88h5m252 -166h5m-172 -169h5m-10 333h5m57 -268h5m-43 -16h5m-132 267h5m-43 -69h5m132 -236h5m108 132h5m-7 119h5m-36 -149h5m74 54h5m-275 -80h5m315 99h5m-163 -149h5m-51 -49h5m-101 346h5m-87 -113h5m171 -220h5m-98 292h5m-53 -68h5m144 -201h5m-101 24h5m112 10h5m-130 18h5m32 0h5m-22 242h5m204 -175h5m-107 -109h5m-156 68h5m200 -31h5m38 144h5m32 -37h5m-74 -76h5m50 74h5m-130 169h5m-186 -225h5m90 220h5m120 -276h5m-234 101h5m80 120h5m-130 -50h5m237 -180h5m-181 179h5m67 80h5m81 -209h5m-4 225h5m-20 -333h5m8 40h5m-113 166h5m46 -171h5m86 13h5m101 88h5m-169 18h5m-178 -38h5m133 -85h5m143 109h5m-31 125h5m-29 -176h5m-30 -39h5m46 256h5m-16 -244h5m-119 16h5m136 10h5m16 32h5m-103 -65h5m-114 40h5m168 12h5m-178 -7h5m-17 204h5m189 -189h5m-180 213h5m6 11h5m-55 -77h5m105 -249h5m150 149h5m16 74h5m-347 -52h5m282 -71h5m-111 -82h5m40 58h5m-250 93h5m199 -131h5m-18 -58h5m85 131h5m-287 93h5m109 54h5m-37 29h5m28 12h5m74 -299h5m-98 51h5m-29 -13h5m27 44h5m125 -13h5m-13 -21h5m-10 -8h5m17 12h5m-107 -14h5m200 141h5m-299 113h5m182 -234h5m87 105h5m-79 -111h5m-214 25h5m182 -7h5m-126 37h5m-67 52h5m192 -83h5m-7 -13h5m-105 207h5m-130 -144h5m193 -102h5m-167 34h5m102 -14h5m122 35h5m-11 -7h5m-26 252h5m48 -173h5m-299 73h5m60 -214h5m189 58h5m43 72h5m-68 -64h5m-7 15h5m-185 -38h5m-12 29h5m-34 41h5m47 180h5m123 -288h5m26 214h5m-278 -13h5m20 -3h5m176 -200h5m61 48h5m24 11h5m-106 -77h5m61 316h5m89 -139h5m-216 -97h5m-81 142h5m202 -176h5m62 90h5m-227 134h5m12 -228h5m-57 278h5m290 -163h5m-37 -39h5m-116 -94h5m-256 129h5m60 14h5m83 -118h5m184 98h5m-237 -78h5m-29 172h5m-42 -44h5m140 -197h5m146 116h5m-18 166h5m-88 83h5m102 -242h5m-142 -109h5m130 150h5m-91 -125h5m-26 253h5m-70 23h5m60 -257h5m17 -13h5m83 123h5m-2 -25h5m-230 -94h5m-41 269h5m14 -63h5m242 -85h5m-13 38h5m-95 161h5m4 -278h5m86 58h5m-81 -71h5m-121 -47h5m-67 49h5m-15 3h5m73 308h5m-90 -289h5m134 28h5m-191 108h5m-26 -118h5m314 20h5m-5 8h5m42 40h5m-168 -118h5m-131 -16h5m-17 187h5m192 -188h5m-61 0h5m35 -4h5m16 22h5m80 82h5m-55 -33h5m-306 7h5m259 -77h5m-200 257h5m-20 -159h5m146 -121h5m-139 39h5m236 30h5m-109 -38h5m-203 172h5m72 -214h5m168 124h5m-271 -1h5m227 -75h5m105 93h5m-130 -124h5m-192 191h5m17 -178h5m-60 92h5m11 9h5m118 171h5m130 -251h5m-166 215h5m94 -209h5m-81 -20h5m-145 180h5m282 -145h5m-76 -41h5m1 -2h5m46 60h5m-225 160h5m191 105h5m-23 -315h5m142 133h5m-186 2h5m83 -105h5m44 78h5m-19 -27h5m-219 177h5m203 13h5m-70 -241h5m61 221h5m-21 -201h5m-111 -78h5m108 76h5m68 108h5m-58 -109h5m-17 12h5m5 170h5m-182 53h5m204 -149h5m-199 -177h5m72 54h5m34 -3h5m-64 -52h5m-121 325h5m-49 -98h5m2 -96h5m145 184h5m59 -45h5m-38 -259h5m89 104h5m-20 1h5m-233 -33h5m222 29h5m48 75h5m-182 -158h5m63 214h5m-49 -231h5m-144 92h5m214 26h5m-291 -15h5m200 -120h5m109 147h5m-105 -100h5m147 189h5m-69 -106h5m8 -7h5m-235 128h5m24 53h5m81 -12h5m16 -228h5m-17 -24h5m-69 -37h5m14 354h5m-33 -370h5m-23 43h5m-114 188h5m53 53h5m192 -163h5m-15 -19h5m-171 168h5m-43 -102h5m269 22h5m-13 -18h5"/>
<path transform="scale(0.25)" stroke="#ff0000" stroke-width="5" fill="none" d="M0 0m1265 1270h5m310 -36h5m-85 206h5m-267 -120h5m11 -52h5m250 -121h5m46 103h5m-122 -140h5m78 251h5m-143 -189h5m132 8h5m-249 151h5m98 -155h5m230 76h5m-159 -95h5m19 25h5m-55 -48h5m-50 7h5m140 69h5m-5 5h5m-37 -63h5m-153 24h5m-108 48h5m148 13h5m163 -18h5m-90 -82h5m-5 22h5m-24 258h5m-78 -264h5m154 70h5m1 -27h5m-119 -64h5m-12 -17h5m-2 -33h5m54 110h5m66 45h5m-9 -17h5m-256 145h5m49 -1h5m46 -251h5m-73 13h5m235 140h5m-324 -27h5m217 -66h5m60 80h5m-65 -104h5m-108 329h5m-210 -192h5m104 -37h5m60 144h5m47 -276h5m-105 12h5m119 15h5m34 -11h5m-229 148h5m334 -17h5m-30 1h5m-71 -65h5m16 -25h5m2 28h5m-288 97h5m32 -119h5m23 174h5m-4 15h5m61 37h5m214 -122h5m-73 -93h5m-296 112h5m327 -73h5m-307 -37h5m194 -75h5m69 77h5m-97 -44h5m-158 181h5m64 -238h5m212 152h5m-76 -71h5m41 38h5m-271 113h5m192 -134h5m-2 -15h5m-89 277h5m57 -290h5m-206 20h5m163 -48h5m23 -5h5m13 48h5m129 77h5m-120 -83h5m26 71h5m9 3h5m-31 -53h5m-170 -36h5m22 -27h5m47 -18h5m-85 327h5m105 -40h5m7 -225h5m-147 -48h5m249 141h5m-295 117h5m289 -46h5m-322 -159h5m104 221h5m-72 -65h5m105 -215h5m102 102h5m9 13h5m-290 75h5m120 109h5m-131 -121h5m282 -93h5m-219 -30h5m197 147h5m-237 68h5m-19 -19h5m-49 -29h5m293 -78h5m-130 -203h5m106 171h5m-97 -103h5m155 145h5m-320 65h5m77 104h5m-141 -108h5m131 -220h5m-8 286h5m82 -308h5m-20 26h5m-15 -33h5m-119 101h5m-70 70h5m196 -130h5m-43 141h5m146 -14h5m-340 11h5m82 -105h5m253 81h5m-51 -70h5m-45 -21h5m96 113h5m-192 -118h5m115 51h5m-263 167h5m-14 -13h5m332 -90h5m-80 -48h5m-279 -16h5m131 214h5m-44 -269h5m-55 113h5m-28 -54h5m-10 57h5m98 -173h5m151 128h5m21 -22h5m-217 -8h5m-18 -50h5m221 63h5m-127 195h5m149 -167h5m-74 -40h5m23 15h5m-170 191h5m92 -232h5m23 189h5m98 -67h5m-155 -148h5m-127 21h5m24 32h5m-83 195h5m216 -184h5m63 77h5m-17 -51h5m14 142h5m-92 49h5m56 -210h5m-56 -50h5m-199 88h5m281 30h5m-16 -7h5m-263 -77h5m93 269h5m113 -235h5m-53 -46h5m45 64h5m-266 79h5m150 -166h5m-55 -72h5m-67 37h5m111 -3h5m-82 14h5m165 87h5m21 5h5m-185 255h5m114 -117h5m43 -159h5m61 70h5m-14 7h5m-307 -101h5m222 23h5m-86 125h5m124 -94h5m-105 -63h5m-244 36h5m162 -125h5m195 181h5m-97 47h5m-37 -129h5m45 -8h5m37 70h5m-180 203h5m154 -208h5m19 25h5m-311 23h5m122 146h5m178 -205h5m-68 -52h5m-41 -38h5m-2 48h5m20 27h5m55 45h5m-90 -128h5m101 208h5m-295 -177h5m-101 155h5m314 -110h5m61 54h5m-100 93h5m-16 -142h5m-225 151h5m46 39h5m-47 -121h5m272 -51h5m-252 185h5m202 -256h5m3 227h5m6 -208h5m-202 -29h5m-56 160h5m22 -60h5m144 -101h5m62 74h5m-209 -25h5m-28 -60h5m271 78h5m-113 -65h5m-112 38h5m132 -12h5m-14 199h5m-164 -12h5m160 -226h5m-177 -2h5m224 70h5m-45 -21h5m49 43h5m-133 -144h5m146 197h5m-29 -65h5m-244 2h5m226 39h5m-180 195h5m-12 -277h5m21 -88h5m161 141h5m-54 -13h5m-66 -58h5m-1 180h5m86 39h5m-40 -207h5m-101 -42h5m-135 94h5m252 88h5m-83 62h5m-57 -226h5m-52 6h5m-34 -25h5m-70 222h5m249 -162h5m-110 -65h5m116 109h5m-69 -45h5m41 43h5m-17 -24h5m-59 -63h5m-13 259h5m7 -226h5m15 235h5m40 -65h5m-277 -71h5m258 -18h5m-153 153h5m93 -267h5m-1 298h5m-45 -324h5m81 94h5m-207 -20h5m112 226h5m159 -129h5m-339 -84h5m-7 -28h5m312 61h5m-307 -72h5m4 161h5m54 -157h5m71 -3h5m54 236h5m37 -189h5m-10 -10h5m42 117h5m-90 -123h5m-35 -69h5m-130 292h5m181 -201h5m-53 -55h5m-115 260h5m170 -186h5m5 83h5m4 -87h5m-227 174h5m-79 -151h5m95 166h5m-37 -32h5m-90 -74h5m316 -101h5m-3 1h5m-19 33h5m-65 123h5m19 -164h5m-139 -54h5m163 64h5m-297 -33h5m274 4h5m-184 -71h5m-35 126h5m164 -66h5m-65 -65h5m161 168h5m-77 166h5m-265 -148h5m247 -85h5m58 54h5m-267 -143h5m40 323h5m176 -244h5m-82 -61h5m-186 60h5m321 73h5m1 18h5m-332 -25h5m-10 -100h5m41 7h5m188 39h5m-96 -77h5m-164 215h5m334 -71h5m-24 2h5m-326 12h5m211 -118h5m-26 -9h5m22 190h5m-275 -71h5m233 -142h5m33 60h5m-215 60h5m202 -98h5m-291 74h5m133 -85h5m109 -12h5m18 32h5m1 -37h5"/>
<path transform="scale(0.25)" stroke="#0000ff" stroke-opacity="0.45" stroke-width="5" fill="none" d="M0 0m1400 1279h5m55 95h5m-35 -84h5m-10 -19h5m28 26h5m-59 -86h5m16 96h5m4 -99h5m-14 19h5m41 127h5m-51 -118h5m-63 88h5m45 -23h5m-7 -4h5m-9 -18h5m-15 38h5m-43 16h5m49 -38h5m-3 -81h5m-22 -11h5m-70 86h5m67 -1h5m6 -63h5m-26 86h5m-17 -37h5m49 10h5m-33 -20h5m19 62h5m7 -62h5m-7 -5h5m-75 23h5m76 -10h5m-40 -59h5m-7 104h5m-25 -31h5m0 9h5m-32 71h5m-101 -61h5m146 -14h5m-17 33h5m31 13h5m-95 -52h5m-3 -10h5m10 28h5m16 21h5m-40 -42h5m-30 -35h5m63 25h5m-24 21h5m44 0h5m-68 45h5m-68 -23h5m84 -81h5m-31 56h5m38 7h5m30 -13h5m-77 7h5m43 -12h5m-63 -39h5m28 92h5m-28 -30h5m-17 -41h5m51 -53h5m55 105h5m-45 -40h5m29 16h5m-37 -74h5m-27 118h5m54 -43h5m-96 34h5m110 -76h5m-87 -8h5m-56 74h5m98 -8h5m-38 -84h5m-48 64h5m-14 4h5m12 13h5m31 -2h5m-37 -78h5m2 60h5m21 20h5m66 -18h5m-126 -25h5m55 53h5m-82 -84h5m108 96h5m-104 -7h5m86 66h5m-65 -84h5m22 -2h5m-26 -31h5m-22 -30h5m-13 68h5m-9 -79h5m29 70h5m-180 -31h5m120 55h5m-1 -17h5m26 -1h5m35 -8h5m-33 24h5m-1 -47h5m-61 -38h5m44 49h5m-166 -35h5m182 5h5m-69 53h5m0 -13h5m-39 35h5m46 -117h5m-75 131h5m64 -80h5m-57 -45h5m48 99h5m-4 -72h5m-8 57h5m27 37h5m-24 -77h5m-78 16h5m70 6h5m-69 45h5m37 -43h5m1 16h5m-8 -22h5m66 26h5m-33 -67h5m-57 58h5m11 5h5m-20 53h5m3 -22h5m0 -199h5m15 154h5m-49 -2h5m20 -19h5m15 11h5m-15 -12h5m-8 0h5m10 -28h5m-96 69h5m86 12h5m-78 -42h5m50 21h5m31 12h5m-128 3h5m96 39h5m17 -66h5m-41 9h5m45 -7h5m-63 -21h5m32 4h5m-62 32h5m12 -105h5m-32 126h5m51 -44h5m-16 -14h5m-29 26h5m15 -18h5m-18 -34h5m-1 -37h5m49 77h5m-107 -9h5m5 -2h5m43 63h5m-40 -23h5m3 -18h5m39 11h5m-76 12h5m61 -21h5m19 5h5m50 -47h5m-131 19h5m69 -19h5m13 37h5m-114 -3h5m63 13h5m-45 25h5m-47 23h5m103 -111h5m-83 47h5m40 -89h5m-54 50h5m76 18h5m-71 45h5m-47 1h5m48 -8h5m36 1h5m-47 -77h5m-77 59h5m88 105h5m-30 -59h5m-51 -77h5m78 37h5m-77 64h5m50 -98h5m-22 8h5m-19 -9h5m33 18h5m-29 11h5m84 17h5m-90 -63h5m63 54h5m4 -10h5m-54 -24h5m-61 57h5m34 18h5m-48 -51h5m-8 -17h5m4 4h5m33 97h5m-34 -38h5m47 -105h5m-33 50h5m-9 19h5m9 27h5m-22 -39h5m-29 23h5m15 22h5m12 -41h5m-14 -28h5m-85 -68h5m76 119h5m33 -36h5m1 15h5m-42 51h5m-52 -69h5m89 60h5m-25 -44h5m28 -10h5m-69 49h5m22 -11h5m-11 -8h5m9 -13h5m-16 4h5m-23 53h5m-23 -29h5m8 -48h5m-7 11h5m2 8h5m-11 -6h5m-9 -4h5m-11 28h5m45 -47h5m-51 -13h5m12 30h5m-27 9h5m-41 3h5m38 1h5m-35 0h5m14 -36h5m30 -29h5m-44 47h5m-16 19h5m31 -40h5m-88 45h5m73 -17h5m28 -13h5m-29 19h5m-59 -11h5m-21 56h5m110 -16h5m-86 -23h5m62 -15h5m-32 27h5m82 -14h5m-48 18h5m-115 66h5m27 -71h5m-30 -24h5m40 -35h5m-14 55h5m2 -58h5m-51 43h5m58 -17h5m-81 7h5m80 -52h5m7 67h5m-43 3h5m59 20h5m-53 -5h5m26 106h5m-68 -161h5m-13 42h5m27 71h5m-68 -119h5m-9 48h5m45 -9h5m-65 91h5m52 7h5m-3 -86h5m-9 -22h5m3 -53h5m40 120h5m-18 -27h5m-30 32h5m33 -27h5m-33 -28h5m-100 18h5m46 -24h5m48 -3h5m10 37h5m-21 -38h5m-47 12h5m-10 -11h5m31 -33h5m8 31h5m-12 25h5m-15 -20h5m-16 -4h5m-11 19h5m4 -42h5m50 52h5m-38 -72h5m-10 132h5m-42 -135h5m42 93h5m-74 -57h5m44 53h5m9 -42h5m17 9h5m-93 -104h5m120 107h5m-71 -11h5m-39 -6h5m-18 9h5m20 4h5m46 24h5m-15 -43h5m-14 38h5m-35 -38h5m2 16h5m60 -37h5m-59 -7h5m-34 28h5m10 -31h5m-58 86h5m80 -54h5m-24 -21h5m-61 33h5m71 16h5m-39 -31h5m56 19h5m-53 -76h5m8 33h5m-23 41h5m30 16h5m-37 -14h5m-32 -52h5m23 52h5m-7 -12h5m-17 19h5m15 22h5m-173 -30h5m149 35h5m38 -62h5m-21 29h5m-44 17h5m-8 12h5m20 -38h5m-37 -9h5m-32 36h5m145 -6h5m-110 -22h5m-4 -45h5m-37 55h5m33 43h5m24 -154h5m-45 49h5m-26 73h5m-19 35h5m-21 -15h5m33 5h5m129 -36h5m-136 -20h5m59 37h5m-17 -85h5m-54 32h5m6 141h5m-2 -215h5m-3 94h5m96 19h5m-51 39h5m-24 4h5m-74 -52h5m23 -1h5m16 65h5m-41 -59h5m-26 -22h5m62 0h5m-53 14h5m11 -14h5m-2 -54h5m-2 100h5m-7 13h5m95 -52h5m-49 -44h5m-27 64h5m-10 -42h5m-87 27h5m67 13h5m-19 -64h5m-32 69h5m36 40h5m-25 -36h5m28 -86h5m-13 -5h5m-41 91h5m43 13h5m-117 -35h5m-87 -1h5m120 19h5m43 -47h5m-36 39h5m27 -2h5m-51 -7h5m12 34h5m-57 -37h5m10 -12h5m23 69h5m28 -52h5m-17 60h5m-66 -16h5m81 -16h5m-23 -35h5m-13 8h5m16 -21h5m76 1h5m-187 47h5m167 -68h5m-93 4h5m110 46h5m-102 -79h5m-28 58h5m-20 110h5m28 -95h5m-32 30h5m18 9h5m-62 -79h5m7 43h5m10 17h5m45 9h5m-57 -57h5m14 75h5m45 -60h5m-61 39h5m-31 1h5m87 -22h5m-197 52h5m135 -32h5m-52 -68h5m-22 17h5m88 -37h5m-61 86h5m32 -32h5m-50 6h5m49 -8h5m-26 17h5m-62 -35h5m52 45h5m-94 29h5m75 -30h5m18 28h5m108 -39h5m-153 9h5m-16 -1h5m-8 -1h5m11 -13h5m15 -129h5m46 112h5m-80 33h5m39 -18h5m-48 -8h5m-23 26h5m25 -41h5m-10 40h5m46 -25h5m-36 17h5m-13 -8h5m-2 14h5m-22 3h5m-1 -4h5m0 -33h5m14 3h5m-21 11h5m16 21h5m-28 -77h5m-14 -32h5m10 28h5m2 60h5m-49 -60h5m35 104h5m-15 -40h5m18 32h5m-41 -58h5m38 1h5m-90 45h5m49 -15h5m27 12h5m-24 58h5m-25 -27h5m80 -13h5m-66 -28h5m-75 -21h5m61 21h5m10 -25h5m-37 111h5m0 -57h5m4 27h5m-27 -85h5m-3 22h5m32 -23h5m-39 49h5m6 -36h5m52 20h5m-59 20h5m-23 4h5m-9 -13h5m-39 30h5m3 -132h5m48 131h5m27 -67h5m-27 10h5m-16 32h5m11 -6h5m-76 -13h5m65 38h5m-3 -10h5m49 -35h5m-82 47h5m-9 3h5m-1 -19h5m32 -44h5m-42 76h5m-54 -78h5m88 48h5m-110 23h5m90 23h5m-31 -94h5m-14 33h5m9 -30h5m-3 -3h5m0 25h5m-15 28h5m12 -35h5m-33 20h5m17 -62h5m5 66h5m-31 -37h5m-7 17h5m-43 -14h5m-5 91h5m-10 -116h5m138 31h5m-150 -45h5m74 50h5m-13 78h5m-36 -24h5m9 -39h5m-25 -7h5m-65 5h5m11 -3h5m38 73h5m84 -63h5m-95 -17h5m6 -25h5m-8 -43h5m-4 65h5m26 18h5m-49 -19h5m-6 30h5m6 -23h5m-17 1h5m-21 -6h5m45 -6h5m-116 27h5m81 -16h5m-2 40h5m26 -25h5m-39 -15h5m-29 9h5m27 -6h5m-15 -23h5m-9 -25h5m2 55h5m16 -5h5m-15 -3h5m11 -4h5m-9 117h5m-16 -101h5m8 14h5m33 -32h5m-37 11h5m3 -11h5m-24 -15h5m-37 23h5m110 33h5m-58 -6h5m-34 -44h5m34 0h5m-91 41h5m2 -65h5m3 50h5m28 -9h5m-5 63h5m-19 -67h5m-141 -1h5m90 -51h5m44 57h5m-1 -13h5m24 -29h5m-43 7h5m-1 10h5m-10 -89h5m47 103h5m-107 39h5m83 -30h5m-53 -2h5m-27 60h5m82 46h5m-68 -113h5m-3 -8h5m-48 -9h5m24 28h5m95 -17h5m-77 3h5m9 37h5m-63 -23h5m1 -12h5m20 10h5m5 20h5m6 -2h5m-40 16h5m46 -33h5m-46 -1h5m-22 -51h5m18 86h5m-6 -31h5m2 -39h5m-17 30h5m46 72h5m-74 -73h5m61 1h5m-34 -47h5m-66 9h5m33 13h5m-28 113h5m51 -121h5m-94 -36h5m49 -8h5m30 50h5m72 42h5m6 -35h5m-115 -1h5m17 91h5m47 12h5m-118 -63h5m64 64h5m3 -38h5m-85 82h5m44 -158h5m89 68h5m-211 41h5m89 -111h5m24 69h5m-19 -67h5m-6 116h5m38 -151h5m-55 81h5m18 -21h5m2 45h5m39 -157h5m-162 117h5m84 1h5m-16 -17h5m28 21h5m25 57h5m-52 -35h5m30 -64h5m-10 35h5m-87 -116h5m49 102h5m-81 10h5m-64 -58h5m81 32h5m52 20h5m-34 -43h5m39 134h5m-39 -156h5m29 202h5m45 -226h5m3 166h5m-55 -108h5m-102 -40h5m12 103h5m-27 75h5m107 -200h5m-72 64h5m-4 -38h5m-34 69h5m97 77h5m-56 -5h5m-10 -125h5m7 61h5m-20 65h5m0 -121h5m-15 17h5m38 -65h5m-22 115h5m7 48h5m-52 -30h5m-45 -41h5m69 37h5m60 -60h5m-125 57h5m52 8h5m-31 88h5m29 -114h5m-23 113h5m-36 -89h5m-47 -80h5m136 14h5m-116 95h5m-31 -152h5m41 88h5m76 -47h5m-27 -23h5m118 73h5m-216 51h5m64 20h5m16 -83h5m-118 24h5m17 61h5m45 -133h5m-12 -2h5m-22 94h5m45 -30h5m79 80h5m-155 -15h5m70 -60h5m-78 -50h5m-12 -32h5m17 64h5m-14 -17h5m-18 19h5m-39 -28h5m35 80h5m52 89h5m5 -120h5m-61 96h5m41 -91h5m45 1h5m-153 -76h5m61 117h5m-49 35h5m114 -84h5m8 29h5m-76 -103h5m-16 139h5m72 -100h5m-30 -61h5m-68 127h5m33 -36h5m-86 -16h5m11 -53h5m46 50h5m33 -2h5m3 2h5m-122 -14h5m11 -36h5m87 181h5m34 -56h5m-105 -96h5m-37 64h5m42 30h5m12 -44h5m0 -65h5m23 46h5m-82 -74h5m21 43h5m38 -26h5m-118 12h5m158 -20h5m-48 73h5m-185 -26h5m88 162h5m91 -176h5m-165 34h5m116 -28h5m-42 -28h5m119 -30h5m-83 118h5m7 -59h5m-6 -21h5m-66 36h5m-13 -84h5m17 12h5m-130 73h5m136 -16h5m25 8h5m-41 -18h5m-60 -16h5m127 -10h5m-69 59h5m91 87h5m-104 -172h5m42 102h5m-10 80h5m-60 14h5m-102 -130h5m77 61h5m-128 -13h5m249 42h5m-139 -90h5m-73 54h5m97 -29h5m-41 -26h5m27 31h5m-61 -59h5m23 94h5m45 -13h5m-3 59h5m-93 -38h5m-36 -16h5m71 -126h5m-13 74h5m16 62h5m48 -34h5m-84 95h5m-100 -47h5m137 37h5m3 -45h5m-105 -32h5m56 -34h5m84 23h5m-236 40h5m204 15h5m6 -134h5m-151 62h5m109 81h5m-46 -127h5m-2 46h5m98 -38h5m-140 69h5m-3 41h5m23 -2h5m72 6h5m-92 -68h5m-52 11h5m69 13h5m-85 76h5m21 -128h5m-38 14h5m84 98h5m23 -73h5m-42 63h5m-105 27h5m110 -57h5m4 15h5m-89 -98h5m47 148h5m-177 -69h5m214 -86h5m-12 128h5m26 -116h5m-97 69h5m-67 -107h5m117 65h5m-98 89h5m71 0h5m-44 -124h5m41 62h5m-74 106h5m131 -171h5m-17 55h5m-84 -16h5m25 34h5m9 -29h5m5 0h5m-57 59h5m-54 -27h5m57 33h5m-69 -89h5m-42 5h5m91 -2h5m-25 54h5m18 16h5m-4 -33h5m31 -15h5m-109 -76h5m19 169h5m103 -169h5m-52 126h5m-64 15h5m42 -159h5m-13 72h5m76 51h5m-137 62h5m81 -28h5m-34 10h5m-95 -61h5m116 -52h5m-74 -13h5m39 10h5m-59 113h5m8 -67h5m16 65h5m-94 -178h5m82 78h5m-22 55h5m113 -102h5m-169 49h5m48 120h5m-53 -85h5m68 -26h5m-23 90h5m-39 -104h5m19 72h5m0 -55h5m87 50h5m-25 -43h5m-117 -19h5m-89 23h5m89 55h5m47 -9h5m-3 -31h5m30 11h5m-96 20h5m5 -75h5m22 88h5m51 -31h5m-40 56h5m26 -6h5m-26 -39h5m-39 -19h5m19 -25h5m31 -46h5m-97 87h5m-1 -93h5m7 73h5m13 22h5m-7 -40h5m-113 -31h5m97 31h5m53 15h5m-119 79h5m13 -159h5m-16 111h5m174 -48h5m-142 78h5m38 -12h5m-88 -29h5m98 1h5m-65 67h5m11 -208h5m51 186h5m-109 -29h5m-22 61h5m56 -166h5m25 163h5m-26 -126h5m7 92h5m-23 -17h5m49 -27h5m-76 15h5m-55 -26h5m60 58h5m-139 -109h5m107 28h5m-79 63h5m87 -70h5m-34 -91h5m148 193h5m-108 -44h5m21 -42h5m-2 37h5m-102 -19h5m78 -17h5m-136 -29h5m145 37h5m-100 11h5m30 33h5m8 -118h5m-14 72h5m-5 -42h5m58 2h5m-141 -24h5m107 45h5m-71 101h5m13 -118h5m-24 74h5m-23 -75h5m88 42h5m34 48h5m-122 18h5m9 -64h5m22 16h5m-5 -21h5m-66 1h5m-5 -42h5m-53 56h5m157 -15h5m-32 -30h5m-76 122h5m-18 -123h5m129 11h5m-93 15h5m-39 -47h5m-32 -45h5m28 68h5m121 123h5m-111 -69h5m61 8h5m-130 -80h5m112 69h5m-165 5h5m175 37h5m-41 2h5m-74 -31h5m-19 13h5m-14 -125h5m6 121h5m95 -44h5m-101 49h5m65 -57h5m-68 19h5m-11 -105h5m26 144h5m63 -159h5m-150 80h5m74 84h5m83 -97h5m-51 37h5m2 40h5m-39 -110h5m4 118h5m-81 -48h5m54 46h5m-68 18h5m73 -125h5m-136 60h5m93 -24h5m37 -30h5m87 36h5m-14 52h5m-199 -77h5m26 142h5m58 -50h5m-148 -18h5m140 -4h5m-18 -56h5m-88 36h5m137 -77h5m16 96h5m-12 32h5m59 -115h5m-185 2h5m-54 180h5m137 -107h5m4 39h5m-8 -17h5m-8 -49h5m-50 77h5m-81 -72h5m-13 -20h5m97 73h5m-34 -111h5m0 149h5m-74 -62h5m62 -97h5m104 48h5m-191 0h5m174 38h5m-109 -92h5m-17 64h5m109 -3h5m-77 66h5m31 12h5m-82 100h5m3 -64h5m31 -124h5m-49 -80h5m34 44h5m-11 98h5m59 -16h5m-108 -29h5m12 -31h5m31 28h5m-39 65h5m25 -84h5m-22 -49h5m56 21h5m-33 48h5m-20 35h5m35 -51h5m-49 96h5m43 -128h5m-95 121h5m81 -98h5m-53 78h5m-101 -1h5m135 37h5m-21 -82h5m17 27h5m-35 -15h5m-108 -10h5m116 -93h5m-135 178h5m48 -121h5m33 9h5m18 87h5m-52 -50h5m28 36h5m-57 5h5m-46 -19h5m108 2h5m-127 13h5m129 -11h5m-140 -9h5m114 41h5m-92 -45h5m63 25h5m-9 99h5m-35 -103h5m-114 -71h5m94 5h5m22 26h5m-85 58h5m26 -36h5m45 -22h5m-33 43h5m-49 -24h5m118 -134h5m-80 157h5m-89 -52h5m-7 17h5m26 30h5m22 -87h5m31 -5h5m-5 40h5m-41 40h5m60 -29h5m-107 128h5m31 -161h5m-18 18h5m125 37h5m-67 22h5m-25 66h5m-77 -79h5m166 21h5m-129 -96h5m-9 56h5m32 92h5m15 -252h5m-23 123h5m61 63h5m-59 -56h5m-62 -15h5m-60 62h5m159 65h5m-27 -152h5m-103 5h5m22 65h5m-1 -42h5m-60 21h5m-11 74h5m60 -58h5m3 -19h5m14 104h5m1 -135h5m-32 113h5m47 -15h5m-47 -28h5m2 5h5m68 -93h5m-76 158h5m74 -98h5m-87 -41h5m22 -34h5m-70 168h5m10 4h5m12 -109h5m-23 -42h5m-74 132h5m43 -33h5m10 56h5m-22 -143h5m80 103h5m-34 -23h5m-22 -72h5m1 -20h5m-68 55h5m16 -38h5m65 79h5m-67 -17h5m65 18h5m31 -11h5m-29 -95h5m-82 20h5m-90 17h5m112 74h5m-21 -100h5m37 57h5m-16 -151h5m-46 189h5m-111 -45h5m114 9h5m1 4h5m-87 16h5m-24 72h5m163 -74h5m25 -22h5m-72 75h5m-17 -83h5m46 64h5m-125 -85h5m87 -36h5m-165 149h5m41 -11h5m5 -84h5m30 -96h5m-33 142h5m75 -74h5m35 78h5m-101 -74h5m36 -21h5m-90 -11h5m-30 67h5m68 119h5m26 -69h5m-11 -110h5m82 -39h5m-124 135h5m106 -26h5m-133 96h5m35 -97h5m-7 92h5m55 -107h5m59 -10h5m-64 13h5m-41 -55h5m8 103h5m-25 -20h5m-83 -111h5m114 144h5m-69 -43h5m-51 -44h5m80 44h5m-29 -106h5m64 28h5m-127 95h5m113 -32h5m-148 75h5m88 -36h5m35 43h5m-31 -156h5m-65 71h5m-30 97h5m-83 -117h5m113 7h5m91 123h5m-132 -77h5m0 -62h5m21 4h5m-51 -70h5m30 57h5m101 -48h5m-180 81h5m179 18h5m-87 -9h5m-29 -2h5m60 9h5m-13 28h5m-125 -25h5m90 65h5m-8 -91h5m-11 -124h5m-35 113h5m-11 31h5m-2 18h5m-33 -43h5m144 22h5m-195 -14h5m86 -43h5m70 80h5m-49 -128h5m-29 71h5m43 149h5m-60 -98h5m55 31h5m-105 -36h5m-1 1h5m146 -34h5m-82 35h5m-9 -77h5m-77 67h5m100 54h5m43 -36h5m-104 -44h5m10 37h5m35 11h5m-25 43h5m-53 -44h5m60 -75h5m-66 98h5m53 -35h5m25 19h5m-238 -19h5m125 -92h5m14 18h5m79 -49h5m-136 129h5m103 23h5m-32 -1h5m-13 -26h5m15 17h5m-69 -31h5m30 22h5m-98 -46h5m6 49h5m119 -38h5m-136 45h5m15 -38h5m75 -75h5m-32 108h5m-86 -18h5m21 66h5m43 -178h5m-78 155h5m77 8h5"/>
<path transform="scale(0.25)" stroke="#0000ff" stroke-width="5" fill="none" d="M0 0m1417 1187h5m2 107h5m-18 -13h5m70 -136h5m-142 112h5m22 15h5m34 4h5m71 15h5m-55 10h5m-47 -37h5m42 -57h5m-35 96h5m-41 8h5m56 2h5m-13 -30h5m-35 2h5m29 -31h5m21 89h5m-90 -42h5m109 -9h5m-109 66h5m37 -48h5m11 -47h5m-80 104h5m49 -110h5m-32 29h5m40 15h5m-31 29h5m-30 -33h5m4 56h5m39 -107h5m-11 -50h5m-146 96h5m123 -4h5m-77 -73h5m2 90h5m-12 -30h5m64 3h5m-35 9h5m23 6h5m29 -3h5m-43 -27h5m-14 20h5m65 -4h5m-113 -41h5m191 32h5m-146 20h5m-5 38h5m-82 -85h5m88 22h5m-35 -8h5m-29 -13h5m178 39h5m-188 43h5m-27 -52h5m120 -18h5m-115 -2h5m32 23h5m-8 3h5m22 59h5m-25 -59h5m-2 10h5m35 8h5m7 36h5m-67 -72h5m2 36h5m38 7h5m-44 -6h5m-26 -20h5m54 66h5m-37 -72h5m18 11h5m-17 -4h5m-59 -60h5m46 226h5m-26 -118h5m-12 -50h5m33 32h5m-15 -45h5m-5 44h5m-4 -11h5m-27 8h5m11 -12h5m35 12h5m-74 -29h5m19 -13h5m-38 35h5m11 0h5m59 -10h5m-104 61h5m56 -61h5m-53 -41h5m57 16h5m22 20h5m-119 26h5m89 -33h5m-29 37h5m-24 -21h5m-3 -72h5m-49 114h5m24 -50h5m-3 6h5m24 -12h5m-34 11h5m-16 0h5m19 19h5m50 -18h5m-25 -21h5m-55 71h5m-11 -47h5m-47 -8h5m9 4h5m68 -5h5m-117 7h5m95 94h5m-43 -81h5m92 -28h5m-75 1h5m18 9h5m39 -3h5m-105 -126h5m76 150h5m-49 -28h5m-22 -116h5m0 202h5m17 -46h5m-55 -64h5m51 -19h5m-32 73h5m-3 -48h5m27 19h5m-67 41h5m128 -42h5m-110 -40h5m21 -42h5m-33 106h5m33 29h5m-31 -45h5m50 0h5m-65 -69h5m-4 35h5m51 68h5m-45 -61h5m-37 49h5m10 -25h5m-89 -32h5m73 26h5m10 18h5m-14 -21h5m1 18h5m-16 13h5m12 -18h5m39 56h5m-38 -56h5m-21 -49h5m6 18h5m-13 -42h5m-10 51h5m13 -10h5m-22 49h5m33 -20h5m-35 7h5m-12 22h5m-40 -13h5m83 -12h5m19 -6h5m-106 -16h5m16 46h5m13 -6h5m-58 -21h5m40 -93h5m-29 124h5m13 -15h5m-15 -35h5m118 -18h5m-121 58h5m-40 23h5m-53 -85h5m82 83h5m18 49h5m-52 -74h5m32 -21h5m-58 -17h5m71 -21h5m-38 92h5m-20 -42h5m-27 34h5m14 -90h5m7 52h5m57 -12h5m-103 -17h5m-6 13h5m-101 -7h5m50 17h5m58 -12h5m-89 56h5m84 -54h5m-13 8h5m-1 6h5m-1 22h5m3 0h5m-33 -26h5m17 -20h5m54 50h5m-53 -13h5m-7 -15h5m-44 7h5m13 23h5m2 -16h5m88 -6h5m-52 30h5m-71 -54h5m43 -29h5m-18 37h5m-5 -5h5m-108 16h5m50 3h5m6 -50h5m26 19h5m51 120h5m-90 -168h5m22 91h5m28 -24h5m5 41h5m-35 -40h5m3 20h5m-26 12h5m-54 -64h5m73 63h5m-11 -30h5m-39 -30h5m10 103h5m-18 -55h5m-23 -32h5m-34 18h5m48 0h5m-57 -45h5m50 25h5m136 -16h5m-143 -65h5m-49 126h5m29 -27h5m-18 35h5m23 -35h5m-31 8h5m-4 -9h5m20 -13h5m1 -10h5m-12 -10h5m-76 32h5m56 18h5m62 60h5m-91 -15h5m-19 -56h5m-6 -38h5m36 6h5m40 1h5m-27 5h5m-31 -33h5m-53 146h5m5 -84h5m64 15h5m-20 -25h5m35 43h5m-65 -44h5m-4 -14h5m-25 14h5m37 46h5m-62 -97h5m37 65h5m8 -12h5m-21 16h5m9 -1h5m61 13h5m-160 -74h5m29 29h5m42 68h5m111 -26h5m-110 -5h5m-23 6h5m2 -26h5m24 -2h5m12 32h5m-61 -65h5m-4 64h5m-105 -26h5m79 70h5m18 -44h5m48 -29h5m-32 -20h5m-31 29h5m-4 -16h5m-14 14h5m-1 -16h5m3 -7h5m2 -8h5m-15 20h5m24 3h5m16 -113h5m39 152h5m-51 65h5m-16 -95h5m-85 -6h5m21 32h5m-124 37h5m210 -45h5m-85 20h5m104 -67h5m-129 -5h5m40 7h5m-42 14h5m-3 45h5m63 -73h5m-92 39h5m23 6h5m-37 -24h5m44 28h5m-28 -14h5m21 21h5m-36 -15h5m54 1h5m-35 -6h5m-76 -40h5m55 18h5m77 -8h5m-95 37h5m39 -2h5m-66 -6h5m13 1h5m38 -5h5m-61 4h5m-7 -30h5m-46 105h5m55 -15h5m-46 -72h5m69 -6h5m-22 2h5m-33 46h5m23 -27h5m-35 89h5m-9 -89h5m-75 20h5m75 12h5m-2 -126h5m-20 90h5m-8 10h5m-27 -48h5m9 40h5m21 -59h5m-31 76h5m-10 -52h5m-1 45h5m39 -44h5m2 31h5m-106 7h5m91 -14h5m20 26h5m-61 -9h5m59 -51h5m-88 83h5m29 -42h5m-92 -22h5m-9 37h5m85 -7h5m-20 0h5m-17 -47h5m46 61h5m-6 -65h5m24 40h5m-64 -8h5m-19 19h5m-17 -1h5m18 -95h5m-24 115h5m28 -80h5m-12 133h5m9 -1h5m-14 -54h5m-43 -71h5m15 85h5m30 -92h5m-32 94h5m-32 -99h5m-52 56h5m80 -44h5m-35 96h5m-23 -93h5m-27 10h5m56 -1h5m-47 38h5m39 15h5m40 -43h5m-50 -6h5m30 24h5m-77 37h5m29 -36h5m27 -48h5m-28 -3h5m-34 78h5m-7 -69h5m39 -30h5m-26 55h5m-49 22h5m62 45h5m-81 -58h5m76 44h5m-21 12h5m-13 -38h5m-160 38h5m128 -79h5m5 35h5m6 -27h5m-21 21h5m45 45h5m-40 -40h5m0 2h5m-24 -19h5m103 28h5m-94 -8h5m11 30h5m-18 -50h5m8 -45h5m-66 66h5m39 -14h5m-50 61h5m54 -36h5m-24 -12h5m-27 26h5m39 2h5m-65 -23h5m3 110h5m21 -169h5m-29 55h5m47 1h5m40 19h5m-74 -54h5m-7 36h5m-55 18h5m31 -24h5m-4 -18h5m46 -18h5m-61 19h5m57 5h5m1 5h5m-28 26h5m-48 -99h5m201 77h5m-194 -37h5m-10 75h5m-62 -16h5m133 -28h5m-70 -9h5m-97 -44h5m89 91h5m-31 -51h5m54 59h5m-59 -17h5m7 -19h5m55 -10h5m-69 -8h5m-91 -24h5m28 95h5m61 -47h5m-19 -8h5m-14 -33h5m-46 30h5m-41 -1h5m67 -5h5m-74 9h5m36 -25h5m19 6h5m39 57h5m-19 -31h5m3 11h5m-14 -49h5m-71 31h5m51 62h5m-24 -55h5m-18 -25h5m26 30h5m-61 66h5m54 -53h5m-13 -59h5m18 40h5m-62 -27h5m45 30h5m-2 7h5m-35 3h5m130 -27h5m-151 22h5m27 -29h5m-47 64h5m-11 -35h5m39 -13h5m18 -2h5m-22 7h5m-1 -3h5m-48 30h5m-16 -10h5m68 9h5m6 -30h5m-40 -16h5m-45 39h5m30 -44h5m-10 99h5m-24 -62h5m0 -55h5m34 70h5m-30 -48h5m-81 50h5m42 0h5m47 34h5m-7 -71h5m-70 -15h5m49 11h5m-29 62h5m25 -126h5m-42 150h5m18 -72h5m34 -12h5m-67 21h5m47 -29h5m-46 -23h5m8 -36h5m2 85h5m-2 23h5m-24 -36h5m-19 30h5m-3 -23h5m-60 57h5m115 -49h5m4 -2h5m-85 -15h5m32 0h5m-9 17h5m-43 1h5m29 21h5m-15 -27h5m16 -12h5m-31 -4h5m13 38h5m-76 -22h5m75 -34h5m-38 69h5m68 -113h5m-59 69h5m-21 -10h5m135 -14h5m-153 43h5m117 4h5m-80 -24h5m-69 86h5m56 -75h5m-83 4h5m8 -21h5m60 13h5m-67 41h5m30 -39h5m56 46h5m15 29h5m-95 -60h5m55 -1h5m-43 -4h5m51 -64h5m-75 19h5m-42 11h5m36 37h5m-70 30h5m59 -21h5m55 -22h5m-88 -56h5m35 64h5m8 -16h5m-30 106h5m26 -177h5m-19 56h5m-3 17h5m-20 -51h5m-13 49h5m37 25h5m-50 -35h5m7 18h5m-50 22h5m4 1h5m40 -46h5m50 38h5m-64 5h5m1 -6h5m4 52h5m1 -15h5m-42 -56h5m22 -2h5m-8 7h5m33 -22h5m-87 0h5m8 -40h5m-5 60h5m71 -15h5m-27 16h5m-27 -60h5m-19 118h5m-26 -125h5m20 74h5m-87 -76h5m48 68h5m-10 -39h5m28 61h5m31 -36h5m5 6h5m-89 -42h5m39 50h5m-32 19h5m26 -17h5m-53 -20h5m23 -26h5m-9 85h5m-9 -30h5m-26 -4h5m-134 -14h5m148 -52h5m-15 46h5m20 -51h5m-23 19h5m20 98h5m-19 -16h5m27 -65h5m-47 5h5m-1 32h5m-5 -8h5m9 -3h5m-23 36h5m23 -12h5m-44 -37h5m10 -24h5m5 36h5m26 -5h5m-28 43h5m-68 -76h5m-3 43h5m67 47h5m-38 -60h5m49 38h5m-57 -20h5m2 -47h5m-71 40h5m81 -56h5m-11 73h5m-42 -10h5m13 78h5m-1 -88h5m-50 25h5m52 -56h5m17 62h5m-19 -88h5m-22 73h5m2 -41h5m11 25h5m-19 21h5m-3 -152h5m2 132h5m-6 22h5m21 -17h5m-59 -33h5m103 -31h5m-93 19h5m6 -33h5m-33 -36h5m-3 70h5m8 42h5m-57 -2h5m-4 22h5m51 30h5m-28 -81h5m-57 28h5m56 -11h5m0 9h5m-32 22h5m26 48h5m-15 -86h5m46 57h5m3 -16h5m-77 -29h5m18 -63h5m30 77h5m-55 -31h5m57 -7h5m-81 45h5m-13 -56h5m27 48h5m-10 7h5m0 -3h5m-76 10h5m71 -58h5m-48 -18h5m74 41h5m-9 79h5m-2 -25h5m-10 -26h5m26 -48h5m-100 32h5m21 -11h5m27 -33h5m-45 9h5m57 108h5m-50 -17h5m-21 -101h5m-24 52h5m0 19h5m-7 -51h5m17 -37h5m80 65h5m-91 3h5m15 -7h5m-52 75h5m152 -62h5m-183 -12h5m75 -73h5m40 76h5m-103 -3h5m69 -10h5m-61 3h5m31 19h5m37 -4h5m-86 -22h5m-29 -9h5m-3 54h5m-19 11h5m57 -38h5m-130 -10h5m93 -1h5m-46 14h5m35 -6h5m-63 -17h5m156 -36h5m-56 57h5m-27 -2h5m-16 -19h5m-15 -47h5m29 72h5m-5 -77h5m-54 3h5m48 100h5m11 -96h5m-64 -6h5m-3 63h5m5 2h5m-89 -30h5m37 55h5m-6 -28h5m82 -44h5m-26 56h5m-40 -38h5m16 -3h5m-37 47h5m-1 9h5m102 -34h5m-107 -26h5m-1 -10h5m31 6h5m-121 4h5m99 47h5m-25 3h5m68 54h5m-122 -49h5m-32 -16h5m20 -49h5m-15 6h5m7 143h5m22 -156h5m58 56h5m-158 3h5m100 -34h5m80 34h5m-106 -14h5m10 22h5m0 -25h5m38 10h5m-80 55h5m21 -61h5m-51 -42h5m-31 96h5m96 -2h5m-25 -46h5m-27 34h5m59 -32h5m-50 -2h5m100 -47h5m-105 63h5m-60 -25h5m89 31h5m-61 24h5m8 -53h5m-34 -17h5m64 36h5m-38 9h5m-19 13h5m18 -24h5m2 5h5m-29 -9h5m64 -65h5m-70 75h5m6 -23h5m-5 51h5m-37 47h5m30 -98h5m17 -46h5m-25 49h5m-19 15h5m-55 -64h5m65 65h5m-4 7h5m-32 0h5m-4 48h5m-32 -58h5m42 -20h5m-78 17h5m25 -5h5m-84 20h5m75 -18h5m32 18h5m-114 73h5m54 -106h5m48 16h5m-52 -53h5m-16 71h5m53 56h5m-29 -100h5m-17 73h5m-52 9h5m35 -39h5m30 -68h5m-8 114h5m18 -104h5m-99 39h5m17 -3h5m74 -27h5m53 17h5m-85 -20h5m-14 18h5m-64 -14h5m70 79h5m-66 -91h5m38 37h5m-46 7h5m-45 24h5m35 -36h5m44 2h5m-108 -27h5m86 48h5m-82 -46h5m54 28h5m-33 7h5m-11 16h5m36 -23h5m13 0h5m-1 38h5m-5 -31h5m-31 -53h5m18 77h5m-10 8h5m-43 -11h5m-77 -1h5m125 -37h5m27 -10h5m-69 19h5m17 52h5m-21 -43h5m-6 -16h5m18 50h5m-32 -10h5m-39 -31h5m25 -95h5m7 161h5m4 -53h5m9 106h5m-88 -133h5m106 22h5m-119 -35h5m48 48h5m-8 10h5m-66 -89h5m-70 121h5m128 -34h5m-1 -38h5m-31 -5h5m-2 30h5m17 -19h5m-18 -8h5m34 -71h5m-41 14h5m-11 78h5m23 -64h5m-35 43h5m10 4h5m-21 -19h5m28 -30h5m50 70h5m-74 -104h5m-19 16h5m28 81h5m-32 23h5m-27 -48h5m79 13h5m-104 -16h5m85 26h5m-8 16h5m-34 26h5m2 -34h5m-34 -81h5m5 44h5m0 31h5m7 78h5m-10 -78h5m-65 -38h5m50 43h5m-36 -14h5m26 34h5m-11 81h5m-98 -113h5m83 24h5m-2 -25h5m11 19h5m2 -58h5m-52 -7h5m-53 54h5m77 -7h5m-19 -2h5m-34 42h5m8 69h5m-7 -110h5m-21 -21h5m19 -32h5m6 55h5m18 -53h5m65 82h5m-196 -53h5m114 -72h5m-35 80h5m2 76h5m59 7h5m-32 -65h5m60 -35h5m-69 62h5m-6 -22h5m10 -17h5m-55 76h5m13 -29h5m51 34h5m-98 -102h5m10 47h5m-24 -11h5m4 47h5m113 -65h5m-134 17h5m-28 -6h5m21 0h5m12 -65h5m33 77h5m-67 9h5m45 12h5m-14 -18h5m-54 -39h5m35 -34h5m-114 94h5m150 -8h5m-133 -22h5m95 8h5m8 -11h5m-42 -6h5m40 -66h5m-14 98h5m-60 -50h5m-11 38h5m29 -1h5m2 7h5m-6 -91h5m-8 86h5m7 25h5m5 8h5m-102 -45h5m63 15h5m16 -83h5m-109 83h5m83 -60h5m-9 59h5m-5 -10h5m-21 -9h5m64 -35h5m-66 40h5m41 8h5m-64 -20h5m40 -12h5m1 56h5m-9 -44h5m-28 49h5m29 -37h5m-53 9h5m-17 4h5m80 -25h5m-17 -21h5m-69 -2h5m6 107h5m26 -77h5m-30 2h5m0 -55h5m17 64h5m-15 -35h5m-53 85h5m-11 -64h5m22 -93h5m17 25h5m-27 77h5m-39 59h5m78 -16h5m17 -107h5m106 58h5m-141 1h5m-50 -22h5m-12 17h5m10 39h5m57 -24h5m-72 -5h5m75 -5h5m-171 1h5m69 -15h5m1 93h5m45 -23h5m-42 -96h5m-25 47h5m-15 -39h5m12 32h5m2 -63h5m106 120h5m-68 -51h5m42 -12h5m-62 22h5m-43 -15h5m-4 9h5m-9 -60h5m-2 45h5m33 14h5m-51 -32h5m5 -125h5m-3 166h5m-3 33h5m-32 -46h5m45 35h5m-111 4h5m174 -49h5m-113 25h5m70 0h5m-42 -31h5m5 -66h5m136 85h5m-262 -19h5m100 -11h5m-89 26h5m16 110h5m49 -151h5m-12 52h5m-20 -1h5m-31 -41h5m39 31h5m-7 -44h5m-15 73h5m-33 77h5m10 -99h5m25 -3h5m5 48h5m-22 -14h5m-47 -20h5m27 -16h5m-10 13h5m66 -98h5m-20 76h5m-28 -3h5m-49 -124h5m-6 66h5m130 46h5m-137 45h5m15 -67h5m-7 13h5m43 47h5m-101 -63h5m27 25h5m107 59h5m-143 -47h5m13 -3h5m17 1h5m-90 22h5m72 -12h5m-45 -14h5m-11 -4h5m48 32h5m2 -94h5m-1 132h5m21 -77h5m-61 10h5m48 5h5m-73 9h5m61 0h5m-58 41h5m42 -35h5m-61 -10h5m68 -20h5m-50 50h5m-36 -26h5m72 62h5m-35 -161h5m-14 125h5m-39 21h5m-52 -36h5m73 -8h5m35 21h5m-52 -4h5m-11 -12h5m22 30h5m-34 -82h5m3 60h5m8 35h5m-10 -46h5m24 -56h5m-55 94h5m18 -63h5m-38 31h5m-3 7h5m11 -40h5m36 -35h5m-29 54h5m-21 25h5m-24 -107h5m83 166h5m-79 -86h5m48 -7h5m-48 22h5m4 -42h5m52 54h5m-49 4h5m-54 35h5m34 -57h5m2 -5h5m-19 -25h5m-28 41h5m-1 40h5m8 -21h5m-13 18h5m3 -78h5m0 29h5m-9 14h5m-15 -81h5m25 68h5m-28 -28h5m-5 -25h5m6 66h5m-94 9h5m69 -23h5m-5 10h5m12 46h5m-15 -12h5m-28 -116h5m33 15h5m-98 111h5m82 -55h5m-17 10h5m43 -21h5m-116 -51h5m67 33h5m-23 57h5m24 -53h5m-59 -11h5m-5 23h5m-40 -42h5m57 23h5m-31 24h5m65 -50h5m-33 12h5m-37 -28h5m15 175h5m-1 -144h5m26 56h5m-157 8h5m116 -10h5m-39 -33h5m9 -62h5m69 43h5m-42 57h5m-38 78h5m57 -103h5m-42 7h5m-41 -12h5m-7 25h5m-2 18h5m11 -21h5m-2 1h5m28 0h5m-84 8h5m62 32h5m-18 -45h5m86 74h5m-20 -132h5m-110 62h5m162 -10h5m-102 7h5m-7 -13h5m49 19h5m-114 -86h5m23 48h5m9 20h5m-11 105h5m11 -142h5m153 44h5m-204 6h5m15 -14h5m-19 -59h5m9 59h5m-56 23h5m18 -23h5m10 2h5m12 9h5m-41 -33h5m34 25h5m-48 9h5m18 -44h5m4 62h5m-37 -16h5m0 16h5m29 -23h5m22 -10h5m-11 10h5m45 15h5m-66 28h5m21 -98h5m-39 32h5m-24 2h5m-10 -19h5m-17 39h5m-45 -41h5m49 37h5m0 23h5m-35 -23h5m35 -12h5m-52 -32h5m24 84h5m18 25h5m-17 -56h5m-61 32h5m110 -34h5m-92 -23h5m-14 58h5m-2 -28h5m9 -121h5m51 120h5m-95 -12h5m28 -40h5m71 39h5m-80 -31h5m-69 13h5m119 -36h5m4 12h5m-45 30h5m-71 82h5m-31 -65h5m85 128h5m-28 -151h5m-2 -56h5m12 -47h5m50 93h5m-59 68h5m-125 -38h5m161 37h5m-67 -40h5m-16 -5h5m8 46h5m121 -87h5m-101 77h5m-144 28h5m123 -34h5m-148 -74h5m58 89h5m-10 -21h5m46 -2h5m60 14h5m-82 -59h5m13 58h5m27 -76h5m28 -22h5m40 37h5m-51 27h5m-52 43h5m-72 28h5m109 -87h5m12 22h5m-117 -54h5m90 32h5m-31 10h5m38 -109h5m-43 62h5m7 65h5m-192 15h5m153 21h5m-58 -118h5m41 -3h5m48 78h5m-23 -18h5m-116 54h5m61 -6h5m43 44h5m-74 -64h5m-3 2h5m-22 31h5m65 47h5m-43 -54h5m65 -49h5m-76 -69h5m57 112h5m-7 -98h5m-91 102h5m103 23h5m-89 -44h5m-76 26h5m145 90h5m-47 -115h5m-36 -53h5m15 117h5m-21 -84h5m31 27h5m-14 71h5m44 -75h5m-82 -8h5m-49 61h5m26 22h5m-80 -73h5m35 -40h5m22 -37h5m1 -25h5m37 94h5m-1 -128h5m1 213h5m24 -151h5m-84 34h5m-45 42h5m11 -141h5m74 80h5m-58 18h5m57 66h5m24 -99h5m-73 71h5m55 -25h5m-64 11h5m7 38h5m-106 -24h5m124 -22h5m-120 -112h5m57 107h5m-75 -120h5m58 103h5m4 44h5m24 -13h5m-59 -59h5m-33 -5h5m134 -38h5m-70 94h5m-6 17h5m0 109h5m-133 -108h5m87 80h5m-13 -146h5m37 -5h5m8 29h5m-20 37h5m-71 -56h5m32 5h5m-83 128h5m94 -155h5m-16 90h5m7 -21h5m22 -56h5m9 42h5m24 132h5m-21 -186h5m-39 60h5m-156 44h5m-11 -32h5m172 48h5m-61 -141h5m40 7h5m-119 87h5m79 8h5m-14 29h5m-75 -130h5m94 109h5m-37 -4h5m-56 19h5m108 -17h5m-109 -35h5m-8 52h5m1 32h5m86 -89h5m-31 30h5m-24 39h5m-45 -173h5m33 50h5m-97 -28h5m19 100h5m113 22h5m-37 -53h5m-66 -64h5m15 75h5m65 18h5m-59 17h5m-67 -110h5m124 65h5m-29 125h5m-21 -106h5m-66 55h5m-102 -68h5m96 -1h5m53 -43h5m-38 56h5m-73 39h5m126 -19h5m-78 -9h5m-44 16h5m29 -16h5m-52 27h5m22 -95h5m51 44h5m71 123h5m-115 -76h5m58 -27h5m-23 -88h5m-62 14h5m-48 124h5m12 -27h5m-4 -43h5m46 9h5m57 52h5m-33 -99h5m-34 82h5m3 -76h5m-84 96h5m75 -6h5m30 -21h5m65 -58h5m-117 21h5m43 59h5m-43 8h5m-40 -19h5m72 3h5m-61 6h5m-47 6h5m116 -38h5m-99 -5h5m25 -87h5m-40 111h5m12 -32h5m40 65h5m-74 -29h5m51 -54h5m-23 52h5m27 23h5m-110 -36h5m5 -44h5m63 106h5m1 -45h5m-29 19h5m27 -31h5m-11 -55h5m-30 -46h5m61 122h5m-157 -35h5m155 0h5m-104 -42h5m63 35h5m70 -40h5m-188 40h5m23 46h5m120 -123h5m-152 139h5m37 -69h5m22 77h5m43 -74h5m-68 70h5m-24 -157h5m-15 93h5m18 -68h5m-94 96h5m43 -74h5m21 28h5m-45 -50h5m218 136h5m-130 -95h5m49 -16h5m-46 84h5m-32 -15h5m-26 63h5m-59 -3h5m114 -100h5m-98 -50h5m-39 65h5m54 16h5m0 -19h5m-38 35h5m45 -126h5m-20 132h5m-99 9h5m86 -64h5m-26 1h5m29 45h5m99 -105h5m-102 18h5m15 22h5m-37 122h5m19 -91h5m29 -5h5m16 -31h5m-23 -25h5m-21 139h5m-92 -90h5m78 -6h5m-26 -35h5m-47 177h5m-67 -132h5m49 32h5m128 -41h5m-62 43h5m-95 -43h5m37 102h5m11 -56h5m2 -55h5m-54 121h5m0 11h5m55 -199h5m-60 77h5m31 34h5m35 2h5m-30 5h5m16 18h5m-38 -89h5m52 136h5m-103 58h5m71 -127h5m-50 -37h5m10 180h5m-71 -106h5m12 -161h5m24 214h5m-16 -44h5m24 -158h5m-13 197h5m-52 -70h5m72 -95h5m-40 137h5m9 -145h5m19 112h5m-132 -37h5m8 -122h5m65 170h5m-29 -6h5m-84 -17h5m74 -2h5m3 15h5m64 -95h5m-152 -34h5m76 59h5m13 -44h5m-71 37h5m115 112h5m-37 -64h5m-49 -40h5m-21 -2h5m13 24h5m-14 -113h5m66 45h5m-115 19h5m83 50h5m9 -64h5m27 109h5m-90 44h5m-24 -94h5m114 85h5m-95 77h5m-11 -153h5m86 19h5m-59 32h5m-44 -72h5m43 -33h5m-55 157h5m19 -167h5m13 5h5m83 34h5m-223 30h5m112 -83h5m37 48h5m-84 -47h5m-18 9h5m-89 19h5m207 71h5m-55 -18h5m-39 32h5m-38 -55h5m-107 27h5m112 -26h5m65 61h5m-60 43h5m8 10h5m-102 -42h5m-16 -45h5m99 -46h5m-9 -48h5m-14 68h5m49 101h5m-103 -112h5m94 47h5m-98 59h5m0 -1h5m31 75h5m11 -233h5m-18 111h5m-40 43h5m35 13h5m28 -70h5m-10 11h5m42 14h5m-61 -35h5m-21 6h5m-27 93h5m-159 -143h5m158 16h5m0 35h5m41 54h5m-6 -30h5m-63 -17h5m64 -123h5m-111 110h5m-41 42h5m134 -29h5m-86 -44h5m21 -74h5m-66 12h5m52 100h5m-121 16h5m212 -14h5m-134 -4h5m81 51h5m-65 -9h5m11 -139h5m29 73h5m-71 44h5m-31 56h5m-70 -84h5m60 7h5m20 75h5m9 -81h5m-66 -12h5m62 -23h5m-20 12h5m-10 107h5m86 -18h5m-75 -95h5m-64 -27h5m111 129h5m-124 -105h5m70 26h5m-3 124h5m-90 -109h5m49 -31h5m-41 103h5m-6 -91h5m27 6h5m42 163h5m-22 -150h5m-76 19h5m17 53h5m105 -47h5m-48 -22h5m-61 -48h5m97 77h5m-122 -146h5m58 164h5m12 -18h5m-1 -86h5m-83 10h5m-132 102h5m153 -59h5m61 35h5m23 23h5m-50 -132h5m-40 84h5m4 47h5m1 -39h5m-33 -45h5m95 105h5m-114 -54h5m-112 -111h5m54 105h5m139 -121h5m-49 20h5m-94 11h5m24 112h5m5 -49h5m-43 -67h5m27 92h5m-70 47h5m0 -14h5m8 19h5m-10 -115h5m123 54h5m-66 -10h5m-46 16h5m34 -100h5m67 56h5m-22 72h5m-13 10h5m-123 -136h5m69 156h5m50 -36h5m-36 -89h5m-16 -25h5m25 29h5m-98 128h5m56 -14h5m-54 -75h5m12 75h5m-58 -62h5m-14 -22h5m49 -17h5m131 53h5m-169 25h5m97 17h5m-121 -8h5m162 -60h5m-81 62h5m-67 -159h5m94 112h5m-103 69h5m17 -104h5m66 65h5m-65 -143h5m-46 121h5m37 -61h5m-53 35h5m43 -161h5m22 148h5m-82 -5h5m36 27h5m-26 -13h5m5 50h5m2 17h5m-57 -109h5m120 152h5m-111 -153h5m60 28h5m-15 44h5m31 31h5m-21 -41h5m16 -42h5m-130 -23h5m69 196h5m-4 -131h5m14 -54h5m-96 144h5m35 -58h5m24 -69h5m43 72h5m-26 -132h5m-94 59h5m97 -48h5m-159 175h5m103 -25h5m-101 -55h5m97 29h5m-29 59h5m12 -70h5m91 -25h5m-69 -88h5m-71 105h5m-10 -39h5m31 -57h5m-54 -41h5m130 125h5m-93 46h5m22 -127h5m-69 -17h5m-37 83h5m42 -40h5m106 -45h5m-50 45h5m-60 29h5m14 30h5m31 -4h5m9 -36h5m90 -25h5m-135 33h5m-20 2h5m46 7h5m-142 61h5m21 -93h5m123 158h5m13 -163h5m-179 58h5m67 -80h5m36 93h5m-49 -118h5m-70 75h5m167 40h5m-60 15h5m-76 34h5m29 31h5m1 -102h5m19 171h5m-9 -69h5m80 -127h5m-59 65h5m66 -88h5m-72 40h5m-37 99h5m26 -36h5m-91 -154h5m-20 128h5m63 -72h5m23 -83h5m-79 149h5m-49 -11h5m82 21h5m-60 -74h5m40 -29h5m-14 79h5m-105 -76h5m107 110h5m29 -93h5m-4 -40h5m-8 141h5m49 23h5m-25 -123h5m-158 132h5m33 -76h5m66 30h5m-1 -12h5m-45 -102h5m-30 -33h5m32 49h5m-12 118h5m-112 14h5m175 -83h5m-138 35h5m77 -56h5m1 123h5m7 -82h5m26 -27h5m-94 -46h5m57 -63h5m-113 225h5m67 -122h5m-45 87h5m48 -71h5m-4 77h5m-22 -130h5m-60 124h5m94 8h5m-15 -87h5m-9 -18h5m-86 35h5m129 -25h5m-57 34h5m20 108h5m-107 -132h5m13 -157h5m-39 176h5m22 -24h5m82 -15h5m-77 -29h5m30 191h5m-39 -78h5m21 14h5m15 -186h5m-4 144h5m-54 8h5m-67 -115h5m102 98h5m-27 12h5m30 -136h5m-54 174h5m69 -49h5m-13 5h5m-58 24h5m0 -95h5m-12 20h5m20 50h5m6 19h5m-20 -96h5m2 -15h5m119 81h5m-156 26h5m7 61h5m-4 -96h5m-11 20h5m-41 23h5m33 8h5m-30 -18h5m30 -168h5m2 228h5m-33 -42h5m-55 75h5m48 -201h5m-18 89h5m-5 -68h5m-22 -77h5m32 80h5m41 63h5m-48 -102h5m-133 97h5m95 -13h5m-58 92h5m47 -135h5m-30 8h5m136 25h5m-161 13h5m81 91h5m-83 -150h5m7 51h5m-72 25h5m103 115h5m-34 -184h5m119 100h5m-59 -68h5m-63 73h5m-48 5h5m-13 -18h5m-66 0h5m161 10h5m-194 18h5m152 -19h5m-45 72h5m89 -63h5m-40 20h5m-81 -10h5m-2 -29h5m18 -64h5m28 67h5m-22 -25h5m-19 37h5m-5 20h5m53 -64h5m-91 -51h5m1 129h5m13 -95h5m18 -104h5m74 41h5m-90 89h5m29 -51h5m-25 -104h5m-20 141h5m61 -135h5m-80 54h5m13 81h5m37 46h5m-90 53h5m6 -60h5m39 -8h5m-15 -13h5m71 -51h5m-87 56h5m-37 72h5m-8 -122h5m118 47h5m-118 -12h5m6 -50h5m43 69h5m-87 -22h5m6 18h5m48 -70h5m5 110h5m45 -90h5m-47 12h5m-19 19h5m-56 14h5m43 -32h5m17 40h5m-24 -62h5m-13 44h5m24 -47h5m-74 84h5m10 4h5m105 22h5m-128 -2h5m77 -54h5m-38 59h5m-43 -76h5m-8 -17h5m115 127h5m-130 -95h5m102 45h5m-31 -104h5m-98 131h5m127 -139h5m-94 42h5m-79 67h5m30 -100h5m-98 6h5m111 140h5m52 -81h5m-75 20h5m49 -108h5m-51 139h5m153 -38h5m-108 -27h5m-36 -1h5m-91 15h5m123 22h5m-16 19h5m-86 7h5m-52 -65h5m83 2h5m2 41h5m-44 -61h5m-8 23h5m16 -18h5m12 -9h5m32 40h5m80 0h5m-30 -2h5m-57 -89h5m3 16h5m-1 135h5m-97 -113h5m132 103h5m-148 -67h5m104 48h5m-116 -131h5m23 -62h5m0 164h5m76 -122h5m-35 78h5m-29 -63h5m-48 82h5m166 -9h5m-112 68h5m-57 -105h5m-42 88h5m51 -56h5m-73 -14h5m2 78h5m85 14h5m-22 -42h5m-128 -22h5m100 9h5m13 -25h5m-19 -84h5m-68 164h5m71 -13h5m-46 -91h5m-9 -12h5m-18 97h5m-34 23h5m53 -121h5m-33 107h5m9 16h5m20 -62h5m-6 19h5m20 -66h5m-26 36h5m-51 -60h5m12 111h5m-67 10h5m19 12h5m2 32h5m13 -78h5m72 -45h5m-125 17h5m176 -2h5m-6 -9h5m-12 -6h5m-90 104h5m31 -144h5m-90 80h5m69 -10h5m-31 21h5m16 -34h5m-84 79h5m49 -138h5m-10 49h5m-1 25h5m-54 -95h5m90 -18h5m-139 129h5m16 -53h5m53 41h5m55 -35h5m-73 13h5m-3 43h5m-10 -28h5m89 2h5m-104 6h5m26 -58h5m-64 113h5m-10 -75h5m-41 68h5m61 -73h5m133 -40h5m-81 55h5m-148 -1h5m49 -59h5m42 156h5m-21 -86h5m-64 -19h5m105 -68h5m-126 154h5m128 -96h5m-80 14h5m-97 7h5m108 -37h5m9 78h5m26 -92h5m-43 4h5m-18 29h5m-12 21h5m-1 -18h5m30 6h5m-49 0h5m33 -16h5m14 5h5m-25 83h5m-24 -61h5m39 -78h5m-66 -47h5m61 95h5m-12 126h5m-79 -160h5m41 -61h5m2 98h5m-68 53h5m-46 -90h5m109 97h5m-43 24h5m-57 -65h5m138 -1h5m-147 52h5m89 -40h5m42 -42h5m-106 26h5m65 18h5m-68 -5h5m-66 66h5m123 -161h5m-69 40h5m43 55h5m-32 17h5m15 -30h5m-66 19h5m-43 14h5m31 -62h5m-4 -23h5m23 -9h5m2 17h5m40 80h5m-97 -117h5m96 104h5m6 -62h5m-90 63h5m-29 -47h5m70 102h5m-61 -112h5m4 96h5m71 -36h5m-71 -2h5m-19 -53h5m30 58h5m-6 -30h5m4 -128h5m-82 123h5m-29 -2h5m78 99h5m3 -190h5m20 167h5m-33 -40h5m4 2h5m17 61h5m-53 -130h5m47 116h5m2 -126h5m3 88h5m-77 -55h5m-104 34h5m69 28h5m28 -94h5m-41 65h5m-20 -51h5m14 94h5m93 52h5m-76 -135h5m19 41h5m-64 2h5m-4 -36h5m15 66h5m-16 -4h5m73 -74h5m-64 15h5m-3 -13h5m-36 80h5m20 -163h5m53 151h5m-6 -65h5m-23 36h5m-111 -18h5m151 57h5m-67 -13h5m-10 -65h5m-85 60h5m20 -97h5m3 17h5m83 -51h5m-25 108h5m-53 -9h5m31 62h5m86 26h5m-32 -172h5m-23 87h5m11 -6h5m-8 26h5m-195 22h5m115 -10h5m-39 -145h5m26 80h5m-10 26h5m22 82h5m-65 -30h5m164 -98h5m-167 109h5m22 -58h5m85 -64h5m-57 93h5m77 -56h5m-49 20h5m-29 0h5m-122 21h5m56 88h5m44 -6h5m-57 -197h5m-6 66h5m45 10h5m-14 -12h5m46 53h5m-59 -2h5m19 28h5m-65 -6h5m-92 -9h5m123 28h5m-39 -43h5m-58 -122h5m44 184h5m2 -14h5m14 34h5m-73 -139h5m-15 -11h5m158 102h5m-128 -89h5m-76 -18h5m2 24h5m135 -13h5m18 86h5m-173 -129h5m50 99h5m82 -83h5m0 63h5m49 107h5m-147 -87h5m75 40h5m-60 -47h5m5 -139h5m-84 132h5m102 75h5m-73 -101h5m67 33h5m-37 56h5m57 -76h5m-47 149h5m-24 -164h5m-63 19h5m-10 -19h5m32 35h5m118 24h5m-9 93h5m-140 -137h5m68 18h5m-88 -14h5m115 74h5m-91 -98h5m-29 104h5m45 -55h5m-111 -4h5m155 90h5m-50 -112h5m-56 -6h5m-4 86h5m99 -31h5m-101 -77h5m35 66h5m35 -94h5m-105 18h5m74 89h5m-92 -54h5m34 113h5m-47 -173h5m30 66h5m58 -32h5m-116 39h5m66 45h5m-6 -84h5m49 69h5m-63 39h5m49 -60h5m-100 65h5m-39 4h5m11 -119h5m137 19h5m-123 -1h5m0 -2h5m3 9h5m-54 5h5m34 98h5m-44 26h5m99 -99h5m-8 40h5m28 -100h5m-18 -24h5m-127 45h5m79 -9h5m3 73h5m-21 -64h5m60 -65h5m-71 26h5m14 131h5m-109 -28h5m12 0h5m104 -34h5m17 -30h5m-20 25h5m-15 -8h5m-78 50h5m30 51h5m4 -103h5m-68 -39h5m95 95h5m-51 -28h5m24 75h5m-7 -89h5m-60 -65h5m95 -8h5m-74 35h5m30 108h5m-17 -51h5m-80 0h5m101 22h5m-77 38h5m70 -81h5m-78 27h5m48 -104h5m-121 98h5m67 -97h5m32 5h5m5 71h5m-69 -27h5m17 79h5m70 93h5m-133 -140h5m7 -128h5m95 95h5m-73 7h5m27 117h5m8 -121h5m-94 108h5m86 -2h5m-93 -164h5m12 92h5m-25 89h5m70 -140h5m21 29h5m-59 -36h5m55 132h5m-27 -39h5m-41 -117h5m7 12h5m40 35h5m-8 86h5m-13 -204h5m-40 187h5m12 -69h5m-26 -14h5m-56 21h5m19 -27h5m-4 44h5m61 -2h5m-177 -50h5m188 34h5m-98 19h5m77 -48h5m-27 99h5m-16 -30h5m-20 107h5m-46 -114h5m43 -25h5m-26 -9h5m107 75h5m-105 14h5m-42 -51h5m-45 -80h5m88 39h5m-7 44h5m28 102h5m-131 -206h5m-5 79h5m76 -22h5m38 5h5m-92 -68h5m69 120h5m72 -51h5m-142 -28h5m108 49h5m-95 -21h5m3 3h5m-83 -2h5m2 -14h5m25 6h5m76 149h5m-87 -106h5m39 45h5m-97 -101h5m91 -12h5m-6 127h5m-88 -145h5m132 48h5m-17 -98h5m-82 105h5m-42 81h5m7 73h5m0 -164h5m102 145h5m-38 -37h5m37 -95h5m-62 81h5m-35 -62h5m-8 -100h5m-84 5h5m71 126h5m30 -86h5m-45 45h5m81 -2h5m-47 18h5m53 -54h5m-60 95h5m18 -35h5m-94 24h5m134 19h5m-107 -123h5m0 6h5m-32 74h5m46 97h5m-63 -75h5m20 -82h5m-21 70h5m38 -24h5m39 -33h5m-124 -57h5m-18 27h5m78 49h5m20 48h5m-155 31h5m170 -124h5m-90 75h5m24 54h5"/>
<rect x="267.80" y="235.10" width="176.90" height="172.80" fill="none" stroke="#000" stroke-width="1.5"/>
<path stroke="#000" stroke-width="1" d="M356.25 407.90v-1.90M356.25 235.10v1.90M267.80 321.50h1.90M444.70 321.50h-1.90"/>
<text x="355.85" y="228.70" font-size="9.60" text-anchor="middle" letter-spacing="0.25" stroke="#000" stroke-width="0.12">2nd stage</text>
<text x="265.10" y="237.80" font-size="8.80" text-anchor="end" stroke="#000" stroke-width="0.1">1</text>
<text x="265.10" y="324.20" font-size="8.80" text-anchor="end" stroke="#000" stroke-width="0.1">0</text>
<text x="265.10" y="410.60" font-size="8.80" text-anchor="end" stroke="#000" stroke-width="0.1">−1</text>
<text x="264.80" y="416.50" font-size="8.80" text-anchor="middle" stroke="#000" stroke-width="0.1">−1</text>
<text x="356.25" y="416.50" font-size="8.80" text-anchor="middle" stroke="#000" stroke-width="0.1">0</text>
<text x="444.70" y="416.50" font-size="8.80" text-anchor="middle" stroke="#000" stroke-width="0.1">1</text>
<text x="355.85" y="426.10" font-size="9" text-anchor="middle">δ<tspan font-size="7" dy="4.3">w</tspan></text>
<text transform="translate(247.90 321.40) rotate(-90)" font-size="9" text-anchor="middle">δ<tspan font-size="7" dy="4.2" dx="0.4">h</tspan></text>
<rect x="270.00" y="351.40" width="60.60" height="54.30" fill="#fff" stroke="#383838" stroke-width="1.5"/>
<path fill="none" stroke="#8a8a8a" stroke-width="1" d="M271.20 352.40V404.50H329.60"/>
<text x="272.20" y="361.40" font-size="9.6" style="white-space:pre">μ<tspan font-size="8" dy="5">w</tspan><tspan dy="-5" stroke="#000" stroke-width="0.45"> = </tspan><tspan stroke="#000" stroke-width="0.1">−0.0007</tspan></text>
<text x="272.20" y="373.80" font-size="9.6" style="white-space:pre">μ<tspan font-size="8" dy="5">h</tspan><tspan dy="-5" stroke="#000" stroke-width="0.45"> = </tspan><tspan stroke="#000" stroke-width="0.1">0.0122</tspan></text>
<text x="272.20" y="386.20" font-size="9.6" style="white-space:pre">σ<tspan font-size="8" dy="5">w</tspan><tspan dy="-5" stroke="#000" stroke-width="0.45"> = </tspan><tspan stroke="#000" stroke-width="0.1">0.1221</tspan></text>
<text x="272.20" y="398.60" font-size="9.6" style="white-space:pre">σ<tspan font-size="8" dy="5">h</tspan><tspan dy="-5" stroke="#000" stroke-width="0.45"> = </tspan><tspan stroke="#000" stroke-width="0.1">0.1230</tspan></text>
<path transform="scale(0.25)" stroke="#ff0000" stroke-opacity="0.45" stroke-width="5" fill="none" d="M0 0m2323 1206h5m-220 23h5m211 -40h5m66 -17h5m-235 55h5m221 99h5m-224 -10h5m-57 -48h5m288 35h5m-177 83h5m-73 -140h5m93 -125h5m92 178h5m-24 -60h5m64 44h5m-171 -105h5m-75 104h5m75 -139h5m80 7h5m-153 119h5m19 61h5m67 121h5m156 -185h5m-285 32h5m315 -30h5m-202 169h5m-61 -78h5m-123 -85h5m125 92h5m43 -203h5m38 70h5m50 164h5m-239 -104h5m166 -177h5m-131 224h5m201 -70h5m-38 16h5m40 -26h5m-49 -3h5m-33 -123h5m-186 128h5m-55 78h5m9 -89h5m201 -110h5m3 199h5m-142 52h5m-141 -105h5m362 104h5m-113 -186h5m-163 171h5m31 -21h5m166 -130h5m-169 168h5m214 -169h5m-81 63h5m-226 -111h5m-22 181h5m294 -74h5m-79 32h5m-147 10h5m-68 -140h5m68 239h5m-99 -112h5m228 -136h5m41 63h5m-264 -44h5m86 5h5m21 -20h5m1 15h5m-15 244h5m-166 -204h5m104 -101h5m-45 145h5m95 -158h5m-136 63h5m193 27h5m-171 38h5m272 112h5m-281 -35h5m103 137h5m40 -302h5m52 98h5m11 27h5m-76 -57h5m-54 116h5m116 -146h5m-69 34h5m-107 -61h5m111 25h5m-157 104h5m45 -85h5m96 148h5m-199 -46h5m82 -139h5m-8 173h5m-116 -113h5m123 -107h5m-31 105h5m92 -17h5m-135 -55h5m82 -46h5m39 46h5m-31 -30h5m-118 236h5m47 30h5m-24 -14h5m102 -225h5m-120 217h5m130 -195h5m-122 189h5m71 -168h5m-116 58h5m44 -174h5m-56 313h5m85 -331h5m147 197h5m-166 -88h5m-159 54h5m292 -39h5m-239 191h5m257 -86h5m-173 -123h5m8 157h5m-71 -136h5m131 4h5m-172 25h5m218 128h5m-70 -173h5m-234 82h5m60 -8h5m99 -127h5m32 3h5m-36 -34h5m-168 93h5m26 -7h5m64 177h5m50 -211h5m-21 233h5m-70 -189h5m123 1h5m15 -13h5m-157 7h5m4 157h5m226 -14h5m-15 -119h5m-111 56h5m16 -123h5m-63 -6h5m-48 32h5m160 113h5m-246 4h5m131 -91h5m152 42h5m-99 -9h5m-195 1h5m104 192h5m3 2h5m33 -191h5m9 -6h5m-164 97h5m104 -120h5m54 -41h5m38 228h5m-165 -32h5m192 -11h5m-183 -166h5m117 12h5m-233 26h5m192 26h5m-177 -10h5m198 -6h5m-248 92h5m171 -184h5m-105 276h5m-44 -84h5m204 -132h5m-270 73h5m261 -5h5m-79 195h5m-9 -258h5m-83 28h5m37 -102h5m-115 98h5m25 154h5m12 49h5m168 -101h5m-64 -122h5m-34 -8h5m-179 71h5m87 -14h5m-44 53h5m-15 -77h5m-2 147h5m22 -140h5m229 -28h5m-324 119h5m-2 -30h5m158 -109h5m37 -82h5m65 79h5m-221 57h5m-12 -42h5m279 60h5m-311 -26h5m184 -69h5m-170 124h5m141 171h5m-142 -241h5m243 -20h5m-201 9h5m-132 73h5m290 -4h5m-56 -71h5m-93 205h5m196 -138h5m-60 -50h5m46 97h5m-302 -160h5m152 203h5m-122 -147h5m271 58h5m-184 -135h5m167 148h5m-27 37h5m-130 -107h5m-119 111h5m47 -119h5m81 26h5m-176 -5h5m172 194h5m-161 -216h5m283 119h5m-171 -130h5m7 -45h5m-78 -40h5m106 106h5m-15 -11h5m-213 93h5m156 -203h5m40 309h5m-57 41h5m-48 -269h5m205 132h5m-236 -133h5m-27 -62h5m59 8h5m-110 126h5m273 28h5m-113 -43h5m61 119h5m6 -91h5m-149 141h5m182 -52h5m-125 -196h5m-88 20h5m224 79h5m-391 32h5m396 -19h5m-87 -3h5m19 -40h5m-164 -134h5m53 157h5m115 0h5m-354 -8h5m198 -89h5m-123 202h5m18 35h5m-30 3h5m65 49h5m35 -310h5m133 116h5m-237 137h5m111 -276h5m35 161h5m-185 145h5m56 -211h5m-97 40h5m104 -90h5m-155 191h5m373 -68h5m-305 -42h5m-16 80h5m125 -193h5m65 300h5m-69 -243h5m-75 -38h5m40 256h5m81 -85h5m-167 11h5m-43 -135h5m154 -16h5m-178 -11h5m266 87h5m16 9h5m-268 121h5m-119 -136h5m81 85h5m20 -21h5m216 -61h5m6 -44h5m-95 176h5m95 -118h5m-103 -96h5m-150 -2h5m93 -11h5m-70 293h5m-30 -232h5m35 -65h5m-50 83h5m-4 106h5m150 -87h5m-84 33h5m-66 86h5m71 -213h5m-111 245h5m-4 -44h5m71 -210h5m75 11h5m-218 121h5m113 199h5m-63 -169h5m96 -153h5m125 171h5m-57 -70h5m-147 80h5m76 -147h5m73 18h5m-189 100h5m-90 39h5m56 -170h5m297 165h5m-283 37h5m160 -167h5m-55 -107h5m56 116h5m-170 28h5m153 199h5m-96 -352h5m42 394h5m18 -275h5m68 -26h5m-101 32h5m-40 -31h5m139 123h5m-109 133h5m-97 -263h5m-18 190h5m-117 -30h5m86 -170h5m39 261h5m-125 -110h5m252 -55h5m-39 -109h5m-49 -38h5m89 93h5m27 168h5m-49 -136h5m-161 -37h5m-74 34h5m4 120h5m46 -132h5m-44 66h5m8 94h5m11 -78h5m282 -2h5m-154 -108h5m-12 -31h5m-266 127h5m170 -92h5m-109 -27h5m62 196h5m-36 -221h5m261 136h5m-93 66h5m-133 -17h5m92 -154h5m-88 169h5m85 65h5m-38 -217h5m101 189h5m-217 -88h5m229 17h5m-353 -102h5m249 167h5m4 -162h5m-106 186h5m-114 -140h5m237 177h5m-8 -62h5m-150 -278h5m188 247h5m-176 -171h5m86 136h5m52 -117h5m-123 -50h5m39 -10h5m-42 314h5m-54 -94h5m-114 -145h5m227 -59h5m-179 -37h5m-80 116h5m231 -11h5m135 40h5m-149 82h5m80 -50h5m-299 78h5m245 -191h5m-192 148h5m110 -117h5m16 6h5m16 33h5m-248 102h5m184 14h5m-181 -61h5m171 -143h5m129 149h5m-395 -48h5m339 -66h5m-169 18h5m106 9h5m46 127h5m3 26h5m-272 -99h5m257 134h5m-219 -30h5m11 -31h5m232 -21h5m-265 -122h5m135 10h5m-44 207h5m163 -187h5m-129 226h5m-109 -372h5m3 270h5m78 -194h5m43 -13h5m21 88h5m33 -17h5m-220 20h5m-72 -22h5m-28 -23h5m89 -42h5m4 26h5m-40 53h5m22 -83h5m102 64h5m-105 139h5m71 -195h5m-207 119h5m256 -81h5m-217 78h5m80 -173h5m163 140h5m30 -31h5m-248 96h5m184 34h5"/>
<path transform="scale(0.25)" stroke="#ff0000" stroke-width="5" fill="none" d="M0 0m2189 1200h5m185 59h5m-37 49h5m17 -100h5m15 22h5m-155 -9h5m77 -67h5m30 256h5m-120 -44h5m81 -8h5m38 -143h5m-153 21h5m-39 166h5m230 -155h5m-171 137h5m135 -24h5m-157 -2h5m190 -107h5m-220 -81h5m-14 171h5m225 -70h5m-194 -142h5m-18 262h5m-120 -59h5m101 64h5m-64 -105h5m67 59h5m26 77h5m-39 -79h5m-58 -130h5m14 -80h5m-91 182h5m296 -105h5m-14 60h5m-158 88h5m-33 -208h5m36 -72h5m149 141h5m-5 17h5m-182 -47h5m93 58h5m-123 -64h5m75 153h5m-69 67h5m-106 -101h5m8 -9h5m18 -118h5m-31 147h5m42 -1h5m1 -73h5m-5 165h5m204 -94h5m-68 63h5m-134 21h5m125 -36h5m-161 -52h5m-22 -157h5m69 -21h5m-122 34h5m93 179h5m113 -106h5m-263 2h5m108 189h5m-44 -193h5m70 137h5m71 -152h5m-87 147h5m85 -180h5m33 258h5m-122 -6h5m-64 -134h5m-101 -19h5m-9 -20h5m124 147h5m0 -293h5m-7 95h5m180 -32h5m-165 -62h5m202 156h5m-229 -204h5m-58 162h5m180 -44h5m-73 168h5m-93 62h5m192 -233h5m35 60h5m-118 -63h5m39 34h5m-254 64h5m129 -142h5m114 98h5m8 -58h5m-80 17h5m-73 263h5m94 -242h5m-14 6h5m-58 -153h5m-100 309h5m55 0h5m69 -280h5m129 128h5m-73 69h5m32 -109h5m-39 -13h5m-263 35h5m153 87h5m-198 -42h5m169 120h5m37 -38h5m136 -110h5m-121 184h5m2 -188h5m-55 -129h5m41 86h5m8 32h5m-3 85h5m-100 73h5m-39 -45h5m80 -119h5m16 25h5m-102 -121h5m135 198h5m-112 -67h5m38 -83h5m22 169h5m-177 45h5m101 -202h5m37 197h5m6 -177h5m-250 108h5m104 -74h5m203 11h5m-117 -74h5m-111 226h5m-18 -9h5m127 -176h5m-131 61h5m41 52h5m138 -175h5m-299 86h5m326 0h5m-248 73h5m-77 -98h5m213 -77h5m-78 289h5m226 -144h5m-111 -14h5m-35 -77h5m-127 126h5m139 -100h5m-113 11h5m58 -49h5m-148 -15h5m26 100h5m-2 -29h5m-17 91h5m185 -75h5m-100 -106h5m88 35h5m-89 -7h5m-54 23h5m104 42h5m21 33h5m8 -8h5m23 112h5m-173 14h5m20 -327h5m118 113h5m-74 -65h5m154 174h5m-360 45h5m241 -54h5m-6 7h5m-158 130h5m149 -186h5m-275 -18h5m175 -107h5m-42 260h5m133 -92h5m-153 101h5m-41 -219h5m203 223h5m5 -98h5m-39 -115h5m-10 67h5m-123 165h5m49 -234h5m-242 76h5m247 98h5m-237 -31h5m133 -31h5m82 -55h5m-53 188h5m-53 -41h5m-23 -149h5m200 57h5m-143 -83h5m-31 -31h5m-100 44h5m244 221h5m-71 -69h5m-80 47h5m-76 -92h5m102 -102h5m-134 14h5m36 24h5m-110 4h5m362 41h5m-224 -126h5m-188 73h5m123 201h5m59 -18h5m134 -154h5m-22 -87h5m-147 21h5m-133 105h5m247 -41h5m-307 -14h5m279 -95h5m-127 261h5m124 -187h5m-214 -40h5m255 0h5m-234 64h5m112 153h5m45 -152h5m-95 110h5m235 -84h5m-218 -137h5m118 78h5m-98 -55h5m96 68h5m-326 -17h5m307 145h5m31 -86h5m-70 28h5m-127 164h5m83 -234h5m-108 215h5m-60 -248h5m206 61h5m-131 -121h5m-70 117h5m49 -144h5m-36 141h5m117 -42h5m-180 74h5m179 112h5m-174 -223h5m63 280h5m41 -334h5m-91 286h5m-46 -287h5m7 213h5m-20 -30h5m103 158h5m77 -233h5m-216 -65h5m200 91h5m18 -33h5m-130 -49h5m-132 18h5m138 -66h5m22 274h5m-111 -167h5m96 -52h5m59 64h5m-209 28h5m204 -63h5m25 35h5m-55 -73h5m-211 1h5m75 153h5m96 21h5m-3 -112h5m-170 -38h5m56 241h5m29 -277h5m-81 216h5m-4 -63h5m-35 32h5m299 30h5m-210 -170h5m24 -109h5m43 46h5m-28 -32h5m24 76h5m-237 65h5m275 -72h5m3 170h5m-10 -124h5m-152 -58h5m43 -10h5m138 116h5m-165 127h5m101 -236h5m-54 65h5m185 64h5m-110 -82h5m-26 97h5m-24 -114h5m38 122h5m-80 -120h5m-167 153h5m110 -229h5m-69 232h5m202 -97h5m-121 -45h5m-134 129h5m150 -115h5m45 171h5m-209 -259h5m91 359h5m118 -203h5m-154 103h5m138 -221h5m-40 78h5m-168 116h5m2 -197h5m-30 99h5m144 -87h5m51 156h5m-70 -203h5m-159 162h5m33 -66h5m83 157h5m41 -14h5m-201 -135h5m236 12h5m-54 105h5m-174 -38h5m214 108h5m-109 -261h5m-132 58h5m196 -13h5m-149 23h5m-141 72h5m305 -38h5m-136 123h5m-9 -34h5m-79 -133h5m7 80h5m66 153h5m67 -45h5m-200 -165h5m82 -48h5m-150 36h5m162 168h5m126 -11h5m-240 -46h5m84 -214h5m120 112h5m-193 -88h5m-3 247h5m191 -188h5m-13 -9h5m-218 29h5m8 -25h5m106 228h5m-5 45h5m-110 -241h5m-42 123h5m228 9h5m-119 -218h5m-31 -5h5m-44 87h5m16 181h5m201 -38h5m-75 -154h5m-147 12h5m163 -69h5m-20 67h5m-198 2h5m31 104h5m145 -131h5m-92 -90h5m68 2h5m23 42h5m-213 136h5m266 -46h5m-125 232h5m-96 -167h5m192 -82h5m-60 6h5m60 118h5m-275 -39h5m90 33h5m136 -125h5m-163 110h5m93 20h5m-10 -199h5m-153 143h5m130 66h5m51 -237h5m35 76h5m-186 -42h5m-89 129h5m236 25h5m-84 -143h5m-134 209h5m123 -247h5m-3 36h5m15 -69h5m41 233h5m23 87h5m34 -174h5m-287 42h5m111 -101h5m20 -38h5m114 85h5m-149 -42h5m-122 105h5m153 -170h5m-214 67h5m284 164h5m-185 -108h5m17 134h5m60 -293h5m-12 320h5m-25 -15h5m131 -118h5m-273 -5h5m93 -89h5m61 238h5m169 -185h5m-218 -37h5m-62 153h5m153 -182h5m-245 83h5m-32 -53h5m117 193h5m-1 -14h5m162 -109h5m-66 -56h5m-90 186h5m83 -282h5m57 118h5m-82 -46h5m-69 181h5m-4 -169h5m153 18h5m-293 9h5m247 -25h5m8 -34h5m-186 72h5m111 125h5m104 -5h5m-93 -172h5m-126 22h5m112 27h5m73 170h5m-174 -340h5m4 329h5m91 -69h5m-277 -69h5m34 59h5m281 -143h5m21 83h5m-68 -36h5m-216 103h5m248 -112h5m-128 -87h5m-137 177h5m57 32h5m133 -159h5m-136 24h5m122 40h5m-66 177h5m57 -265h5m-297 114h5m158 65h5m90 -138h5m62 43h5m-126 151h5m-78 -91h5m144 177h5m92 -256h5m-69 -1h5m-167 24h5m129 4h5m-53 175h5m79 -215h5m-131 277h5m40 -116h5m-17 -221h5m38 51h5m79 50h5m-210 -40h5m175 178h5m-57 -23h5m-146 -59h5m-33 -6h5m233 -46h5m37 116h5m-316 -143h5m137 -103h5m26 41h5m32 16h5m-103 230h5m72 -269h5m-148 195h5m12 -87h5m161 -22h5m-60 -35h5m105 43h5m-167 -153h5m-11 103h5m-71 33h5m140 -14h5m-181 -16h5m206 6h5m-104 -58h5m122 53h5m-174 183h5m80 -230h5m107 50h5m-70 -45h5m31 88h5m-178 -6h5m6 137h5m236 -96h5m-180 -155h5m153 122h5m-282 120h5m68 -178h5m-94 149h5m24 -70h5m57 92h5m23 48h5m-77 -57h5m199 -91h5m-270 58h5m49 4h5m120 -84h5m-138 54h5m-32 -160h5m39 213h5m27 131h5m-135 -142h5m157 82h5m-94 -248h5m139 68h5m-82 -83h5"/>
<path transform="scale(0.25)" stroke="#0000ff" stroke-opacity="0.45" stroke-width="5" fill="none" d="M0 0m2273 1266h5m43 22h5m-21 -11h5m-2 40h5m-31 -31h5m5 -10h5m-21 48h5m19 -18h5m-48 -18h5m-7 56h5m45 -63h5m-52 -10h5m77 -22h5m-36 40h5m-36 25h5m38 -17h5m-50 -21h5m0 16h5m-29 -21h5m44 -31h5m-31 14h5m-122 14h5m134 48h5m-25 -86h5m1 67h5m7 21h5m-25 -36h5m9 37h5m-88 -38h5m73 -44h5m-70 82h5m60 -6h5m66 -58h5m-59 34h5m-5 -4h5m-26 37h5m-16 15h5m6 -43h5m19 -5h5m-31 3h5m3 -5h5m-22 -6h5m21 -57h5m-6 36h5m-62 21h5m37 -1h5m-23 -3h5m69 13h5m-49 6h5m-28 -28h5m-7 33h5m18 36h5m-90 -58h5m90 13h5m-52 11h5m52 -39h5m-24 52h5m-23 -34h5m-17 30h5m15 -60h5m5 -12h5m-39 23h5m-4 27h5m-31 -34h5m3 13h5m49 69h5m-27 -34h5m48 -117h5m-59 94h5m-40 38h5m46 -62h5m-11 21h5m-13 18h5m-40 -25h5m11 31h5m7 -33h5m50 26h5m-48 -9h5m-35 -24h5m38 205h5m-91 -178h5m-71 -14h5m133 13h5m27 -12h5m-14 20h5m-117 -10h5m129 -37h5m-66 30h5m7 10h5m84 -3h5m-94 12h5m63 -37h5m-45 30h5m19 -9h5m-39 22h5m-28 -16h5m-23 21h5m32 -18h5m-44 2h5m29 9h5m-9 -16h5m-22 -23h5m42 11h5m-185 -7h5m208 -6h5m-37 35h5m22 -8h5m-60 -19h5m-7 17h5m21 9h5m-28 -28h5m-58 -5h5m0 82h5m82 -57h5m-38 -11h5m-64 7h5m46 28h5m-12 1h5m12 1h5m-1 14h5m-19 -12h5m-20 -28h5m55 -13h5m-41 13h5m-12 40h5m-7 -42h5m-8 -23h5m53 58h5m-44 -32h5m10 5h5m47 -28h5m-77 15h5m-15 17h5m7 -14h5m0 -6h5m-34 45h5m-6 -28h5m2 6h5m-46 1h5m39 -22h5m26 -7h5m-93 0h5m89 0h5m-29 -7h5m47 -57h5m-60 -29h5m-10 116h5m-3 -3h5m-7 -44h5m-1 58h5m-28 -18h5m14 9h5m5 28h5m-39 -29h5m39 -42h5m-41 108h5m45 -89h5m-93 32h5m41 -27h5m60 15h5m-30 -18h5m-47 19h5m-6 -13h5m22 8h5m-1 1h5m-54 9h5m-18 -1h5m41 -8h5m-18 -66h5m19 72h5m-31 -1h5m14 -3h5m-9 -70h5m-12 33h5m44 59h5m-36 -47h5m-4 22h5m-27 10h5m-64 -26h5m11 21h5m14 3h5m18 -7h5m-8 5h5m-10 -23h5m7 45h5m-66 -5h5m53 -48h5m-6 29h5m-15 -8h5m-9 -5h5m16 6h5m-59 -23h5m103 14h5m-53 29h5m-41 -23h5m44 -37h5m-11 18h5m-24 44h5m-5 -17h5m-42 -23h5m26 23h5m-4 5h5m-9 0h5m8 -29h5m-5 -8h5m-2 -42h5m13 73h5m12 -83h5m-5 71h5m-56 4h5m-17 2h5m15 15h5m0 -57h5m-17 4h5m30 -78h5m-59 120h5m58 4h5m-19 9h5m3 -29h5m-50 15h5m10 12h5m-10 -7h5m-40 34h5m41 -20h5m-48 20h5m42 -34h5m-30 -32h5m-5 53h5m54 -3h5m-21 -68h5m-38 5h5m-54 69h5m6 -18h5m18 -13h5m7 -8h5m-8 9h5m4 -34h5m-2 25h5m-4 25h5m-14 6h5m-7 -24h5m26 10h5m-8 -113h5m-32 122h5m-3 -2h5m15 -36h5m-86 -53h5m77 58h5m-28 23h5m4 -22h5m-65 62h5m30 -17h5m45 -18h5m-2 2h5m4 -43h5m9 84h5m-50 -78h5m20 28h5m-39 -50h5m33 46h5m-55 0h5m20 -9h5m10 -73h5m-71 48h5m38 33h5m-6 13h5m2 -10h5m85 13h5m-112 9h5m0 -26h5m14 -12h5m-29 -3h5m37 75h5m-45 -59h5m5 2h5m-50 -17h5m79 22h5m-14 -4h5m-27 52h5m-41 -45h5m32 -17h5m-21 -32h5m25 34h5m-27 -3h5m5 33h5m15 -35h5m49 92h5m-92 -89h5m-39 -49h5m35 57h5m-16 -7h5m42 51h5m-31 -13h5m-67 23h5m101 -43h5m-80 -39h5m8 27h5m-3 -5h5m-9 -14h5m-29 18h5m60 -40h5m-25 24h5m-14 4h5m-75 74h5m11 -62h5m57 6h5m27 0h5m-61 -4h5m-4 -29h5m-57 32h5m68 -2h5m-51 2h5m53 34h5m-28 -38h5m-9 -12h5m-29 36h5m10 -13h5m14 -21h5m-19 8h5m5 5h5m-9 -3h5m-11 3h5m-77 -54h5m38 41h5m43 8h5m-28 -3h5m18 -43h5m-1 35h5m38 36h5m-90 -58h5m-31 17h5m62 72h5m-22 -57h5m-13 17h5m14 -34h5m-13 18h5m10 -41h5m-15 7h5m-23 -21h5m8 36h5m-83 21h5m55 -18h5m35 -55h5m-78 56h5m38 22h5m1 -38h5m-7 21h5m-19 90h5m42 -86h5m-40 6h5m0 40h5m15 -72h5m33 36h5m-83 -59h5m26 47h5m-29 -37h5m20 73h5m2 -22h5m-45 -7h5m7 32h5m39 -35h5m-64 -10h5m-11 -21h5m29 33h5m2 33h5m22 -30h5m-70 -21h5m25 -8h5m-14 12h5m22 3h5m-55 29h5m10 36h5m3 -1h5m-6 -75h5m-17 8h5m-17 3h5m6 28h5m15 -5h5m26 -28h5m-7 39h5m-16 -29h5m-65 -24h5m22 97h5m21 -99h5m-83 24h5m-13 37h5m83 -30h5m-28 6h5m-20 5h5m17 -25h5m-32 -24h5m9 -1h5m-26 46h5m-32 22h5m59 -28h5m-5 29h5m-11 -70h5m6 42h5m-16 -12h5m-6 7h5m19 -10h5m6 74h5m-35 -64h5m2 180h5m-22 -173h5m-33 -17h5m25 -35h5m-3 102h5m18 -67h5m-31 53h5m52 -72h5m-43 20h5m-22 15h5m11 34h5m-26 -5h5m16 -34h5m-80 -7h5m72 16h5m-46 -12h5m26 12h5m-38 -39h5m39 47h5m-19 -17h5m-39 5h5m47 41h5m-14 -29h5m-23 26h5m8 -57h5m-10 70h5m-25 -146h5m25 104h5m20 -6h5m-39 -40h5m20 -76h5m-45 116h5m20 25h5m-8 -20h5m-44 -15h5m44 4h5m-13 12h5m5 -21h5m-73 30h5m102 1h5m-70 -34h5m11 18h5m7 14h5m-48 -11h5m12 -28h5m14 7h5m-41 29h5m24 -58h5m-76 64h5m35 -34h5m29 25h5m-16 -8h5m-3 -9h5m-30 -7h5m18 -18h5m-22 45h5m36 19h5m-32 -33h5m-29 1h5m-8 124h5m7 -148h5m-10 40h5m20 -36h5m39 -8h5m-60 59h5m-5 -26h5m33 -43h5m-15 -7h5m53 18h5m-66 55h5m30 -50h5m-83 24h5m60 9h5m-11 -23h5m-57 80h5m27 -45h5m62 -10h5m-94 -16h5m-4 -143h5m13 116h5m-68 35h5m39 -2h5m-2 -23h5m-16 21h5m92 -70h5m-99 71h5m1 0h5m17 -33h5m1 33h5m-16 14h5m-26 -25h5m14 23h5m-9 -9h5m-1 -52h5m-43 31h5m0 13h5m53 32h5m-66 -33h5m106 -1h5m-65 43h5m-34 12h5m-38 -57h5m49 -3h5m-18 14h5m-35 22h5m36 -33h5m11 -13h5m-28 17h5m-19 50h5m-1 -36h5m-10 27h5m35 -47h5m0 30h5m-34 -45h5m26 15h5m-50 8h5m-23 10h5m23 -10h5m-28 0h5m4 2h5m-3 -14h5m-27 31h5m38 -52h5m-30 124h5m-19 -91h5m18 -6h5m40 15h5m-24 -3h5m-20 -6h5m-4 22h5m9 -18h5m-76 36h5m56 -56h5m-39 31h5m18 -31h5m81 17h5m-107 -3h5m46 36h5m-21 -51h5m-33 -16h5m-21 46h5m29 -27h5m-27 44h5m57 -21h5m-70 -14h5m-8 -9h5m25 16h5m-9 -39h5m-5 36h5m-8 7h5m-84 -15h5m88 -62h5m20 62h5m-15 21h5m2 -24h5m-53 5h5m-2 10h5m14 4h5m-14 -2h5m6 -6h5m-29 22h5m6 -4h5m23 -48h5m-27 36h5m-10 -18h5m44 39h5m-54 14h5m43 -37h5m-40 25h5m-21 -59h5m-14 3h5m-25 73h5m24 -51h5m75 8h5m-48 24h5m-46 -7h5m-6 -49h5m12 11h5m5 -13h5m-34 24h5m45 12h5m-56 -21h5m4 10h5m17 12h5m-19 47h5m8 31h5m-48 -96h5m40 27h5m-1 39h5m-54 -56h5m21 13h5m-50 53h5m48 -75h5m-63 -14h5m38 59h5m-3 16h5m60 -54h5m-136 12h5m95 16h5m-23 -37h5m-111 -2h5m98 -6h5m1 -29h5m-35 42h5m32 27h5m-51 -9h5m-24 -35h5m51 -22h5m19 46h5m-46 49h5m9 -15h5m-25 -7h5m105 1h5m-95 -29h5m-37 11h5m-6 -41h5m12 43h5m0 19h5m-50 -30h5m50 -34h5m-23 62h5m-99 -45h5m87 11h5m-21 3h5m24 12h5m2 46h5m-16 -48h5m15 28h5m-29 -31h5m-21 -21h5m16 48h5m51 -12h5m-69 -28h5m-30 31h5m8 -25h5m-21 8h5m41 -10h5m16 3h5m-48 -5h5m24 -58h5m-20 88h5m-42 -25h5m15 19h5m22 -6h5m5 -22h5m-31 6h5m15 -34h5m-29 40h5m31 -11h5m-105 5h5m48 -24h5m50 51h5m-20 -6h5m-137 -47h5m124 -35h5m0 37h5m-23 -12h5m63 49h5m-101 -54h5m49 41h5m-53 45h5m-19 -35h5m60 6h5m-60 -25h5m3 20h5m2 -17h5m-2 18h5m3 0h5m58 41h5m-225 -26h5m129 45h5m24 -39h5m20 -3h5m-24 -19h5m17 20h5m-81 -24h5m60 38h5m0 -37h5m-37 -35h5m-53 28h5m84 15h5m-35 -34h5m50 17h5m-93 86h5m24 -71h5m-2 5h5m-32 3h5m3 -21h5m16 76h5m42 -80h5m-56 -38h5m43 47h5m-85 -7h5m24 20h5m3 -28h5m-28 -12h5m-50 29h5m26 -6h5m86 13h5m-164 -60h5m13 61h5m85 -24h5m-72 -16h5m52 48h5m7 5h5m-28 -16h5m-14 30h5m-6 -47h5m11 -29h5m-45 9h5m42 83h5m-6 -57h5m-28 26h5m11 -79h5m-35 61h5m-53 -60h5m70 9h5m-17 43h5m-3 -17h5m13 19h5m-5 15h5m-25 -20h5m-4 -4h5m-23 7h5m-21 53h5m-43 -36h5m54 -1h5m-25 -21h5m28 -74h5m56 57h5m-43 76h5m-36 -45h5m38 -10h5m-36 62h5m28 -50h5m-73 -9h5m28 41h5m0 -43h5m17 -47h5m25 35h5m-16 -6h5m-70 39h5m18 -18h5m26 -23h5m-33 54h5m28 -17h5m-21 -21h5m39 -40h5m-45 55h5m-40 -90h5m18 135h5m35 -105h5m-17 -96h5m-24 157h5m-16 -18h5m3 41h5m-32 -37h5m69 18h5m-93 -22h5m80 -11h5m-65 6h5m3 37h5m-9 22h5m11 -54h5m-40 30h5m53 -81h5m-48 96h5m23 -11h5m-43 -27h5m-9 56h5m-6 -48h5m18 2h5m-6 51h5m-21 -70h5m3 48h5m0 -61h5m15 45h5m-1 33h5m-64 -53h5m0 12h5m28 -37h5m8 70h5m-17 -49h5m4 -18h5m-25 5h5m-7 -16h5m-4 3h5m47 52h5m-46 -22h5m-20 -1h5m35 29h5m-11 -19h5m-29 24h5m29 -13h5m-11 2h5m-76 66h5m-49 -113h5m50 28h5m35 -30h5m-41 11h5m66 -21h5m-57 12h5m10 14h5m-7 -17h5m19 34h5m-49 23h5m-22 -25h5m67 23h5m-69 2h5m-6 -35h5m45 -13h5m-42 14h5m16 -9h5m59 -15h5m-84 3h5m3 18h5m-13 -12h5m27 34h5m-15 8h5m-69 -10h5m56 21h5m-52 -40h5m26 23h5m36 -31h5m-39 1h5m-20 41h5m25 -24h5m-5 -37h5m-24 39h5m-52 -26h5m50 22h5m-54 -48h5m25 78h5m15 -45h5m16 23h5m-26 -1h5m8 127h5m-53 -138h5m21 -42h5m-39 49h5m71 -10h5m6 -1h5m-41 -117h5m30 161h5m-50 9h5m-59 -29h5m8 -18h5m-3 -27h5m28 -7h5m12 34h5m-6 6h5m-78 2h5m101 -31h5m-108 22h5m44 8h5m4 17h5m-27 -20h5m-2 15h5m4 -26h5m21 -20h5m-2 16h5m-58 58h5m21 25h5m-55 -46h5m21 -20h5m6 0h5m12 10h5m81 -32h5m-164 45h5m117 -19h5m-136 3h5m39 -56h5m1 75h5m67 -24h5m-45 -3h5m-15 -22h5m4 74h5m5 -77h5m63 8h5m-77 -7h5m36 52h5m-31 -13h5m-39 -20h5m30 -6h5m7 -6h5m-104 29h5m82 -32h5m-67 48h5m43 -52h5m-84 61h5m74 -48h5m-39 2h5m17 1h5m-32 5h5m35 -2h5m-19 27h5m23 -16h5m4 -35h5m-21 7h5m16 49h5m-53 -31h5m-57 11h5m76 -9h5m-13 -26h5m-11 19h5m-20 12h5m55 -2h5m-31 -13h5m-6 -11h5m-20 23h5m18 -76h5m29 70h5m-9 0h5m-41 24h5m-28 15h5m-3 -30h5m0 -4h5m-11 -3h5m67 -1h5m-59 -4h5m-25 10h5m10 7h5m-45 -26h5m27 26h5m-20 49h5m7 -63h5m35 -51h5m-45 52h5m-26 -67h5m25 80h5m-5 -11h5m16 -13h5m-58 21h5m28 28h5m4 -21h5m31 40h5m-42 -25h5m-8 -62h5m50 18h5m-51 -4h5m-94 10h5m78 45h5m-19 -19h5m-2 -10h5m-66 -4h5m36 -4h5m34 11h5m-8 -22h5m44 28h5m-40 11h5m-42 -26h5m-22 23h5m23 -11h5m-1 -11h5m-31 0h5m15 31h5m12 -32h5m-41 40h5m-34 -32h5m39 -41h5m-91 32h5m83 -25h5m-83 23h5m74 18h5m6 -88h5m-18 67h5m-18 -6h5m4 -28h5m25 48h5m10 -21h5m-63 -26h5m30 35h5m-23 4h5m39 0h5m-54 8h5m10 3h5m-60 5h5m84 -37h5m-42 50h5m61 -18h5m-62 -5h5m-17 52h5m-48 -59h5m-3 -38h5m23 72h5m-73 -23h5m67 -12h5m-12 22h5m29 -27h5m-58 60h5m78 -77h5m-68 23h5m-29 36h5m3 -33h5m34 13h5m-23 -120h5m-12 76h5m3 36h5m1 93h5m-26 -85h5m29 6h5m-4 -79h5m-22 65h5m-4 22h5m-8 -7h5m-21 11h5m-16 -32h5m-45 -7h5m60 3h5m11 -10h5m-2 32h5m-6 -19h5m-38 -22h5m-18 69h5m15 -35h5m1 -31h5m7 60h5m-10 -25h5m70 -4h5m-87 -13h5m27 9h5m45 -28h5m-94 30h5m-10 13h5m10 -62h5m-13 53h5m18 -32h5m-40 34h5m23 -16h5m13 -14h5m-28 15h5m9 0h5m-12 -13h5m-17 -13h5m-1 52h5m-11 -72h5m16 64h5m0 -17h5m-23 1h5m-5 -19h5m-17 87h5m17 -86h5m-38 9h5m19 -33h5m0 -14h5m30 37h5m-14 41h5m-29 -26h5m-5 -15h5m4 1h5m-35 -7h5m21 18h5m-63 -56h5m4 55h5m26 -28h5m23 17h5m-61 20h5m33 1h5m-16 -9h5m13 -14h5m-27 18h5m7 30h5m90 -56h5m-134 98h5m14 -72h5m7 37h5m-5 -29h5m53 -106h5m-66 108h5m-17 16h5m-1 -40h5m6 40h5m-33 -15h5m9 21h5m107 -55h5m-96 20h5m-31 -6h5m27 17h5m-44 -24h5m-5 -16h5m41 137h5m-45 -108h5m3 11h5m-1 -11h5m-47 8h5m8 -1h5m26 68h5m19 -88h5m-40 -43h5m7 37h5m-46 5h5m83 18h5m-36 3h5m-8 7h5m-30 -131h5m106 85h5m-87 45h5m-49 -52h5m17 54h5m-8 -32h5m-35 10h5m59 2h5m19 -4h5m-22 41h5m-79 -32h5m13 2h5m37 17h5m-22 -58h5m27 66h5m-15 -2h5m-24 -48h5m-2 18h5m-12 -1h5m7 -78h5m-36 95h5m63 -16h5m-64 4h5m-5 -24h5m-49 29h5m64 21h5m-34 -14h5m23 -4h5m1 -9h5m-3 -28h5m45 50h5m-69 -4h5m-1 -52h5m-23 2h5m-15 106h5m19 -76h5m-1 8h5m9 -11h5m-17 36h5m-20 -14h5m-18 -26h5m-42 51h5m43 21h5m-5 -62h5m20 16h5m-24 -21h5m-16 5h5m23 13h5m-43 -24h5m-22 -53h5m99 95h5m-108 -31h5m88 1h5m-43 -28h5m-41 47h5m-19 -2h5m65 1h5m-73 -8h5m111 -19h5m-106 11h5m10 6h5m27 -33h5m-49 -25h5m27 54h5m-16 2h5m-1 118h5m-40 -156h5m12 45h5m-21 -23h5m88 34h5m-61 -7h5m19 -52h5m-30 28h5m-16 8h5m-36 -50h5m27 103h5m-65 -17h5m103 -19h5m-103 -9h5m44 -26h5m3 19h5m-55 42h5m31 -49h5m-2 10h5m-12 -50h5m-12 -4h5m23 38h5m-40 35h5m-2 -28h5m-8 9h5m21 7h5m-7 -7h5m8 -31h5m18 10h5m-64 53h5m18 -35h5m-12 17h5m57 27h5m-91 -41h5m-17 20h5m60 -25h5m-38 38h5m-81 -79h5m80 -52h5m-7 101h5m12 -3h5m-20 -27h5m-50 15h5m59 28h5m-35 7h5m49 -24h5m-64 -15h5m-36 14h5m60 17h5m-38 -2h5m-17 -32h5m50 40h5m-18 83h5m2 -130h5m16 72h5m-125 -55h5m29 20h5m21 15h5m18 -26h5m-68 17h5m46 -32h5m-15 45h5m0 -27h5m21 -19h5m-62 33h5m45 49h5m-17 -78h5m-23 17h5m-21 -34h5m33 27h5m27 -5h5m-4 33h5m-69 -40h5m-4 18h5m5 -8h5m-32 -4h5m26 61h5m-70 -46h5m58 4h5m24 -35h5m-16 28h5m-13 -101h5m-22 107h5m-23 -85h5m-29 1h5m56 46h5m-13 11h5m3 -7h5m-7 22h5m-8 -11h5m2 24h5m7 -35h5m-14 41h5m-19 -2h5m1 -49h5m29 28h5m-27 36h5m-5 -40h5m-13 10h5m-11 -14h5"/>
<path transform="scale(0.25)" stroke="#0000ff" stroke-width="5" fill="none" d="M0 0m2284 1302h5m8 -55h5m-61 -19h5m46 66h5m-22 -22h5m9 -20h5m-54 13h5m61 14h5m-78 19h5m34 21h5m-32 -42h5m-75 19h5m6 -51h5m52 65h5m33 -77h5m-9 50h5m-2 -13h5m-41 42h5m48 -39h5m-86 4h5m74 10h5m-26 -26h5m7 67h5m15 -23h5m57 -14h5m-82 -9h5m-42 -3h5m14 40h5m4 71h5m39 -61h5m-48 -65h5m13 47h5m-8 -26h5m-10 -29h5m-18 34h5m74 -6h5m-80 0h5m-11 -4h5m-1 -48h5m-11 68h5m2 -41h5m34 29h5m-209 -20h5m154 17h5m18 4h5m-12 20h5m-18 -115h5m68 87h5m-105 4h5m37 -8h5m-68 -8h5m56 8h5m7 6h5m-67 1h5m61 0h5m1 18h5m-23 -26h5m-63 -12h5m36 -39h5m17 73h5m-32 -17h5m38 23h5m-57 -70h5m20 22h5m-18 77h5m-2 -37h5m-9 -1h5m62 -30h5m-31 -18h5m-30 54h5m-41 -19h5m58 -68h5m-89 18h5m66 75h5m-103 -20h5m65 35h5m-11 -5h5m-2 -2h5m-5 -27h5m8 -18h5m21 19h5m-66 30h5m70 -74h5m-38 45h5m-35 -16h5m21 12h5m1 10h5m-27 14h5m-86 -5h5m90 -17h5m-32 -13h5m4 91h5m2 -84h5m11 4h5m-32 -110h5m8 129h5m26 19h5m-57 -59h5m20 16h5m-48 -8h5m55 16h5m-20 -16h5m-10 80h5m103 -73h5m-148 17h5m89 -5h5m-82 -3h5m26 -37h5m-17 24h5m-24 -11h5m0 20h5m9 -11h5m-7 18h5m1 19h5m15 -26h5m-80 -32h5m-6 68h5m48 -45h5m12 -34h5m-28 27h5m-23 2h5m48 34h5m-27 -6h5m18 -23h5m-57 12h5m30 24h5m-25 -36h5m3 13h5m-3 -19h5m32 -62h5m-30 65h5m-12 -25h5m-25 -25h5m-14 69h5m64 -7h5m-57 -30h5m-42 22h5m13 178h5m-32 -154h5m-84 41h5m122 -66h5m-31 -9h5m-31 72h5m41 -40h5m21 -1h5m48 -45h5m-71 11h5m-152 17h5m136 2h5m-6 -14h5m-10 10h5m-17 15h5m13 17h5m-40 -21h5m27 3h5m-42 16h5m46 7h5m59 -40h5m-94 19h5m-2 -4h5m33 -14h5m22 4h5m-71 -20h5m7 89h5m3 -104h5m-19 56h5m-4 38h5m-9 -84h5m-2 150h5m-41 -121h5m56 -20h5m56 42h5m-95 -14h5m47 -4h5m-48 -17h5m-18 -41h5m-27 0h5m53 51h5m-1 26h5m-53 -48h5m9 -12h5m31 59h5m-26 -13h5m-32 -10h5m-2 16h5m7 -13h5m3 4h5m35 -7h5m48 -41h5m-51 70h5m-98 -22h5m41 -13h5m-30 23h5m58 -19h5m-59 -37h5m-19 36h5m11 4h5m-79 -9h5m82 6h5m-34 0h5m29 29h5m-22 -51h5m-11 -5h5m16 43h5m16 -28h5m-30 58h5m-15 -47h5m11 -18h5m-27 40h5m14 -124h5m1 128h5m-10 -25h5m-26 7h5m36 -22h5m10 41h5m-38 14h5m-2 -69h5m-6 21h5m-20 -14h5m-15 70h5m29 -51h5m-65 38h5m51 -40h5m-23 10h5m24 5h5m-51 16h5m53 -25h5m-22 -14h5m-8 10h5m-5 26h5m-6 -19h5m-18 1h5m-4 -2h5m-43 20h5m98 -8h5m-68 -12h5m22 -46h5m-43 69h5m24 -7h5m-52 -32h5m-1 65h5m-25 -48h5m28 7h5m-2 -12h5m68 -23h5m-71 -17h5m-19 40h5m0 26h5m25 13h5m-66 -39h5m33 22h5m-11 -10h5m-3 -65h5m15 21h5m-28 38h5m-7 5h5m43 0h5m-57 -45h5m-3 43h5m17 12h5m-75 29h5m21 -59h5m69 20h5m19 -22h5m-74 0h5m-3 1h5m21 8h5m-30 66h5m-86 -75h5m66 37h5m37 -11h5m-38 -12h5m9 -7h5m-15 8h5m-15 -1h5m-10 49h5m26 -73h5m-21 34h5m30 70h5m-104 -50h5m45 -9h5m59 -27h5m-60 -4h5m-11 22h5m53 -86h5m-28 70h5m-35 36h5m-17 -81h5m44 76h5m-49 -5h5m3 -39h5m-88 -28h5m35 45h5m50 -38h5m-28 102h5m-12 -69h5m5 23h5m11 -79h5m-21 53h5m18 22h5m-21 9h5m29 -48h5m-37 16h5m4 10h5m-15 4h5m-5 -9h5m-17 72h5m9 -62h5m73 -25h5m-94 12h5m69 -26h5m-83 31h5m-103 18h5m83 -18h5m49 25h5m-34 -38h5m23 36h5m-4 0h5m-2 -29h5m-71 10h5m87 -37h5m5 59h5m-70 -59h5m-9 21h5m-1 -8h5m2 34h5m7 13h5m-48 -74h5m-30 39h5m123 -13h5m28 63h5m-98 -43h5m-60 -28h5m0 86h5m44 -93h5m-44 58h5m-89 -8h5m79 30h5m-21 -3h5m51 -46h5m2 7h5m-12 -22h5m-24 12h5m-45 8h5m11 -9h5m21 12h5m-135 -34h5m185 34h5m-52 48h5m-32 -37h5m25 11h5m-13 -157h5m-11 82h5m-11 52h5m2 38h5m38 -17h5m-84 -25h5m28 4h5m-37 -81h5m100 92h5m-77 10h5m29 -13h5m-91 -2h5m45 -54h5m-8 37h5m-10 -22h5m-5 25h5m4 71h5m-15 -58h5m-34 35h5m17 -101h5m-1 45h5m-24 60h5m47 -36h5m-34 -66h5m-17 53h5m55 3h5m-67 0h5m11 6h5m19 32h5m-28 -40h5m-10 -14h5m-43 -4h5m31 -18h5m-7 19h5m-4 31h5m2 -13h5m16 26h5m-26 29h5m21 -124h5m-53 68h5m-31 8h5m42 -41h5m-8 69h5m76 -38h5m-94 8h5m-17 -13h5m41 -8h5m-13 18h5m-42 12h5m7 25h5m91 0h5m-71 -6h5m-27 -43h5m-21 6h5m30 3h5m-76 -28h5m60 31h5m-8 56h5m11 -62h5m-38 -15h5m28 1h5m-32 25h5m10 14h5m26 -62h5m-17 70h5m-90 4h5m75 -28h5m-26 -11h5m40 7h5m-17 52h5m-37 -44h5m-30 -3h5m-37 -7h5m110 -7h5m-69 28h5m-46 -17h5m6 -1h5m39 -28h5m-78 46h5m54 -66h5m16 -8h5m0 85h5m-17 9h5m-25 -39h5m0 12h5m2 -2h5m-30 25h5m29 21h5m-8 -38h5m-42 55h5m33 -33h5m96 -36h5m-126 12h5m-9 -10h5m-19 -57h5m15 59h5m28 -81h5m-38 102h5m-107 -104h5m143 63h5m6 45h5m-46 0h5m-22 -63h5m23 35h5m-53 55h5m18 -66h5m2 12h5m-44 -9h5m29 35h5m-2 -46h5m-84 1h5m58 35h5m5 -13h5m2 5h5m24 -93h5m2 88h5m-40 -19h5m37 -12h5m-120 -19h5m24 42h5m19 6h5m32 -11h5m-6 22h5m-32 29h5m-4 -110h5m38 73h5m-44 25h5m110 -78h5m-112 54h5m27 -50h5m-39 20h5m-13 26h5m5 -39h5m-46 44h5m39 -10h5m13 -13h5m-17 2h5m3 12h5m9 -56h5m23 65h5m-51 4h5m-33 3h5m9 -11h5m-25 -8h5m31 -8h5m-32 10h5m-11 -3h5m43 3h5m-27 21h5m-23 -16h5m10 -40h5m-10 27h5m-1 -7h5m-7 58h5m17 -61h5m8 28h5m-50 27h5m24 -36h5m-23 -41h5m13 108h5m-30 -51h5m-5 -18h5m37 -21h5m-22 0h5m-24 23h5m-14 -10h5m-1 42h5m-31 -68h5m3 -4h5m13 34h5m-49 8h5m47 -19h5m-54 62h5m63 -46h5m4 -6h5m-69 2h5m27 -16h5m-17 21h5m18 -3h5m-1 38h5m-28 -27h5m1 -36h5m-6 34h5m6 -23h5m-40 45h5m-11 -52h5m25 4h5m-22 38h5m48 1h5m-43 -69h5m-4 4h5m-16 39h5m-14 32h5m19 -25h5m33 -20h5m-25 10h5m-49 12h5m37 36h5m-2 -81h5m5 43h5m-50 21h5m-19 8h5m17 -20h5m-7 -11h5m-6 9h5m-30 -9h5m19 -20h5m4 10h5m-13 115h5m19 -117h5m-33 -63h5m5 102h5m6 -35h5m-28 65h5m-13 -62h5m-8 -24h5m39 -16h5m-32 55h5m61 -12h5m-100 -17h5m41 11h5m-25 28h5m-60 22h5m44 -36h5m3 56h5m17 -60h5m4 25h5m-32 -21h5m9 -35h5m-14 -53h5m-11 99h5m24 -28h5m51 25h5m-90 -29h5m37 -29h5m-45 47h5m-70 24h5m39 -19h5m-13 38h5m12 -46h5m65 -8h5m-81 -19h5m29 40h5m-28 -52h5m-14 3h5m6 19h5m35 34h5m-52 -39h5m38 45h5m-53 -36h5m15 22h5m-38 0h5m35 0h5m-6 -2h5m35 -10h5m-43 60h5m-41 -73h5m8 21h5m4 -14h5m10 8h5m7 -25h5m-58 39h5m42 14h5m-5 -32h5m-5 23h5m-70 15h5m29 -116h5m-51 62h5m56 24h5m36 15h5m-39 -20h5m-30 14h5m17 -12h5m-23 20h5m12 -18h5m5 8h5m-20 -17h5m24 -12h5m-34 24h5m24 18h5m-88 -16h5m60 -13h5m-11 36h5m6 -31h5m11 6h5m-28 -9h5m1 36h5m-53 27h5m-4 -70h5m29 20h5m40 1h5m-3 1h5m-76 -7h5m31 11h5m76 -12h5m-106 7h5m-26 -30h5m7 44h5m12 -2h5m17 -5h5m-6 39h5m0 -43h5m-71 12h5m16 -25h5m21 -12h5m75 -23h5m-136 20h5m14 28h5m19 -64h5m-6 76h5m-1 -36h5m13 1h5m-37 -13h5m-2 10h5m36 65h5m-54 -57h5m89 -35h5m-94 41h5m19 4h5m-39 -14h5m25 53h5m-85 -38h5m75 3h5m-4 4h5m-48 -16h5m40 -18h5m-33 41h5m-6 -8h5m176 8h5m-175 9h5m44 -50h5m-87 13h5m47 71h5m-85 -67h5m51 -5h5m52 25h5m-11 7h5m-26 -27h5m-66 -15h5m31 -12h5m-2 58h5m19 -52h5m25 28h5m-40 2h5m-26 4h5m4 -19h5m-12 13h5m5 -63h5m-5 80h5m-12 -57h5m1 49h5m-50 71h5m67 -51h5m-96 -25h5m79 10h5m-23 -59h5m-22 40h5m15 -11h5m-1 42h5m-31 18h5m1 -82h5m23 43h5m-29 -26h5m3 72h5m-54 -47h5m39 7h5m-22 13h5m0 -25h5m9 28h5m-8 -20h5m3 24h5m-62 11h5m19 -5h5m13 -32h5m42 -25h5m17 -19h5m-88 50h5m-42 -15h5m30 65h5m18 -87h5m-2 3h5m55 73h5m-64 -45h5m-9 -2h5m-56 -73h5m47 63h5m-11 39h5m-18 -8h5m78 -15h5m-129 -93h5m46 86h5m17 2h5m-70 -6h5m26 13h5m5 3h5m69 -16h5m-74 -15h5m-53 23h5m-4 -7h5m30 8h5m-19 13h5m27 -11h5m2 -12h5m-35 13h5m16 -16h5m23 -2h5m-28 28h5m22 -22h5m-63 13h5m13 -68h5m-7 49h5m14 23h5m-2 -18h5m-6 0h5m-29 20h5m38 -42h5m-28 11h5m-13 82h5m15 -88h5m-48 32h5m-18 12h5m29 -74h5m0 87h5m-20 -77h5m49 50h5m0 -12h5m-53 35h5m-10 -76h5m29 41h5m24 3h5m-85 -44h5m-21 67h5m17 -46h5m29 50h5m21 -51h5m-21 19h5m-39 6h5m70 36h5m-69 -49h5m-57 72h5m39 -16h5m-9 -59h5m4 -38h5m-9 111h5m-46 -68h5m58 5h5m-7 -3h5m-6 8h5m18 -7h5m-62 36h5m28 -46h5m-68 42h5m71 25h5m-65 -30h5m64 -9h5m-31 -9h5m-5 17h5m-27 6h5m35 -107h5m-5 74h5m-21 21h5m-10 36h5m27 -46h5m-46 -3h5m-43 19h5m35 -34h5m-6 -53h5m-4 86h5m-8 -47h5m19 31h5m-26 -37h5m33 48h5m-31 -36h5m-67 22h5m60 -84h5m-15 61h5m1 23h5m-17 2h5m22 15h5m-36 -13h5m-20 -13h5m16 0h5m-52 -13h5m23 11h5m3 18h5m23 -27h5m-24 46h5m-11 -7h5m7 -46h5m3 36h5m-1 -20h5m-18 -13h5m-2 22h5m36 12h5m-57 -10h5m29 99h5m-10 -91h5m-39 16h5m13 4h5m-25 -51h5m-5 18h5m6 24h5m-9 28h5m7 -51h5m27 15h5m-84 28h5m64 -25h5m-18 -18h5m-33 -123h5m25 90h5m-26 3h5m-16 19h5m16 11h5m-16 -7h5m-33 9h5m55 -51h5m-34 89h5m0 4h5m-45 -65h5m31 23h5m-13 4h5m6 -2h5m-5 -25h5m6 -48h5m-22 95h5m1 6h5m-29 -45h5m-9 31h5m53 -18h5m-25 -6h5m-17 6h5m9 22h5m-59 -47h5m18 29h5m10 31h5m-37 -82h5m115 60h5m-70 -2h5m-56 -32h5m29 17h5m-2 1h5m-60 29h5m58 -20h5m-11 -54h5m1 50h5m-83 12h5m0 -6h5m71 -8h5m-34 28h5m28 -21h5m-8 -50h5m6 10h5m-42 86h5m45 -50h5m-44 7h5m-7 4h5m42 -29h5m-93 13h5m33 29h5m43 -58h5m6 44h5m-3 -53h5m-102 -4h5m55 47h5m-7 -45h5m-33 44h5m-22 1h5m49 -39h5m-82 55h5m41 -14h5m-16 -41h5m-1 19h5m0 42h5m-16 -11h5m40 -13h5m-42 22h5m54 -36h5m-68 25h5m-4 13h5m-4 -27h5m23 13h5m-19 4h5m18 -40h5m-54 7h5m-23 15h5m31 9h5m-3 -15h5m-7 11h5m-2 1h5m-19 3h5m-40 -9h5m-30 4h5m49 14h5m7 10h5m17 -47h5m-10 43h5m-42 13h5m15 -39h5m-5 27h5m22 5h5m-33 -6h5m-58 -13h5m70 7h5m-39 -11h5m19 -25h5m0 65h5m-16 90h5m-15 -131h5m26 -43h5m-27 75h5m2 -26h5m29 -13h5m-32 32h5m-12 -13h5m21 -13h5m-41 -13h5m-31 37h5m-12 -45h5m53 24h5m-21 -26h5m-10 13h5m-14 -16h5m6 39h5m-38 -3h5m26 -13h5m21 14h5m-11 -3h5m-11 -12h5m-27 48h5m-3 -79h5m4 37h5m-53 18h5m40 -5h5m8 -64h5m-9 27h5m-15 34h5m-1 -10h5m-14 23h5m42 -76h5m-26 109h5m-27 -48h5m-14 -20h5m-4 1h5m-15 4h5m6 5h5m0 44h5m24 -25h5m-19 -21h5m-18 9h5m-3 -6h5m-14 -19h5m9 45h5m1 7h5m-39 -11h5m4 -11h5m46 -11h5m-48 -24h5m16 14h5m-88 34h5m60 -27h5m12 40h5m-46 -30h5m40 -9h5m-9 -5h5m24 19h5m-15 40h5m-34 -30h5m-47 -31h5m93 22h5m-97 -23h5m21 -21h5m29 17h5m-29 23h5m4 16h5m6 -23h5m70 -4h5m-93 -27h5m6 41h5m-16 23h5m12 -27h5m-11 -10h5m-31 13h5m5 -9h5m-19 22h5m-7 -20h5m-9 -16h5m34 36h5m-22 -19h5m1 0h5m11 28h5m-32 12h5m-5 -94h5m-17 -58h5m4 153h5m-58 -54h5m21 5h5m52 4h5m12 2h5m-46 -19h5m-29 34h5m59 -35h5m-39 46h5m53 -12h5m-63 -52h5m-18 14h5m-2 1h5m-15 0h5m-64 22h5m-8 -4h5m75 -1h5m23 19h5m-8 9h5m-42 1h5m-3 7h5m26 -7h5m-26 -10h5m29 -14h5m-27 2h5m-24 84h5m-9 -98h5m79 23h5m-35 -37h5m-34 13h5m-21 -12h5m-19 -8h5m-18 38h5m25 -20h5m15 32h5m-12 -13h5m53 -16h5m-118 -15h5m46 28h5m-23 -9h5m87 3h5m-54 -30h5m32 1h5m-77 22h5m-3 5h5m-7 -4h5m-23 -3h5m12 -96h5m18 107h5m-38 3h5m-7 11h5m3 -7h5m13 -2h5m-44 12h5m-12 -6h5m-6 49h5m30 -47h5m-18 -5h5m3 4h5m-57 -45h5m28 49h5m60 -9h5m-24 2h5m-36 -62h5m10 57h5m-21 -5h5m4 -31h5m46 10h5m-129 -6h5m24 7h5m27 14h5m13 52h5m-69 27h5m51 -144h5m-37 79h5m-10 26h5m32 -26h5m-10 -8h5m-16 23h5m-25 -68h5m90 85h5m-92 -65h5m12 39h5m-33 0h5m19 -6h5m-43 -7h5m20 -43h5m31 38h5m-25 16h5m10 6h5m1 -35h5m-30 30h5m-11 -20h5m10 -10h5m28 20h5m-39 -4h5m-80 -30h5m83 32h5m-25 -37h5m5 -23h5m10 47h5m-13 14h5m2 -2h5m-43 -12h5m72 116h5m-41 -121h5m-38 -1h5m12 23h5m-21 47h5m7 -20h5m-10 -32h5m18 -6h5m-14 28h5m-56 -11h5m57 -11h5m-29 25h5m14 9h5m-25 -28h5m-25 4h5m12 -31h5m-2 37h5m24 58h5m-41 -64h5m-6 -20h5m29 66h5m-25 -20h5m-13 -31h5m-4 25h5m-18 -45h5m53 36h5m-35 -10h5m-7 14h5m-12 -44h5m24 24h5m-65 30h5m75 -34h5m-59 10h5m-12 45h5m12 -74h5m-10 21h5m61 -20h5m-68 24h5m-13 22h5m5 -41h5m30 -11h5m-53 -7h5m6 21h5m-24 -2h5m-7 44h5m38 -55h5m-28 -19h5m-59 47h5m59 -1h5m15 5h5m-53 -5h5m35 -26h5m-56 19h5m4 16h5m15 -10h5m3 -32h5m-21 20h5m-3 26h5m-82 -8h5m77 1h5m5 -36h5m7 28h5m-47 3h5m-21 -16h5m30 -26h5m-26 25h5m14 48h5m10 -61h5m-31 38h5m25 -7h5m-27 -60h5m9 82h5m-21 -11h5m26 29h5m-64 -60h5m59 18h5m-32 55h5m-15 -77h5m54 -21h5m-31 -9h5m-39 -10h5m10 48h5m-83 21h5m65 12h5m70 -11h5m-69 21h5m-29 -143h5m55 109h5m-107 46h5m52 -66h5m-33 39h5m23 -21h5m14 11h5m-49 41h5m20 -64h5m-13 10h5m-158 -33h5m140 6h5m8 30h5m9 -12h5m-37 5h5m38 12h5m-4 -11h5m-26 -13h5m-7 25h5m-9 -18h5m15 38h5m-92 -26h5m68 -6h5m7 2h5m-4 7h5m-19 3h5m16 -93h5m-24 78h5m-85 -40h5m73 69h5m40 -35h5m-49 8h5m-18 -7h5m-79 28h5m58 -5h5m44 24h5m-45 18h5m48 -59h5m-94 16h5m49 -33h5m48 44h5m-52 0h5m-50 -71h5m17 54h5m0 1h5m8 -1h5m1 -1h5m-91 -39h5m115 40h5m-67 10h5m51 12h5m-58 23h5m1 8h5m16 -69h5m-11 31h5m-1 -21h5m-14 45h5m-31 -26h5m53 48h5m-19 -68h5m-80 -60h5m95 47h5m-44 52h5m18 -40h5m-10 17h5m-16 -17h5m-31 29h5m-30 -7h5m30 -12h5m7 -7h5m-27 -12h5m91 50h5m-125 -39h5m23 7h5m8 -18h5m-41 58h5m27 -5h5m31 -35h5m-28 -3h5m-51 21h5m83 -25h5m-73 43h5m-15 -14h5m77 -12h5m-68 83h5m-49 -99h5m42 -23h5m1 19h5m-31 64h5m25 -51h5m-31 -7h5m42 -98h5m-31 137h5m6 -100h5m-21 84h5m1 -16h5m48 38h5m-77 -50h5m3 19h5m7 -12h5m26 -1h5m-43 3h5m22 -36h5m-19 39h5m-22 8h5m-9 -31h5m14 54h5m-23 -12h5m4 -22h5m-81 18h5m92 -26h5m-54 0h5m4 -15h5m17 33h5m-1 -1h5m-5 -25h5m18 30h5m-37 -1h5m0 13h5m-66 -33h5m51 -18h5m2 105h5m-25 -59h5m12 -59h5m12 100h5m64 -53h5m-70 -39h5m-35 80h5m88 -40h5m-85 -13h5m-23 -26h5m-10 103h5m-40 -98h5m39 35h5m-10 -1h5m-33 -80h5m39 78h5m-14 -27h5m-33 -82h5m23 63h5m13 6h5m-5 35h5m-11 18h5m-27 -58h5m39 13h5m-11 -52h5m-29 50h5m-27 3h5m53 12h5m-44 44h5m-26 42h5m32 -100h5m-8 45h5m-23 -12h5m13 -17h5m82 -7h5m-87 22h5m-22 29h5m-45 -18h5m41 92h5m-43 -117h5m22 1h5m19 -8h5m34 67h5m-37 -50h5m-2 -5h5m-36 22h5m35 27h5m-31 -39h5m48 -7h5m7 12h5m-80 -10h5m-17 -24h5m-30 -20h5m30 42h5m86 1h5m-57 -2h5m-18 1h5m2 0h5m-60 -6h5m36 42h5m-75 -33h5m60 -66h5m-4 33h5m-47 0h5m-19 43h5m63 -7h5m-19 22h5m86 -53h5m-131 -5h5m9 -8h5m29 29h5m-52 -130h5m-4 146h5m24 -45h5m-16 82h5m-48 18h5m34 -71h5m16 4h5m-10 2h5m69 -16h5m-112 17h5m6 -5h5m22 23h5m8 -20h5m-58 -24h5m25 52h5m36 -2h5m-44 12h5m-24 -6h5m-16 -15h5m109 -23h5m-98 11h5m87 35h5m-104 -64h5m22 37h5m-11 -17h5m20 85h5m-45 -79h5m28 -35h5m-29 -7h5m9 49h5m-18 5h5m-28 59h5m38 -192h5m-34 135h5m4 8h5m-1 -7h5m0 57h5m-13 -123h5m-2 52h5m-13 -24h5m17 48h5m-37 -62h5m64 4h5m-62 29h5m-3 42h5m50 -53h5m-74 -17h5m-4 64h5m1 -31h5m-11 9h5m-8 -5h5m5 84h5m20 -146h5m-39 80h5m18 5h5m-10 -23h5m-22 18h5m48 -32h5m-46 11h5m-40 -37h5m44 45h5m-4 -44h5m-10 34h5m-15 -5h5m15 15h5m-12 14h5m-70 -28h5m45 -30h5m-14 38h5m3 20h5m4 -42h5m16 13h5m-93 21h5m50 -13h5m99 12h5m-102 4h5m-29 21h5m17 16h5m7 -111h5m-44 82h5m2 -22h5m-11 -30h5m7 3h5m3 -42h5m-9 73h5m39 28h5m-49 -92h5m11 71h5m-26 -16h5m65 3h5m-60 -14h5m11 -23h5m1 35h5m-47 -54h5m9 58h5m19 -19h5m-19 -2h5m-15 -6h5m-67 -11h5m50 64h5m17 1h5m-52 -38h5m52 33h5m-56 -4h5m-5 -84h5m20 64h5m5 -38h5m-13 22h5m-36 10h5m154 12h5m-137 30h5m132 -25h5m-92 -40h5m-49 -44h5m9 0h5m24 31h5m-105 33h5m70 3h5m-10 2h5m-26 -35h5m26 46h5m-87 -57h5m77 69h5m-21 -20h5m-7 -14h5m-28 46h5m35 -26h5m-18 9h5m-18 11h5m26 -34h5m-27 13h5m-47 3h5m-26 -10h5m78 7h5m25 -23h5m-27 11h5m1 2h5m-53 -17h5m21 32h5m-56 -41h5m38 32h5m25 2h5m-65 1h5m17 -11h5m3 105h5m-29 -149h5m6 65h5m34 -16h5m-25 -8h5m-13 32h5m19 -11h5m-58 -21h5m5 -53h5m-8 65h5m6 -13h5m8 -20h5m-17 1h5m-17 84h5m-12 -41h5m23 -18h5m-55 6h5m29 29h5m-12 -60h5m-8 33h5m81 -30h5m-155 39h5m92 4h5m-11 -55h5m6 51h5m-16 3h5m22 -32h5m-71 6h5m-29 49h5m40 -26h5m23 38h5m-26 -13h5m-32 -4h5m33 -77h5m-4 62h5m9 -19h5m-23 34h5m-8 -36h5m-3 9h5m-86 7h5m64 47h5m4 -113h5m-11 68h5m27 -45h5m-34 25h5m16 13h5m5 32h5m-39 -13h5m-12 0h5m13 -31h5m3 -6h5m-35 -2h5m-22 -23h5m23 120h5m-62 -90h5m78 21h5m-20 -60h5m6 169h5m1 -171h5m-15 35h5m-49 -19h5m-2 17h5m44 -69h5m12 16h5m-42 62h5m-48 138h5m62 -104h5m-31 76h5m1 -108h5m7 0h5m-33 37h5m12 -9h5m-7 -23h5m-9 65h5m5 -141h5m-4 74h5m-15 -26h5m-51 54h5m157 -56h5m-123 35h5m-11 -83h5m-80 30h5m51 46h5m8 90h5m3 -87h5m-18 -14h5m-20 -1h5m33 31h5m11 -42h5m-72 -22h5m33 18h5m42 24h5m3 14h5m-53 10h5m-21 -19h5m13 13h5m41 -24h5m-40 -15h5m37 3h5m-100 6h5m32 31h5m92 -59h5m-96 40h5m-17 0h5m13 -14h5m-93 51h5m67 -34h5m17 -12h5m-86 29h5m81 -43h5m-4 8h5m-22 9h5m-21 16h5m36 -15h5m-26 11h5m28 -27h5m-44 -23h5m16 44h5m-14 10h5m-9 -7h5m-18 -28h5m53 43h5m-88 -4h5m77 -46h5m-117 59h5m73 31h5m44 -12h5m-67 -31h5m-8 14h5m1 -32h5m10 51h5m-54 -50h5m-14 -15h5m55 31h5m45 57h5m-130 -64h5m-37 4h5m79 -1h5m10 -4h5m-18 33h5m-6 -80h5m-23 48h5m58 12h5m-43 -64h5m4 53h5m-50 -7h5m59 125h5m-55 -122h5m-90 11h5m91 -1h5m-4 -12h5m9 -28h5m-20 57h5m0 3h5m54 16h5m-63 -39h5m11 16h5m-23 -42h5m18 13h5m-37 15h5m23 -72h5m-10 61h5m-26 -4h5m10 -60h5m27 38h5m1 35h5m-33 -18h5m-30 11h5m-3 -44h5m-40 40h5m21 -42h5m13 61h5m13 -15h5m-13 -76h5m-4 101h5m-27 -78h5m-44 61h5m67 -32h5m-49 18h5m15 33h5m-130 -30h5m76 -36h5m31 34h5m86 54h5m-136 -87h5m88 53h5m-79 -14h5m56 33h5m13 -35h5m-60 -4h5m1 25h5m-68 -24h5m56 -9h5m29 11h5m38 -62h5m-111 54h5m38 22h5m-2 20h5m-72 -59h5m18 -4h5m52 79h5m-55 -58h5m11 -8h5m46 59h5m-60 9h5m2 -54h5m-3 -60h5m29 73h5m-8 -15h5m-38 -64h5m17 107h5m-27 -65h5m59 49h5m-100 -16h5m29 52h5m-14 -65h5m-6 26h5m-15 -27h5m62 -17h5m-81 20h5m58 81h5m-37 -138h5m-49 37h5m38 44h5m0 -14h5m-2 0h5m52 7h5m-84 -27h5m-20 -30h5m-14 35h5m29 12h5m-18 -19h5m-1 43h5m4 -14h5m-12 -37h5m-13 43h5m0 -23h5m-2 -42h5m-10 76h5m63 -16h5m-49 -61h5m-47 42h5m29 -71h5m1 67h5m-4 6h5m-15 10h5m-30 -22h5m73 -1h5m-50 22h5m-31 -5h5m5 19h5m-10 -36h5m21 17h5m37 27h5m-76 -82h5m0 64h5m6 4h5m-43 -69h5m20 68h5m53 44h5m-49 -62h5m-35 -21h5m125 27h5m-117 -11h5m0 76h5m-2 -56h5m-3 -19h5m-27 23h5m2 -14h5m23 -30h5m-33 -49h5m18 82h5m-51 10h5m40 -11h5m-11 -37h5m-25 47h5m-21 -38h5m88 -6h5m-80 49h5m16 -27h5m-11 -43h5m-19 65h5m-2 58h5m1 -41h5m30 -30h5m-80 16h5m22 -32h5m1 44h5m-16 -20h5m5 10h5m11 -15h5m4 12h5m2 19h5m-35 -17h5m42 3h5m-62 62h5m74 -89h5m-79 -44h5m1 1h5m-10 65h5m12 -27h5m28 26h5m-25 -25h5m-53 -10h5m2 40h5m30 -14h5m-17 -44h5m55 41h5m-70 -35h5m-2 25h5m14 18h5m-1 44h5m3 -27h5m-126 2h5m80 -31h5m15 6h5m-21 -7h5m26 -70h5m-25 52h5m41 21h5m-28 -12h5m5 18h5m-55 -22h5m5 -30h5m0 53h5m-1 -17h5m-25 12h5m58 -29h5m-31 36h5m-31 -29h5m9 -16h5m-102 73h5m81 -46h5m15 32h5m-18 -32h5m-19 -1h5m80 41h5m-74 -14h5m-10 -5h5m60 -35h5m-20 -4h5m-62 80h5m19 -39h5m3 -18h5m-81 -19h5m21 83h5m-7 -54h5m13 -5h5m17 -14h5m-12 8h5m-79 19h5m23 -12h5m21 -25h5m37 46h5m-12 -34h5m-17 7h5m-27 45h5m-21 28h5m-28 -92h5m50 -13h5m-54 73h5m46 -46h5m65 38h5m-107 34h5m26 -30h5m-8 -65h5m-55 15h5m56 21h5m30 8h5m-36 35h5m-48 -29h5m2 4h5m-29 -4h5m35 -2h5m4 -22h5m-48 7h5m83 5h5m-60 17h5m0 -19h5m-51 29h5m7 -56h5m83 24h5m-55 0h5m3 72h5m-20 -128h5m7 68h5m-41 -31h5m48 27h5m-91 -21h5m47 30h5m14 -23h5m42 12h5m-28 -26h5m-40 25h5m34 -2h5m-43 28h5m21 -5h5m-44 -19h5m-13 6h5m-51 -10h5m134 -9h5m-86 56h5m-1 -35h5m-9 17h5m61 -47h5m-90 -16h5m78 39h5m-65 -2h5m48 10h5m-49 -12h5m-14 -1h5m3 19h5m-12 38h5m-8 40h5m3 -100h5m-12 61h5m-5 -57h5m60 11h5m-72 11h5m-3 -3h5m16 3h5m-22 8h5m-8 -9h5m5 -45h5m-87 -25h5m60 45h5m47 4h5m-23 31h5m-29 -13h5m-19 1h5m-23 -12h5m22 1h5m17 -7h5m-50 -37h5m39 51h5m3 -28h5m-52 16h5m25 -22h5m1 17h5m9 22h5m-31 -33h5m22 28h5m-9 -64h5m-55 52h5m36 -14h5m-85 -4h5m75 35h5m-20 -15h5m-12 -18h5m-35 -2h5m40 15h5m-10 28h5m-7 -21h5m7 -3h5m-38 13h5m61 -25h5m-23 -26h5m-42 39h5m-26 -29h5m20 -37h5m-1 33h5m4 28h5m-15 -28h5m2 3h5m-33 -40h5m64 56h5m-52 3h5m-56 -5h5m66 -4h5m-29 6h5m-32 -3h5m19 70h5m-31 -75h5m28 -2h5m-1 42h5m-11 -25h5m0 5h5m-17 -23h5m5 29h5m-63 44h5m109 -77h5m-80 0h5m25 15h5m-16 30h5m-16 -33h5m-7 -26h5m13 39h5m-141 -27h5m96 -3h5m35 53h5m-43 46h5m62 -82h5m-36 -5h5m-5 20h5m-16 -82h5m-33 78h5m16 8h5m-7 -73h5m-24 80h5m17 -42h5m74 24h5m-19 -12h5m-161 24h5m70 -46h5m-95 54h5m108 -4h5m19 0h5m-17 -5h5m-33 -14h5m-23 174h5m76 -177h5m-88 -2h5m26 -8h5m105 22h5m-132 -4h5m23 -4h5m47 -11h5m-65 9h5m-14 14h5m13 -10h5m-12 -6h5m-5 -3h5m26 56h5m-69 -26h5m28 -11h5m-4 -65h5m-39 -9h5m21 54h5m1 -59h5m-9 69h5m-53 -9h5m53 -18h5m-3 9h5m-9 15h5m-15 0h5m5 -29h5m-11 42h5m-5 -9h5m-20 -1h5m8 7h5m3 -71h5m-66 36h5m11 -30h5m29 69h5m0 -3h5m1 -7h5m-41 14h5m53 -5h5m-50 -33h5m5 -21h5m19 -25h5m-16 53h5m-1 36h5m10 -53h5m-36 17h5m-20 36h5m50 -76h5m-84 50h5m25 20h5m5 4h5m48 144h5m-60 -143h5m67 25h5m-101 -92h5m52 75h5m-32 -41h5m63 3h5m-22 23h5m-61 -14h5m109 1h5m-116 35h5m36 -124h5m-21 57h5m3 29h5m-46 -3h5m13 -24h5m-12 -3h5m15 140h5m-25 -92h5m-36 -106h5m25 133h5m79 -56h5m-99 22h5m10 -29h5m78 -46h5m-102 103h5m19 -33h5m-33 -2h5m-41 12h5m60 -11h5m-21 -39h5m-7 18h5m36 3h5m-25 28h5m-30 28h5m-31 -30h5m31 -2h5m-1 -29h5m8 84h5m-84 -137h5m85 103h5m29 -65h5m-62 42h5m-1 -65h5m-22 19h5m-11 93h5m22 -45h5m35 -15h5m-46 29h5m-17 65h5m-6 -84h5m-8 27h5m14 -17h5m-46 28h5m39 -84h5m46 33h5m-44 23h5m-59 -28h5m13 28h5m-6 -11h5m-11 -43h5m20 55h5m-15 -26h5m-81 21h5m95 -6h5m-26 -35h5m-6 86h5m-38 -49h5m5 -19h5m-4 38h5m65 15h5m-56 -6h5m-15 -42h5m-42 -9h5m48 19h5m-15 26h5m85 -25h5m-120 -27h5m44 9h5m-86 13h5m56 -5h5m4 11h5m-51 20h5m10 -20h5m74 51h5m-79 -43h5m7 -60h5m12 66h5m-13 4h5m6 -31h5m-32 54h5m18 -55h5m5 16h5m-14 -14h5m-3 17h5m-30 -56h5m61 27h5m-57 46h5m63 -34h5m-62 -5h5m-12 45h5m-17 -94h5m0 40h5m23 25h5m-65 9h5m80 39h5m-40 -68h5m-48 53h5m64 -42h5m-100 23h5m23 -31h5m-30 26h5m55 0h5m-15 -38h5m-17 19h5m-26 -2h5m27 9h5m-70 -1h5m48 0h5m37 11h5m-35 8h5m-9 6h5m82 -56h5m-124 83h5m31 -20h5m32 -45h5m-36 71h5m-8 -40h5m-20 -156h5m2 149h5m4 -11h5m-40 29h5m40 3h5m-12 -6h5m-50 -42h5m33 -91h5m-52 131h5m36 -75h5m87 63h5m-56 21h5m-66 -35h5m23 33h5m11 -64h5m-17 -3h5m-18 53h5m25 19h5m-29 -71h5m-18 -10h5m-2 -10h5m49 72h5m-30 70h5m-54 -85h5m-93 39h5m105 -38h5m-7 3h5m37 -31h5m-23 29h5m-28 1h5m-15 -9h5m10 22h5m17 -11h5m-4 27h5m-5 23h5m109 -51h5m-114 13h5m-43 -29h5m32 30h5m30 -18h5m-125 37h5m8 -42h5m44 -6h5m0 -33h5m-17 35h5m11 -18h5m-48 28h5m21 43h5m12 -37h5m-28 -50h5m12 89h5m-58 -57h5m46 -11h5m-22 -10h5m25 36h5m-9 -15h5m20 7h5m-22 27h5m-20 -8h5m22 15h5m65 -2h5m-136 -78h5m27 -20h5m-29 66h5m-7 -6h5m-5 43h5m-21 -12h5m16 -15h5m16 -26h5m-2 6h5m3 -60h5m-6 48h5m-57 30h5m31 11h5m4 -64h5m-14 74h5m-3 -43h5m51 69h5m-58 -47h5m2 -1h5"/>
<rect x="483.20" y="235.10" width="176.70" height="172.80" fill="none" stroke="#000" stroke-width="1.5"/>
<path stroke="#000" stroke-width="1" d="M571.55 407.90v-1.90M571.55 235.10v1.90M483.20 321.50h1.90M659.90 321.50h-1.90"/>
<text x="571.15" y="228.70" font-size="9.60" text-anchor="middle" letter-spacing="0.25" stroke="#000" stroke-width="0.12">3rd stage</text>
<text x="480.50" y="237.80" font-size="8.80" text-anchor="end" stroke="#000" stroke-width="0.1">1</text>
<text x="480.50" y="324.20" font-size="8.80" text-anchor="end" stroke="#000" stroke-width="0.1">0</text>
<text x="480.50" y="410.60" font-size="8.80" text-anchor="end" stroke="#000" stroke-width="0.1">−1</text>
<text x="480.20" y="416.50" font-size="8.80" text-anchor="middle" stroke="#000" stroke-width="0.1">−1</text>
<text x="571.55" y="416.50" font-size="8.80" text-anchor="middle" stroke="#000" stroke-width="0.1">0</text>
<text x="659.90" y="416.50" font-size="8.80" text-anchor="middle" stroke="#000" stroke-width="0.1">1</text>
<text x="571.15" y="426.10" font-size="9" text-anchor="middle">δ<tspan font-size="7" dy="4.3">w</tspan></text>
<text transform="translate(463.30 321.40) rotate(-90)" font-size="9" text-anchor="middle">δ<tspan font-size="7" dy="4.2" dx="0.4">h</tspan></text>
<rect x="485.40" y="351.40" width="60.60" height="54.30" fill="#fff" stroke="#383838" stroke-width="1.5"/>
<path fill="none" stroke="#8a8a8a" stroke-width="1" d="M486.60 352.40V404.50H545.00"/>
<text x="487.60" y="361.40" font-size="9.6" style="white-space:pre">μ<tspan font-size="8" dy="5">w</tspan><tspan dy="-5" stroke="#000" stroke-width="0.45"> = </tspan><tspan stroke="#000" stroke-width="0.1">−0.0017</tspan></text>
<text x="487.60" y="373.80" font-size="9.6" style="white-space:pre">μ<tspan font-size="8" dy="5">h</tspan><tspan dy="-5" stroke="#000" stroke-width="0.45"> = </tspan><tspan stroke="#000" stroke-width="0.1">0.0004</tspan></text>
<text x="487.60" y="386.20" font-size="9.6" style="white-space:pre">σ<tspan font-size="8" dy="5">w</tspan><tspan dy="-5" stroke="#000" stroke-width="0.45"> = </tspan><tspan stroke="#000" stroke-width="0.1">0.0798</tspan></text>
<text x="487.60" y="398.60" font-size="9.6" style="white-space:pre">σ<tspan font-size="8" dy="5">h</tspan><tspan dy="-5" stroke="#000" stroke-width="0.45"> = </tspan><tspan stroke="#000" stroke-width="0.1">0.0773</tspan></text>
</svg>
<div class="cap" style="top:438.7px">Figure 2. Sequential <svg width="18" height="17" viewBox="0 0 18 17" preserveAspectRatio="none" style="vertical-align:-0.3px;margin:0 2px 0 0"><path fill-rule="evenodd" d="M0 17L9 0L18 17ZM2.19 15L14.34 15L8.27 3.53Z"/></svg> distribution (without normalization) at dif-</div>
<div class="cap" style="top:468.1px">ferent cascade stage. Red dots are outliers when using increasing</div>
<div class="cap" style="top:497.7px">IoU thresholds, and the statistics are obtained after outlier removal.</div>
</body></html>
